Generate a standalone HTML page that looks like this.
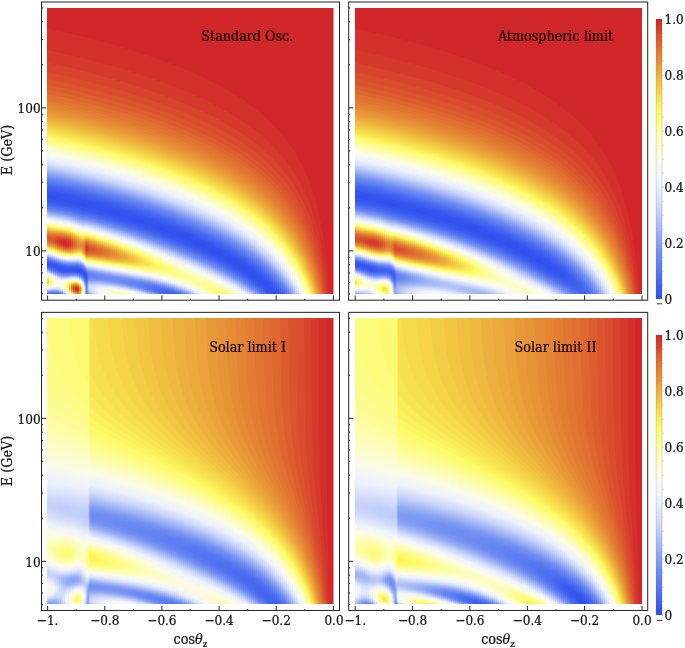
<!DOCTYPE html><html><head><meta charset="utf-8"><title>Oscillograms</title><style>
html,body{margin:0;padding:0;background:#fff}
body{width:685px;height:648px;position:relative;overflow:hidden;font-family:"DejaVu Serif Condensed","Liberation Serif",serif;color:#111}
.p{position:absolute;width:286px;height:286px;display:flex;overflow:hidden}
.p i{display:block;flex:0 0 2px;height:286px}
.p i.n{flex-basis:1px}
svg{position:absolute;left:0;top:0}
svg.b{stroke:none}
.t{position:absolute;white-space:nowrap;line-height:1;-webkit-text-stroke:.22px currentColor}
.tl{font-size:13.4px}
.ti{font-size:14.2px;color:#140404}
sub{font-size:9.5px;vertical-align:-3px;line-height:0}
.cb{position:absolute;width:6px;height:280px;left:656px}
</style></head><body><div class="p" style="left:47px;top:8px;width:287px"><i style="background:linear-gradient(#d1272a,#d4332b 40px,#d8482d 64.5px,#de652f 82.5px,#e58735 98.5px,#edb03d 111.5px,#f5d64a 120.5px,#fdfb67 129.5px,#fdfdbb 139px,#fafbea 145px,#ecf0fd 151.5px,#ccd7f9 157.5px,#6e8bf2 169.5px,#4769f0 177px,#3455ee 183.5px,#3151ee 189px,#3b5cef 194px,#5273f0 198.5px,#7592f2 202.5px,#c1cff8 207.5px,#d8e0fb 209px,#eff3fd 211px,#f9fbeb 213px,#fbfce4 213.5px,#fefdb3 215.5px,#fdfb66 218px,#f4d146 220.5px,#e99938 223.5px,#e17632 226px,#dc5c2e 229px,#db592e 231px,#de662f 233px,#e37e33 235px,#eba23a 237px,#f4d347 239px,#fcf562 240.5px,#fdfb72 241px,#fdfdb6 242.5px,#fcfcdc 243.5px,#fafbeb 244px,#f1f4f9 245px,#eaeffd 245.5px,#c9d5f9 247px,#718ef2 250px,#4d6ff0 252px,#3858ef 254px,#3050ee 256px,#3455ee 257.5px,#4162ef 259px,#5778f0 260.5px,#7995f3 262px,#cfd9fa 264.5px,#e7edfd 265.5px,#f1f4fa 266px,#fafbe9 267px,#fefdaa 268.5px,#fdfc7a 269.5px,#fdfb66 270px,#f7df50 271.5px,#f4d146 273px,#f4d247 274px,#f7e152 275.5px,#fcf461 276.5px,#fdfb6f 277px,#fcfcd4 279px,#fafbea 279.5px,#eef2fd 280.5px,#d2dcfa 281.5px,#829cf3 283.5px,#718ff2 284px,#5374f0 285.5px,#4d6ff0)"></i><i style="background:linear-gradient(#d1272a,#d4342b 40.5px,#d8482d 65px,#de652f 83px,#e58735 99px,#edb03e 112px,#f5d64a 121px,#fdfb68 130px,#fdfdbc 139.5px,#fbfce8 145px,#eef2fd 151.5px,#cbd7f9 158px,#708ef2 169.5px,#496bf0 177px,#3555ee 183.5px,#3051ee 189px,#395aef 194px,#4f71f0 198.5px,#708ef2 202.5px,#a2b6f5 206px,#d2dcfa 209px,#eff3fd 211.5px,#f9fbeb 213.5px,#fbfce3 214px,#fefdb2 216px,#fdfa65 218.5px,#f4d046 221px,#e99837 224px,#e17532 226.5px,#dc5b2e 229.5px,#db582e 231.5px,#dd602f 233px,#e37d33 235.5px,#eaa139 237.5px,#f4d146 239.5px,#fcf460 241px,#fdfb6f 241.5px,#fefdb4 243px,#fafbea 244.5px,#ecf0fd 246px,#cbd7f9 247.5px,#7390f2 250.5px,#4f71f0 252.5px,#395aef 254.5px,#3051ee 256.5px,#3454ee 258px,#4567ef 260px,#5d7df1 261.5px,#728ff2 262.5px,#d3dcfa 265.5px,#e9eefd 266.5px,#f1f4f9 267px,#fafbea 268px,#fdfc7f 271px,#fdfa65 272px,#fbf05d 273.5px,#fcf662 275px,#fdfb66 275.5px,#fdfc83 276.5px,#fbfce9 279px,#f0f4fa 280px,#d9e1fb 281px,#b5c5f7 282px,#7a96f3 283.5px,#6080f1 284.5px,#4e70f0 285.5px,#486af0)"></i><i style="background:linear-gradient(#d1272a,#d4332b 40.5px,#d8472d 65px,#dd642f 83px,#e58735 99.5px,#eeb13e 112.5px,#f5d64a 121.5px,#fdfb68 130.5px,#fdfdbc 140px,#fbfce9 145.5px,#eef2fd 152px,#cbd6f9 158.5px,#708df2 170px,#496af0 177.5px,#3555ee 184px,#3051ee 189.5px,#395aef 194.5px,#4f71f0 199px,#718ef2 203px,#a3b7f6 206.5px,#d9e1fb 210px,#eff3fc 212px,#fafbeb 214px,#fcfcd6 215px,#fefdb1 216.5px,#fdfb72 218.5px,#fdf964 219px,#f3ce45 221.5px,#e89637 224.5px,#e07231 227px,#dc5a2e 229.5px,#da532e 231.5px,#dc5c2e 233.5px,#e27932 236px,#ea9d38 238px,#f3cd45 240px,#fbf05e 241.5px,#fdfb68 242px,#fefdad 243.5px,#fbfce7 245px,#eff3fd 246.5px,#d0dafa 248px,#7794f3 251px,#5273f0 253px,#3a5bef 255px,#3151ee 257px,#3556ee 259px,#486af0 261px,#6b89f2 263px,#859ff3 264px,#d3ddfa 266.5px,#f0f4fb 268px,#fbfce5 269.5px,#fdfdba 271px,#fefc96 272.5px,#fdfc8a 273.5px,#fdfc8a 274.5px,#fefc95 275.5px,#fdfdba 277px,#fafbe9 278.5px,#f2f5f8 279.5px,#eaeffd 280px,#d2dcfa 281px,#7390f2 283.5px,#5172f0 285px,#4364ef)"></i><i style="background:linear-gradient(#d1272a,#d4332b 41px,#d8482d 65.5px,#dd642f 83.5px,#e58735 100px,#eeb13e 113px,#f5d64a 122px,#fdfb69 131px,#fdfdbc 140.5px,#fbfce9 146px,#edf2fd 152.5px,#ced9fa 158.5px,#708df2 170.5px,#496af0 178px,#3455ee 184.5px,#3050ee 190px,#3a5aef 195px,#4f71f0 199.5px,#718ef2 203.5px,#a4b8f6 207px,#d4ddfa 210px,#f0f3fc 212.5px,#fafbea 214.5px,#fefdae 217px,#fdfb6e 219px,#fcf763 219.5px,#f3cb44 222px,#e79237 225px,#e06e31 227.5px,#da542e 230px,#d94d2d 232px,#db552e 234px,#e17331 236.5px,#e89637 238.5px,#f5d348 241px,#fcf763 242.5px,#fdfc75 243px,#fdfdb9 244.5px,#fbfcdf 245.5px,#f9faec 246px,#f0f4fb 247px,#dee5fb 248px,#c6d3f9 249px,#7d98f3 251.5px,#5d7df1 253px,#4768ef 254.5px,#3555ee 256.5px,#3051ee 258.5px,#3a5bef 260.5px,#5273f0 262.5px,#7995f3 264.5px,#d2dcfa 267.5px,#eef2fd 269px,#fbfce6 271px,#fdfdc6 272.5px,#fdfdbb 273.5px,#fdfdb7 274.5px,#fdfdbc 275.5px,#fcfdca 276.5px,#fafbeb 278px,#eef2fd 279.5px,#d8e1fb 280.5px,#cad6f9 281px,#708ef2 283.5px,#4e70f0 285px,#3f60ef)"></i><i style="background:linear-gradient(#d1272a,#d4332b 41px,#d8482d 66px,#dd642f 84px,#e58735 100.5px,#eeb13e 113.5px,#f5d549 122px,#fdfb69 131.5px,#fdfdbd 141px,#fbfce9 146.5px,#edf1fd 153px,#ced9fa 159px,#6f8df2 171px,#486af0 178.5px,#3455ee 185px,#3050ee 190.5px,#3a5bef 195.5px,#5071f0 200px,#728ff2 204px,#adbff6 208px,#d5defa 210.5px,#ecf1fd 212.5px,#fbfce9 215px,#fefda9 217.5px,#fdfb69 219.5px,#f4d146 222px,#e68d36 225.5px,#dd622f 228.5px,#d94c2d 230.5px,#d7452d 232.5px,#d94c2d 234.5px,#dc5c2e 236px,#e48434 238.5px,#eeb13e 240.5px,#f3cc45 241.5px,#fbf05e 243px,#fdfb69 243.5px,#fefdb0 245px,#fbfce9 246.5px,#edf1fd 248px,#ccd7f9 249.5px,#7491f2 252.5px,#5071f0 254.5px,#395aef 256.5px,#3050ee 258.5px,#3455ee 260.5px,#4667ef 262.5px,#6685f1 264.5px,#7c97f3 265.5px,#d1dbfa 268.5px,#eaeffd 270px,#f6f8f1 271.5px,#fbfce3 273px,#fcfcd5 274.5px,#fcfcd6 275.5px,#fbfce0 276.5px,#f9faec 277.5px,#f0f4fb 279px,#e0e7fc 280px,#c8d4f9 281px,#728ff2 283.5px,#4f70f0 285px,#3f60ef)"></i><i style="background:linear-gradient(#d1272a,#d4332b 41px,#d8472d 66px,#dd632f 84px,#e58735 101px,#eeb13e 114px,#f5d549 122.5px,#fdfb66 131.5px,#fdfdbd 141.5px,#fbfce9 147px,#edf1fd 153.5px,#cdd8f9 159.5px,#6f8cf2 171.5px,#486af0 179px,#3455ee 185.5px,#3050ee 191px,#3a5bef 196px,#5072f0 200.5px,#7390f2 204.5px,#b7c6f7 209px,#d6dffa 211px,#eef2fd 213px,#fbfce6 215.5px,#fefdb3 217.5px,#fdf965 220px,#f3cc45 222.5px,#e58735 226px,#d94d2d 230px,#d63d2c 232px,#d63d2c 234px,#d8462d 235.5px,#db592e 237px,#e58634 239.5px,#eeb53f 241.5px,#f4d146 242.5px,#fcf662 244px,#fdfc75 244.5px,#fdfdba 246px,#fbfce1 247px,#f8faed 247.5px,#eff3fc 248.5px,#d2dcfa 250px,#7995f3 253px,#5274f0 255px,#3a5bef 257px,#2f50ee 259px,#3252ee 261px,#4263ef 263px,#5778f0 264.5px,#7390f2 266px,#d1dbfa 269.5px,#eff3fc 271.5px,#f9fbeb 274px,#fbfce9 276px,#f5f8f2 278px,#f0f4fb 279px,#d9e1fb 280.5px,#ced9fa 281px,#6d8bf2 284px,#4b6df0 285.5px,#4364ef)"></i><i style="background:linear-gradient(#d1272a,#d4332b 41.5px,#d8472d 66.5px,#dd632f 84.5px,#e58735 101.5px,#eeb13e 114.5px,#f5d549 123px,#fdfb66 132px,#fdfdbe 142px,#fafbe9 147.5px,#ecf1fd 154px,#cdd8f9 160px,#6e8cf2 172px,#4869f0 179.5px,#3455ee 186px,#3050ee 191.5px,#3a5bef 196.5px,#5173f0 201px,#7491f2 205px,#b9c8f8 209.5px,#d8e0fb 211.5px,#eff3fd 213.5px,#fafbeb 215.5px,#fcfcd5 216.5px,#fefdaf 218px,#fdfb6d 220px,#faec5b 221px,#f4d146 222.5px,#e68a35 226px,#d84a2d 230px,#d4372b 232px,#d3322b 234px,#d5382c 235.5px,#d8482d 237px,#e17431 239.5px,#eaa039 241.5px,#f3ca44 243px,#f8e454 244px,#fdfb6a 245px,#fefdb3 246.5px,#fcfcda 247.5px,#fafbeb 248px,#f1f4f9 249px,#eaeffd 249.5px,#d5defa 250.5px,#708df2 254px,#4c6ef0 256px,#3757ef 258px,#2e4eee 260px,#3354ee 262px,#4567ef 264px,#6584f1 266px,#88a1f4 267.5px,#cbd7f9 270px,#e5ebfc 271.5px,#f0f4fb 272.5px,#f9fbec 275px,#f9fbeb 277px,#f2f6f7 279px,#eaeffd 280px,#cfdafa 281.5px,#708df2 284.5px,#4e70f0)"></i><i style="background:linear-gradient(#d1272a,#d4332b 41.5px,#d8472d 66.5px,#dd622f 84.5px,#e58635 101.5px,#edb03d 114.5px,#f5d549 123.5px,#fdfb66 132.5px,#fdfdbe 142.5px,#fafbea 148px,#ecf1fd 154.5px,#ccd7f9 160.5px,#6e8cf2 172.5px,#4769f0 180px,#3454ee 186.5px,#3051ee 192px,#3b5cef 197px,#5273f0 201.5px,#7592f2 205.5px,#c3d0f9 210.5px,#d9e1fb 212px,#f0f4fb 214px,#fbfce9 216px,#fefda9 218.5px,#fdfb66 220.5px,#f3cc45 223px,#e48434 226.5px,#d7422c 230.5px,#d32e2b 232.5px,#d2292a 234.5px,#d3302b 236px,#d6402c 237.5px,#db592e 239px,#e68e36 241.5px,#f4d347 244px,#fdfa65 245.5px,#fefdad 247px,#fbfce9 248.5px,#ecf0fd 250px,#cad5f9 251.5px,#718ef2 254.5px,#4d6ff0 256.5px,#3758ef 258.5px,#2e4eee 260.5px,#3353ee 262.5px,#4567ef 264.5px,#6584f1 266.5px,#7b96f3 267.5px,#ced8fa 270.5px,#eff3fd 272.5px,#fafbea 275px,#fbfce2 276.5px,#fbfce8 278px,#f0f4fb 280.5px,#e2e9fc 281.5px,#cfd9fa 282.5px,#6f8cf2 285.5px,#6382f1)"></i><i style="background:linear-gradient(#d1262a,#d4332b 42px,#d8472d 67px,#dd632f 85px,#e58635 102px,#edb03d 115px,#f5d549 124px,#fdfb67 133px,#fdfdbb 142.5px,#fafbea 148.5px,#ecf0fd 155px,#ccd7f9 161px,#6d8bf2 173px,#4769ef 180.5px,#3454ee 187px,#3051ee 192.5px,#3b5cef 197.5px,#5274f0 202px,#7793f3 206px,#c5d2f9 211px,#e0e7fc 213px,#edf1fd 214px,#fbfce7 216.5px,#fefdb4 218.5px,#fdfb72 220.5px,#fdf864 221px,#f4d348 223px,#e58935 226.5px,#d7432c 230.5px,#d22c2b 232.5px,#d1242a 234.5px,#d1272a 236px,#d4342b 237.5px,#d84b2d 239px,#e68b35 242px,#f1c242 244px,#f4d146 244.5px,#fdf864 246px,#fefc93 247px,#fefdac 247.5px,#fbfce9 249px,#ecf0fd 250.5px,#cad5f9 252px,#7d99f3 254.5px,#6685f1 255.5px,#4667ef 257.5px,#3354ee 259.5px,#2e4fee 261.5px,#3858ef 263.5px,#4e70f0 265.5px,#7491f2 267.5px,#cbd6f9 270.5px,#e8eefd 272px,#eff3fc 272.5px,#fbfce7 274.5px,#fcfcce 276px,#fdfdc6 277.5px,#fcfcca 278.5px,#fcfcd7 279.5px,#fafbea 280.5px,#f1f4fa 282px,#eaeffd 282.5px,#d6dffa 283.5px,#b9c8f8 284.5px,#859ff3)"></i><i style="background:linear-gradient(#d1262a,#d4322b 42px,#d8462d 67px,#dd622f 85px,#e58735 102.5px,#edb03e 115.5px,#f5d64a 124.5px,#fdfb67 133.5px,#fdfdbb 143px,#fbfce8 148.5px,#eef2fd 155px,#cbd7f9 161.5px,#708ef2 173px,#496af0 180.5px,#3555ee 187px,#3050ee 192.5px,#3a5aef 197.5px,#4f71f0 202px,#728ff2 206px,#aebff7 210px,#d6dffa 212.5px,#eef2fd 214.5px,#f9faec 216.5px,#fbfce5 217px,#fefdb1 219px,#fdfb6e 221px,#fcf662 221.5px,#f4d146 223.5px,#e58735 227px,#d7412c 231px,#d22b2b 233px,#d1232a 235px,#d1272a 236.5px,#d4352b 238px,#d94c2d 239.5px,#e68d36 242.5px,#f5d448 245px,#fdfb66 246.5px,#fefdb1 248px,#fafbea 249.5px,#f1f4fa 250.5px,#e9eefd 251px,#d4defa 252px,#7a96f3 255px,#5b7bf1 256.5px,#4466ef 258px,#3354ee 260px,#3050ee 262px,#3b5cef 264px,#5677f0 266px,#7390f2 267.5px,#cfdafa 270.5px,#eef2fd 272px,#fafbea 273.5px,#fdfdb7 275.5px,#fefd9b 277px,#fefc93 278px,#fefc97 279px,#fefda6 280px,#fdfdc9 281.5px,#fbfce8 282.5px,#eef2fd 284px,#d8e0fb 285px,#b8c7f7)"></i><i style="background:linear-gradient(#d1262a,#d4322b 42px,#d8462d 67.5px,#dd622f 85.5px,#e58735 103px,#edb03e 116px,#f5d64a 125px,#fdfb68 134px,#fdfdbc 143.5px,#fbfce9 149px,#eef2fd 155.5px,#cbd6f9 162px,#708df2 173.5px,#496af0 181px,#3455ee 187.5px,#3050ee 193px,#3a5bef 198px,#5072f0 202.5px,#7290f2 206.5px,#aec0f7 210.5px,#d6dffa 213px,#eef3fd 215px,#f9fbeb 217px,#fbfce4 217.5px,#fefdb1 219.5px,#fdfb6e 221.5px,#fcf662 222px,#f4d146 224px,#e58835 227.5px,#d7442d 231.5px,#d32f2b 233.5px,#d2282a 235.5px,#d32d2b 237px,#d53c2c 238.5px,#da542e 240px,#e58935 242.5px,#f0be41 244.5px,#f3cd45 245px,#fcf561 246.5px,#fdfb73 247px,#fdfdbb 248.5px,#fbfce4 249.5px,#f3f6f6 250.5px,#eff3fd 251px,#ced9fa 252.5px,#7390f2 255.5px,#4e70f0 257.5px,#395aef 259.5px,#3151ee 261.5px,#3555ee 263px,#4769f0 265px,#6080f1 266.5px,#7693f2 267.5px,#d6dffa 270.5px,#ecf1fd 271.5px,#fbfce7 273px,#fdfc78 276px,#fdfb69 276.5px,#fbf15e 277.5px,#faeb5a 279px,#fcf461 280.5px,#fdfb66 281px,#fdfc84 282px,#fafbe9 284.5px,#f0f4fa 285.5px,#e6ecfc)"></i><i style="background:linear-gradient(#d1262a,#d4322b 42.5px,#d8462d 68px,#dd622f 86px,#e58735 103.5px,#eeb13e 116.5px,#f5d64a 125.5px,#fdfb68 134.5px,#fdfdbc 144px,#fbfce9 149.5px,#edf2fd 156px,#cbd6f9 162.5px,#708df2 174px,#496af0 181.5px,#3555ee 188px,#3051ee 193.5px,#3a5bef 198.5px,#5072f0 203px,#7390f2 207px,#b6c6f7 211.5px,#d6dffa 213.5px,#eef2fd 215.5px,#f9faec 217.5px,#fbfce5 218px,#fefdb2 220px,#fdfb71 222px,#fdf864 222.5px,#f5d448 224.5px,#e68c36 228px,#d94c2d 232px,#d5392c 234px,#d4342b 236px,#d53a2c 237.5px,#d84a2d 239px,#e17632 241.5px,#eba33a 243.5px,#f3cd45 245px,#fbf360 246.5px,#fdfb70 247px,#fdfdb8 248.5px,#fbfcdf 249.5px,#f9faed 250px,#f0f3fc 251px,#d2dbfa 252.5px,#7793f3 255.5px,#5173f0 257.5px,#3a5bef 259.5px,#3253ee 261.5px,#3657ef 263px,#4364ef 264.5px,#597af1 266px,#6e8cf2 267px,#8ca4f4 268px,#d2dcfa 270px,#eaeffd 271px,#f7f9ef 272px,#fbfce4 272.5px,#fdfdb7 273.5px,#fdfb6b 275px,#f8e555 276px,#f4d146 277px,#f1c042 278px,#efb73f 279px,#efb73f 280px,#f1c142 281px,#f4d348 282px,#fcf662 283.5px,#fdfc76 284px,#fefdb0 285px,#fbfce1)"></i><i style="background:linear-gradient(#d1262a,#d4322b 42.5px,#d7462d 68px,#dd622f 86.5px,#e58735 104px,#eeb13e 117px,#f5d64a 126px,#fdfb68 135px,#fdfdbc 144.5px,#fbfce9 150px,#edf2fd 156.5px,#ced9fa 162.5px,#708df2 174.5px,#496af0 182px,#3555ee 188.5px,#3051ee 194px,#3a5bef 199px,#5072f0 203.5px,#728ff2 207.5px,#adbff6 211.5px,#d5defa 214px,#edf1fd 216px,#fbfce8 218.5px,#fefda8 221px,#fdfb67 223px,#f4d046 225.5px,#e68c36 229px,#dd612f 232px,#d94c2d 234px,#d7452d 236px,#d84a2d 237.5px,#db582e 239px,#e37f33 241.5px,#ecaa3c 243.5px,#f4d247 245px,#fcf662 246.5px,#fdfc74 247px,#fdfdba 248.5px,#fbfce1 249.5px,#f8faed 250px,#f0f3fc 251px,#d2dcfa 252.5px,#7894f3 255.5px,#5173f0 257.5px,#3b5cef 259.5px,#3253ee 261.5px,#3657ef 263px,#4465ef 264.5px,#5b7bf1 266px,#718ef2 267px,#b5c5f7 269px,#d8e0fb 270px,#f0f4fb 271px,#fbfce8 272px,#fdfdb6 273px,#fdfc79 274px,#fcf561 274.5px,#f5d549 275.5px,#eba63b 277px,#e78f36 278px,#e38034 279px,#e27b33 280px,#e38033 281px,#e68e36 282px,#eca63b 283px,#f2c744 284px,#f6d94c 284.5px,#fdfb66 285.5px,#fdfc87)"></i><i style="background:linear-gradient(#d1262a,#d4322b 43px,#d7462d 68.5px,#dd622f 87px,#e58735 104.5px,#eeb13e 117.5px,#f5d64a 126.5px,#fdfb68 135.5px,#fdfdbc 145px,#fbfce9 150.5px,#edf2fd 157px,#cbd6f9 163.5px,#708df2 175px,#496af0 182.5px,#3555ee 189px,#3051ee 194.5px,#3a5bef 199.5px,#4f71f0 204px,#718ff2 208px,#abbdf6 212px,#d3ddfa 214.5px,#eff3fc 217px,#fafbea 219px,#fcfcd5 220px,#fefdb1 221.5px,#fdf965 224px,#f4cf46 226.5px,#e99838 229.5px,#e17632 232px,#dd612f 234.5px,#dc5c2e 236.5px,#de672f 238.5px,#e37c33 240.5px,#ea9f39 242.5px,#f3ce45 244.5px,#fdfb69 246.5px,#fefdad 248px,#fbfce6 249.5px,#eff3fd 251px,#d0dafa 252.5px,#7693f2 255.5px,#5172f0 257.5px,#3a5bef 259.5px,#3252ee 261.5px,#3656ee 263px,#4364ef 264.5px,#5b7bf1 266px,#718ff2 267px,#b8c7f7 269px,#cbd7f9 269.5px,#e8edfd 270.5px,#f2f5f8 271px,#f7f9ee 271.5px,#fcfcde 272px,#fefda5 273px,#fdf864 274px,#f5d448 275px,#e99838 276.5px,#df6b30 278px,#da532e 279px,#d8462d 280px,#d8462d 281px,#da532e 282px,#e27932 283.5px,#e99b38 284.5px,#f2c443 285.5px,#f6d94c)"></i><i style="background:linear-gradient(#d1262a,#d3322b 43px,#d7452d 68.5px,#dd612f 87px,#e58735 105px,#eeb13e 118px,#f5d64a 127px,#fdfb68 136px,#fdfdbc 145.5px,#fbfce9 151px,#eef2fd 157.5px,#cbd6f9 164px,#708ef2 175.5px,#496bf0 183px,#3556ee 189.5px,#3051ee 195px,#395aef 200px,#4f71f0 204.5px,#708df2 208.5px,#99aff5 211.5px,#d6dffa 215.5px,#eef2fd 217.5px,#fbfce9 220px,#fefdad 222.5px,#fdfb70 224.5px,#fdf964 225px,#f4d146 227.5px,#ea9f39 230.5px,#e48234 233px,#e17331 235.5px,#e17431 237.5px,#e48134 239.5px,#e99b38 241.5px,#f1c142 243.5px,#f5d84b 244.5px,#fcf863 246px,#fdfc75 246.5px,#fefdb5 248px,#fafbea 249.5px,#ecf1fd 251px,#cdd8f9 252.5px,#7592f2 255.5px,#5072f0 257.5px,#395aef 259.5px,#3050ee 261.5px,#3354ee 263px,#4061ef 264.5px,#5778f0 266px,#6d8bf2 267px,#8da5f4 268px,#d7e0fb 270px,#f0f4fa 271px,#f6f9f0 271.5px,#fbfce1 272px,#fefda8 273px,#fdf864 274px,#f4d247 275px,#e79136 276.5px,#d94c2d 278.5px,#d4342b 279.5px,#d2282a 280.5px,#d2282a 281.5px,#d4362b 282.5px,#d9502d 283.5px,#e99837 285.5px,#edad3d)"></i><i style="background:linear-gradient(#d1262a,#d3322b 43.5px,#d7452d 69px,#dd612f 87.5px,#e58735 105.5px,#eeb13e 118.5px,#f5d64a 127.5px,#fdfb68 136.5px,#fdfdbc 146px,#fbfce8 151.5px,#eef2fd 158px,#cbd7f9 164.5px,#6e8bf2 176.5px,#4769f0 184px,#3455ee 190.5px,#3151ee 196px,#3b5cef 201px,#5173f0 205.5px,#7390f2 209.5px,#b4c5f7 214px,#d4ddfa 216px,#eff3fc 218.5px,#fbfce5 221px,#fefdaa 223.5px,#fdfb70 225.5px,#fdf964 226px,#f3cc45 229px,#eaa039 232px,#e68a35 234.5px,#e48434 236.5px,#e58835 238.5px,#e99938 240.5px,#efb73f 242.5px,#f5d549 244px,#fdfb68 246px,#fdfdb8 248px,#fafbea 249.5px,#edf1fd 251px,#cfd9fa 252.5px,#7894f3 255.5px,#5173f0 257.5px,#395aef 259.5px,#2f4fee 261.5px,#3051ee 263px,#3b5cef 264.5px,#4f71f0 266px,#708df2 267.5px,#a3b7f6 269px,#cad5f9 270px,#e7edfc 271px,#f1f5f9 271.5px,#f7f9ef 272px,#fbfcdf 272.5px,#fefda7 273.5px,#fdf964 274.5px,#f5d448 275.5px,#e89637 277px,#de662f 278.5px,#d84b2d 279.5px,#d53a2c 280.5px,#d4362b 281.5px,#d63e2c 282.5px,#da512e 283.5px,#e68e36 285.5px,#eaa139)"></i><i style="background:linear-gradient(#d1262a,#d3312b 43.5px,#d7452d 69.5px,#dd612f 88px,#e58735 106px,#edb03e 119px,#f5d64a 128px,#fdfb68 137px,#fdfdbb 146.5px,#fbfce8 152px,#eef2fd 158.5px,#ccd7f9 165px,#6e8cf2 177px,#4869f0 184.5px,#3455ee 191px,#3051ee 196.5px,#3a5bef 201.5px,#5072f0 206px,#718ef2 210px,#aabcf6 214px,#d1dbfa 216.5px,#edf2fd 219px,#fafbe9 221.5px,#fefdb3 224px,#fdfb6c 226.5px,#fbf05d 227.5px,#f3cc45 230px,#ecaa3c 232.5px,#e89437 235px,#e68e36 237px,#e79337 239px,#eba43a 241px,#f1c142 243px,#f5d448 244px,#fdf864 246px,#fdfc87 247px,#fefdb0 248px,#fbfce2 249.5px,#f5f7f3 250.5px,#eaeffd 251.5px,#cbd7f9 253px,#7693f2 256px,#5173f0 258px,#395aef 260px,#2e4fee 262px,#3252ee 264px,#3f60ef 265.5px,#5576f0 267px,#7693f2 268.5px,#ced9fa 271px,#e9eefd 272px,#f1f5f9 272.5px,#fbfce2 273.5px,#fefdb1 274.5px,#fdfc75 275.5px,#fbf360 276px,#f5d549 277px,#eca73b 278.5px,#e58935 280px,#e37e33 281px,#e37c33 282px,#e48334 283px,#e99b38 284.5px,#f1c242)"></i><i class="n" style="background:linear-gradient(#d1262a,#d3322b 44px,#d7452d 69.5px,#dd602f 88px,#e58634 106px,#edaf3d 119px,#f5d449 128px,#fdfb69 137.5px,#fdfdbc 147px,#fbfce9 152.5px,#edf2fd 159px,#cbd6f9 165.5px,#708ef2 177px,#496bf0 184.5px,#3555ee 191px,#3050ee 196.5px,#3959ef 201.5px,#4d6ff0 206px,#728ff2 210.5px,#b2c3f7 215px,#d7e0fb 217.5px,#eef2fd 219.5px,#fbfce9 222px,#fefdb2 224.5px,#fdfb6b 227px,#fbef5d 228px,#f3cb45 230.5px,#eca93c 233px,#e89437 235.5px,#e68d36 237.5px,#e79237 239.5px,#eba33a 241.5px,#f1c042 243.5px,#f4d247 244.5px,#fcf763 246.5px,#fdfb71 247px,#fefdac 248.5px,#fbfcdf 250px,#f9fbeb 250.5px,#ecf1fd 252px,#cfdafa 253.5px,#7b97f3 256.5px,#5d7df1 258px,#4162ef 260px,#3252ee 262px,#3050ee 264px,#3c5def 266px,#4f71f0 267.5px,#6c8af2 269px,#87a0f4 270px,#c9d5f9 272px,#eef2fd 273.5px,#f8faee 274.5px,#fbfce2 275px,#fefda4 276.5px,#fdfc78 277.5px,#fdfa65 278px,#f7df51 279.5px,#f4d046 281px,#f3ce45 282.5px,#f6d94c 284px,#fcf662)"></i><i class="n" style="background:linear-gradient(#d1262a,#d3312b 44px,#d7452d 70px,#dd612f 88.5px,#e58635 106.5px,#edb03d 119.5px,#f5d549 128.5px,#fdfb66 137.5px,#fdfdbe 147.5px,#fafbe9 153px,#ecf1fd 159.5px,#cdd8f9 165.5px,#6f8cf2 177.5px,#486af0 185px,#3455ee 191.5px,#3050ee 197px,#395aef 202px,#4e70f0 206.5px,#7491f2 211px,#beccf8 216px,#d5defa 217.5px,#f0f3fc 220px,#fafbeb 222px,#fbfce4 222.5px,#fefda9 225px,#fdfb6f 227px,#fdf964 227.5px,#f3cd45 230.5px,#eba33a 233.5px,#e68d36 236px,#e58735 238px,#e68c36 240px,#ea9d39 242px,#f0bb40 244px,#f5d74a 245.5px,#fbf360 247px,#fdfb6a 247.5px,#fdfdb8 249.5px,#fafbe9 251px,#eff3fd 252.5px,#d3dcfa 254px,#7390f2 257.5px,#5072f0 259.5px,#3a5bef 261.5px,#3151ee 263.5px,#3455ee 265.5px,#4566ef 267.5px,#5b7bf1 269px,#7a96f3 270.5px,#d3ddfa 273.5px,#eff3fc 275px,#fbfce9 276.5px,#fdfdbd 278px,#fefc8c 280px,#fdfc7e 281px,#fdfc78 282px,#fdfc7b 283px,#fefc8f 284.5px,#fefdaf)"></i><i class="n" style="background:linear-gradient(#d1262a,#d3312b 44px,#d7452d 70px,#dd602f 88.5px,#e58634 106.5px,#edaf3d 119.5px,#f5d449 128.5px,#fdfb69 138px,#fdfdbc 147.5px,#fbfce9 153px,#edf2fd 159.5px,#cbd6f9 166px,#708df2 177.5px,#496bf0 185px,#3555ee 191.5px,#3050ee 197px,#3859ef 202px,#4d6ff0 206.5px,#728ff2 211px,#b3c4f7 215.5px,#d8e1fb 218px,#eff3fd 220px,#fbfce6 222.5px,#fefdab 225px,#fdfb70 227px,#fdf964 227.5px,#f4d347 230px,#eba43a 233px,#e58935 235.5px,#e37c33 238px,#e37e33 240px,#e68c36 242px,#eba63b 244px,#f3cc45 246px,#fcf461 248px,#fdfb6d 248.5px,#fdfdbc 250.5px,#fbfcdf 251.5px,#f9fbeb 252px,#ecf0fd 253.5px,#cfd9fa 255px,#7c97f3 258px,#5e7ef1 259.5px,#4365ef 261.5px,#3455ee 263.5px,#3252ee 265.5px,#3b5cef 267.5px,#5173f0 269.5px,#7390f2 271.5px,#cdd8f9 275px,#ecf1fd 277px,#fbfce9 280px,#fbfcde 281.5px,#fbfcdf 283px,#f7f9f0)"></i><i class="n" style="background:linear-gradient(#d1262a,#d3312b 44.5px,#d7452d 70.5px,#dd612f 89px,#e58635 107px,#edb03d 120px,#f5d549 129px,#fdfb67 138px,#fdfdbb 147.5px,#fafbea 153.5px,#ecf1fd 160px,#cdd8f9 166px,#6e8cf2 178px,#4869f0 185.5px,#3455ee 192px,#3050ee 197.5px,#395aef 202.5px,#4f71f0 207px,#708ef2 211px,#a2b6f5 214.5px,#d2dcfa 217.5px,#eef3fd 220px,#fbfce7 222.5px,#fefdaa 225px,#fdfb6d 227px,#fcf763 227.5px,#f4cf45 230px,#e99c38 233px,#e37d33 235.5px,#df6c30 238px,#df6b30 240px,#e17632 242px,#e68c36 244px,#edaf3d 246px,#f4d146 247.5px,#fdfb66 249.5px,#fdfdb9 251.5px,#fcfcdc 252.5px,#fafbeb 253px,#ecf1fd 254.5px,#cfdafa 256px,#7d98f3 259px,#5f7ff1 260.5px,#4466ef 262.5px,#3556ee 264.5px,#3152ee 266.5px,#395aef 268.5px,#5072f0 271px,#7693f2 273.5px,#b2c3f7 276.5px,#d1dbfa 278.5px,#dfe6fb 281px,#dee6fb 283.5px,#d4ddfa)"></i><i class="n" style="background:linear-gradient(#d1262a,#d3312b 44.5px,#d7452d 70.5px,#dd602f 89px,#e58634 107px,#edaf3d 120px,#f5d549 129px,#fdfb69 138.5px,#fdfdbd 148px,#fbfce9 153.5px,#edf2fd 160px,#ced9fa 166px,#708df2 178px,#486af0 185.5px,#3455ee 192px,#3050ee 197.5px,#395aef 202.5px,#4e70f0 207px,#7591f2 211.5px,#c0cef8 216.5px,#d7e0fb 218px,#eef2fd 220px,#fbfce6 222.5px,#fefda7 225px,#fdfb68 227px,#f4d246 229.5px,#e79036 233px,#e06e31 235.5px,#db562e 238px,#d94f2d 240px,#db582e 242px,#e17432 244.5px,#e89737 246.5px,#f4d247 249px,#fcf460 250.5px,#fdfb6e 251px,#fefdb1 252.5px,#fbfce7 254px,#eff3fd 255.5px,#d3dcfa 257px,#7491f2 260.5px,#4c6df0 263px,#395aef 265px,#3151ee 267px,#3455ee 269.5px,#4a6cf0 272.5px,#8ea6f4 278.5px,#9bb0f5 280.5px,#9cb1f5 282.5px,#8ba3f4)"></i><i class="n" style="background:linear-gradient(#d1262a,#d3312b 44.5px,#d7442d 70.5px,#dd602f 89px,#e58735 107.5px,#edb03d 120.5px,#f5d649 129.5px,#fdfb67 138.5px,#fdfdbb 148px,#fafbea 154px,#ecf0fd 160.5px,#ccd7f9 166.5px,#6e8cf2 178.5px,#4769f0 186px,#3454ee 192.5px,#3050ee 198px,#3a5bef 203px,#5172f0 207.5px,#7390f2 211.5px,#b7c7f7 216px,#d6dffa 218px,#eef2fd 220px,#fbfce5 222.5px,#fefdb3 224.5px,#fdf965 227px,#f3cc45 229.5px,#e58635 233px,#d84a2d 237px,#d5392c 239px,#d4352b 241px,#d6412c 243px,#dc5c2e 245px,#e68b35 247.5px,#f2c944 250px,#f8e253 251px,#fdfa65 252px,#fefdaa 253.5px,#fbfce2 255px,#f4f7f4 256px,#f0f4fb 256.5px,#d5defa 258px,#7894f3 261.5px,#5677f0 263.5px,#4162ef 265.5px,#3455ee 268px,#3656ef 270.5px,#496af0 274px,#6483f1 278px,#6b89f2 280.5px,#6483f1 283.5px,#5677f0)"></i><i class="n" style="background:linear-gradient(#d1262a,#d3312b 44.5px,#d7442d 70.5px,#dc5f2f 89px,#e58634 107.5px,#edaf3d 120.5px,#f5d549 129.5px,#fdfb69 139px,#fdfdbd 148.5px,#fbfce9 154px,#edf1fd 160.5px,#ced9fa 166.5px,#6f8df2 178.5px,#486af0 186px,#3455ee 192.5px,#3051ee 198px,#3a5bef 203px,#4f71f0 207.5px,#718ff2 211.5px,#acbef6 215.5px,#d4ddfa 218px,#ecf0fd 220px,#f8faee 222px,#fbfce9 222.5px,#fefdab 225px,#fdfb6a 227px,#f4d046 229.5px,#e68a35 233px,#d94c2d 237px,#d5392c 239px,#d4342b 241px,#d63d2c 243px,#db562e 245px,#e68e36 248px,#f3cd45 250.5px,#fbf15e 252px,#fdfb6a 252.5px,#fefdae 254px,#fbfce4 255.5px,#f0f4fb 257px,#d7dffa 258.5px,#7794f3 262.5px,#5c7cf1 264.5px,#4c6ef0 266.5px,#4869f0 269px,#5072f0 271.5px,#859ff3 278.5px,#87a1f4 280.5px,#7c98f3 282.5px,#5879f1)"></i><i class="n" style="background:linear-gradient(#d1262a,#d3312b 45px,#d7442d 71px,#dd602f 89.5px,#e58735 108px,#edb03d 121px,#f5d649 130px,#fdfb67 139px,#fdfdbb 148.5px,#fafbea 154.5px,#ecf1fd 161px,#ccd7f9 167px,#6e8cf2 179px,#4869f0 186.5px,#3455ee 193px,#3051ee 198.5px,#3b5bef 203.5px,#5173f0 208px,#7390f2 212px,#b7c6f7 216.5px,#d6dffa 218.5px,#edf2fd 220.5px,#fbfce8 223px,#fefda9 225.5px,#fdfb69 227.5px,#f4d146 230px,#e68e36 233.5px,#dd632f 236.5px,#d94d2d 238.5px,#d7442d 240.5px,#d8492d 242.5px,#dc5d2e 244.5px,#e48434 247px,#f0bb40 249.5px,#f5d448 250.5px,#fcf662 252px,#fdfb72 252.5px,#fefdb3 254px,#fbfce6 255.5px,#f0f4fb 257px,#d8e1fb 258.5px,#c3d0f8 259.5px,#829cf3 262.5px,#6d8bf2 264px,#5e7ef1 266px,#5b7bf1 268px,#6685f1 270.5px,#7995f3 272.5px,#aec0f7 276.5px,#beccf8 278.5px,#c1cff8 280.5px,#b9c8f8 282px,#a7baf6 283.5px,#819cf3 285.5px,#7693f2)"></i><i class="n" style="background:linear-gradient(#d1262a,#d3312b 45px,#d7442d 71px,#dc5f2f 89.5px,#e58634 108px,#edaf3d 121px,#f5d549 130px,#fdfb69 139.5px,#fdfdbd 149px,#fbfce9 154.5px,#edf2fd 161px,#ced9fa 167px,#708df2 179px,#496af0 186.5px,#3555ee 193px,#3051ee 198.5px,#3a5bef 203.5px,#4f71f0 208px,#718ef2 212px,#a2b6f5 215.5px,#d8e1fb 219px,#eff3fd 221px,#f9fbeb 223px,#fbfce3 223.5px,#fefdb3 225.5px,#fdfa65 228px,#f4cf46 230.5px,#e68e36 234px,#df6b30 236.5px,#da522e 239px,#d84b2d 241px,#da522e 243px,#e06f31 245.5px,#e79036 247.5px,#f2c844 250px,#f7df51 251px,#fcf562 252px,#fdfb71 252.5px,#fefdb1 254px,#fbfce4 255.5px,#f1f4fa 257px,#ebf0fd 257.5px,#d2dcfa 259px,#8fa7f4 262px,#7692f2 263.5px,#6584f1 265.5px,#5f7ff1 267.5px,#6887f2 270px,#7c97f3 272px,#bccbf8 276.5px,#cfdafa 278.5px,#d3ddfa 280.5px,#cdd8f9 282px,#bccaf8 283.5px,#a1b5f5 285px,#8aa3f4)"></i><i class="n" style="background:linear-gradient(#d1262a,#d3312b 45px,#d7442d 71px,#dc5f2f 89.5px,#e58534 108px,#edae3d 121px,#f5d549 130.5px,#fdfb67 139.5px,#fdfdbb 149px,#fafbea 155px,#ecf1fd 161.5px,#ccd7f9 167.5px,#6e8cf2 179.5px,#4869f0 187px,#3455ee 193.5px,#3051ee 199px,#3a5bef 204px,#5172f0 208.5px,#7390f2 212.5px,#b6c6f7 217px,#d5defa 219px,#ecf1fd 221px,#fbfce9 223.5px,#fefdac 226px,#fdfb6d 228px,#fcf662 228.5px,#f3cb44 231px,#e89337 234px,#e06f31 236.5px,#db552e 239px,#d94d2d 241px,#da532e 243px,#de672f 245px,#e48434 247px,#edac3c 249px,#f4d146 250.5px,#fdfb69 252.5px,#fefda9 254px,#fcfcde 255.5px,#fafbeb 256px,#eef2fd 257.5px,#cbd6f9 259.5px,#8aa3f4 262.5px,#7390f2 264px,#6483f1 266px,#6080f1 268px,#6c8af2 270.5px,#7c97f3 272px,#c4d1f9 277px,#d2dcfa 278.5px,#d7e0fb 280.5px,#d1dbfa 282.5px,#bdccf8 284px,#a1b5f5 285.5px,#95acf5)"></i><i class="n" style="background:linear-gradient(#d1262a,#d3312b 45px,#d7442c 71px,#dc5e2f 89.5px,#e58634 108.5px,#edaf3d 121.5px,#f5d549 130.5px,#fdfb69 140px,#fdfdbd 149.5px,#fbfce9 155px,#edf2fd 161.5px,#ced9fa 167.5px,#708df2 179.5px,#496af0 187px,#3555ee 193.5px,#3051ee 199px,#3a5aef 204px,#4f71f0 208.5px,#708ef2 212.5px,#a2b6f5 216px,#d2dcfa 219px,#eff3fd 221.5px,#fbfce5 224px,#fefda5 226.5px,#fdfb67 228.5px,#f4d146 231px,#e79036 234.5px,#e06e31 237px,#db562e 239.5px,#d94f2d 241.5px,#db572e 243.5px,#e17331 246px,#e89437 248px,#f3cc45 250.5px,#fdf964 252.5px,#fefdb5 254.5px,#fbfce8 256px,#f0f4fb 257.5px,#d0dafa 259.5px,#8ea6f4 262.5px,#7692f2 264px,#6584f1 266px,#6181f1 268px,#6c8af2 270.5px,#7b97f3 272px,#c6d2f9 277px,#d4defa 278.5px,#dbe3fb 280.5px,#d6dffa 282.5px,#c7d3f9 284px,#a0b5f5)"></i><i class="n" style="background:linear-gradient(#d1262a,#d3312b 45.5px,#d7442d 71.5px,#dc5f2f 90px,#e58534 108.5px,#edae3d 121.5px,#f5d549 131px,#fdfb67 140px,#fdfdbb 149.5px,#fafbea 155.5px,#ecf1fd 162px,#ccd7f9 168px,#6e8cf2 180px,#4869f0 187.5px,#3455ee 194px,#3051ee 199.5px,#3a5bef 204.5px,#5172f0 209px,#7390f2 213px,#b5c5f7 217.5px,#d4defa 219.5px,#ecf0fd 221.5px,#fafbea 224px,#fefdae 226.5px,#fdfb70 228.5px,#fcf863 229px,#f3cd45 231.5px,#e89637 234.5px,#e17231 237px,#db562e 240px,#da522e 242px,#dc5c2e 244px,#e27932 246.5px,#e99b38 248.5px,#f5d449 251px,#fcf561 252.5px,#fdfb6f 253px,#fefdaf 254.5px,#fbfce2 256px,#f9faec 256.5px,#ecf1fd 258px,#c8d4f9 260px,#89a2f4 263px,#7290f2 264.5px,#6584f1 266.5px,#6382f1 268.5px,#708df2 271px,#89a2f4 273px,#ced9fa 277.5px,#dce4fb 279.5px,#dee6fb 281.5px,#d5defa 283.5px,#c8d4f9 284.5px,#abbdf6)"></i><i style="background:linear-gradient(#d1262a,#d3312b 45.5px,#d7442d 72px,#dc5f2f 90.5px,#e58534 109px,#edae3d 122px,#f5d64a 131.5px,#fdfb68 140.5px,#fdfdbb 150px,#fbfce8 155.5px,#eef2fd 162px,#ccd7f9 168.5px,#6e8bf2 180.5px,#4769f0 188px,#3455ee 194.5px,#3151ee 200px,#3b5cef 205px,#5173f0 209.5px,#7491f2 213.5px,#bfcdf8 218.5px,#d5dffa 220px,#edf1fd 222px,#fbfce9 224.5px,#fefdac 227px,#fdfb6e 229px,#fcf763 229.5px,#f3cc45 232px,#e89637 235px,#e17331 237.5px,#db592e 240.5px,#db562e 242.5px,#dd612f 244.5px,#e37e33 247px,#eaa13a 249px,#f4cf46 251px,#fdfb65 253px,#fdfdb7 255px,#fbfce9 256.5px,#f0f4fb 258px,#d0dafa 260px,#8fa7f4 263px,#7793f2 264.5px,#6786f1 266.5px,#6483f1 268.5px,#6c8af2 270.5px,#7a96f3 272px,#d1dbfa 277.5px,#e2e8fc 280px,#e4eafc 282px,#d9e2fb 284px,#ced9fa 285px,#bbc9f8)"></i><i style="background:linear-gradient(#d1262a,#d3312b 45.5px,#d7432c 72px,#dc5f2f 91px,#e58534 109.5px,#edae3d 122.5px,#f5d64a 132px,#fdfb67 141px,#fdfdbb 150.5px,#fbfce8 156px,#eef2fd 162.5px,#ccd7f9 169px,#6e8cf2 181px,#4869f0 188.5px,#3455ee 195px,#3151ee 200.5px,#3b5cef 205.5px,#5173f0 210px,#7390f2 214px,#b6c6f7 218.5px,#d5defa 220.5px,#ecf1fd 222.5px,#fafbe9 225px,#fefdaf 227.5px,#fdfb71 229.5px,#fdf964 230px,#f4cf46 232.5px,#e99938 235.5px,#e17732 238px,#dc5e2f 241px,#dc5b2e 243px,#de662f 245px,#e27b33 247px,#e99c38 249px,#f4d348 251.5px,#fbf360 253px,#fdfb6b 253.5px,#fefdaa 255px,#fcfcdd 256.5px,#fafbea 257px,#eff3fd 258.5px,#cdd8f9 260.5px,#8ea6f4 263.5px,#7693f2 265px,#6886f2 267px,#6684f1 269px,#6f8df2 271px,#809bf3 272.5px,#d2dcfa 277.5px,#e7ecfc 280px,#ecf1fd 282px,#e5ebfc 284px,#d0dafa)"></i><i style="background:linear-gradient(#d1252a,#d3302b 46px,#d7432c 72.5px,#dc5f2f 91.5px,#e58534 110px,#edae3d 123px,#f5d64a 132.5px,#fdfb67 141.5px,#fdfdbb 151px,#fafbea 157px,#ecf0fd 163.5px,#ccd7f9 169.5px,#6e8cf2 181.5px,#4869f0 189px,#3455ee 195.5px,#3151ee 201px,#3b5bef 206px,#5172f0 210.5px,#7390f2 214.5px,#b5c5f7 219px,#d4defa 221px,#f0f3fc 223.5px,#fafbea 225.5px,#fdfdc9 227px,#fefdb1 228px,#fdfa65 230.5px,#f4d246 233px,#e99c38 236px,#e27a33 238.5px,#de662f 241px,#dd602f 243px,#de672f 245px,#e27a32 247px,#e89737 249px,#f3cc45 251.5px,#fcf763 253.5px,#fdfb72 254px,#fefdb0 255.5px,#fbfce2 257px,#f9faec 257.5px,#edf2fd 259px,#cad6f9 261px,#8ca4f4 264px,#7692f2 265.5px,#6887f2 267.5px,#6786f2 269.5px,#7290f2 271.5px,#8ea6f4 273.5px,#d3ddfa 277.5px,#eef2fd 280.5px,#f1f4fa 283px,#ecf1fd 284.5px,#dee5fb)"></i><i style="background:linear-gradient(#d1252a,#d3302b 46.5px,#d7432c 73px,#dc5f2f 92px,#e58534 110.5px,#edae3d 123.5px,#f5d64a 133px,#fdfb67 142px,#fdfdbb 151.5px,#fafbea 157.5px,#ecf1fd 164px,#ccd7f9 170px,#6e8cf2 182px,#4869f0 189.5px,#3455ee 196px,#3051ee 201.5px,#3a5bef 206.5px,#5072f0 211px,#728ff2 215px,#b4c4f7 219.5px,#d3ddfa 221.5px,#eff3fc 224px,#fafbeb 226px,#fbfce3 226.5px,#fefda5 229px,#fdfb68 231px,#f5d448 233.5px,#e99837 237px,#e27932 239.5px,#de6830 242px,#de662f 244px,#e07031 246px,#e48534 248px,#eba63b 250px,#f4d146 252px,#fdfb66 254px,#fefdb5 256px,#fbfce6 257.5px,#f1f4fa 259px,#ebf0fd 259.5px,#d3dcfa 261px,#93aaf4 264px,#7592f2 266px,#6987f2 268px,#6988f2 270px,#7693f2 272px,#94abf4 274px,#d3ddfa 277.5px,#eef2fd 280px,#f4f7f4 282.5px,#f1f4f9 285px,#ebf0fd)"></i><i style="background:linear-gradient(#d1252a,#d3302b 46.5px,#d7432c 73px,#dc5e2f 92px,#e58534 111px,#edae3d 124px,#f5d549 133.5px,#fdfb67 142.5px,#fdfdbb 152px,#fafbea 158px,#ecf1fd 164.5px,#cdd8f9 170.5px,#6e8cf2 182.5px,#486af0 190px,#3455ee 196.5px,#3051ee 202px,#3a5bef 207px,#5072f0 211.5px,#718ff2 215.5px,#abbdf6 219.5px,#d8e1fb 222.5px,#eff3fd 224.5px,#fbfce6 227px,#fefda9 229.5px,#fdfb6c 231.5px,#faee5c 232.5px,#f3ce45 234.5px,#e99b38 237.5px,#e37d33 240px,#df6c30 242.5px,#df6b30 244.5px,#e17432 246.5px,#e68a35 248.5px,#ecab3c 250.5px,#f5d549 252.5px,#fcf460 254px,#fdfb6c 254.5px,#fdfdba 256.5px,#fafbe9 258px,#f0f3fc 259.5px,#d0dbfa 261.5px,#9bb0f5 264px,#7a96f3 266px,#6d8bf2 267.5px,#6987f2 269.5px,#708ef2 271.5px,#819cf3 273px,#b6c6f7 276px,#d3dcfa 277.5px,#eff3fc 280px,#f7f9f0 282.5px,#f6f8f1 285px,#f3f6f7)"></i><i style="background:linear-gradient(#d1252a,#d3302b 47px,#d7432c 73.5px,#dc5e2f 92.5px,#e58534 111.5px,#edae3d 124.5px,#f5d549 134px,#fdfb66 143px,#fdfdbe 153px,#fafbe9 158.5px,#ecf1fd 165px,#cdd8f9 171px,#6f8cf2 183px,#486af0 190.5px,#3555ee 197px,#3051ee 202.5px,#3a5bef 207.5px,#5071f0 212px,#718ef2 216px,#a2b6f5 219.5px,#d2dcfa 222.5px,#eef2fd 225px,#fbfce8 227.5px,#fefdac 230px,#fdfb70 232px,#fdf964 232.5px,#f4d146 235px,#ea9f39 238px,#e48134 240.5px,#e07131 243px,#e07031 245px,#e27932 247px,#e78f36 249px,#edb03d 251px,#f4d046 252.5px,#fcf863 254.5px,#fdfc73 255px,#fefdaf 256.5px,#fbfce0 258px,#f9fbeb 258.5px,#eff3fd 260px,#cdd8f9 262px,#99aff5 264.5px,#7995f3 266.5px,#6d8bf2 268px,#6a88f2 270px,#7390f2 272px,#8ea6f4 274px,#d1dbfa 277.5px,#f0f4fb 280px,#f9faec 282.5px,#fafbea 285px,#f8faee)"></i><i style="background:linear-gradient(#d1252a,#d3302b 47px,#d7432c 74px,#dc5e2f 93px,#e48534 112px,#edae3d 125px,#f5d549 134.5px,#fdfb66 143.5px,#fdfdbe 153.5px,#fafce9 159px,#edf1fd 165.5px,#cdd8f9 171.5px,#6f8df2 183.5px,#486af0 191px,#3555ee 197.5px,#3051ee 203px,#3a5bef 208px,#4f71f0 212.5px,#708ef2 216.5px,#a1b5f5 220px,#d6dffa 223.5px,#edf1fd 225.5px,#fbfce9 228px,#fefdb0 230.5px,#fdfb66 233px,#f3cc45 236px,#e99c38 239px,#e48134 241.5px,#e17432 244px,#e17632 246px,#e48334 248px,#e99b38 250px,#f0bf41 252px,#f5d449 253px,#fdfb67 255px,#fefdb5 257px,#fbfce5 258.5px,#f1f5f9 260px,#ecf1fd 260.5px,#cad6f9 262.5px,#8ea6f4 265.5px,#7390f2 267.5px,#6a88f2 269.5px,#6e8cf2 271.5px,#7b97f3 273px,#9cb1f5 275px,#d6dffa 278px,#f0f4fb 280px,#fbfce4 283px,#fcfcda 284.5px,#fbfce1)"></i><i style="background:linear-gradient(#d1252a,#d3302b 47.5px,#d7432c 74.5px,#dc5d2f 93.5px,#e48534 112.5px,#edae3d 125.5px,#f5d549 135px,#fdfb66 144px,#fdfdbd 154px,#fbfce9 159.5px,#edf1fd 166px,#ced8fa 172px,#6f8df2 184px,#496af0 191.5px,#3555ee 198px,#3051ee 203.5px,#3a5aef 208.5px,#4f70f0 213px,#7491f2 217.5px,#beccf8 222.5px,#d5defa 224px,#ecf0fd 226px,#fafbea 228.5px,#fcfcd6 229.5px,#fefda6 231.5px,#fdfb6b 233.5px,#f9e656 235px,#f4d046 236.5px,#eaa139 239.5px,#e58634 242px,#e27932 244.5px,#e27b33 246.5px,#e58835 248.5px,#eaa139 250.5px,#f4cf46 253px,#fcf662 255px,#fdfb6e 255.5px,#fdfdba 257.5px,#fbfce9 259px,#f0f4fb 260.5px,#e2e9fc 261.5px,#d2dcfa 262.5px,#94abf5 265.5px,#7793f2 267.5px,#6b89f2 269.5px,#6d8bf2 271.5px,#7894f3 273px,#97adf5 275px,#d4ddfa 278px,#f0f3fc 280px,#fbfce4 282.5px,#fcfcd0 284px,#fcfccb 285.5px,#fcfccd)"></i><i style="background:linear-gradient(#d1252a,#d3302b 47.5px,#d7422c 74.5px,#dc5c2e 93.5px,#e48534 113px,#edad3d 126px,#f5d549 135.5px,#fdfb66 144.5px,#fdfdbd 154.5px,#fbfce9 160px,#edf1fd 166.5px,#ced9fa 172.5px,#708df2 184.5px,#496bf0 192px,#3556ee 198.5px,#3051ee 204px,#395aef 209px,#4e70f0 213.5px,#7390f2 218px,#bdcbf8 223px,#d9e2fb 225px,#eff3fc 227px,#fbfce5 229.5px,#fefdaa 232px,#fdfb70 234px,#fdf964 234.5px,#f5d348 237px,#eba53b 240px,#e68b35 242.5px,#e37e33 245px,#e38034 247px,#e68e36 249px,#eba63b 251px,#f5d448 253.5px,#fdfa65 255.5px,#fefdb0 257.5px,#fbfcdf 259px,#fafbeb 259.5px,#eff3fc 261px,#d0dafa 263px,#92a9f4 266px,#7592f2 268px,#6b89f2 270px,#6e8cf2 272px,#7b96f3 273.5px,#9bb1f5 275.5px,#d1dbfa 278px,#eff3fd 280px,#fafbea 282px,#fdfdc7 284px,#fdfdbc 285.5px,#fdfdbc)"></i><i style="background:linear-gradient(#d1252a,#d3302b 48px,#d7422c 75px,#dc5c2e 94px,#e48534 113.5px,#edad3d 126.5px,#f5d449 136px,#fdfb69 145.5px,#fdfdbc 155px,#fbfce9 160.5px,#edf2fd 167px,#cbd6f9 173.5px,#708ef2 185px,#496bf0 192.5px,#3556ee 199px,#3051ee 204.5px,#395aef 209.5px,#4e6ff0 214px,#7290f2 218.5px,#b3c4f7 223px,#d8e1fb 225.5px,#eff3fd 227.5px,#fbfce8 230px,#fefdaf 232.5px,#fdfb67 235px,#f4cf46 238px,#eba43a 241px,#e68c36 243.5px,#e48334 246px,#e58835 248px,#e99838 250px,#eeb43e 252px,#f4d046 253.5px,#fcf461 255.5px,#fdfb6b 256px,#fefdb5 258px,#fbfce4 259.5px,#f2f5f8 261px,#edf2fd 261.5px,#ccd7f9 263.5px,#8fa7f4 266.5px,#7491f2 268.5px,#6b89f2 270.5px,#6f8df2 272.5px,#7d98f3 274px,#9fb4f5 276px,#d5defa 278.5px,#ecf1fd 280px,#fafbea 282px,#fdfdc1 284px,#fefdaf 285.5px,#fefdac)"></i><i style="background:linear-gradient(#d1252a,#d3302b 48.5px,#d7422c 75.5px,#dc5c2e 94.5px,#e48434 114px,#edad3d 127px,#f5d449 136.5px,#fdfb68 146px,#fdfdbc 155.5px,#fbfce9 161px,#eef2fd 167.5px,#cbd7f9 174px,#6e8bf2 186px,#4869f0 193.5px,#3455ee 200px,#3151ee 205.5px,#3a5bef 210.5px,#5072f0 215px,#718ff2 219px,#aabcf6 223px,#d1dbfa 225.5px,#edf2fd 228px,#fafbea 230.5px,#fefdb3 233px,#fdfb6c 235.5px,#fbf05d 236.5px,#f3cc45 239px,#eba33a 242px,#e68e36 244.5px,#e58935 247px,#e79036 249px,#eba43a 251px,#f1c242 253px,#f5d449 254px,#fdf864 256px,#fdfc85 257px,#fdfdbb 258.5px,#fbfce9 260px,#f0f4fa 261.5px,#e3e9fc 262.5px,#c9d5f9 264px,#8da5f4 267px,#7390f2 269px,#6b89f2 271px,#708df2 273px,#7f9af3 274.5px,#a3b7f6 276.5px,#d0dafa 278.5px,#f0f3fc 280.5px,#fafbeb 282px,#fefdb3 284.5px,#fefd9c)"></i><i style="background:linear-gradient(#d1252a,#d32f2b 48.5px,#d7422c 76px,#dc5c2e 95px,#e48434 114.5px,#edad3d 127.5px,#f5d64a 137.5px,#fdfb68 146.5px,#fdfdbb 156px,#fbfce8 161.5px,#ecf0fd 168.5px,#ccd7f9 174.5px,#6e8cf2 186.5px,#4869f0 194px,#3455ee 200.5px,#3151ee 206px,#3a5bef 211px,#4f71f0 215.5px,#708ef2 219.5px,#a1b5f5 223px,#d5dffa 226.5px,#f0f4fb 229px,#fafbeb 231px,#fbfce4 231.5px,#fefdaa 234px,#fdfa65 236.5px,#f4d046 239.5px,#eca83b 242.5px,#e89337 245px,#e68e36 247.5px,#e89637 249.5px,#eca93c 251.5px,#f2c844 253.5px,#f6d94c 254.5px,#fdfb68 256.5px,#fefdb1 258.5px,#fbfcdf 260px,#fafbeb 260.5px,#eff3fc 262px,#d1dbfa 264px,#93aaf4 267px,#7692f2 269px,#6b89f2 271px,#6d8bf2 273px,#7a96f3 274.5px,#9cb1f5 276.5px,#d4ddfa 279px,#edf1fd 280.5px,#f9faed 282px,#fbfce4 282.5px,#fdfdbc 284px,#fefc98 285.5px,#fefc90)"></i><i style="background:linear-gradient(#d1252a,#d32f2b 49px,#d7422c 76.5px,#dc5c2e 95.5px,#e58534 115.5px,#edae3d 128.5px,#f5d64a 138px,#fdfb67 147px,#fdfdbb 156.5px,#fafbea 162.5px,#ecf1fd 169px,#cdd8f9 175px,#6f8cf2 187px,#486af0 194.5px,#3555ee 201px,#3051ee 206.5px,#3a5bef 211.5px,#4f71f0 216px,#7491f2 220.5px,#c5d2f9 226px,#dfe6fb 228px,#eff3fd 229.5px,#fbfce7 232px,#fefdb0 234.5px,#fdfb6b 237px,#f9e858 238.5px,#f3cd45 240.5px,#edad3d 243px,#e99938 245.5px,#e89437 248px,#e99c38 250px,#edaf3d 252px,#f5d549 254.5px,#fcf763 256.5px,#fdfb70 257px,#fdfdb7 259px,#fbfce4 260.5px,#f2f5f8 262px,#eef2fd 262.5px,#ced8f9 264.5px,#90a8f4 267.5px,#7491f2 269.5px,#6a88f2 271.5px,#6e8bf2 273.5px,#7b97f3 275px,#9fb3f5 277px,#d7e0fb 279.5px,#f0f3fc 281px,#fbfce9 282.5px,#fefc93 285.5px,#fdfc87)"></i><i style="background:linear-gradient(#d1252a,#d32f2b 49px,#d7412c 76.5px,#dc5c2e 96px,#e58534 116px,#edae3d 129px,#f5d549 138.5px,#fdfb66 147.5px,#fdfdbe 157.5px,#fafbe9 163px,#ecf1fd 169.5px,#cdd8f9 175.5px,#6f8df2 187.5px,#496af0 195px,#3555ee 201.5px,#3051ee 207px,#395aef 212px,#4e70f0 216.5px,#7390f2 221px,#bbcaf8 226px,#d8e0fb 228px,#eef2fd 230px,#fafbea 232.5px,#fefda8 235.5px,#fdfa65 238px,#f4d247 241px,#edad3d 244px,#e99c38 246.5px,#e99a38 249px,#eba53b 251px,#f0bb40 253px,#f4d347 254.5px,#fdfb67 257px,#fdfdbc 259.5px,#fbfce9 261px,#ebf0fd 263px,#cad6f9 265px,#8da6f4 268px,#728ff2 270px,#6987f2 272px,#6e8bf2 274px,#7c98f3 275.5px,#96adf5 277px,#d1dbfa 279.5px,#ecf0fd 281px,#f9faec 282.5px,#fbfce1 283px,#fdfc83)"></i><i style="background:linear-gradient(#d1252a,#d32f2b 49.5px,#d7412c 77px,#dc5c2e 96.5px,#e48534 116.5px,#edae3d 129.5px,#f5d549 139px,#fdfb66 148px,#fdfdbd 158px,#fbfce9 163.5px,#edf1fd 170px,#ced9fa 176px,#708df2 188px,#496bf0 195.5px,#3556ee 202px,#3051ee 207.5px,#395aef 212.5px,#4d6ff0 217px,#728ff2 221.5px,#b1c2f7 226px,#d6dffa 228.5px,#ecf1fd 230.5px,#f9fbeb 233px,#fbfce4 233.5px,#fefdae 236px,#fdfb6b 238.5px,#f9e958 240px,#f4d046 242px,#eeb33e 244.5px,#eba23a 247px,#eaa039 249.5px,#ecab3c 251.5px,#f1c142 253.5px,#f5d74b 255px,#fcf763 257px,#fdfb6e 257.5px,#fefdb3 259.5px,#fbfcdf 261px,#fafbeb 261.5px,#f0f3fc 263px,#d2dcfa 265px,#93aaf4 268px,#7592f2 270px,#6987f2 272px,#6b89f2 274px,#7692f2 275.5px,#8ea6f4 277px,#c7d3f9 279.5px,#dce4fb 280.5px,#eff3fd 281.5px,#fafce9 283px,#fdfc83)"></i><i style="background:linear-gradient(#d1252a,#d32f2b 50px,#d7412c 77.5px,#dc5b2e 97px,#e48534 117px,#edad3d 130px,#f5d549 139.5px,#fdfb69 149px,#fdfdbd 158.5px,#fbfce9 164px,#edf2fd 170.5px,#cbd6f9 177px,#6d8bf2 189px,#4769f0 196.5px,#3455ee 203px,#3151ee 208.5px,#3a5bef 213.5px,#5071f0 218px,#7692f2 222.5px,#c6d2f9 228px,#dfe6fc 230px,#eff3fd 231.5px,#fbfce9 234px,#fefda6 237px,#fdfb65 239.5px,#f4cf46 243px,#eeb43e 245.5px,#eba63b 248px,#eca83b 250.5px,#eeb53f 252.5px,#f5d549 255px,#fdfb66 257.5px,#fdfdb9 260px,#fbfce5 261.5px,#eef3fd 263.5px,#cfd9fa 265.5px,#90a8f4 268.5px,#7390f2 270.5px,#6886f2 272.5px,#6a88f2 274.5px,#7692f2 276px,#8fa7f4 277.5px,#d5defa 280.5px,#f0f4fb 282px,#f8faed 283px,#fbfce4 283.5px,#fefdaf 285px,#fdfc87)"></i><i style="background:linear-gradient(#d1252a,#d32f2b 50px,#d7412c 78px,#dc5b2e 97.5px,#e48434 117.5px,#edad3d 130.5px,#f5d64a 140.5px,#fdfb68 149.5px,#fdfdbc 159px,#fbfce8 164.5px,#eef2fd 171px,#ccd7f9 177.5px,#6e8cf2 189.5px,#4869f0 197px,#3455ee 203.5px,#3051ee 209px,#3a5bef 214px,#4f71f0 218.5px,#7491f2 223px,#c3d0f9 228.5px,#d8e0fb 230px,#eef2fd 232px,#fafbea 234.5px,#fcfccd 236px,#fefd9f 238px,#fdfb6c 240px,#fbf15e 241px,#f3ce45 244px,#efb63f 246.5px,#ecab3c 249px,#edad3d 251px,#f0bb40 253px,#f4d348 255px,#fcf763 257.5px,#fdfb6d 258px,#fefdb0 260px,#fbfce9 262px,#ecf1fd 264px,#cbd6f9 266px,#8da5f4 269px,#7693f2 270.5px,#6886f2 272.5px,#6786f1 274.5px,#708ef2 276px,#869ff4 277.5px,#b2c3f7 279.5px,#d7e0fb 281px,#eaeffd 282px,#f5f8f2 283px,#f9fbeb 283.5px,#fcfcdd 284px,#fefda4 285.5px,#fefc8f)"></i><i style="background:linear-gradient(#d1252a,#d32f2b 50.5px,#d7412c 78.5px,#dc5b2e 98px,#e48434 118px,#edac3d 131px,#f5d64a 141px,#fdfb67 150px,#fdfdbb 159.5px,#fafbea 165.5px,#ecf1fd 172px,#cdd8f9 178px,#6f8cf2 190px,#486af0 197.5px,#3555ee 204px,#3051ee 209.5px,#395aef 214.5px,#4e70f0 219px,#728ff2 223.5px,#b9c8f8 228.5px,#d6dffa 230.5px,#f0f3fc 233px,#fbfce7 235.5px,#fefda6 238.5px,#fdfb67 241px,#f4d348 244.5px,#efb840 247.5px,#edb03e 250px,#efb63f 252px,#f2c643 254px,#f5d74b 255.5px,#fdfb66 258px,#fdfdc3 261px,#fbfce0 262px,#fafbeb 262.5px,#f0f4fb 264px,#d2dcfa 266px,#8aa3f4 269.5px,#7491f2 271px,#6685f1 273px,#6685f1 275px,#708df2 276.5px,#869ff4 278px,#b3c4f7 280px,#d8e1fb 281.5px,#ecf1fd 282.5px,#fafbe9 284px,#fefdb1 285.5px,#fefc9a)"></i><i style="background:linear-gradient(#d1252a,#d32f2b 51px,#d6412c 79px,#dc5b2e 98.5px,#e48434 118.5px,#edae3d 132px,#f5d549 141.5px,#fdfb66 150.5px,#fdfdbe 160.5px,#fafbe9 166px,#edf1fd 172.5px,#cdd8f9 178.5px,#6f8df2 190.5px,#496af0 198px,#3556ee 204.5px,#3051ee 210px,#395aef 215px,#5072f0 220px,#7693f2 224.5px,#d4ddfa 231px,#eff3fd 233.5px,#fafbea 236px,#fefdad 239px,#fdfb6e 241.5px,#fdf965 242px,#f4d348 245.5px,#f0be41 248px,#efb63f 250.5px,#f0bb40 252.5px,#f3cb45 254.5px,#f6dc4e 256px,#fcf763 258px,#fdfb6d 258.5px,#fdfdbb 261px,#fbfce5 262.5px,#eff3fd 264.5px,#d0dafa 266.5px,#90a8f4 269.5px,#728ff2 271.5px,#6484f1 273.5px,#6584f1 275.5px,#7491f2 277.5px,#90a7f4 279px,#c1cff8 281px,#dae2fb 282px,#eef2fd 283px,#fbfce6 284.5px,#fefdaa)"></i><i style="background:linear-gradient(#d1252a,#d32f2b 51px,#d6402c 79px,#db5a2e 98.5px,#e48434 119px,#edad3d 132.5px,#f5d549 142px,#fdfb66 151px,#fdfdbd 161px,#fbfce9 166.5px,#edf2fd 173px,#ced9fa 179px,#708ef2 191px,#496bf0 198.5px,#3455ee 205.5px,#3151ee 211px,#3a5bef 216px,#4f71f0 220.5px,#7491f2 225px,#c3d0f8 230.5px,#d7e0fb 232px,#ecf1fd 234px,#fbfce6 237px,#fefda7 240px,#fdfb6b 242.5px,#faec5a 244px,#f4cf46 247px,#f0bf41 249.5px,#f0bd41 252px,#f2c844 254px,#f5d549 255.5px,#fcf460 258px,#fdfb66 258.5px,#fdfdc0 261.5px,#fbfce9 263px,#edf1fd 265px,#cdd8f9 267px,#849ef3 270.5px,#6f8df2 272px,#6382f1 274px,#6483f1 276px,#7390f2 278px,#8fa7f4 279.5px,#c2cff8 281.5px,#d0dafa 282px,#eff3fd 283.5px,#f8f9ee 284.5px,#fbfce2 285px,#fdfdb9)"></i><i style="background:linear-gradient(#d1252a,#d32e2b 51.5px,#d6402c 79.5px,#db5a2e 99px,#e48334 119.5px,#edad3d 133px,#f5d449 142.5px,#fdfb68 152px,#fdfdbc 161.5px,#fbfce9 167px,#eef2fd 173.5px,#ccd7f9 180px,#6e8cf2 192px,#4869f0 199.5px,#3555ee 206px,#3051ee 211.5px,#3a5aef 216.5px,#5173f0 221.5px,#728ff2 225.5px,#b8c7f7 230.5px,#d5defa 232.5px,#eff3fd 235px,#fafbe9 237.5px,#fefdae 240.5px,#fdfb67 243.5px,#f6d84b 247px,#f3ca44 249px,#f1c242 251.5px,#f3ca44 254px,#f5d549 255.5px,#fbf15e 258px,#fcf863 258.5px,#fdfb6d 259px,#fdfdc4 262px,#fbfce0 263px,#fafbeb 263.5px,#f0f4fb 265px,#e3e9fc 266px,#c9d5f9 267.5px,#8ba3f4 270.5px,#7290f2 272px,#6382f1 274px,#6080f1 276px,#6d8bf2 278px,#7a96f3 279px,#9ab0f5 280.5px,#d1dbfa 282.5px,#eff3fd 284px,#f8faed 285px,#fbfcdf 285.5px,#fcfcca)"></i><i style="background:linear-gradient(#d1242a,#d32e2b 52px,#d6402c 80px,#db592e 99.5px,#e48334 120px,#edad3d 133.5px,#f5d64a 143.5px,#fdfb67 152.5px,#fdfdbb 162px,#fafbea 168px,#ecf1fd 174.5px,#cdd8f9 180.5px,#6f8df2 192.5px,#486af0 200px,#3555ee 206.5px,#3051ee 212px,#395aef 217px,#5072f0 222px,#7692f2 226.5px,#d8e1fb 233.5px,#edf1fd 235.5px,#fbfce6 238.5px,#fefda9 241.5px,#fdfa65 244.5px,#f6d94c 248px,#f3cb44 250.5px,#f2c944 253px,#f5d64a 255.5px,#faee5c 258px,#fdfb67 259px,#fefd9f 261px,#fdfdc9 262.5px,#fbfce4 263.5px,#eff3fc 265.5px,#d2dbfa 267.5px,#88a1f4 271px,#708ef2 272.5px,#6180f1 274.5px,#5f7ef1 276.5px,#6b89f2 278.5px,#7995f3 279.5px,#99aff5 281px,#d0dbfa 283px,#eff3fc 284.5px,#f9faec 285.5px,#fcfcdd)"></i><i style="background:linear-gradient(#d1242a,#d32e2b 52px,#d6402c 80.5px,#db592e 100px,#e48434 121px,#edae3d 134.5px,#f5d549 144px,#fdfb66 153px,#fdfdbe 163px,#fbfce9 168.5px,#edf1fd 175px,#ced9fa 181px,#708df2 193px,#496bf0 200.5px,#3455ee 207.5px,#3051ee 213px,#3a5bef 218px,#4f71f0 222.5px,#7390f2 227px,#c8d4f9 233px,#e5ebfc 235.5px,#eff3fd 236.5px,#fafbea 239px,#fefdb1 242px,#fdfb6d 245px,#fdf965 245.5px,#f7de50 248.5px,#f4cf46 251.5px,#f4d046 254px,#f7de50 256.5px,#fdf864 259px,#fdfc7a 260px,#fdfdc0 262.5px,#fbfce9 264px,#eef2fd 266px,#cfd9fa 268px,#859ff3 271.5px,#6e8cf2 273px,#5f7ff1 275px,#5d7df1 277px,#6a88f2 279px,#7793f2 280px,#98aef5 281.5px,#d0dafa 283.5px,#eff3fc 285px,#f9faec)"></i><i style="background:linear-gradient(#d1242a,#d32e2b 52.5px,#d6402c 81px,#db592e 100.5px,#e48334 121.5px,#edad3d 135px,#f5d549 144.5px,#fdfb69 154px,#fdfdbd 163.5px,#fbfce9 169px,#edf2fd 175.5px,#cbd6f9 182px,#6e8cf2 194px,#4869f0 201.5px,#3455ee 208px,#3051ee 213.5px,#395aef 218.5px,#5173f0 223.5px,#718ff2 227.5px,#afc0f7 232px,#d3ddfa 234.5px,#edf2fd 237px,#fbfce7 240px,#fefda1 243.5px,#fdfb6b 246px,#fcf360 247px,#f6dc4e 250px,#f4d348 252.5px,#f5d64a 255px,#f9e656 257.5px,#fdfb68 259.5px,#fefd9c 261.5px,#fbfcdf 264px,#fafbea 264.5px,#ecf1fd 266.5px,#ccd7f9 268.5px,#829cf3 272px,#6c8af2 273.5px,#5d7df1 275.5px,#5b7bf1 277.5px,#6886f2 279.5px,#7491f2 280.5px,#96acf5 282px,#cfd9fa 284px,#eff3fc 285.5px,#f4f7f4)"></i><i style="background:linear-gradient(#d1242a,#d32e2b 53px,#d6402c 81.5px,#db5a2e 101.5px,#e48334 122px,#edad3d 135.5px,#f5d64a 145.5px,#fdfb68 154.5px,#fdfdbb 164px,#fafbea 170px,#ecf0fd 176.5px,#ccd7f9 182.5px,#6f8cf2 194.5px,#486af0 202px,#3555ee 208.5px,#3051ee 214px,#395aef 219px,#5071f0 224px,#7491f2 228.5px,#c9d5f9 234.5px,#e0e7fc 236.5px,#eff3fd 238px,#fafbea 240.5px,#fefdb3 243.5px,#fdfb6a 247px,#faeb59 249px,#f6da4d 252px,#f5d84b 254.5px,#f8e253 257px,#fdfa65 259.5px,#fdfc86 261px,#fdfdbc 263px,#fbfce3 264.5px,#f6f8f1 265.5px,#f0f4fb 266.5px,#dbe3fb 268px,#cad5f9 269px,#809af3 272.5px,#6a89f2 274px,#5b7bf1 276px,#5979f1 278px,#6685f1 280px,#728ff2 281px,#93aaf4 282.5px,#d9e1fb 285px,#eff3fd)"></i><i style="background:linear-gradient(#d1242a,#d32e2b 53.5px,#d63f2c 82px,#db592e 102px,#e48434 123px,#edae3d 136.5px,#f5d549 146px,#fdfb66 155px,#fdfdbe 165px,#fafbe9 170.5px,#edf1fd 177px,#ced8f9 183px,#708df2 195px,#496bf0 202.5px,#3455ee 209.5px,#3051ee 215px,#3a5bef 220px,#5273f0 225px,#728ff2 229px,#beccf8 234.5px,#d9e1fb 236.5px,#edf1fd 238.5px,#fbfce8 241.5px,#fefda5 245px,#fdfb69 248px,#f9e858 250.5px,#f6dc4e 253.5px,#f7de50 256px,#faee5c 258.5px,#fdfb69 260px,#fefc99 262px,#fbfce6 265px,#eff3fc 267px,#d2dcfa 269px,#7d98f3 273px,#6887f2 274.5px,#597af1 276.5px,#5778f0 278.5px,#6483f1 280.5px,#7995f3 282px,#9eb3f5 283.5px,#d8e0fb 285.5px,#e3e9fc)"></i><i style="background:linear-gradient(#d1242a,#d32e2b 53.5px,#d63f2c 82.5px,#db592e 102.5px,#e48434 123.5px,#edad3d 137px,#f5d549 146.5px,#fdfb69 156px,#fdfdbd 165.5px,#fbfce9 171px,#edf2fd 177.5px,#cbd6f9 184px,#6e8cf2 196px,#4869f0 203.5px,#3455ee 210px,#3051ee 215.5px,#395aef 220.5px,#5072f0 225.5px,#7592f2 230px,#d6dffa 237px,#eff3fd 239.5px,#fbfce5 242.5px,#fefda2 246px,#fdfb69 249px,#f9ea59 251.5px,#f7e051 254.5px,#f8e455 257px,#fcf662 259.5px,#fdfb66 260px,#fefc91 262px,#fbfce9 265.5px,#eff3fd 267.5px,#d1dbfa 269.5px,#7b97f3 273.5px,#6785f1 275px,#5778f0 277px,#5476f0 279px,#6181f1 281px,#7592f2 282.5px,#9bb0f5 284px,#d6dffa)"></i><i style="background:linear-gradient(#d1242a,#d32e2b 54px,#d63f2c 83px,#db592e 103px,#e48334 124px,#edad3d 137.5px,#f5d64a 147.5px,#fdfb68 156.5px,#fdfdbb 166px,#fafbea 172px,#ecf0fd 178.5px,#ccd7f9 184.5px,#6f8cf2 196.5px,#486af0 204px,#3454ee 211px,#3051ee 216.5px,#3a5bef 221.5px,#5274f0 226.5px,#7390f2 230.5px,#beccf8 236px,#d8e1fb 238px,#edf1fd 240px,#fbfce9 243px,#fefda0 247px,#fdfb71 249.5px,#fdf964 250.5px,#f9e757 253.5px,#f8e455 256px,#faed5c 258.5px,#fdf964 260px,#fdfc75 261px,#fefda3 263px,#fafbea 266px,#edf2fd 268px,#cfd9fa 270px,#7995f3 274px,#6080f1 276px,#5374f0 278px,#5475f0 280px,#6483f1 282px,#728ff2 283px,#97adf5 284.5px,#c4d1f9)"></i><i style="background:linear-gradient(#d1242a,#d32e2b 54.5px,#d63f2c 83.5px,#db582e 103.5px,#e48334 124.5px,#edac3c 138px,#f5d549 148px,#fdfb66 157px,#fdfdbe 167px,#fbfce9 172.5px,#edf1fd 179px,#ced9fa 185px,#708df2 197px,#496bf0 204.5px,#3455ee 211.5px,#3051ee 217px,#395aef 222px,#5072f0 227px,#7592f2 231.5px,#d6dffa 238.5px,#eff3fd 241px,#fbfce7 244px,#fefd9e 248px,#fdfb71 250.5px,#fdf965 251.5px,#f9ea59 254.5px,#f9e958 257px,#fcf461 259.5px,#fdfb68 260.5px,#fefc8f 262.5px,#fbfce2 266px,#f7f9f0 267px,#ecf1fd 268.5px,#cdd8f9 270.5px,#7794f3 274.5px,#5e7ef1 276.5px,#5173f0 278.5px,#5173f0 280.5px,#5c7cf1 282px,#6f8df2 283.5px,#859ff3 284.5px,#b1c2f7)"></i><i style="background:linear-gradient(#d1242a,#d32e2b 55px,#d63f2c 84px,#db582e 104px,#e48334 125.5px,#edad3d 139px,#f5d549 148.5px,#fdfb69 158px,#fdfdbc 167.5px,#fbfce9 173px,#eef2fd 179.5px,#cbd7f9 186px,#6e8cf2 198px,#486af0 205.5px,#3555ee 212px,#3050ee 217.5px,#3959ef 222.5px,#4f71f0 227.5px,#7390f2 232px,#c5d2f9 238px,#d8e1fb 239.5px,#f0f3fc 242px,#fafbea 244.5px,#fcfcd2 246px,#fefda6 248.5px,#fdfc79 251px,#fdfa65 252.5px,#faed5b 255.5px,#faee5c 258px,#fdfb66 260.5px,#fdfc89 262.5px,#fbfce5 266.5px,#f0f4fb 268.5px,#e4eafc 269.5px,#ccd7f9 271px,#7692f2 275px,#5d7df1 277px,#4f71f0 279px,#4f71f0 281px,#5979f1 282.5px,#6c8af2 284px,#819bf3 285px,#9db2f5)"></i><i style="background:linear-gradient(#d1242a,#d32d2b 55.5px,#d63f2c 84.5px,#db582e 104.5px,#e48334 126px,#edad3d 139.5px,#f5d64a 149.5px,#fdfb67 158.5px,#fdfdbb 168px,#fafbea 174px,#ecf1fd 180.5px,#cdd8f9 186.5px,#6f8df2 198.5px,#496af0 206px,#3455ee 213px,#3051ee 218.5px,#395aef 223.5px,#5172f0 228.5px,#7592f2 233px,#d5defa 240px,#eef2fd 242.5px,#fbfce9 245.5px,#fefd9b 250px,#fdfb73 252.5px,#fdfb67 253.5px,#fbf05e 256.5px,#fbf360 259px,#fdfb66 260.5px,#fdfc7b 262px,#fefda3 264px,#fbfce7 267px,#f0f4fb 269px,#d4defa 271px,#7491f2 275.5px,#5778f0 278px,#4c6ef0 280px,#4f71f0 282px,#5b7bf1 283.5px,#718ef2 285px,#89a2f4)"></i><i style="background:linear-gradient(#d1242a,#d32d2b 55.5px,#d63e2c 85px,#db572e 105px,#e48234 126.5px,#edac3c 140px,#f5d549 150px,#fdfb66 159px,#fdfdbd 169px,#fbfce9 174.5px,#edf2fd 181px,#cbd6f9 187.5px,#6e8bf2 199.5px,#4869f0 207px,#3455ee 213.5px,#3050ee 219px,#3959ef 224px,#4f71f0 229px,#7390f2 233.5px,#c4d1f9 239.5px,#d7e0fb 241px,#eff3fd 243.5px,#fbfce7 246.5px,#fdfc82 252.5px,#fdfb69 254.5px,#fcf461 257px,#fcf662 259.5px,#fdfb6a 261px,#fdfc88 263px,#fbfce8 267.5px,#f0f3fc 269.5px,#d4ddfa 271.5px,#7491f2 276px,#5577f0 278.5px,#4a6cf0 280.5px,#4c6ef0 282.5px,#5879f1 284px,#6d8bf2 285.5px,#7793f2)"></i><i style="background:linear-gradient(#d1242a,#d32d2b 56px,#d63e2c 85.5px,#db572e 105.5px,#e48234 127px,#ecab3c 140.5px,#f5d64a 151px,#fdfb68 160px,#fdfdbb 169.5px,#fafbea 175.5px,#ecf0fd 182px,#ccd8f9 188px,#6f8df2 200px,#496af0 207.5px,#3454ee 214.5px,#3051ee 220px,#395aef 225px,#5172f0 230px,#7592f2 234.5px,#d4defa 241.5px,#edf1fd 244px,#fafbea 247px,#fcfcd3 248.5px,#fdfc82 253.5px,#fdfb68 256px,#fcf763 258.5px,#fdfb66 260.5px,#fdfc7c 262.5px,#fefd9f 264.5px,#fbfce9 268px,#eff3fc 270px,#d4ddfa 272px,#7390f2 276.5px,#5476f0 279px,#496af0 281px,#4a6bf0 283px,#5476f0 284.5px,#6987f2)"></i><i style="background:linear-gradient(#d1242a,#d32d2b 56.5px,#d63e2c 86px,#db572e 106px,#e48334 128px,#edac3c 141.5px,#f5d549 151.5px,#fdfb66 160.5px,#fdfdbe 170.5px,#fbfce9 176px,#edf1fd 182.5px,#ced9fa 188.5px,#708ef2 200.5px,#4769f0 208.5px,#3455ee 215px,#3050ee 220.5px,#3959ef 225.5px,#4f71f0 230.5px,#728ff2 235px,#c3d0f8 241px,#d6dffa 242.5px,#eef2fd 245px,#fafbe9 248px,#fdfc83 254.5px,#fdfb6b 257px,#fdfa65 259px,#fdfb68 260.5px,#fdfc79 262.5px,#fefc98 264.5px,#fafce9 268.5px,#eff3fc 270.5px,#d4ddfa 272.5px,#7390f2 277px,#5375f0 279.5px,#4769ef 281.5px,#4769f0 283.5px,#5173f0 285px,#5d7df1)"></i><i style="background:linear-gradient(#d1242a,#d32d2b 57px,#d63e2c 86.5px,#db572e 107px,#e48234 128.5px,#ecab3c 142px,#f5d449 152px,#fdfb68 161.5px,#fdfdbc 171px,#fbfce8 176.5px,#ecf0fd 183.5px,#ccd7f9 189.5px,#6f8cf2 201.5px,#486af0 209px,#3454ee 216px,#3050ee 221.5px,#395aef 226.5px,#5072f0 231.5px,#7491f2 236px,#d3ddfa 243px,#eff3fc 246px,#fbfce9 249px,#fefc8b 255px,#fdfb72 257.5px,#fdfb6b 259.5px,#fdfb70 261.5px,#fdfc83 263.5px,#fefda4 265.5px,#fafbe9 269px,#eff3fc 271px,#d4defa 273px,#7390f2 277.5px,#5374f0 280px,#4667ef 282px,#4567ef 284px,#4e70f0 285.5px,#5374f0)"></i><i style="background:linear-gradient(#d1242a,#d32d2b 57.5px,#d63e2c 87px,#db572e 107.5px,#e48334 129.5px,#edac3c 143px,#f5d549 153px,#fdfb66 162px,#fdfdbe 172px,#fbfce9 177.5px,#edf1fd 184px,#ced9fa 190px,#708ef2 202px,#4769f0 210px,#3455ee 216.5px,#3050ee 222px,#3859ef 227px,#4e70f0 232px,#728ff2 236.5px,#bac9f8 242px,#d5defa 244px,#edf1fd 246.5px,#fbfce6 250px,#fefc8c 256px,#fdfc75 258.5px,#fdfb70 260.5px,#fdfc78 262.5px,#fefc8d 264.5px,#fcfccb 268px,#fafbea 269.5px,#f0f3fc 271.5px,#d5defa 273.5px,#7390f2 278px,#5274f0 280.5px,#4466ef 282.5px,#4364ef 284.5px,#4b6cf0)"></i><i style="background:linear-gradient(#d1242a,#d32d2b 58px,#d63d2c 87.5px,#db562e 108px,#e48234 130px,#ecab3c 143.5px,#f5d449 153.5px,#fdfb68 163px,#fdfdbc 172.5px,#fbfce8 178px,#eef2fd 184.5px,#ccd7f9 191px,#6f8cf2 203px,#486af0 210.5px,#3454ee 217.5px,#3050ee 223px,#395aef 228px,#5072f0 233px,#7390f2 237.5px,#d7dffa 245px,#eef2fd 247.5px,#fafbea 250.5px,#fefc8d 257px,#fdfc7b 259px,#fdfc75 261px,#fdfc7c 263px,#fefc90 265px,#fcfccc 268.5px,#fafbe9 270px,#f0f4fb 272px,#cdd8f9 274.5px,#7491f2 278.5px,#5274f0 281px,#4365ef 283px,#4162ef 285px,#4466ef)"></i><i style="background:linear-gradient(#d1242a,#d32d2b 58.5px,#d63e2c 88.5px,#db572e 109px,#e48334 131px,#edac3c 144.5px,#f5d549 154.5px,#fdfb66 163.5px,#fdfdbe 173.5px,#fbfce9 179px,#edf1fd 185.5px,#ced9fa 191.5px,#708ef2 203.5px,#4769f0 211.5px,#3354ee 218.5px,#3050ee 224px,#3a5bef 229px,#5173f0 234px,#7692f2 238.5px,#d3ddfa 245.5px,#eff3fd 248.5px,#fbfce9 251.5px,#fefc94 257.5px,#fdfc7f 260px,#fdfc7a 262px,#fdfc83 264px,#fefc99 266px,#fcfcd5 269.5px,#fbfce9 270.5px,#ecf0fd 273px,#ced9fa 275px,#7592f2 279px,#5274f0 281.5px,#4364ef 283.5px,#3f60ef 285.5px,#4061ef)"></i><i style="background:linear-gradient(#d1242a,#d22c2b 58.5px,#d63d2c 88.5px,#db562e 109px,#e48134 131px,#eca93c 144.5px,#f5d449 155px,#fdfb68 164.5px,#fdfdbc 174px,#fbfce8 179.5px,#ecf0fd 186.5px,#ccd7f9 192.5px,#6f8cf2 204.5px,#486af0 212px,#3454ee 219px,#3050ee 224.5px,#395aef 229.5px,#4f71f0 234.5px,#7290f2 239px,#c9d5f9 245.5px,#e8edfd 248.5px,#f2f5f8 250px,#fbfce9 252.5px,#fefdb6 256px,#fefc90 259px,#fdfc82 261px,#fdfc7f 263px,#fdfc8a 265px,#fefda2 267px,#fcfcd5 270px,#fbfce9 271px,#edf1fd 273.5px,#d0dbfa 275.5px,#7793f3 279.5px,#5374f0 282px,#4263ef 284px,#3d5eef)"></i><i style="background:linear-gradient(#d1242a,#d22c2b 59px,#d63d2c 89px,#da552e 109.5px,#e48134 132px,#ecaa3c 145.5px,#f5d549 156px,#fdfb66 165px,#fdfdbd 175px,#fbfce9 180.5px,#edf1fd 187px,#ced9fa 193px,#6d8bf2 205.5px,#4869f0 213px,#3354ee 220px,#3050ee 225.5px,#395aef 230.5px,#5072f0 235.5px,#7491f2 240px,#d7dffa 247.5px,#eef2fd 250px,#fbfce7 253.5px,#fefdb5 257px,#fefc91 260px,#fdfc85 262px,#fdfc84 264px,#fefc91 266px,#fefdab 268px,#fcfcd3 270.5px,#fbfce7 271.5px,#eef2fd 274px,#d2dcfa 276px,#708ef2 280.5px,#4e70f0 283px,#3f60ef 285px,#3c5def)"></i><i style="background:linear-gradient(#d1242a,#d22c2b 59.5px,#d63d2c 90px,#db552e 110.5px,#e48234 133px,#ecab3c 146.5px,#f5d64a 157px,#fdfb68 166px,#fdfdbb 175.5px,#fafbea 181.5px,#ecf1fd 188px,#cdd8f9 194px,#6f8df2 206px,#496af0 213.5px,#3454ee 220.5px,#3050ee 226px,#3859ef 231px,#4e70f0 236px,#718ef2 240.5px,#b9c8f8 246px,#d3ddfa 248px,#eff3fd 251px,#fbfce5 254.5px,#fefdb5 258px,#fefc93 261px,#fdfc88 263px,#fdfc89 265px,#fefc97 267px,#fdfdc1 270px,#fbfce5 272px,#eff3fd 274.5px,#d4defa 276.5px,#728ff2 281px,#4f71f0 283.5px,#3f60ef 285.5px,#3c5def)"></i><i style="background:linear-gradient(#d1242a,#d22c2b 60px,#d63d2c 90.5px,#da552e 111px,#e48134 133.5px,#ecaa3c 147px,#f5d549 157.5px,#fdfb66 166.5px,#fdfdbd 176.5px,#fbfce9 182px,#edf2fd 188.5px,#cbd6f9 195px,#6e8cf2 207px,#4869f0 214.5px,#3354ee 221.5px,#3050ee 227px,#395aef 232px,#4f71f0 237px,#7390f2 241.5px,#d5defa 249px,#eff3fc 252px,#fafbea 255px,#fefdb4 259px,#fefc94 262px,#fefc8b 264px,#fefc8d 266px,#fefd9d 268px,#fcfcd0 271.5px,#fafbea 273px,#f0f4fb 275px,#d6dffa 277px,#b8c8f7 278.5px,#7592f2 281.5px,#5072f0 284px,#3f60ef)"></i><i style="background:linear-gradient(#d1242a,#d22c2b 60.5px,#d63c2c 91px,#da552e 111.5px,#e48034 134px,#eca93c 147.5px,#f5d64a 158.5px,#fdfb67 167.5px,#fdfdbb 177px,#fafbea 183px,#ecf1fd 189.5px,#cdd8f9 195.5px,#708df2 207.5px,#496bf0 215px,#3454ee 222px,#2f50ee 227.5px,#3859ef 232.5px,#4d6ff0 237.5px,#7491f2 242.5px,#d6dffa 250px,#edf1fd 252.5px,#fbfce9 256px,#fdfdba 259.5px,#fefc99 262.5px,#fefc8e 264.5px,#fefc90 266.5px,#fefd9e 268.5px,#fdfdc6 271.5px,#fbfce9 273.5px,#edf2fd 276px,#d2dcfa 278px,#6f8df2 282.5px,#4c6ef0 285px,#4364ef)"></i><i style="background:linear-gradient(#d1242a,#d22c2b 61px,#d63c2c 91.5px,#da552e 112.5px,#e48134 135px,#ecaa3c 148.5px,#f5d549 159px,#fdfb69 168.5px,#fdfdbc 178px,#fbfce9 183.5px,#eef2fd 190px,#ccd7f9 196.5px,#6f8cf2 208.5px,#486af0 216px,#3354ee 223px,#2f50ee 228.5px,#3859ef 233.5px,#4e70f0 238.5px,#718ef2 243px,#b8c7f7 248.5px,#d7e0fb 251px,#eef2fd 253.5px,#fbfce8 257px,#fdfdb9 260.5px,#fefc9a 263.5px,#fefc91 265.5px,#fefc93 267.5px,#fefda3 269.5px,#fcfccb 272.5px,#fbfce7 274px,#eff3fd 276.5px,#ccd7f9 279px,#7390f2 283px,#4e70f0 285.5px,#496bf0)"></i><i style="background:linear-gradient(#d1242a,#d22c2b 61.5px,#d63c2c 92.5px,#da542e 113px,#e38034 135.5px,#eca83b 149px,#f5d549 160px,#fdfb66 169px,#fdfdbd 179px,#fbfce9 184.5px,#edf1fd 191px,#ced9fa 197px,#6d8bf2 209.5px,#4869f0 217px,#3354ee 224px,#2f50ee 229.5px,#3959ef 234.5px,#4f71f0 239.5px,#7290f2 244px,#d4ddfa 251.5px,#eff3fd 254.5px,#fbfce6 258px,#fdfdb9 261.5px,#fefd9b 264.5px,#fefc93 266.5px,#fefc97 268.5px,#fefda8 270.5px,#fcfcd1 273.5px,#fafbea 275px,#ecf1fd 277.5px,#d1dbfa 279.5px,#6e8cf2 284px,#5172f0)"></i><i style="background:linear-gradient(#d1242a,#d22c2b 62px,#d63c2c 93px,#da552e 114px,#e48134 136.5px,#eca93c 150px,#f5d64a 161px,#fdfb67 170px,#fdfdbb 179.5px,#fafbea 185.5px,#ecf1fd 192px,#cdd8f9 198px,#6f8df2 210px,#496af0 217.5px,#3454ee 224.5px,#2f50ee 230px,#3858ef 235px,#4d6ff0 240px,#7491f2 245px,#d5defa 252.5px,#eff3fc 255.5px,#fbfce5 259px,#fdfdb8 262.5px,#fefd9c 265.5px,#fefc94 267.5px,#fefc9a 269.5px,#fefdac 271.5px,#fcfccd 274px,#fbfce8 275.5px,#eff3fd 278px,#cbd7f9 280.5px,#728ff2 284.5px,#5b7bf1)"></i><i style="background:linear-gradient(#d1232a,#d22c2b 62.5px,#d53c2c 93.5px,#da542e 114.5px,#e48134 137.5px,#ecaa3c 151px,#f5d549 161.5px,#fdfb69 171px,#fdfdbc 180.5px,#fbfce9 186px,#eef2fd 192.5px,#ccd7f9 199px,#6e8cf2 211px,#486af0 218.5px,#3354ee 225.5px,#2f50ee 231px,#3859ef 236px,#4e70f0 241px,#7592f2 246px,#d6dffa 253.5px,#edf1fd 256px,#fafce9 259.5px,#fdfdb7 263.5px,#fefd9c 266.5px,#fefc96 268.5px,#fefd9c 270.5px,#fefdb5 273px,#fcfcda 275.5px,#fafbea 276.5px,#edf1fd 279px,#d1dbfa 281px,#6e8cf2 285.5px,#6685f1)"></i><i style="background:linear-gradient(#d1232a,#d22c2b 63px,#d53c2c 94px,#da532e 115px,#e38034 138px,#eca83b 151.5px,#f5d549 162.5px,#fdfb66 171.5px,#fdfdbd 181.5px,#fbfce9 187px,#edf1fd 193.5px,#ced9fa 199.5px,#6e8bf2 212px,#4869f0 219.5px,#3353ee 226.5px,#2f50ee 232px,#3859ef 237px,#4f71f0 242px,#728ff2 246.5px,#c6d3f9 253px,#dce4fb 255px,#eef2fd 257px,#fbfce9 260.5px,#fdfdbc 264px,#fefd9f 267px,#fefc97 269px,#fefd9c 271px,#fefdad 273px,#fcfccd 275.5px,#fbfce7 277px,#eff3fc 279.5px,#cdd8f9 282px,#7390f2)"></i><i style="background:linear-gradient(#d1232a,#d22c2b 63.5px,#d53c2c 95px,#da542e 116px,#e48034 139px,#eca93c 152.5px,#f5d64a 163.5px,#fdfb67 172.5px,#fdfdbb 182px,#fafbe9 188px,#ecf1fd 194.5px,#cdd8f9 200.5px,#708df2 212.5px,#496bf0 220px,#3454ee 227px,#2f4fee 232.5px,#3758ef 237.5px,#4c6ef0 242.5px,#7390f2 247.5px,#d4defa 255px,#eff3fd 258px,#fbfce7 261.5px,#fdfdbb 265px,#fefd9f 268px,#fefc98 270px,#fefd9d 272px,#fefdb5 274.5px,#fcfcd8 277px,#fbfce9 278px,#eef2fd 280.5px,#d3ddfa 282.5px,#869ff4)"></i><i style="background:linear-gradient(#d1232a,#d22c2b 64.5px,#d53c2c 96px,#da542e 117px,#e48134 140px,#eca93c 153.5px,#f5d449 164px,#fdfb68 173.5px,#fdfdbc 183px,#fbfce8 188.5px,#ecf0fd 195.5px,#ccd7f9 201.5px,#6f8cf2 213.5px,#486af0 221px,#3354ee 228px,#2f4fee 233.5px,#3758ef 238.5px,#4d6ff0 243.5px,#7491f2 248.5px,#d5defa 256px,#eff3fc 259px,#fbfce6 262.5px,#fdfdba 266px,#fefd9f 269px,#fefc98 271px,#fefd9e 273px,#fdfdb6 275.5px,#fcfcdb 278px,#fafbea 279px,#ecf1fd 281.5px,#d1dbfa 283.5px,#99aff5)"></i><i style="background:linear-gradient(#d1232a,#d22b2b 65px,#d53b2c 96.5px,#da532e 117.5px,#e38033 140.5px,#eca83b 154px,#f5d549 165px,#fdfb69 174.5px,#fdfdbc 184px,#fbfce9 189.5px,#eef2fd 196px,#cbd7f9 202.5px,#6e8cf2 214.5px,#4869f0 222px,#3354ee 229px,#2f4fee 234.5px,#3858ef 239.5px,#4e70f0 244.5px,#7592f2 249.5px,#d6dffa 257px,#f0f3fc 260px,#fafbea 263px,#fdfdb8 267px,#fefd9e 270px,#fefc98 272px,#fefd9f 274px,#fdfdbe 277px,#fbfce6 279.5px,#f0f3fc 282px,#cfd9fa 284.5px,#adbff6)"></i><i style="background:linear-gradient(#d1232a,#d22b2b 65.5px,#d53b2c 97px,#da532e 118px,#e38034 141.5px,#eca83b 155px,#f5d549 166px,#fdfb66 175px,#fdfdbd 185px,#fbfce9 190.5px,#edf1fd 197px,#cbd6f9 203.5px,#6d8bf2 215.5px,#4769f0 223px,#3353ee 230px,#2f4fee 235.5px,#3859ef 240.5px,#4e70f0 245.5px,#718ef2 250px,#bfcdf8 256px,#d7e0fb 258px,#eef2fd 260.5px,#fbfce9 264px,#fdfdbc 267.5px,#fefda0 270.5px,#fefc98 272.5px,#fefd9c 274.5px,#fefdad 276.5px,#fcfccd 279px,#fbfce7 280.5px,#eff3fc 283px,#cdd8f9 285.5px,#c2cff8)"></i><i style="background:linear-gradient(#d1232a,#d22b2b 66px,#d53b2c 97.5px,#da532e 119px,#e38034 142.5px,#eca93c 156px,#f5d549 167px,#fdfb66 176px,#fdfdbe 186px,#fafbe9 191.5px,#edf1fd 198px,#ced9fa 204px,#708df2 216px,#4769ef 224px,#3353ee 231px,#2f4fee 236.5px,#3859ef 241.5px,#4f71f0 246.5px,#728ff2 251px,#d3ddfa 258.5px,#eff3fd 261.5px,#fbfce8 265px,#fdfdbb 268.5px,#fefd9f 271.5px,#fefc97 273.5px,#fefd9c 275.5px,#fefdae 277.5px,#fcfcce 280px,#fbfce8 281.5px,#eff3fd 284px,#d4defa)"></i><i style="background:linear-gradient(#d1232a,#d22b2b 66.5px,#d53b2c 98.5px,#da522e 119.5px,#e37f33 143px,#eca73b 156.5px,#f5d64a 168px,#fdfb67 177px,#fdfdbb 186.5px,#fafbea 192.5px,#ecf1fd 199px,#cdd8f9 205px,#6f8df2 217px,#496af0 224.5px,#3354ee 231.5px,#2f4fee 237px,#3758ef 242px,#4c6ef0 247px,#7390f2 252px,#d4defa 259.5px,#eff3fd 262.5px,#fbfce6 266px,#fdfdb9 269.5px,#fefd9d 272.5px,#fefc96 274.5px,#fefd9b 276.5px,#fefdad 278.5px,#fcfcce 281px,#fbfce9 282.5px,#eff3fd 285px,#e2e8fc)"></i><i style="background:linear-gradient(#d1232a,#d22b2b 67px,#d53b2c 99px,#da522e 120.5px,#e37f33 144px,#eca73b 157.5px,#f5d448 168.5px,#fdfb68 178px,#fdfdbb 187.5px,#fafbea 193.5px,#ecf1fd 200px,#cdd8f9 206px,#6f8df2 218px,#486af0 225.5px,#3354ee 232.5px,#2f4fee 238px,#3758ef 243px,#4d6ef0 248px,#7390f2 253px,#d5defa 260.5px,#eff3fc 263.5px,#fbfce5 267px,#fdfdb8 270.5px,#fefd9b 273.5px,#fefc94 275.5px,#fefc99 277.5px,#fefdac 279.5px,#fcfccd 282px,#fbfce8 283.5px,#eff3fd)"></i><i style="background:linear-gradient(#d1232a,#d22b2b 68px,#d53b2c 100px,#da522e 121.5px,#e38033 145px,#eca83b 158.5px,#f5d449 169.5px,#fdfb68 179px,#fdfdbc 188.5px,#fbfce8 194px,#ecf0fd 201px,#ccd7f9 207px,#6f8cf2 219px,#486af0 226.5px,#3353ee 233.5px,#2f4fee 239px,#3758ef 244px,#4d6ff0 249px,#7491f2 254px,#d6dffa 261.5px,#f0f3fb 264.5px,#fbfce9 267.5px,#fdfdb6 271.5px,#fefc99 274.5px,#fefc92 276.5px,#fefc97 278.5px,#fefdaa 280.5px,#fcfccc 283px,#fbfce8 284.5px,#f4f7f4)"></i><i style="background:linear-gradient(#d1232a,#d22b2b 68.5px,#d53a2c 100.5px,#da522e 122px,#e37e33 145.5px,#eba63b 159px,#f5d449 170.5px,#fdfb68 180px,#fdfdbc 189.5px,#fbfce9 195px,#eef2fd 201.5px,#ccd7f9 208px,#6e8cf2 220px,#4869f0 227.5px,#3353ee 234.5px,#2f4fee 240px,#3758ef 245px,#4d6ff0 250px,#7591f2 255px,#d7dffa 262.5px,#eef2fd 265px,#fbfce9 268.5px,#fdfdba 272px,#fefc9a 275px,#fefc90 277px,#fefc92 279px,#fefda2 281px,#fcfccb 284px,#fbfce6 285.5px,#f9fbeb)"></i><i style="background:linear-gradient(#d1232a,#d22b2b 69px,#d53a2c 101.5px,#da522e 123px,#e37f33 146.5px,#eba63b 160px,#f5d549 171.5px,#fdfb69 181px,#fdfdbc 190.5px,#fbfce9 196px,#eef2fd 202.5px,#ccd7f9 209px,#6e8cf2 221px,#4869f0 228.5px,#3353ee 235.5px,#2f4fee 241px,#3758ef 246px,#4d6ff0 251px,#708ef2 255.5px,#b1c2f7 260.5px,#d7e0fb 263.5px,#eef2fd 266px,#fbfce7 269.5px,#fdfdb8 273px,#fefc97 276px,#fefc8d 278px,#fefc8f 280px,#fefd9f 282px,#fdfdc8 285px,#fcfcda)"></i><i style="background:linear-gradient(#d1232a,#d22b2b 69.5px,#d53a2c 102px,#da512e 123.5px,#e37f33 147.5px,#eba63b 161px,#f5d549 172.5px,#fdfb69 182px,#fdfdbc 191.5px,#fbfce9 197px,#eef2fd 203.5px,#cbd7f9 210px,#6e8cf2 222px,#4869f0 229.5px,#3353ee 236.5px,#2f4fee 242px,#3758ef 247px,#4e6ff0 252px,#718ef2 256.5px,#b1c2f7 261.5px,#d3ddfa 264px,#eff3fd 267px,#fbfce6 270.5px,#fefdb6 274px,#fefc94 277px,#fdfc8a 279px,#fefc8c 281px,#fefd9b 283px,#fdfdc6)"></i><i style="background:linear-gradient(#d1232a,#d22b2b 70.5px,#d53a2c 103px,#da512e 124.5px,#e37f33 148.5px,#eba63b 162px,#f5d549 173.5px,#fdfb69 183px,#fdfdbc 192.5px,#fbfce9 198px,#eef2fd 204.5px,#cbd7f9 211px,#6e8cf2 223px,#4769f0 230.5px,#3353ee 237.5px,#2f4fee 243px,#3758ef 248px,#4e70f0 253px,#718ef2 257.5px,#b9c8f8 263px,#d4ddfa 265px,#eff3fd 268px,#fafbea 271px,#fefda0 276.5px,#fefc8b 279px,#fdfc86 281px,#fefc8e 283px,#fefda4 285px,#fefdb3)"></i><i style="background:linear-gradient(#d1232a,#d22a2b 71px,#d53a2c 104px,#da512e 125.5px,#e37e33 149.5px,#eba63b 163px,#f5d549 174.5px,#fdfb69 184px,#fdfdbc 193.5px,#fbfce9 199px,#eef2fd 205.5px,#cbd7f9 212px,#6e8cf2 224px,#4769f0 231.5px,#3253ee 238.5px,#2f4fee 244px,#3758ef 249px,#4e70f0 254px,#718ef2 258.5px,#b9c8f8 264px,#d4ddfa 266px,#eff3fc 269px,#fafce9 272px,#fefd9d 277.5px,#fdfc87 280px,#fdfc82 282px,#fdfc8a 284px,#fefd9f)"></i><i style="background:linear-gradient(#d1232a,#d22a2b 72px,#d53a2c 105px,#da512e 126.5px,#e37e33 150.5px,#eba63b 164px,#f5d449 175.5px,#fdfb68 185px,#fdfdbc 194.5px,#fbfce9 200px,#eef2fd 206.5px,#ccd7f9 213px,#6e8cf2 225px,#4869f0 232.5px,#3253ee 239.5px,#2e4fee 245px,#3758ef 250px,#4e6ff0 255px,#718ef2 259.5px,#b9c8f8 265px,#d4defa 267px,#eff3fc 270px,#fbfce9 273px,#fefda1 278px,#fdfc87 280.5px,#fdfc7e 282.5px,#fdfc81 284.5px,#fefc8d)"></i><i style="background:linear-gradient(#d1232a,#d22a2b 72.5px,#d5392c 105.5px,#da512e 127.5px,#e37e33 151.5px,#eba63b 165px,#f5d448 176.5px,#fdfb68 186px,#fdfdbc 195.5px,#fbfce8 201px,#ecf0fd 208px,#ccd7f9 214px,#6e8cf2 226px,#4869f0 233.5px,#3353ee 240.5px,#2e4fee 246px,#3758ef 251px,#4d6ff0 256px,#718ef2 260.5px,#b2c3f7 265.5px,#d4defa 268px,#f0f3fc 271px,#fbfce8 274px,#fefd9e 279px,#fdfc83 281.5px,#fdfc79 283.5px,#fdfc7c 285.5px,#fdfc7f)"></i><i style="background:linear-gradient(#d1232a,#d22a2a 73px,#d5392c 106.5px,#da512e 128.5px,#e37e33 152.5px,#eba53b 166px,#f5d64a 178px,#fdfb67 187px,#fdfdbb 196.5px,#fafbea 202.5px,#ecf1fd 209px,#cdd8f9 215px,#6f8cf2 227px,#4869f0 234.5px,#3353ee 241.5px,#2e4fee 247px,#3758ef 252px,#4d6ff0 257px,#708ef2 261.5px,#b2c3f7 266.5px,#d4defa 269px,#f0f3fc 272px,#fbfce7 275px,#fefc94 280.5px,#fdfc7b 283px,#fdfc74 285px,#fdfc75)"></i><i style="background:linear-gradient(#d1232a,#d22a2a 74px,#d5392c 107.5px,#da512d 129.5px,#e37e33 153.5px,#eba53b 167px,#f5d549 179px,#fdfb67 188px,#fdfdba 197.5px,#fafbe9 203.5px,#ecf1fd 210px,#cdd8f9 216px,#6f8df2 228px,#486af0 235.5px,#3353ee 242.5px,#2e4fee 248px,#3757ef 253px,#4d6ff0 258px,#708df2 262.5px,#abbdf6 267px,#d4defa 270px,#f0f3fc 273px,#fbfce7 276px,#fefc8b 282px,#fdfc77 284px,#fdfb6f)"></i><i style="background:linear-gradient(#d1232a,#d22a2a 74.5px,#d5392c 108px,#d9502d 130px,#e37e33 154.5px,#eba53b 168px,#f5d549 180px,#fdfb66 189px,#fdfdbd 199px,#fbfce9 204.5px,#edf1fd 211px,#ced9fa 217px,#708df2 229px,#496af0 236.5px,#3353ee 243.5px,#2e4fee 249px,#3757ef 254px,#4c6ef0 259px,#6f8df2 263.5px,#a3b7f6 267.5px,#d4ddfa 271px,#f0f3fc 274px,#fbfce6 277px,#fdfc87 283px,#fdfb73 285px,#fdfb6c)"></i><i style="background:linear-gradient(#d1232a,#d22a2a 75.5px,#d5392c 109px,#d94f2d 131px,#e37c33 155px,#eba33a 168.5px,#f5d549 181px,#fdfb69 190.5px,#fdfdbd 200px,#fbfce9 205.5px,#edf2fd 212px,#cbd6f9 218.5px,#6d8bf2 230.5px,#4768ef 238px,#3253ee 245px,#2e4fee 250.5px,#3859ef 255.5px,#4f71f0 260.5px,#7390f2 265px,#d3ddfa 272px,#f0f3fc 275px,#fbfce6 278px,#fdfc84 284px,#fdfb6e)"></i><i style="background:linear-gradient(#d1232a,#d22a2a 76.5px,#d5392c 110px,#d94f2d 132px,#e37c33 156px,#eba43a 170px,#f5d448 182px,#fdfb68 191.5px,#fdfdbb 201px,#fbfce8 206.5px,#ecf0fd 213.5px,#ccd7f9 219.5px,#6e8cf2 231.5px,#4769f0 239px,#3253ee 246px,#2e4fee 251.5px,#3758ef 256.5px,#4e70f0 261.5px,#7290f2 266px,#c5d2f9 272px,#d8e0fb 273.5px,#eff3fc 276px,#fbfce6 279px,#fdfc81 285px,#fdfc74)"></i><i style="background:linear-gradient(#d1232a,#d22a2a 77px,#d5392c 111px,#d94f2d 133px,#e27b33 157px,#eba33a 171px,#f5d549 183.5px,#fdfb66 192.5px,#fdfdbe 202.5px,#fafbe9 208px,#ecf1fd 214.5px,#cdd8f9 220.5px,#6f8df2 232.5px,#486af0 240px,#3353ee 247px,#2e4eee 252.5px,#3758ef 257.5px,#4d6ff0 262.5px,#718ff2 267px,#b5c5f7 272px,#d7e0fb 274.5px,#eff3fc 277px,#fbfce6 280px,#fdfc7f)"></i><i style="background:linear-gradient(#d1232a,#d22a2a 78px,#d5382c 112px,#d94f2d 134px,#e27b33 158px,#eba33a 172px,#f5d549 184.5px,#fdfb69 194px,#fdfdbd 203.5px,#fbfce9 209px,#edf2fd 215.5px,#cbd6f9 222px,#708ef2 233.5px,#496af0 241px,#3353ee 248px,#2e4eee 253.5px,#3657ef 258.5px,#4d6ef0 263.5px,#708ef2 268px,#a5b9f6 272px,#d6dffa 275.5px,#eff3fd 278px,#fbfce7 281px,#fefc8d)"></i><i style="background:linear-gradient(#d1232a,#d22a2a 79px,#d5382c 113px,#d94e2d 135px,#e27932 158.5px,#eaa039 172.5px,#f5d64a 186px,#fdfb67 195px,#fdfdbb 204.5px,#fafbea 210.5px,#ecf1fd 217px,#ccd7f9 223px,#6e8cf2 235px,#4769f0 242.5px,#3253ee 249.5px,#2e4fee 255px,#3758ef 260px,#4f70f0 265px,#7390f2 269.5px,#d5defa 276.5px,#eef2fd 279px,#fbfce8 282px,#fefd9f)"></i><i style="background:linear-gradient(#d1232a,#d2292a 79.5px,#d5382c 114px,#d94f2d 136.5px,#e27b33 160.5px,#eba33a 174.5px,#f5d549 187px,#fdfb66 196px,#fdfdbd 206px,#fbfce9 211.5px,#edf1fd 218px,#ced9fa 224px,#708df2 236px,#486af0 243.5px,#3353ee 250.5px,#2e4eee 256px,#3757ef 261px,#4d6ff0 266px,#728ff2 270.5px,#b6c6f7 275.5px,#d3ddfa 277.5px,#edf1fd 280px,#fbfce9 283px,#fefdb3)"></i><i style="background:linear-gradient(#d1232a,#d2292a 80.5px,#d5382c 115px,#d94e2d 137.5px,#e27932 161px,#eaa039 175px,#f5d64a 188.5px,#fdfb67 197.5px,#fdfdbb 207px,#fafbea 213px,#ecf0fd 219.5px,#ccd7f9 225.5px,#6e8cf2 237.5px,#4769f0 245px,#3253ee 252px,#2e4fee 257.5px,#3858ef 262.5px,#4f71f0 267.5px,#7592f2 272px,#d7e0fa 279px,#eff3fc 281.5px,#fafbea 284px,#fdfdc6)"></i><i style="background:linear-gradient(#d1232a,#d2292a 81.5px,#d5382c 116px,#d94e2d 138.5px,#e27932 162px,#ea9f39 176px,#f4cf45 188px,#fdfa65 198.5px,#fdfdc1 209px,#fbfce9 214px,#edf2fd 220.5px,#ced9fa 226.5px,#708df2 238.5px,#486af0 246px,#3353ee 253px,#2e4eee 258.5px,#3758ef 263.5px,#4e6ff0 268.5px,#728ff2 273px,#c0cdf8 278.5px,#d5defa 280px,#eff3fd 282.5px,#fbfce5 285.5px,#fcfcdb)"></i><i style="background:linear-gradient(#d1232a,#d2292a 82.5px,#d5382c 117.5px,#d94e2d 140px,#e27932 163.5px,#eaa039 177.5px,#f4cf46 189.5px,#fdfb66 200px,#fdfdbe 210px,#fafbe9 215.5px,#ecf1fd 222px,#cdd8f9 228px,#6e8cf2 240px,#4869f0 247.5px,#3253ee 254.5px,#2e4eee 260px,#3758ef 265px,#4f71f0 270px,#7592f2 274.5px,#d8e0fb 281.5px,#ecf1fd 283.5px,#f9faec)"></i><i style="background:linear-gradient(#d1232a,#d2292a 83.5px,#d5382c 118.5px,#d94e2d 141px,#e27832 164.5px,#ea9f39 178.5px,#f3ce45 190.5px,#fdfa65 201px,#fefda2 208px,#fcfccb 213px,#fbfce8 216.5px,#eef2fd 223px,#ccd7f9 229.5px,#6d8bf2 241.5px,#4768ef 249px,#3353ee 255.5px,#2e4eee 261px,#3757ef 266px,#4d6ff0 271px,#728ff2 275.5px,#b8c8f7 280.5px,#d5defa 282.5px,#eff3fd 285px,#f3f6f5)"></i><i style="background:linear-gradient(#d1232a,#d2292a 84.5px,#d5372c 119.5px,#d94d2d 142px,#e17632 165px,#e99c38 179px,#f3ca44 191px,#f8e253 197px,#fdfb69 203px,#fdfdbd 212.5px,#fbfce9 218px,#edf2fd 224.5px,#ced9fa 230.5px,#708df2 242.5px,#486af0 250px,#3253ee 257px,#2e4eee 262.5px,#3758ef 267.5px,#4e70f0 272.5px,#7491f2 277px,#d7e0fb 284px,#edf1fd)"></i><i style="background:linear-gradient(#d1232a,#d2292a 85.5px,#d5372c 121px,#d94d2d 143.5px,#e17732 166.5px,#e99c38 180.5px,#f3ca44 192.5px,#f8e353 198.5px,#fdfb69 204.5px,#fdfdbd 214px,#fbfce9 219.5px,#edf1fd 226px,#ced8f9 232px,#6f8df2 244px,#4869f0 251.5px,#3253ee 258.5px,#2e4eee 264px,#3758ef 269px,#4f71f0 274px,#7692f2 278.5px,#d4ddfa 285px,#dfe6fb)"></i><i style="background:linear-gradient(#d0232a,#d2292a 86.5px,#d5372c 122px,#d94d2d 144.5px,#e17632 167.5px,#e99b38 181.5px,#f2c844 193.5px,#f7dd4f 198.5px,#fdfb66 205.5px,#fdfdbe 215.5px,#fafce9 221px,#edf1fd 227.5px,#cdd8f9 233.5px,#6f8cf2 245.5px,#4769f0 253px,#3253ee 260px,#2e4eee 265.5px,#3859ef 270.5px,#5072f0 275.5px,#728ff2 279.5px,#b1c2f7 284px,#d0dafa)"></i><i style="background:linear-gradient(#d0232a,#d2292a 87.5px,#d4372b 123px,#d94d2d 146px,#e17632 169px,#e99b38 183px,#f2c844 195px,#f7dd4f 200px,#fdfb66 207px,#fdfdbe 217px,#fafbe9 222.5px,#ecf1fd 229px,#cdd8f9 235px,#6e8cf2 247px,#4769f0 254.5px,#3353ee 261px,#2e4eee 266.5px,#3657ef 271.5px,#4d6ff0 276.5px,#7290f2 281px,#bac9f8)"></i><i style="background:linear-gradient(#d0232a,#d2292a 88.5px,#d4372b 124.5px,#d94d2d 147.5px,#e17632 170.5px,#e99b38 184.5px,#f2c844 196.5px,#f7dd4f 201.5px,#fdfb66 208.5px,#fdfdbe 218.5px,#fafbe9 224px,#ecf1fd 230.5px,#cdd8f9 236.5px,#6e8cf2 248.5px,#4769f0 256px,#3353ee 262.5px,#2e4eee 268px,#3657ef 273px,#4a6cf0 277.5px,#6e8cf2 282px,#95acf5 285px,#a5b8f6)"></i><i style="background:linear-gradient(#d0232a,#d2292a 90px,#d4372b 126px,#d94d2d 149px,#e17432 171.5px,#e99a38 186px,#f2c844 198px,#f6db4d 202.5px,#fdfb66 210px,#fdfdbe 220px,#fbfce9 225.5px,#edf1fd 232px,#cdd8f9 238px,#6e8cf2 250px,#4769f0 257.5px,#3354ee 264px,#2e4eee 269.5px,#3657ef 274.5px,#4a6cf0 279px,#6e8cf2 283.5px,#8ea6f4)"></i><i style="background:linear-gradient(#d0232a,#d2292a 91px,#d4362b 127px,#d94c2d 150px,#e07231 172px,#e89737 186.5px,#f2c543 199px,#f6d84c 203.5px,#fdfb69 212px,#fdfdbd 221.5px,#fbfce9 227px,#edf1fd 233.5px,#ced9fa 239.5px,#6f8df2 251.5px,#4869f0 259px,#3354ee 265.5px,#2e4eee 271px,#3657ef 276px,#4a6cf0 280.5px,#6987f2 284.5px,#7995f3)"></i><i style="background:linear-gradient(#d0232a,#d2292a 92.5px,#d4372b 129px,#d94c2d 152px,#e17431 174.5px,#e99a38 189px,#f2c743 201px,#f6dc4e 206px,#fdfb68 213.5px,#fdfdbc 223px,#fbfce9 228.5px,#eef2fd 235px,#cbd6f9 241.5px,#708df2 253px,#486af0 260.5px,#3253ee 267.5px,#2e4eee 273px,#3858ef 278px,#5072f0 283px,#6887f2)"></i><i style="background:linear-gradient(#d0232a,#d2282a 93.5px,#d4362b 130px,#d94c2d 153px,#e07231 175px,#e89637 189.5px,#f1c443 202px,#f6d94c 207px,#fdfb66 215px,#fdfdbe 225px,#fafbea 230.5px,#ecf1fd 237px,#ccd7f9 243px,#6e8cf2 255px,#4768ef 262.5px,#3353ee 269px,#2e4eee 274.5px,#3758ef 279.5px,#4c6ef0 284px,#5a7bf1)"></i><i style="background:linear-gradient(#d0222a,#d2282a 95px,#d4362b 131.5px,#d94b2d 154.5px,#e07031 176px,#e89437 190.5px,#f1c142 203px,#f5d64a 208px,#fdfb69 217px,#fdfdbd 226.5px,#fbfce9 232px,#edf2fd 238.5px,#ced9fa 244.5px,#6f8df2 256.5px,#4869f0 264px,#3354ee 270.5px,#2e4eee 276px,#3657ef 281px,#4b6cf0 285.5px,#4e70f0)"></i><i style="background:linear-gradient(#d0222a,#d2282a 96px,#d4362b 133px,#d94b2d 156.5px,#e07131 178.5px,#e89637 193px,#f1c443 205.5px,#f6d94c 210.5px,#fdfb66 218.5px,#fdfdbe 228.5px,#fafbea 234px,#ecf1fd 240.5px,#ccd7f9 246.5px,#6e8bf2 258.5px,#4768ef 266px,#3353ee 272.5px,#2e4eee 278px,#3758ef 283px,#4465ef)"></i><i style="background:linear-gradient(#d0222a,#d2282a 97.5px,#d4362b 134.5px,#d94b2d 158px,#e07031 179.5px,#e89337 194px,#f1c042 206.5px,#f5d84b 212px,#fdfb68 220.5px,#fdfdbc 230px,#fbfce8 235.5px,#eef2fd 242px,#cbd6f9 248.5px,#708df2 260px,#486af0 267.5px,#3354ee 274px,#2e4eee 279.5px,#3657ef 284.5px,#3c5def)"></i><i style="background:linear-gradient(#d0222a,#d2282a 99px,#d4362b 136.5px,#d94b2d 160px,#e07031 181.5px,#e89437 196px,#f1c142 208.5px,#f5d64a 213.5px,#fdfb68 222.5px,#fdfdbc 232px,#fbfce9 237.5px,#edf2fd 244px,#ced9fa 250px,#6f8df2 262px,#4869f0 269.5px,#3354ee 276px,#2e4eee 281.5px,#3556ee)"></i><i style="background:linear-gradient(#d0222a,#d2282a 100.5px,#d4352b 138px,#d84b2d 161.5px,#e06e31 182.5px,#e79237 197.5px,#f0bf41 210px,#f5d64a 215.5px,#fdfb69 224.5px,#fdfdbd 234px,#fbfce9 239.5px,#edf1fd 246px,#ced8f9 252px,#6f8cf2 264px,#4769f0 271.5px,#3353ee 278px,#2e4eee 283.5px,#3151ee)"></i><i style="background:linear-gradient(#d0222a,#d2282a 102px,#d4352b 140px,#d84b2d 163.5px,#e06e31 184.5px,#e79237 199.5px,#f0bf41 212px,#f5d64a 217.5px,#fdfb69 226.5px,#fdfdbd 236px,#fbfce9 241.5px,#edf1fd 248px,#ced9fa 254px,#6f8cf2 266px,#4769f0 273.5px,#3353ee 280px,#2e4eee 285.5px,#2e4fee)"></i><i style="background:linear-gradient(#d0222a,#d2282a 104px,#d4352b 142px,#d84a2d 165.5px,#e06e30 186.5px,#e79237 201.5px,#f0be41 214px,#f5d64a 219.5px,#fdfb68 228.5px,#fdfdbc 238px,#fbfce9 243.5px,#edf2fd 250px,#ced9fa 256px,#6f8df2 268px,#4869f0 275.5px,#3354ee 282px,#2e4eee)"></i><i style="background:linear-gradient(#d0222a,#d2282a 105.5px,#d4352b 143.5px,#d84a2d 167.5px,#df6d30 188px,#e79036 203px,#f0bc40 215.5px,#f5d74b 222px,#fdfb66 230.5px,#fdfdbb 240px,#fafbea 246px,#ecf0fd 252.5px,#ccd7f9 258.5px,#6d8bf2 270.5px,#4668ef 278px,#3253ee 284.5px,#3050ee)"></i><i style="background:linear-gradient(#d0222a,#d1282a 107.5px,#d4352b 145.5px,#d84a2d 169.5px,#df6b30 189.5px,#e68e36 204.5px,#efb840 217px,#f5d64a 224px,#fdfb68 233px,#fdfdbd 242.5px,#fbfce9 248px,#edf1fd 254.5px,#ced9fa 260.5px,#6f8cf2 272.5px,#4769f0 280px,#3455ee)"></i><i style="background:linear-gradient(#d0222a,#d1282a 109.5px,#d4352b 148px,#d84a2d 172px,#df6c30 192.5px,#e79036 207.5px,#f0bb40 220px,#f5d74a 226.5px,#fdfb66 235px,#fdfdbe 245px,#fafbe9 250.5px,#ecf1fd 257px,#cdd8f9 263px,#6e8bf2 275px,#4768ef 282.5px,#3a5bef)"></i><i style="background:linear-gradient(#d0222a,#d1282a 111.5px,#d4352b 150px,#d84a2d 174px,#df6a30 193.5px,#e68c35 208.5px,#efb73f 221.5px,#f5d549 228.5px,#fdfb66 237.5px,#fdfdbe 247.5px,#fafbea 253px,#ecf1fd 259.5px,#ccd7f9 265.5px,#6d8bf2 277.5px,#4668ef 285px,#4264ef)"></i><i style="background:linear-gradient(#d0222a,#d1272a 113.5px,#d4342b 152.5px,#d8492d 176.5px,#df6a30 196px,#e68b35 211px,#efb73f 224px,#f5d549 231px,#fdfb66 240px,#fdfdbe 250px,#fafbe9 255.5px,#ecf1fd 262px,#ccd7f9 268px,#6d8bf2 280px,#4d6ff0)"></i><i style="background:linear-gradient(#d0222a,#d1272a 115.5px,#d4342b 154.5px,#d8492d 178.5px,#de652f 196px,#e58735 212px,#eeb13e 225px,#f5d64a 234px,#fdfb69 243px,#fdfdbd 252.5px,#fbfce9 258px,#edf1fd 264.5px,#cdd8f9 270.5px,#6e8cf2 282.5px,#5a7bf1)"></i><i style="background:linear-gradient(#d0222a,#d1272a 118px,#d4342b 157.5px,#d8492d 181.5px,#de662f 199.5px,#e58835 215px,#eeb23e 228px,#f5d549 236.5px,#fdfb66 245.5px,#fdfdbb 255px,#fafbea 261px,#ecf0fd 267.5px,#ccd7f9 273.5px,#708df2 285px,#6a88f2)"></i><i style="background:linear-gradient(#d0222a,#d1272a 120px,#d4342b 159.5px,#d8482d 184px,#de652f 201.5px,#e58835 218px,#eeb23e 231px,#f5d649 239.5px,#fdfb67 248.5px,#fdfdbb 258px,#fbfce8 263.5px,#eef2fd 270px,#cbd6f9 276.5px,#7e99f3)"></i><i style="background:linear-gradient(#d0222a,#d1272a 122.5px,#d4342b 162.5px,#d8482d 187px,#de642f 204.5px,#e58835 221px,#eeb23e 234px,#f5d549 242.5px,#fdfb67 251.5px,#fdfdbb 261px,#fafbea 267px,#ecf0fd 273.5px,#cbd7f9 279.5px,#97adf5)"></i><i style="background:linear-gradient(#d0222a,#d1272a 125.5px,#d4342b 165.5px,#d8482d 190px,#de652f 208px,#e58735 224px,#eeb13e 237px,#f5d449 245.5px,#fdfb69 255px,#fdfdbd 264.5px,#fbfce9 270px,#edf1fd 276.5px,#cdd8f9 282.5px,#b1c2f7)"></i><i style="background:linear-gradient(#d0222a,#d1272a 128.5px,#d4332b 168.5px,#d8482d 193px,#dd642f 211px,#e58735 227.5px,#eeb13e 240.5px,#f5d549 249px,#fdfb66 258px,#fdfdbe 268px,#fafbe9 273.5px,#ecf1fd 280px,#ccd7f9)"></i><i style="background:linear-gradient(#d0222a,#d1272a 131.5px,#d4332b 172px,#d8472d 196.5px,#dd642f 214.5px,#e58735 231px,#eeb13e 244px,#f5d449 252.5px,#fdfb69 262px,#fdfdbd 271.5px,#fbfce9 277px,#edf1fd 283.5px,#e0e7fc)"></i><i style="background:linear-gradient(#d0222a,#d1272a 134.5px,#d4332b 175.5px,#d8472d 200px,#dd632f 218px,#e58735 235px,#eeb13e 248px,#f5d549 256.5px,#fdfb66 265.5px,#fdfdbe 275.5px,#fafbea 281px,#f1f4fa)"></i><i style="background:linear-gradient(#d0222a,#d1272a 138px,#d4332b 179px,#d8472d 204px,#dd632f 222px,#e58735 239px,#eeb13e 252px,#f5d549 260.5px,#fdfb66 269.5px,#fdfdbe 279.5px,#fafbe9 285px,#f9faed)"></i><i style="background:linear-gradient(#d0222a,#d1272a 142px,#d4332b 183.5px,#d8472d 208.5px,#dd632f 226.5px,#e58835 243.5px,#eeb23e 256.5px,#f5d549 265px,#fdfb66 274px,#fdfdbb 283.5px,#fcfcce)"></i><i style="background:linear-gradient(#d0222a,#d1262a 146px,#d4322b 187.5px,#d8462d 212.5px,#dd622f 230.5px,#e58735 248px,#eeb13e 261px,#f5d64a 270px,#fdfb69 279px,#fefda8)"></i><i style="background:linear-gradient(#d0222a,#d1262a 150.5px,#d4322b 192.5px,#d8462d 217.5px,#dd622f 235.5px,#e58735 253px,#edb03e 266px,#f5d64a 275px,#fdfb68 284px,#fdfc79)"></i><i style="background:linear-gradient(#d0222a,#d1262a 155.5px,#d4322b 198px,#d8462d 223px,#dd612f 241px,#e58635 258.5px,#edb03d 271.5px,#f5d649 280.5px,#faec5a)"></i><i style="background:linear-gradient(#d0222a,#d1262a 161px,#d4322b 203.5px,#d7462d 229px,#dd612f 247px,#e58635 264.5px,#edaf3d 277.5px,#f4d348)"></i><i style="background:linear-gradient(#d0222a,#d1262a 167px,#d4322b 210px,#d7462d 235.5px,#dd622f 254px,#e58735 271.5px,#edb03e 284.5px,#efb63f)"></i><i style="background:linear-gradient(#d0222a,#d1262a 174px,#d4322b 217.5px,#d7452d 243px,#dd612f 261.5px,#e58635 279px,#e99b38)"></i><i style="background:linear-gradient(#d0222a,#d1262a 182px,#d3312b 225.5px,#d7452d 251.5px,#dd612f 270px,#e48234)"></i><i style="background:linear-gradient(#d0222a,#d1262a 191px,#d3312b 235.5px,#d7452d 261.5px,#dd602f 280px,#df6c30)"></i><i style="background:linear-gradient(#d0222a,#d1262a 202.5px,#d3312b 247px,#d7442d 273px,#db562e)"></i><i style="background:linear-gradient(#d0222a,#d1262a 216.5px,#d3312b 261.5px,#d7422c)"></i><i style="background:linear-gradient(#d0222a,#d1262a 235.5px,#d3312b 281px,#d4332b)"></i><i style="background:linear-gradient(#d0222a,#d1252a 263px,#d2292a)"></i><i style="background:linear-gradient(#d0222a,#d1232a)"></i><i class="n" style="opacity:.5;background:linear-gradient(#d0222a,#d1232a)"></i></div><svg class="b" style="left:47px;top:8px" width="286" height="286" viewBox="0 0 286 286" shape-rendering="geometricPrecision"><path fill="#fbf15e" d="M0,0 286,0 286,286 264.4,286 258.4,271 250.8,256 242,242.4 232,229.9 221,218.6 208,207.6 193,197 176,186.8 158,177.6 140,169.4 120,161.4 100,154.3 78,147.3 54,140.5 24,132.8 0,127.5Z"/><path fill="#faeb5a" d="M0,0 286,0 286,286 264.9,286 258.5,270 251.5,256 243,242.5 233,229.8 222,218.3 209,207.1 194,196.3 178,186.6 161,177.7 143,169.4 123,161.3 101,153.3 79,146.3 55,139.5 24,131.5 0,126.3Z"/><path fill="#f8e555" d="M0,0 286,0 286,286 265.3,286 259,269.7 251.7,255 243,241.2 233,228.4 222,217 209,205.8 195,195.7 178,185.3 161,176.4 144,168.5 124,160.3 102,152.4 80,145.3 56,138.4 25,130.4 0,124.9Z"/><path fill="#f7df51" d="M0,0 286,0 286,286 265.8,286 259.7,270 252.4,255 244,241.3 234,228.2 223,216.6 210,205.2 195,194.3 179,184.5 162,175.5 143,166.7 123,158.6 101,150.6 79,143.6 54,136.5 24,128.8 0,123.6Z"/><path fill="#f6da4d" d="M0,0 286,0 286,286 266.2,286 260.3,270 253,254.6 244.8,241 235,228 224,216.1 211,204.6 196,193.5 180,183.6 163,174.6 144,165.7 124,157.5 102,149.5 80,142.5 55,135.3 24,127.4 0,122.1Z"/><path fill="#f5d448" d="M0,0 286,0 286,286 266.7,286 260.5,269 253.5,254 245,239.8 235.4,227 224,214.6 212,203.9 198,193.4 181,182.7 164,173.6 145,164.7 125,156.4 103,148.4 81,141.3 57,134.4 25,126.2 0,120.7Z"/><path fill="#f3cd45" d="M0,0 286,0 286,286 267.2,286 261.1,269 254,253.5 245.5,239 236,226.2 225,214.1 212,202.4 198,191.9 182,181.8 165,172.6 146,163.6 126,155.3 104,147.2 80,139.5 56,132.6 24,124.4 0,119.1Z"/><path fill="#f2c643" d="M0,0 286,0 286,286 267.6,286 261.8,269 254.6,253 246.5,239 237,225.8 226,213.5 213,201.6 199,191 183,180.8 166,171.5 147,162.4 126,153.7 104,145.6 82,138.5 57,131.3 24,122.8 0,117.5Z"/><path fill="#f0bf41" d="M0,0 286,0 286,286 268.1,286 262.4,269 255.4,253 247.6,239 238,225.4 227,212.9 215,201.6 201,190.7 184,179.7 167,170.3 148,161.2 127,152.4 105,144.3 81,136.5 57,129.6 25,121.4 0,115.9Z"/><path fill="#efb83f" d="M0,0 286,0 286,286 268.6,286 262.7,268 256,252.5 247.4,237 238.2,224 227,211.1 215,199.9 201,189 185,178.6 167,168.6 148,159.5 127,150.7 105,142.6 81,134.8 56,127.6 25,119.7 0,114.1Z"/><path fill="#edb03e" d="M0,0 286,0 286,286 269.1,286 263.4,268 256.7,252 248.5,237 239,223.2 228,210.4 216,198.9 202,187.9 186,177.3 169,167.8 150,158.5 129,149.6 107,141.4 83,133.6 58,126.3 25,117.8 0,112.3Z"/><path fill="#eca93c" d="M0,0 286,0 286,286 269.7,286 264.4,269 257.6,252 249.7,237 240.3,223 230,210.6 218,198.8 204,187.4 188,176.6 172,167.4 152,157.5 131,148.5 109,140.2 85,132.3 59,124.7 25,115.9 0,110.4Z"/><path fill="#eba23a" d="M0,0 286,0 286,286 270.2,286 264.5,267 258,251 250.3,236 241,221.9 230,208.6 218,196.8 204,185.4 188,174.6 171,164.9 152,155.5 131,146.5 108,137.8 83,129.6 58,122.4 25,113.9 0,108.4Z"/><path fill="#e99a38" d="M0,0 286,0 286,286 270.7,286 265.2,267 258.5,250 251,235.1 242,221.1 231,207.5 219,195.5 206,184.8 190,173.7 173,163.8 154,154.3 134,145.5 110,136.4 86,128.4 59,120.5 25,111.8 0,106.2Z"/><path fill="#e79337" d="M0,0 286,0 286,286 271.3,286 266.3,268 259.5,250 251.7,234 242.8,220 232,206.3 220,194.1 206,182.5 190,171.4 173,161.5 155,152.5 134,143.3 111,134.5 87,126.4 60,118.5 25,109.5 0,104Z"/><path fill="#e68c35" d="M0,0 286,0 286,286 271.9,286 266.7,267 260.6,250 253,234 244,219.3 234,206.2 222,193.6 208,181.6 192,170.3 175,160.2 156,150.5 135,141.2 112,132.4 88,124.3 61,116.3 26,107.3 0,101.5Z"/><path fill="#e48434" d="M0,0 286,0 286,286 272.5,286 267.5,267 261.2,249 253.8,233 244.9,218 235,204.8 223,191.9 209,179.7 193,168.3 176,158.1 157,148.3 135,138.6 112,129.8 87,121.4 60,113.4 25,104.4 0,98.9Z"/><path fill="#e37d33" d="M0,0 286,0 286,286 273.1,286 270.3,274 267.2,263 263.5,252 259.5,242 255.3,233 250.4,224 245,215.3 239.1,207 230,196.2 219,185.3 207,175.3 195,166.8 178,156.4 159,146.5 137,136.6 114,127.6 90,119.5 63,111.4 25,101.6 0,96.1Z"/><path fill="#e17632" d="M0,0 286,0 286,286 273.7,286 270.8,273 267.8,262 264.6,252 260.8,242 256.3,232 251.6,223 246.8,215 241,206.5 232,195.4 221,184.1 209,173.8 196,164.4 178,153.3 159,143.4 137,133.5 114,124.5 90,116.4 63,108.3 26,98.7 0,93Z"/><path fill="#e06f31" d="M0,0 286,0 286,286 274.4,286 271.6,273 268.8,262 265.4,251 261.8,241 257.5,231 253,222.1 248,213.4 242.4,205 233,193.1 223,182.6 211,172 198,162.3 181,151.6 162,141.4 140,131.3 115,121.5 89,112.6 62,104.7 26,95.3 0,89.6Z"/><path fill="#de672f" d="M0,0 286,0 286,286 275.1,286 272.5,273 269.6,261 266.3,250 262.8,240 258.7,230 254.4,221 249.4,212 244,203.5 235,191.7 224,179.8 212,169 199,159.2 182,148.4 162,137.6 140,127.5 117,118.4 91,109.5 64,101.4 26,91.5 0,85.8Z"/><path fill="#dc5e2f" d="M0,0 286,0 286,286 275.8,286 273.4,273 270.7,261 267.6,250 264.4,240 260.6,230 256.1,220 251.3,211 246,202.2 237,189.8 226,177.5 214,166.4 201,156.3 184,145.3 164,134.3 143,124.5 118,114.5 92,105.5 65,97.4 26,87.3 0,81.5Z"/><path fill="#da552e" d="M0,0 286,0 286,286 276.6,286 274.4,273 271.6,260 268.5,248 265.4,238 261.7,228 257.5,218 252.4,208 247.7,200 238.6,187 228,174.6 216,163.2 203,152.9 186,141.6 166,130.4 145,120.5 120,110.3 94,101.3 65,92.5 26,82.3 0,76.6Z"/><path fill="#d94c2d" d="M0,0 286,0 286,286 277.5,286 275.4,273 272.7,259 269.8,247 266.6,236 263.2,226 259.2,216 254.4,206 250,198 241,184.3 230.9,172 219,160.1 205,148.6 187,136.4 168,125.7 147,115.6 122,105.3 95,95.8 67,87.3 26,76.6 0,70.8Z"/><path fill="#d7432c" d="M0,0 286,0 286,286 278.4,286 274.5,261 269.6,239 263.6,220 256.4,203 249.4,190 242.2,179 234,168.5 225,158.7 217,151.2 209,144.6 199,137.2 189,130.6 177,123.4 166,117.6 154,111.7 140,105.5 111,94.2 78,83.4 40,73 23,68.8 0,63.7Z"/><path fill="#d5392c" d="M0,0 286,0 286,286 279.5,286 275.8,259 271.4,237 265.4,216 258.3,198 251.8,185 244,172.4 235,160.6 225,149.7 217,142.2 209,135.5 200,128.8 189,121.5 177,114.4 166,108.5 152,101.7 138,95.6 109,84.4 76,73.8 40,63.9 23,59.7 0,54.7Z"/><path fill="#d3302b" d="M0,0 286,0 286,286 280.7,286 277.6,258 273.3,233 270.5,221 267.5,210 260.8,191 253.8,176 245.5,162 236,149.1 225,137 217,129.5 209,122.8 199,115.4 189,108.8 178,102.2 166,95.8 153,89.4 139,83.2 109,71.7 77,61.3 40,51.2 24,47.2 0,42Z"/><path fill="#d1272a" d="M0,0 286,0 286,286 282.4,286 279.5,252 275.7,224 270.7,200 267.7,189 264.5,179 260.6,169 256.6,160 248,144.2 243,136.6 237.3,129 231,121.6 225,115.3 217,107.8 208,100.4 199,93.7 188,86.5 176,79.4 165,73.6 139,61.6 110,50.4 77,39.7 40,29.6 23,25.4 0,20.3Z"/></svg><div class="p" style="left:355px;top:8px;width:287px"><i style="background:linear-gradient(#d1272a,#d4332b 40px,#d8482d 64.5px,#de652f 82.5px,#e58735 98.5px,#edb03e 111.5px,#f5d64a 120.5px,#fdfb67 129.5px,#fdfdbb 139px,#fbfce8 144.5px,#eef2fd 151px,#ccd7f9 157.5px,#6d8bf2 169.5px,#4769ef 177px,#3454ee 183.5px,#3151ee 189px,#3b5cef 194px,#5274f0 198.5px,#7693f2 202.5px,#c3d0f9 207.5px,#d9e1fb 209px,#f0f3fc 211px,#fafbea 213px,#fdfdbb 215px,#fefd9e 216px,#fdfb6e 217.5px,#fcf763 218px,#f5d448 220px,#e79136 223.5px,#df6d30 226px,#da532e 228.5px,#d94b2d 230.5px,#d9502d 232px,#dc5d2f 233.5px,#e48234 236px,#edac3d 238px,#f5d448 239.5px,#fcf863 241px,#fdfc76 241.5px,#fdfdbb 243px,#fbfce1 244px,#f8faed 244.5px,#f0f3fc 245.5px,#d2dcfa 247px,#7995f3 250px,#5274f0 252px,#3b5cef 254px,#3152ee 256px,#3454ee 257.5px,#4465ef 259.5px,#5b7bf1 261px,#6f8df2 262px,#adbff6 264px,#ced9fa 265px,#eff3fc 266.5px,#f8faed 267.5px,#fbfce2 268px,#fdfc74 271px,#fdfb66 271.5px,#faec5a 273px,#f9e959 274.5px,#fcf561 276px,#fdfb66 276.5px,#fdfc85 277.5px,#fbfce1 280px,#f8faed 280.5px,#f0f4fb 281.5px,#d4ddfa 283px,#a3b7f6 285px,#91a9f4)"></i><i style="background:linear-gradient(#d1272a,#d4342b 40.5px,#d8482d 65px,#de652f 83px,#e58735 99px,#eeb03e 112px,#f5d64a 121px,#fdfb68 130px,#fdfdbc 139.5px,#fbfce9 145px,#eef2fd 151.5px,#cbd6f9 158px,#708df2 169.5px,#496af0 177px,#3555ee 183.5px,#3051ee 189px,#3a5bef 194px,#4f71f0 198.5px,#718ff2 202.5px,#a4b8f6 206px,#d4ddfa 209px,#f0f4fb 211.5px,#fafbea 213.5px,#fefdad 216px,#fdfb6d 218px,#fcf662 218.5px,#f5d448 220.5px,#e79136 224px,#df6d30 226.5px,#da532e 229px,#d94c2d 231px,#da512e 232.5px,#dc5f2f 234px,#e48334 236.5px,#edae3d 238.5px,#f5d549 240px,#fdf964 241.5px,#fefc90 242.5px,#fdfdbd 243.5px,#fbfce3 244.5px,#f4f6f5 245.5px,#eff3fc 246px,#d1dbfa 247.5px,#7895f3 250.5px,#5274f0 252.5px,#3b5cef 254.5px,#3152ee 256.5px,#3657ef 258.5px,#4a6bf0 260.5px,#6d8bf2 262.5px,#89a2f4 263.5px,#d6dffa 266px,#ebf0fd 267px,#fafbeb 268.5px,#fefc8d 271.5px,#fdfc75 272.5px,#fdfb67 273.5px,#fdfb66 275px,#fdfb70 276px,#fdfc85 277px,#fbfce3 280px,#f4f7f4 281px,#f0f4fa 281.5px,#e0e7fc 282.5px,#bfcdf8 284px,#9fb4f5 285.5px,#96adf5)"></i><i style="background:linear-gradient(#d1272a,#d4332b 40.5px,#d8472d 65px,#dd642f 83px,#e58735 99.5px,#eeb13e 112.5px,#f5d64a 121.5px,#fdfb68 130.5px,#fdfdbc 140px,#fbfce9 145.5px,#edf2fd 152px,#ced9fa 158px,#708df2 170px,#496af0 177.5px,#3555ee 184px,#3051ee 189.5px,#3a5bef 194.5px,#5071f0 199px,#728ff2 203px,#acbef6 207px,#d4defa 209.5px,#ecf0fd 211.5px,#fbfce9 214px,#fefdac 216.5px,#fdfb6c 218.5px,#faed5b 219.5px,#f4d347 221px,#e79036 224.5px,#df6d30 227px,#da532e 229.5px,#d94c2d 231.5px,#da512e 233px,#dc5f2f 234.5px,#e48334 237px,#edae3d 239px,#f5d549 240.5px,#fdf964 242px,#fefc90 243px,#fdfdbc 244px,#fbfce3 245px,#f4f6f5 246px,#eff3fc 246.5px,#d2dcfa 248px,#7995f3 251px,#5374f0 253px,#3b5cef 255px,#3152ee 257px,#3556ee 259px,#486af0 261px,#6a88f2 263px,#839df3 264px,#cfdafa 266.5px,#eef2fd 268px,#fafbea 269.5px,#fefda9 272px,#fefc93 273px,#fdfc86 274px,#fdfc83 275px,#fdfc8a 276px,#fefc99 277px,#fcfcd8 279.5px,#fbfce7 280px,#f0f4fa 281.5px,#e1e8fc 282.5px,#cfdafa 283.5px,#a3b7f6 285.5px,#9bb0f5)"></i><i style="background:linear-gradient(#d1272a,#d4332b 40.5px,#d8482d 65.5px,#dd642f 83.5px,#e58735 100px,#eeb13e 113px,#f5d449 121.5px,#fdfb69 131px,#fdfdbd 140.5px,#fbfce9 146px,#edf1fd 152.5px,#ced9fa 158.5px,#6f8df2 170.5px,#486af0 178px,#3455ee 184.5px,#3051ee 190px,#3a5bef 195px,#5072f0 199.5px,#728ff2 203.5px,#adbff6 207.5px,#d5defa 210px,#ecf1fd 212px,#fbfce9 214.5px,#fefdaa 217px,#fdfb6a 219px,#f4d247 221.5px,#e78f36 225px,#df6b30 227.5px,#da512e 230px,#d84a2d 232px,#d94f2d 233.5px,#dc5d2e 235px,#e48234 237.5px,#edad3d 239.5px,#f5d448 241px,#fcf863 242.5px,#fdfc77 243px,#fdfdbb 244.5px,#fbfce1 245.5px,#f8faed 246px,#f0f3fc 247px,#d3dcfa 248.5px,#7b96f3 251.5px,#5c7cf1 253px,#4668ef 254.5px,#3555ee 256.5px,#3152ee 258.5px,#3c5def 260.5px,#5475f0 262.5px,#708df2 264px,#d3ddfa 267.5px,#eff3fd 269px,#f9fbec 270.5px,#fbfce3 271px,#fdfdc0 272.5px,#fefdaa 274px,#fefda2 275px,#fefda4 276px,#fefdb6 277.5px,#fcfcd3 279px,#fafbea 280px,#f0f4fa 281.5px,#e2e9fc 282.5px,#d2dcfa 283.5px,#a7baf6 285.5px,#9eb3f5)"></i><i style="background:linear-gradient(#d1272a,#d4332b 41px,#d8472d 65.5px,#dd632f 83.5px,#e58735 100.5px,#eeb13e 113.5px,#f5d549 122px,#fdfb66 131px,#fdfdbd 141px,#fbfce9 146.5px,#edf1fd 153px,#ced8f9 159px,#6f8df2 171px,#486af0 178.5px,#3455ee 185px,#3051ee 190.5px,#3a5bef 195.5px,#5072f0 200px,#7390f2 204px,#b6c6f7 208.5px,#d5dffa 210.5px,#edf1fd 212.5px,#fbfce8 215px,#fefda8 217.5px,#fdfb67 219.5px,#f4d046 222px,#e68d36 225.5px,#dd632f 228.5px,#d94e2d 230.5px,#d8472d 232.5px,#d94c2d 234px,#dc5a2e 235.5px,#e38033 238px,#ecaa3c 240px,#f4d247 241.5px,#fcf662 243px,#fdfc73 243.5px,#fdfdb8 245px,#fbfcde 246px,#f9faec 246.5px,#f0f4fb 247.5px,#dee6fb 248.5px,#c6d3f9 249.5px,#7d98f3 252px,#6785f1 253px,#4769ef 255px,#3556ee 257px,#3151ee 259px,#3a5bef 261px,#5072f0 263px,#7592f2 265px,#d5defa 268.5px,#eff3fd 270px,#fbfce9 272px,#fcfccc 273.5px,#fdfdbd 275px,#fdfdbc 276.5px,#fcfcca 278px,#fbfce5 279.5px,#f0f4fa 281.5px,#e4eafc 282.5px,#cad6f9 284px,#a2b6f5)"></i><i style="background:linear-gradient(#d1272a,#d4332b 41px,#d8472d 66px,#dd632f 84px,#e58735 101px,#eeb13e 114px,#f5d549 122.5px,#fdfb66 131.5px,#fdfdbe 141.5px,#fbfce9 147px,#edf1fd 153.5px,#cdd8f9 159.5px,#6f8cf2 171.5px,#4869f0 179px,#3455ee 185.5px,#3051ee 191px,#3a5bef 196px,#5172f0 200.5px,#7390f2 204.5px,#b7c7f7 209px,#d6dffa 211px,#eef2fd 213px,#fbfce6 215.5px,#fefdb4 217.5px,#fdfa65 220px,#f3ce45 222.5px,#e79337 225.5px,#df6c30 228px,#d94e2d 230.5px,#d7442d 232.5px,#d8482d 234.5px,#db562e 236px,#e37d33 238.5px,#eca73b 240.5px,#f4cf46 242px,#fbf360 243.5px,#fdfb6e 244px,#fefdb5 245.5px,#fcfcdb 246.5px,#fafbeb 247px,#f1f4f9 248px,#eaeffd 248.5px,#c9d5f9 250px,#728ff2 253px,#4f70f0 255px,#395aef 257px,#3051ee 259px,#3556ee 261px,#4768ef 263px,#6685f1 265px,#7b97f3 266px,#cdd8f9 269px,#eff3fd 271px,#fbfce6 273.5px,#fcfcd2 275px,#fcfccc 276.5px,#fcfcd4 278px,#fbfce9 279.5px,#edf2fd 282px,#cfdafa 284px,#a7baf6)"></i><i style="background:linear-gradient(#d1272a,#d4332b 41.5px,#d8472d 66.5px,#dd632f 84.5px,#e58835 101.5px,#eeb13e 114.5px,#f5d549 123px,#fdfb66 132px,#fdfdbe 142px,#fafbe9 147.5px,#ecf1fd 154px,#cdd8f9 160px,#6e8cf2 172px,#4869f0 179.5px,#3455ee 186px,#3051ee 191.5px,#3a5bef 196.5px,#5173f0 201px,#7491f2 205px,#c0cef8 210px,#d7e0fb 211.5px,#eff3fd 213.5px,#f9fbeb 215.5px,#fbfce3 216px,#fefdb2 218px,#fdfb71 220px,#fdf864 220.5px,#f3cb44 223px,#e79036 226px,#dc5b2e 229.5px,#d8462d 231.5px,#d63f2c 233.5px,#d7442d 235px,#da522e 236.5px,#e48234 239.5px,#edb03d 241.5px,#f3cb45 242.5px,#fbf05e 244px,#fdfb69 244.5px,#fefdb1 246px,#fbfce9 247.5px,#ecf1fd 249px,#ccd7f9 250.5px,#7491f2 253.5px,#5072f0 255.5px,#3a5bef 257.5px,#3051ee 259.5px,#3455ee 261.5px,#4566ef 263.5px,#6282f1 265.5px,#7592f2 266.5px,#d1dbfa 270px,#eff3fc 272px,#fbfce3 275px,#fcfcd8 276.5px,#fcfcda 278px,#f9faec 280px,#f0f3fc 282px,#ccd7f9 284.5px,#aebff7)"></i><i style="background:linear-gradient(#d1272a,#d4332b 41.5px,#d8472d 66.5px,#dd622f 84.5px,#e58635 101.5px,#edb03d 114.5px,#f5d549 123.5px,#fdfb66 132.5px,#fdfdba 142px,#fafbea 148px,#ecf1fd 154.5px,#ccd7f9 160.5px,#6e8cf2 172.5px,#4769f0 180px,#3454ee 186.5px,#3051ee 192px,#3b5cef 197px,#5273f0 201.5px,#7592f2 205.5px,#c2cff8 210.5px,#d8e1fb 212px,#eff3fc 214px,#fafbea 216px,#fcfcd5 217px,#fefdaf 218.5px,#fdfb6d 220.5px,#fcf662 221px,#f4d247 223px,#e68d36 226.5px,#db572e 230px,#d7422c 232px,#d53b2c 234px,#d63f2c 235.5px,#d94d2d 237px,#e37f33 240px,#edac3d 242px,#f5d549 243.5px,#fdfa65 245px,#fefdac 246.5px,#fbfce7 248px,#eef2fd 249.5px,#ced9fa 251px,#7693f2 254px,#5173f0 256px,#3b5cef 258px,#3151ee 260px,#3454ee 262px,#4465ef 264px,#6080f1 266px,#7390f2 267px,#cdd8f9 270.5px,#edf1fd 272.5px,#fbfce8 275.5px,#fcfcdc 277px,#fcfcdd 278.5px,#f7f9f0 281px,#f0f3fc 282.5px,#cdd8f9 285px,#b8c8f7)"></i><i style="background:linear-gradient(#d1262a,#d4332b 42px,#d8472d 67px,#dd632f 85px,#e58635 102px,#edb03d 115px,#f5d549 124px,#fdfb67 133px,#fdfdbb 142.5px,#fafbea 148.5px,#ecf0fd 155px,#ccd7f9 161px,#6e8bf2 173px,#4769ef 180.5px,#3454ee 187px,#3051ee 192.5px,#3b5cef 197.5px,#5274f0 202px,#7692f2 206px,#c3d0f9 211px,#d9e1fb 212.5px,#f0f3fc 214.5px,#fafbea 216.5px,#fefdac 219px,#fdfb6a 221px,#f6d94c 223px,#f2c543 224px,#e68a35 227px,#d94d2d 231px,#d53b2c 233px,#d5382c 235px,#d6402c 236.5px,#da512e 238px,#e58735 241px,#efb73f 243px,#f5d348 244px,#fdf964 245.5px,#fefc91 246.5px,#fdfdbe 247.5px,#fbfce5 248.5px,#eff3fd 250px,#d0dafa 251.5px,#7894f3 254.5px,#5274f0 256.5px,#3c5def 258.5px,#3152ee 260.5px,#3455ee 262.5px,#4466ef 264.5px,#6180f1 266.5px,#7390f2 267.5px,#ced8f9 271px,#eef2fd 273px,#fbfce5 276px,#fcfcd8 277.5px,#fcfcd8 279px,#f8faed 281.5px,#eef2fd 283.5px,#d2dcfa 285.5px,#c7d3f9)"></i><i style="background:linear-gradient(#d1262a,#d4322b 42px,#d8462d 67px,#dd622f 85px,#e58735 102.5px,#edb03d 115.5px,#f5d64a 124.5px,#fdfb67 133.5px,#fdfdbb 143px,#fbfce8 148.5px,#eef2fd 155px,#cbd7f9 161.5px,#6d8bf2 173.5px,#4769ef 181px,#3454ee 187.5px,#3051ee 193px,#3b5cef 198px,#5274f0 202.5px,#7793f2 206.5px,#c4d1f9 211.5px,#dae2fb 213px,#ecf0fd 214.5px,#fbfce9 217px,#fefda9 219.5px,#fdfb68 221.5px,#f4cf45 224px,#e58835 227.5px,#d84b2d 231.5px,#d5392c 233.5px,#d4362b 235.5px,#d63e2c 237px,#d9502d 238.5px,#e58635 241.5px,#efb73f 243.5px,#f4d348 244.5px,#fdf964 246px,#fefc91 247px,#fdfdbe 248px,#fbfce5 249px,#eff3fd 250.5px,#d0dafa 252px,#7895f3 255px,#5375f0 257px,#3d5eef 259px,#3353ee 261px,#3657ef 263px,#4668ef 265px,#6483f1 267px,#7793f3 268px,#d3ddfa 271.5px,#ebf0fd 273px,#f8faed 275px,#fbfce9 275.5px,#fcfcd3 277px,#fdfdca 278.5px,#fcfcce 280px,#fbfcdf 281.5px,#fbfce8 282px,#eef2fd 284.5px,#d7e0fb)"></i><i style="background:linear-gradient(#d1262a,#d4322b 42px,#d8462d 67.5px,#dd622f 85.5px,#e58735 103px,#edb03e 116px,#f5d64a 125px,#fdfb68 134px,#fdfdbc 143.5px,#fbfce8 149px,#eef2fd 155.5px,#cbd6f9 162px,#708ef2 173.5px,#496af0 181px,#3555ee 187.5px,#3051ee 193px,#3a5aef 198px,#4f71f0 202.5px,#718ff2 206.5px,#acbef6 210.5px,#d4defa 213px,#ecf1fd 215px,#fbfce9 217.5px,#fefda8 220px,#fdfb66 222px,#f3ce45 224.5px,#e58835 228px,#d94b2d 232px,#d53a2c 234px,#d5382c 236px,#d6402c 237.5px,#da522e 239px,#e58835 242px,#efb940 244px,#f5d549 245px,#fdfa65 246.5px,#fefdad 248px,#fbfce7 249.5px,#eef2fd 251px,#cfd9fa 252.5px,#7894f3 255.5px,#5375f0 257.5px,#3e5fef 259.5px,#3555ee 261.5px,#395aef 263.5px,#4b6cf0 265.5px,#6a88f2 267.5px,#809bf3 268.5px,#d2dcfa 271.5px,#ecf0fd 273px,#fafbea 275px,#fdfdc6 277px,#fdfdb7 278.5px,#fefdb6 280px,#fdfdc3 281.5px,#fcfcde 283px,#fbfce9 283.5px,#eff3fd 285.5px,#e8edfd)"></i><i style="background:linear-gradient(#d1262a,#d4322b 42.5px,#d8462d 68px,#dd622f 86px,#e58735 103.5px,#eeb03e 116.5px,#f5d64a 125.5px,#fdfb68 134.5px,#fdfdbc 144px,#fbfce9 149.5px,#eef2fd 156px,#cbd6f9 162.5px,#708df2 174px,#496af0 181.5px,#3555ee 188px,#3051ee 193.5px,#3a5bef 198.5px,#4f71f0 203px,#728ff2 207px,#acbef6 211px,#d4defa 213.5px,#ecf1fd 215.5px,#fbfce9 218px,#fefda9 220.5px,#fdfb67 222.5px,#f4cf46 225px,#e58a35 228.5px,#d94f2d 232.5px,#d63e2c 234.5px,#d63c2c 236.5px,#d7452d 238px,#db572e 239.5px,#e48334 242px,#eeb13e 244px,#f3cd45 245px,#fbf25f 246.5px,#fdfb6d 247px,#fefdb3 248.5px,#fafbea 250px,#ebf0fd 251.5px,#cbd6f9 253px,#7692f2 256px,#5374f0 258px,#3f60ef 260px,#3758ef 262px,#3e5fef 264px,#5173f0 266px,#7390f2 268px,#d4ddfa 271.5px,#eff3fd 273px,#f9fbeb 274.5px,#fcfcd5 275.5px,#fefdaa 277.5px,#fefd9b 278.5px,#fefc94 279.5px,#fefc95 280.5px,#fefd9f 281.5px,#fdfdc5 283.5px,#fafbea 285px,#f4f6f5)"></i><i style="background:linear-gradient(#d1262a,#d4322b 42.5px,#d7462d 68px,#dd622f 86.5px,#e58735 104px,#eeb13e 117px,#f5d64a 126px,#fdfb68 135px,#fdfdbc 144.5px,#fbfce9 150px,#eef2fd 156.5px,#cbd6f9 163px,#708df2 174.5px,#496af0 182px,#3555ee 188.5px,#3051ee 194px,#3a5bef 199px,#4f71f0 203.5px,#718ff2 207.5px,#acbef6 211.5px,#d4defa 214px,#ecf0fd 216px,#fbfce9 218.5px,#fefdab 221px,#fdfb6b 223px,#f8e354 224.5px,#f4d247 225.5px,#e68e36 229px,#dd622f 232px,#d94c2d 234px,#d7442d 236px,#d84b2d 238px,#dc5a2e 239.5px,#e48234 242px,#edae3d 244px,#f5d549 245.5px,#fdf965 247px,#fdfdbd 249px,#fbfce3 250px,#f4f6f5 251px,#f0f3fc 251.5px,#d3ddfa 253px,#728ff2 256.5px,#5273f0 258.5px,#3f61ef 260.5px,#3a5bef 262.5px,#4364ef 264.5px,#5374f0 266px,#7592f2 268px,#d6dffa 271.5px,#eaeffd 272.5px,#f4f7f4 273.5px,#fbfce5 274.5px,#fefd9c 277px,#fdfc84 278px,#fdfc75 279px,#fdfb6e 280px,#fdfb70 281px,#fdfc7b 282px,#fefc8f 283px,#fbfce4)"></i><i style="background:linear-gradient(#d1262a,#d4322b 43px,#d7462d 68.5px,#dd622f 87px,#e58735 104.5px,#eeb13e 117.5px,#f5d64a 126.5px,#fdfb68 135.5px,#fdfdbc 145px,#fbfce9 150.5px,#edf2fd 157px,#cbd6f9 163.5px,#708df2 175px,#496af0 182.5px,#3555ee 189px,#3051ee 194.5px,#3a5bef 199.5px,#4f71f0 204px,#718ef2 208px,#a3b7f6 211.5px,#d3ddfa 214.5px,#eff3fc 217px,#fafbea 219px,#fcfcd5 220px,#fefdb0 221.5px,#fdfb70 223.5px,#fdf864 224px,#f3cc45 226.5px,#e89437 229.5px,#e07131 232px,#db582e 234.5px,#da502d 236.5px,#db582e 238.5px,#e17532 241px,#e99838 243px,#f5d448 245.5px,#fcf763 247px,#fdfc74 247.5px,#fdfdb7 249px,#fcfcdd 250px,#f9fbeb 250.5px,#f1f5f9 251.5px,#ebf0fd 252px,#ccd7f9 253.5px,#7995f3 256.5px,#5677f0 258.5px,#4364ef 260.5px,#3d5eef 262.5px,#4566ef 264.5px,#5475f0 266px,#7793f3 268px,#ced8fa 271px,#edf1fd 272.5px,#fafbea 274px,#fdfc78 277.5px,#fdfb6c 278px,#fdf864 278.5px,#faed5c 280px,#faee5c 281.5px,#fdfa65 283px,#fdfc7d 284px,#fdfdbf)"></i><i style="background:linear-gradient(#d1262a,#d3322b 43px,#d7452d 68.5px,#dd612f 87px,#e58735 105px,#eeb13e 118px,#f5d64a 127px,#fdfb68 136px,#fdfdbc 145.5px,#fbfce9 151px,#eef2fd 157.5px,#cbd6f9 164px,#708df2 175.5px,#496bf0 183px,#3555ee 189.5px,#3051ee 195px,#3a5aef 200px,#4f71f0 204.5px,#708ef2 208.5px,#a2b6f5 212px,#d2dcfa 215px,#eff3fd 217.5px,#fbfce5 220px,#fefda7 222.5px,#fdfb68 224.5px,#f4d347 227px,#e89537 230.5px,#e17532 233px,#dd632f 235.5px,#dd612f 237.5px,#e07131 240px,#e68b35 242px,#eeb13e 244px,#f5d549 245.5px,#fcf762 247px,#fdfc73 247.5px,#fefdb5 249px,#fafbe9 250.5px,#edf2fd 252px,#d0dbfa 253.5px,#7e99f3 256.5px,#6a88f2 257.5px,#4e70f0 259.5px,#4061ef 261.5px,#4062ef 263.5px,#4e70f0 265.5px,#6c8af2 267.5px,#849ef3 268.5px,#cdd8f9 271px,#edf1fd 272.5px,#fbfce9 274px,#fefda3 276px,#fdfb6e 277.5px,#fcf863 278px,#f9e656 279.5px,#f7e052 281px,#f8e656 282.5px,#fcf662 284px,#fdfb6a 284.5px,#fefd9c)"></i><i style="background:linear-gradient(#d1262a,#d3322b 43.5px,#d7452d 69px,#dd612f 87.5px,#e58735 105.5px,#eeb13e 118.5px,#f5d64a 127.5px,#fdfb68 136.5px,#fdfdbc 146px,#fbfce9 151.5px,#eef2fd 158px,#cbd6f9 164.5px,#708ef2 176px,#496bf0 183.5px,#3555ee 190px,#3051ee 195.5px,#395aef 200.5px,#4e70f0 205px,#7491f2 209.5px,#bfcdf8 214.5px,#d6dffa 216px,#edf1fd 218px,#fbfce9 220.5px,#fefdae 223px,#fdf965 225.5px,#f4d146 228px,#ea9e39 231px,#e38033 233.5px,#e06f31 236px,#e06f31 238px,#e27a32 240px,#e79136 242px,#eeb53f 244px,#f5d74a 245.5px,#fcf762 247px,#fdfb72 247.5px,#fefdb2 249px,#fbfce7 250.5px,#eff3fc 252px,#d4ddfa 253.5px,#7793f3 257px,#5777f0 259px,#4466ef 261px,#3f60ef 263px,#486af0 265px,#5979f1 266.5px,#728ff2 268px,#b7c6f7 270.5px,#d3ddfa 271.5px,#f0f4fb 273px,#f8faed 274px,#fbfce3 274.5px,#fefdb0 276px,#fdfc7a 277.5px,#fdfb6b 278px,#fbf05d 279px,#f8e354 280.5px,#f8e253 282px,#faeb5a 283.5px,#fcf662 284.5px,#fdfb6b 285px,#fdfc89)"></i><i style="background:linear-gradient(#d1262a,#d3312b 43.5px,#d7452d 69.5px,#dd612f 88px,#e58735 106px,#eeb13e 119px,#f5d64a 128px,#fdfb68 137px,#fdfdbc 146.5px,#fbfce9 152px,#eef2fd 158.5px,#cbd7f9 165px,#6d8bf2 177px,#4769ef 184.5px,#3455ee 191px,#3051ee 196.5px,#3b5cef 201.5px,#5173f0 206px,#7390f2 210px,#bdcbf8 215px,#d4defa 216.5px,#f0f3fc 219px,#fafbeb 221px,#fcfcd7 222px,#fefda6 224px,#fdfb6b 226px,#f9e656 227.5px,#f4cf46 229px,#ea9f39 232px,#e48434 234.5px,#e27832 237px,#e27b33 239px,#e58935 241px,#eba43a 243px,#f5d64a 245.5px,#fcf461 247px,#fdfb6d 247.5px,#fefdab 249px,#fbfce0 250.5px,#f9faec 251px,#ebf0fd 252.5px,#ced9fa 254px,#7e99f3 257px,#6a88f2 258px,#4e70f0 260px,#4162ef 262px,#4061ef 264px,#4c6ef0 266px,#6886f2 268px,#7c97f3 269px,#cfdafa 272px,#ecf1fd 273.5px,#f9faec 275px,#fbfce1 275.5px,#fdfc88 278.5px,#fdfb6a 280px,#fcf763 281px,#fcf662 282.5px,#fdfa65 283.5px,#fdfb73 284.5px,#fefc94)"></i><i class="n" style="background:linear-gradient(#d1262a,#d3322b 44px,#d7452d 69.5px,#dd602f 88px,#e58634 106px,#edaf3d 119px,#f5d549 128px,#fdfb69 137.5px,#fdfdbd 147px,#fbfce9 152.5px,#edf1fd 159px,#ced9fa 165px,#708df2 177px,#496af0 184.5px,#3555ee 191px,#3050ee 196.5px,#395aef 201.5px,#4e70f0 206px,#7491f2 210.5px,#beccf8 215.5px,#d5defa 217px,#f0f4fb 219.5px,#fafbea 221.5px,#fcfcd6 222.5px,#fefda6 224.5px,#fdfb6b 226.5px,#f9e656 228px,#f4d046 229.5px,#eaa139 232.5px,#e58735 235px,#e27b33 237.5px,#e37f33 239.5px,#e68e36 241.5px,#eca93c 243.5px,#f4d146 245.5px,#fdf964 247.5px,#fdfc89 248.5px,#fefdb3 249.5px,#fbfce6 251px,#f0f4fb 252.5px,#d6dffa 254px,#7b97f3 257.5px,#6080f1 259px,#496af0 261px,#3e5fef 263px,#4162ef 265px,#4f71f0 267px,#6c8af2 269px,#829cf3 270px,#d0dafa 273px,#eaeffd 274.5px,#f4f6f5 275.5px,#fafbeb 276.5px,#fdfdb6 279px,#fefd9e 280.5px,#fefc92 282px,#fefc96 283.5px,#fefda6 285px,#fefdb6)"></i><i class="n" style="background:linear-gradient(#d1262a,#d3312b 44px,#d7452d 70px,#dd612f 88.5px,#e58735 106.5px,#edb03d 119.5px,#f5d649 128.5px,#fdfb67 137.5px,#fdfdbb 147px,#fafbea 153px,#ecf1fd 159.5px,#ccd7f9 165.5px,#6e8cf2 177.5px,#4869f0 185px,#3455ee 191.5px,#3051ee 197px,#3a5bef 202px,#4f71f0 206.5px,#718ef2 210.5px,#aabcf6 214.5px,#d2dcfa 217px,#eef2fd 219.5px,#fbfce8 222px,#fefdad 224.5px,#fdfa65 227px,#f5d348 229.5px,#eba43a 232.5px,#e58835 235px,#e27b33 237.5px,#e37c33 239.5px,#e68a35 241.5px,#eba33a 243.5px,#f5d448 246px,#fdfb67 248px,#fdfdb7 250px,#fafbe9 251.5px,#eff3fd 253px,#d3ddfa 254.5px,#7894f3 258px,#5778f0 260px,#4465ef 262px,#3d5eef 264px,#4263ef 266px,#5375f0 268px,#718ef2 270px,#d0dafa 274px,#eef2fd 276px,#fbfce8 278.5px,#fcfcd1 280px,#fdfdc4 281.5px,#fdfdc0 283px,#fdfdca 285px,#fcfcd3)"></i><i class="n" style="background:linear-gradient(#d1262a,#d3312b 44px,#d7452d 70px,#dd602f 88.5px,#e58634 106.5px,#edaf3d 119.5px,#f5d549 128.5px,#fdfb69 138px,#fdfdbd 147.5px,#fbfce9 153px,#edf1fd 159.5px,#ced9fa 165.5px,#708df2 177.5px,#496af0 185px,#3555ee 191.5px,#3050ee 197px,#395aef 202px,#4e70f0 206.5px,#7491f2 211px,#beccf8 216px,#d5defa 217.5px,#f0f4fb 220px,#fafbea 222px,#fcfdca 223.5px,#fefda4 225px,#fdfb69 227px,#f5d64a 229.5px,#ea9e39 233px,#e48334 235.5px,#e17632 238px,#e27932 240px,#e58735 242px,#eaa13a 244px,#f4d347 246.5px,#fdfb66 248.5px,#fdfdb7 250.5px,#fafbe9 252px,#eff3fd 253.5px,#d3ddfa 255px,#7894f3 258.5px,#5778f0 260.5px,#4365ef 262.5px,#3c5def 264.5px,#3f61ef 266.5px,#4e70f0 268.5px,#708df2 271px,#d0dafa 275.5px,#edf2fd 278px,#f8faed 281.5px,#f8faed 285px,#f7f9ef)"></i><i class="n" style="background:linear-gradient(#d1262a,#d3312b 44px,#d7452d 70px,#dd602f 88.5px,#e58735 107px,#edb03d 120px,#f5d64a 129px,#fdfb67 138px,#fdfdbb 147.5px,#fafbea 153.5px,#ecf0fd 160px,#ccd7f9 166px,#6e8cf2 178px,#4869f0 185.5px,#3455ee 192px,#3050ee 197.5px,#3a5bef 202.5px,#5072f0 207px,#718ff2 211px,#abbdf6 215px,#d8e1fb 218px,#eff3fd 220px,#fbfce5 222.5px,#fefda8 225px,#fdfb6b 227px,#faee5c 228px,#f3ce45 230px,#e99c38 233px,#e37e33 235.5px,#e06f31 238px,#e06f31 240px,#e27a33 242px,#e79237 244px,#efb63f 246px,#f5d74b 247.5px,#fcf763 249px,#fdfb72 249.5px,#fefdb1 251px,#fbfce6 252.5px,#f0f4fb 254px,#d6dffa 255.5px,#7b97f3 259px,#6080f1 260.5px,#486af0 262.5px,#3c5def 264.5px,#3b5bef 266.5px,#4769f0 269px,#6382f1 271.5px,#7995f3 273px,#b9c8f8 276.5px,#d0dafa 278px,#e5ebfc 281px,#ebf0fd 284px,#e9eefd)"></i><i class="n" style="background:linear-gradient(#d1262a,#d3312b 44.5px,#d7452d 70.5px,#dd602f 89px,#e58635 107px,#edaf3d 120px,#f5d549 129px,#fdfb66 138px,#fdfdbd 148px,#fbfce9 153.5px,#edf1fd 160px,#ced9fa 166px,#6f8df2 178px,#486af0 185.5px,#3455ee 192px,#3050ee 197.5px,#395aef 202.5px,#4e70f0 207px,#708df2 211px,#99aff5 214px,#d1dbfa 217.5px,#eef2fd 220px,#fbfce7 222.5px,#fefda9 225px,#fdfb6c 227px,#faed5b 228px,#f3cc45 230px,#e89737 233px,#e17632 235.5px,#dd632f 238px,#dd602f 240px,#df6a30 242px,#e37f33 244px,#eaa039 246px,#f3cc45 248px,#fdf964 250px,#fefc8c 251px,#fdfdb6 252px,#fafbe9 253.5px,#eef2fd 255px,#d2dcfa 256.5px,#7793f3 260px,#5677f0 262px,#4264ef 264px,#395aef 266px,#3b5cef 268.5px,#4e70f0 271.5px,#7692f2 275px,#a7baf6 278.5px,#bdcbf8 281px,#c9d4f9 284px,#cad5f9)"></i><i class="n" style="background:linear-gradient(#d1262a,#d3312b 44.5px,#d7452d 70.5px,#dd602f 89px,#e58735 107.5px,#edb03e 120.5px,#f5d64a 129.5px,#fdfb67 138.5px,#fdfdbb 148px,#fafbea 154px,#ecf0fd 160.5px,#ccd7f9 166.5px,#6e8cf2 178.5px,#4769f0 186px,#3454ee 192.5px,#3051ee 198px,#3a5bef 203px,#5172f0 207.5px,#7390f2 211.5px,#b6c6f7 216px,#d5dffa 218px,#edf1fd 220px,#fbfce9 222.5px,#fefdaa 225px,#fdfb6b 227px,#f8e454 228.5px,#f2c944 230px,#e79136 233px,#df6d30 235.5px,#da532e 238px,#d94b2d 240px,#da522e 242px,#de682f 244px,#e58634 246px,#edaf3d 248px,#f5d549 249.5px,#fcf763 251px,#fdfc73 251.5px,#fefdb5 253px,#fbfce9 254.5px,#eff3fd 256px,#d3dcfa 257.5px,#7895f3 261px,#5879f1 263px,#4465ef 265px,#3859ef 267.5px,#3b5cef 270px,#4f71f0 273.5px,#8ca5f4 280.5px,#9ab0f5 283.5px,#9eb3f5)"></i><i class="n" style="background:linear-gradient(#d1262a,#d3312b 44.5px,#d7442d 70.5px,#dd5f2f 89px,#e58635 107.5px,#edaf3d 120.5px,#f5d549 129.5px,#fdfb66 138.5px,#fdfdbd 148.5px,#fbfce9 154px,#edf1fd 160.5px,#ced9fa 166.5px,#6f8df2 178.5px,#486af0 186px,#3455ee 192.5px,#3051ee 198px,#3a5aef 203px,#4f71f0 207.5px,#718ef2 211.5px,#a3b7f6 215px,#d3ddfa 218px,#eff3fc 220.5px,#fafbea 222.5px,#fcfcd5 223.5px,#fefdb0 225px,#fdfb70 227px,#fdf864 227.5px,#f3cc45 230px,#e58a35 233.5px,#db592e 237px,#d8472d 239px,#d7432c 241px,#d94d2d 243px,#de672f 245px,#e58735 247px,#f0bf41 249.5px,#f5d84b 250.5px,#fdfa65 252px,#fdfdb9 254px,#fcfcdc 255px,#fafbea 255.5px,#eef2fd 257px,#d3ddfa 258.5px,#809bf3 262px,#6786f2 263.5px,#4f71f0 266px,#4668ef 268.5px,#4c6df0 271.5px,#6d8bf2 276.5px,#89a2f4 280.5px,#90a8f4 283.5px,#8da5f4)"></i><i class="n" style="background:linear-gradient(#d1262a,#d3312b 44.5px,#d7442d 70.5px,#dc5f2f 89px,#e58534 107.5px,#edae3d 120.5px,#f5d64a 130px,#fdfb67 139px,#fdfdbb 148.5px,#fafbea 154.5px,#ecf0fd 161px,#ccd7f9 167px,#6e8cf2 179px,#4869f0 186.5px,#3455ee 193px,#3051ee 198.5px,#3a5bef 203.5px,#5172f0 208px,#7390f2 212px,#b6c6f7 216.5px,#d5defa 218.5px,#edf1fd 220.5px,#fbfce9 223px,#fefdab 225.5px,#fdfb6c 227.5px,#faed5b 228.5px,#f5d348 230px,#e79136 233.5px,#df6c30 236px,#da502d 238.5px,#d8462d 240.5px,#d84a2d 242.5px,#dc5d2e 244.5px,#e48234 247px,#efb73f 249.5px,#f4d046 250.5px,#fdfb68 252.5px,#fdfdba 254.5px,#fafbea 256px,#eff3fc 257.5px,#ced9fa 259.5px,#8da5f4 262.5px,#7390f2 264px,#5f7ef1 266.5px,#5979f1 269px,#6281f1 272px,#7794f3 275px,#9aaff5 279px,#a3b7f6 281.5px,#a0b5f5 284px,#96adf5)"></i><i class="n" style="background:linear-gradient(#d1262a,#d3312b 45px,#d7442d 71px,#dd5f2f 89.5px,#e58635 108px,#edaf3d 121px,#f5d549 130px,#fdfb69 139.5px,#fdfdbd 149px,#fbfce9 154.5px,#edf1fd 161px,#ced9fa 167px,#708df2 179px,#496af0 186.5px,#3555ee 193px,#3051ee 198.5px,#3a5aef 203.5px,#4f71f0 208px,#708ef2 212px,#a2b6f5 215.5px,#d2dcfa 218.5px,#eff3fd 221px,#fbfce5 223.5px,#fefdb4 225.5px,#fdfb66 228px,#f4d146 230.5px,#e78f36 234px,#df6c30 236.5px,#da522e 239px,#d84a2d 241px,#d9502d 243px,#de642f 245px,#e58935 247.5px,#f0bf41 250px,#f5d74b 251px,#fcf863 252.5px,#fdfc89 253.5px,#fefdb2 254.5px,#fbfce4 256px,#f1f5f9 257.5px,#ecf1fd 258px,#cad5f9 260px,#8ca5f4 263px,#7592f2 264.5px,#6382f1 267px,#5f7ff1 269.5px,#6c8af2 272.5px,#869ff4 275.5px,#a4b8f6 279px,#aebff7 281.5px,#aabdf6 284px,#9fb3f5)"></i><i class="n" style="background:linear-gradient(#d1262a,#d3312b 45px,#d7442d 71px,#dc5f2f 89.5px,#e58534 108px,#edae3d 121px,#f5d64a 130.5px,#fdfb67 139.5px,#fdfdbb 149px,#fafbea 155px,#ecf1fd 161.5px,#ccd7f9 167.5px,#6e8cf2 179.5px,#4869f0 187px,#3455ee 193.5px,#3051ee 199px,#3a5bef 204px,#5172f0 208.5px,#7390f2 212.5px,#b5c5f7 217px,#d5defa 219px,#ecf0fd 221px,#fafbe9 223.5px,#fefdae 226px,#fdfb6f 228px,#fcf763 228.5px,#f3cc45 231px,#e89437 234px,#e07031 236.5px,#da552e 239px,#d94b2d 241px,#d94f2d 243px,#dd622f 245px,#e58635 247.5px,#efba40 250px,#f4d347 251px,#fbf360 252.5px,#fdfb6b 253px,#fefdaa 254.5px,#fcfcdc 256px,#fafbea 256.5px,#eff3fc 258px,#d0dafa 260px,#92a9f4 263px,#7390f2 265px,#6382f1 267.5px,#6281f1 270px,#708df2 273px,#a6baf6 279px,#b1c2f7 281.5px,#aec0f7 284px,#a3b7f6)"></i><i class="n" style="background:linear-gradient(#d1262a,#d3312b 45px,#d7442c 71px,#dc5e2f 89.5px,#e58634 108.5px,#edaf3d 121.5px,#f5d549 130.5px,#fdfb69 140px,#fdfdbd 149.5px,#fbfce9 155px,#edf2fd 161.5px,#ced9fa 167.5px,#708df2 179.5px,#496af0 187px,#3555ee 193.5px,#3051ee 199px,#3a5aef 204px,#4f71f0 208.5px,#708df2 212.5px,#a1b6f5 216px,#d2dbfa 219px,#eff3fd 221.5px,#fbfce6 224px,#fefda7 226.5px,#fdfb68 228.5px,#f4d247 231px,#e79136 234.5px,#e06e30 237px,#da542e 239.5px,#d94c2d 241.5px,#da522e 243.5px,#de672f 245.5px,#e48334 247.5px,#eeb53f 250px,#f3ce45 251px,#fdf964 253px,#fefdb4 255px,#fbfce5 256.5px,#f1f4f9 258px,#ecf1fd 258.5px,#cad6f9 260.5px,#8ea6f4 263.5px,#728ff2 265.5px,#6483f1 268px,#6584f1 270.5px,#7491f2 273.5px,#a8bbf6 279px,#b4c4f7 281.5px,#b2c3f7 284px,#a8bbf6)"></i><i class="n" style="background:linear-gradient(#d1262a,#d3312b 45.5px,#d7442d 71.5px,#dc5f2f 90px,#e58534 108.5px,#edae3d 121.5px,#f5d649 131px,#fdfb67 140px,#fdfdbb 149.5px,#fafbea 155.5px,#ecf1fd 162px,#ccd7f9 168px,#6e8cf2 180px,#4869f0 187.5px,#3455ee 194px,#3051ee 199.5px,#3a5bef 204.5px,#5072f0 209px,#7290f2 213px,#b5c5f7 217.5px,#d4defa 219.5px,#f0f4fb 222px,#fafbea 224px,#fdfdbc 226px,#fefda0 227px,#fdfb71 228.5px,#fdf864 229px,#f3ce45 231.5px,#e89637 234.5px,#e07231 237px,#da542e 240px,#d94e2d 242px,#db562e 244px,#e07131 246.5px,#e79236 248.5px,#f2c844 251px,#f7df50 252px,#fcf461 253px,#fdfb6e 253.5px,#fefdac 255px,#fcfcdd 256.5px,#fafbea 257px,#eff3fc 258.5px,#d0dafa 260.5px,#93aaf4 263.5px,#7692f2 265.5px,#6887f2 267.5px,#6584f1 270px,#728ff2 273px,#aabdf6 279px,#b7c7f7 281.5px,#b6c6f7 284px,#acbef6)"></i><i style="background:linear-gradient(#d1262a,#d3312b 45.5px,#d7442d 72px,#dc5f2f 90.5px,#e58634 109px,#edaf3d 122px,#f5d64a 131.5px,#fdfb68 140.5px,#fdfdbc 150px,#fbfce8 155.5px,#eef2fd 162px,#cbd7f9 168.5px,#6e8bf2 180.5px,#4769f0 188px,#3455ee 194.5px,#3051ee 200px,#3b5cef 205px,#5173f0 209.5px,#7390f2 213.5px,#beccf8 218.5px,#d5defa 220px,#ecf1fd 222px,#fbfce9 224.5px,#fefdad 227px,#fdfb6e 229px,#fcf763 229.5px,#f3cc45 232px,#e89537 235px,#e07231 237.5px,#db562e 240.5px,#da502d 242.5px,#db592e 244.5px,#e37c33 247.5px,#ecaa3c 250px,#f3cd45 251.5px,#fdf864 253.5px,#fdfc89 254.5px,#fefdb2 255.5px,#fbfce2 257px,#f5f8f2 258px,#eef2fd 259px,#ced8f9 261px,#92aaf4 264px,#7793f2 266px,#6a88f2 268px,#6887f2 270.5px,#7390f2 273px,#adbff6 279px,#bccaf8 281.5px,#bdcbf8 284px,#b3c4f7)"></i><i style="background:linear-gradient(#d1262a,#d3312b 45.5px,#d7442c 72px,#dc5f2f 91px,#e58634 109.5px,#edaf3d 122.5px,#f5d64a 132px,#fdfb68 141px,#fdfdbc 150.5px,#fbfce8 156px,#eef2fd 162.5px,#ccd7f9 169px,#6e8cf2 181px,#4769f0 188.5px,#3455ee 195px,#3051ee 200.5px,#3b5cef 205.5px,#5173f0 210px,#7390f2 214px,#b5c5f7 218.5px,#d5defa 220.5px,#ecf0fd 222.5px,#fafbea 225px,#fefdaf 227.5px,#fdfb71 229.5px,#fdf964 230px,#f3ce45 232.5px,#e89737 235.5px,#e17432 238px,#db592e 241px,#da542e 243px,#dc5d2e 245px,#e27832 247.5px,#e99838 249.5px,#f4cf46 252px,#fdfa65 254px,#fefdb3 256px,#fbfce3 257.5px,#f5f7f2 258.5px,#eef2fd 259.5px,#ced9fa 261.5px,#9db2f5 264px,#7f9af3 266px,#718ff2 267.5px,#6b89f2 270px,#728ff2 272.5px,#8da5f4 275.5px,#b5c5f7 279.5px,#c4d1f9 282px,#c4d1f9 284.5px,#bdcbf8)"></i><i style="background:linear-gradient(#d1252a,#d3312b 46px,#d7432c 72.5px,#dc5f2f 91.5px,#e58534 110px,#edae3d 123px,#f5d64a 132.5px,#fdfb67 141.5px,#fdfdbb 151px,#fbfce8 156.5px,#eef2fd 163px,#ccd7f9 169.5px,#6e8cf2 181.5px,#4869f0 189px,#3455ee 195.5px,#3051ee 201px,#3a5bef 206px,#5172f0 210.5px,#7390f2 214.5px,#b5c5f7 219px,#d4defa 221px,#f0f3fc 223.5px,#fafbea 225.5px,#fdfdc9 227px,#fefdb1 228px,#fdfa65 230.5px,#f4d046 233px,#e99a38 236px,#e17732 238.5px,#dc5c2e 241.5px,#db572e 243.5px,#dd602f 245.5px,#e27a33 248px,#e99b38 250px,#f4d247 252.5px,#fdfb66 254.5px,#fefdb5 256.5px,#fbfce5 258px,#f2f5f8 259.5px,#eef2fd 260px,#cfd9fa 262px,#9fb3f5 264.5px,#829cf3 266.5px,#728ff2 268.5px,#6f8df2 271px,#7894f3 273px,#9ab0f5 276.5px,#c1cff8 280.5px,#cdd8f9 283px,#cad5f9 285.5px,#c7d3f9)"></i><i style="background:linear-gradient(#d1252a,#d3302b 46.5px,#d7432c 73px,#dc5f2f 92px,#e58534 110.5px,#edae3d 123.5px,#f5d64a 133px,#fdfb67 142px,#fdfdbb 151.5px,#fafbea 157.5px,#ecf0fd 164px,#ccd7f9 170px,#6e8cf2 182px,#4869f0 189.5px,#3455ee 196px,#3051ee 201.5px,#3a5bef 206.5px,#5072f0 211px,#728ff2 215px,#b4c4f7 219.5px,#d3ddfa 221.5px,#eff3fc 224px,#fafbeb 226px,#fcfcd7 227px,#fefdb3 228.5px,#fdfb67 231px,#f4d247 233.5px,#e89437 237px,#e17431 239.5px,#dc5d2e 242.5px,#dc5c2e 244.5px,#de682f 246.5px,#e37d33 248.5px,#eca73b 251px,#f5d448 253px,#fdfb69 255px,#fdfdb7 257px,#fbfce6 258.5px,#edf2fd 260.5px,#cfdafa 262.5px,#a0b5f5 265px,#859ef3 267px,#7592f2 269px,#7491f2 271.5px,#839df3 274px,#c6d2f9 280.5px,#d2dcfa 282.5px,#d3dcfa 285.5px,#d1dbfa)"></i><i style="background:linear-gradient(#d1252a,#d3302b 46.5px,#d7432c 73px,#dc5e2f 92px,#e58534 111px,#edae3d 124px,#f5d649 133.5px,#fdfb67 142.5px,#fdfdbb 152px,#fafbea 158px,#ecf1fd 164.5px,#ccd7f9 170.5px,#6e8cf2 182.5px,#4869f0 190px,#3455ee 196.5px,#3051ee 202px,#3a5bef 207px,#5072f0 211.5px,#728ff2 215.5px,#abbdf6 219.5px,#d8e1fb 222.5px,#eff3fd 224.5px,#f9fbeb 226.5px,#fbfce5 227px,#fefda7 229.5px,#fdfb6a 231.5px,#f5d448 234px,#e89737 237.5px,#e17732 240px,#dd632f 242.5px,#dc5f2f 244.5px,#de672f 246.5px,#e27a32 248.5px,#e89737 250.5px,#f5d549 253.5px,#fcf460 255px,#fdfb6c 255.5px,#fdfdb8 257.5px,#fbfce7 259px,#edf2fd 261px,#d0dafa 263px,#a2b6f5 265.5px,#88a1f4 267.5px,#7995f3 269.5px,#7894f3 271.5px,#859ff3 274px,#ced9fa 281px,#d9e1fb 283.5px,#d8e0fb)"></i><i style="background:linear-gradient(#d1252a,#d3302b 47px,#d7432c 73.5px,#dc5e2f 92.5px,#e58534 111.5px,#edae3d 124.5px,#f5d549 134px,#fdfb67 143px,#fdfdbb 152.5px,#fafbea 158.5px,#ecf1fd 165px,#cdd8f9 171px,#6f8cf2 183px,#486af0 190.5px,#3455ee 197px,#3051ee 202.5px,#3a5bef 207.5px,#5071f0 212px,#718ef2 216px,#aabdf6 220px,#d2dcfa 222.5px,#eff3fd 225px,#fbfce7 227.5px,#fefdaa 230px,#fdfb6d 232px,#faee5c 233px,#f3ce45 235px,#e99a38 238px,#e27a32 240.5px,#de672f 243px,#dd632f 245px,#e06e30 247.5px,#e48334 249.5px,#edad3d 252px,#f3cd45 253.5px,#fcf662 255.5px,#fdfb6f 256px,#fdfdba 258px,#fbfce8 259.5px,#edf1fd 261.5px,#d0dafa 263.5px,#a4b8f6 266px,#8aa3f4 268px,#7d99f3 270px,#7d98f3 272px,#8ca4f4 274.5px,#d2dcfa 281px,#dee6fb 284px,#dee6fb)"></i><i style="background:linear-gradient(#d1252a,#d3302b 47px,#d7432c 74px,#dc5e2f 93px,#e58534 112px,#edae3d 125px,#f5d549 134.5px,#fdfb66 143.5px,#fdfdbe 153.5px,#fafbe9 159px,#ecf1fd 165.5px,#cdd8f9 171.5px,#6f8cf2 183.5px,#486af0 191px,#3555ee 197.5px,#3051ee 203px,#3a5bef 208px,#4f71f0 212.5px,#708ef2 216.5px,#a1b6f5 220px,#d1dbfa 223px,#eef2fd 225.5px,#fbfce9 228px,#fefdad 230.5px,#fdfb70 232.5px,#fdf964 233px,#f4d146 235.5px,#ea9d38 238.5px,#e37d33 241px,#df6a30 243.5px,#de672f 246px,#e07131 248px,#e58635 250px,#edb03d 252.5px,#f4d046 254px,#fcf763 256px,#fdfb72 256.5px,#fefdac 258px,#fbfce9 260px,#edf1fd 262px,#d1dbfa 264px,#a6b9f6 266.5px,#8da5f4 268.5px,#819cf3 270.5px,#829cf3 272.5px,#92a9f4 275px,#d4defa 281px,#e3e9fc 284px,#e5ebfc)"></i><i style="background:linear-gradient(#d1252a,#d3302b 47.5px,#d7432c 74.5px,#dc5e2f 93.5px,#e48534 112.5px,#edae3d 125.5px,#f5d549 135px,#fdfb66 144px,#fdfdbe 154px,#fbfce9 159.5px,#edf1fd 166px,#cdd8f9 172px,#6f8df2 184px,#486af0 191.5px,#3555ee 198px,#3051ee 203.5px,#3a5aef 208.5px,#4f71f0 213px,#7592f2 217.5px,#bfcdf8 222.5px,#d6dffa 224px,#edf1fd 226px,#fafbe9 228.5px,#fefdb0 231px,#fdfb66 233.5px,#f4d348 236px,#e99938 239.5px,#e27b33 242px,#df6c30 244.5px,#df6b30 246.5px,#e17532 248.5px,#e58a35 250.5px,#eeb33e 253px,#f4d247 254.5px,#fdf965 256.5px,#fefdae 258.5px,#fbfce9 260.5px,#edf1fd 262.5px,#d1dbfa 264.5px,#a7baf6 267px,#90a8f4 269px,#869ff4 271px,#87a0f4 273px,#99aff5 275.5px,#d2dcfa 280.5px,#e7edfc 284px,#ebf0fd)"></i><i style="background:linear-gradient(#d1252a,#d3302b 47.5px,#d7422c 74.5px,#dc5d2e 93.5px,#e48534 113px,#edae3d 126px,#f5d549 135.5px,#fdfb66 144.5px,#fdfdbd 154.5px,#fbfce9 160px,#edf1fd 166.5px,#ced9fa 172.5px,#708df2 184.5px,#496af0 192px,#3555ee 198.5px,#3051ee 204px,#395aef 209px,#4e70f0 213.5px,#7491f2 218px,#beccf8 223px,#d5defa 224.5px,#f0f4fb 227px,#fafbea 229px,#fcfcd6 230px,#fefda5 232px,#fdfb69 234px,#f5d549 236.5px,#e99c38 240px,#e37f33 242.5px,#e06f31 245px,#e06e31 247px,#e27832 249px,#e68d36 251px,#efb63f 253.5px,#f5d549 255px,#fdfb66 257px,#fefdb1 259px,#fafbea 261px,#ecf1fd 263px,#c8d4f9 265.5px,#a3b7f6 268px,#90a7f4 270px,#89a2f4 272px,#8fa7f4 274px,#a4b8f6 276.5px,#d4ddfa 280.5px,#ebf0fd 284px,#eff3fc)"></i><i style="background:linear-gradient(#d1252a,#d3302b 48px,#d7422c 75px,#dc5c2e 94px,#e48534 113.5px,#edad3d 126.5px,#f5d549 136px,#fdfb69 145.5px,#fdfdbd 155px,#fbfce9 160.5px,#edf2fd 167px,#ced9fa 173px,#708df2 185px,#496bf0 192.5px,#3556ee 199px,#3051ee 204.5px,#395aef 209.5px,#4e70f0 214px,#7390f2 218.5px,#bccbf8 223.5px,#d9e2fb 225.5px,#eff3fc 227.5px,#f9fbeb 229.5px,#fbfce4 230px,#fefda9 232.5px,#fdfb6d 234.5px,#fcf763 235px,#f4d146 237.5px,#eaa039 240.5px,#e48334 243px,#e17331 245.5px,#e17331 248px,#e38034 250px,#e89737 252px,#f1c342 254.5px,#f5d74b 255.5px,#fdfb6a 257.5px,#fefdb3 259.5px,#fbfcdf 261px,#fafbea 261.5px,#ecf1fd 263.5px,#c9d5f9 266px,#a5b8f6 268.5px,#93aaf4 270.5px,#8da5f4 272.5px,#94abf5 274.5px,#b0c1f7 277.5px,#d5defa 280.5px,#eef2fd 284px,#f2f5f8)"></i><i style="background:linear-gradient(#d1252a,#d3302b 48.5px,#d7422c 75.5px,#dc5c2e 94.5px,#e48534 114px,#edad3d 127px,#f5d449 136.5px,#fdfb69 146px,#fdfdbc 155.5px,#fbfce9 161px,#eef2fd 167.5px,#cbd6f9 174px,#6d8bf2 186px,#4769f0 193.5px,#3455ee 200px,#3151ee 205.5px,#3b5bef 210.5px,#5172f0 215px,#728ff2 219px,#b3c4f7 223.5px,#d8e1fb 226px,#eff3fd 228px,#fbfce7 230.5px,#fefdad 233px,#fdfa65 235.5px,#f5d348 238px,#ea9d38 241.5px,#e48234 244px,#e17632 246.5px,#e27732 248.5px,#e48434 250.5px,#e99b38 252.5px,#f2c643 255px,#f6d94c 256px,#fcf562 257.5px,#fdfb6d 258px,#fefdb5 260px,#fbfce0 261.5px,#fafbeb 262px,#ecf1fd 264px,#cad5f9 266.5px,#a7baf6 269px,#96acf5 271px,#92a9f4 273px,#99aff5 275px,#b7c6f7 278px,#d5defa 280.5px,#eef2fd 283.5px,#f3f6f5)"></i><i style="background:linear-gradient(#d1252a,#d32f2b 48.5px,#d7422c 76px,#dc5c2e 95px,#e48434 114.5px,#edad3d 127.5px,#f5d64a 137.5px,#fdfb68 146.5px,#fdfdbc 156px,#fbfce8 161.5px,#eef2fd 168px,#ccd7f9 174.5px,#6e8cf2 186.5px,#4869f0 194px,#3455ee 200.5px,#3051ee 206px,#3a5bef 211px,#5072f0 215.5px,#718ef2 219.5px,#aabcf6 223.5px,#d1dbfa 226px,#eef2fd 228.5px,#fbfce9 231px,#fefdb1 233.5px,#fdfb68 236px,#f4cf46 239px,#eaa139 242px,#e58635 244.5px,#e27a32 247px,#e37d33 249.5px,#e68c36 251.5px,#edae3d 254px,#f5d348 256px,#fcf863 258px,#fdfb71 258.5px,#fdfdb7 260.5px,#fbfce2 262px,#f9fbeb 262.5px,#ecf0fd 264.5px,#cad6f9 267px,#a8bbf6 269.5px,#99aff5 271.5px,#96acf5 273.5px,#9eb3f5 275.5px,#bdcbf8 278.5px,#d5defa 280.5px,#eff3fd 283.5px,#f5f8f2)"></i><i style="background:linear-gradient(#d1252a,#d32f2b 49px,#d7422c 76.5px,#dc5c2e 95.5px,#e48434 115px,#edad3d 128px,#f5d64a 138px,#fdfb67 147px,#fdfdbb 156.5px,#fafbea 162.5px,#ecf0fd 169px,#ccd7f9 175px,#6e8cf2 187px,#4869f0 194.5px,#3455ee 201px,#3051ee 206.5px,#3a5bef 211.5px,#4f71f0 216px,#708ef2 220px,#a0b5f5 223.5px,#d6dffa 227px,#ecf1fd 229px,#fafbea 231.5px,#fcfcd7 232.5px,#fefda7 234.5px,#fdfb6d 236.5px,#fcf763 237px,#f4d247 239.5px,#eba53a 242.5px,#e68a35 245px,#e37e33 247.5px,#e48134 250px,#e79036 252px,#eeb23e 254.5px,#f5d64a 256.5px,#fdfa65 258.5px,#fdfdb9 261px,#fbfce3 262.5px,#f6f8f1 263.5px,#ebf0fd 265px,#c3d0f9 268px,#a6b9f6 270.5px,#9ab0f5 272.5px,#9bb0f5 274.5px,#acbef6 277px,#dae2fb 281px,#eff3fc 283.5px,#f7f9f0)"></i><i style="background:linear-gradient(#d1252a,#d32f2b 49px,#d7412c 76.5px,#dc5c2e 96px,#e58534 116px,#edae3d 129px,#f5d549 138.5px,#fdfb67 147.5px,#fdfdbb 157px,#fafbea 163px,#ecf1fd 169.5px,#cdd8f9 175.5px,#6f8cf2 187.5px,#486af0 195px,#3555ee 201.5px,#3051ee 207px,#3a5aef 212px,#4f70f0 216.5px,#7491f2 221px,#c5d2f9 226.5px,#dfe6fc 228.5px,#eff3fc 230px,#fbfce5 232.5px,#fefdac 235px,#fdfa65 237.5px,#f3ce45 240.5px,#eba33a 243.5px,#e68b35 246px,#e48234 248.5px,#e58835 251px,#e99a38 253px,#f0be41 255.5px,#f4d146 256.5px,#fdfb68 259px,#fefdad 261px,#fbfce5 263px,#f0f4fb 265px,#d3dcfa 267.5px,#b1c2f7 270px,#a1b5f5 272px,#9cb2f5 274px,#a4b8f6 276px,#bccaf8 278.5px,#d9e2fb 281px,#f0f3fc 283.5px,#f8f9ee)"></i><i style="background:linear-gradient(#d1252a,#d32f2b 49.5px,#d7412c 77px,#dc5c2e 96.5px,#e58534 116.5px,#edae3d 129.5px,#f5d549 139px,#fdfb66 148px,#fdfdbe 158px,#fafce9 163.5px,#edf1fd 170px,#cdd8f9 176px,#6f8df2 188px,#496af0 195.5px,#3555ee 202px,#3051ee 207.5px,#395aef 212.5px,#4e70f0 217px,#7390f2 221.5px,#bbcaf8 226.5px,#d8e1fb 228.5px,#eff3fd 230.5px,#fbfce9 233px,#fefdb1 235.5px,#fdfb6a 238px,#f7e051 240px,#f3ca44 241.5px,#eaa13a 244.5px,#e68c36 247px,#e58635 249.5px,#e79036 252px,#ecaa3c 254.5px,#f5d448 257px,#fcf561 259px,#fdfb6c 259.5px,#fefdb0 261.5px,#fbfce7 263.5px,#f0f3fc 265.5px,#c5d1f9 269px,#adbff6 271px,#a1b5f5 273px,#a1b5f5 275px,#b0c2f7 277.5px,#dde5fb 281.5px,#f0f3fc 283.5px,#f9faec)"></i><i style="background:linear-gradient(#d1252a,#d32f2b 50px,#d7412c 77.5px,#dc5c2e 97px,#e48534 117px,#edad3d 130px,#f5d549 139.5px,#fdfb66 148.5px,#fdfdbd 158.5px,#fbfce9 164px,#edf1fd 170.5px,#ced9fa 176.5px,#708df2 188.5px,#496bf0 196px,#3556ee 202.5px,#3051ee 208px,#395aef 213px,#4d6ff0 217.5px,#728ff2 222px,#b1c2f7 226.5px,#d1dbfa 228.5px,#edf1fd 231px,#fafbea 233.5px,#fdfdc0 235.5px,#fefc99 237px,#fdfb70 238.5px,#fdf964 239px,#f4cf45 242px,#eba63b 245px,#e79136 247.5px,#e68b35 250px,#e89437 252.5px,#edae3d 255px,#f4ce45 257px,#fcf863 259.5px,#fdfc80 260.5px,#fefdb3 262px,#fbfce9 264px,#eff3fc 266px,#c5d2f9 269.5px,#afc0f7 271.5px,#a4b7f6 273.5px,#a4b8f6 275.5px,#b5c5f7 278px,#dce4fb 281.5px,#eff3fc 283.5px,#f9faec)"></i><i style="background:linear-gradient(#d1252a,#d32f2b 50px,#d7412c 78px,#dc5b2e 97.5px,#e48534 117.5px,#edad3d 130.5px,#f5d449 140px,#fdfb69 149.5px,#fdfdbc 159px,#fbfce9 164.5px,#eef2fd 171px,#cbd6f9 177.5px,#6e8bf2 189.5px,#4769f0 197px,#3455ee 203.5px,#3051ee 209px,#3a5bef 214px,#5071f0 218.5px,#7692f2 223px,#c7d3f9 228.5px,#e6ebfc 231px,#f0f3fc 232px,#fbfce5 234.5px,#fefdad 237px,#fdfb68 239.5px,#f4d347 242.5px,#ecab3c 245.5px,#e89637 248px,#e78f36 250.5px,#e99938 253px,#eeb33e 255.5px,#f4d247 257.5px,#fdfa65 260px,#fefdb6 262.5px,#fafce9 264.5px,#eff3fc 266.5px,#b0c1f7 272px,#a6b9f6 274px,#a7baf6 276px,#b9c8f8 278.5px,#dbe3fb 281.5px,#eff3fd 283.5px,#f9fbeb)"></i><i style="background:linear-gradient(#d1252a,#d32f2b 50.5px,#d7412c 78.5px,#dc5b2e 98px,#e48434 118px,#edad3d 131px,#f5d64a 141px,#fdfb68 150px,#fdfdbc 159.5px,#fbfce8 165px,#eef2fd 171.5px,#ccd7f9 178px,#6e8cf2 190px,#4869f0 197.5px,#3455ee 204px,#3051ee 209.5px,#3a5bef 214.5px,#4f71f0 219px,#7491f2 223.5px,#c4d1f9 229px,#d9e1fb 230.5px,#eff3fd 232.5px,#fbfce9 235px,#fefdb2 237.5px,#fdfb6e 240px,#fdf864 240.5px,#f4d046 243.5px,#ecaa3c 246.5px,#e99838 249px,#e89537 251.5px,#eaa13a 254px,#f0be41 256.5px,#f5d549 258px,#fdfb69 260.5px,#fdfdb8 263px,#fbfce0 264.5px,#fafbea 265px,#eff3fd 267px,#b6c6f7 272px,#a9bcf6 274px,#a8bbf6 276px,#b3c3f7 278px,#eef2fd 283.5px,#f9fbec)"></i><i style="background:linear-gradient(#d1252a,#d32f2b 51px,#d7412c 79px,#dc5b2e 98.5px,#e48434 118.5px,#edac3d 131.5px,#f5d649 141.5px,#fdfb67 150.5px,#fdfdbb 160px,#fafbea 166px,#ecf1fd 172.5px,#cdd8f9 178.5px,#6f8cf2 190.5px,#486af0 198px,#3555ee 204.5px,#3051ee 210px,#395aef 215px,#4e70f0 219.5px,#7290f2 224px,#bac9f8 229px,#d7e0fb 231px,#edf1fd 233px,#fafbea 235.5px,#fcfcd8 236.5px,#fefdab 238.5px,#fdfb68 241px,#f5d449 244px,#edaf3d 247px,#ea9d39 249.5px,#e99a38 252px,#eba63b 254.5px,#f1c242 257px,#f6d84c 258.5px,#fcf763 260.5px,#fdfb6e 261px,#fefdae 263px,#fbfce2 265px,#fafbeb 265.5px,#eff3fd 267.5px,#b7c6f7 272.5px,#abbdf6 274.5px,#aabdf6 276.5px,#b6c6f7 278.5px,#f0f3fc 284px,#f9faec)"></i><i style="background:linear-gradient(#d1252a,#d32f2b 51px,#d6402c 79px,#db5a2e 98.5px,#e48434 119px,#edae3d 132.5px,#f5d549 142px,#fdfb66 151px,#fdfdbe 161px,#fbfce9 166.5px,#edf1fd 173px,#ced8fa 179px,#708df2 191px,#496af0 198.5px,#3556ee 205px,#3051ee 210.5px,#395aef 215.5px,#5072f0 220.5px,#718ef2 224.5px,#a8bbf6 228.5px,#d5defa 231.5px,#eff3fc 234px,#fbfce7 236.5px,#fefdb1 239px,#fdfb6e 241.5px,#fdf964 242px,#f4d347 245px,#edb03d 248px,#eaa039 250.5px,#eaa039 253px,#edaf3d 255.5px,#f3ce45 258px,#fdfa65 261px,#fefdb1 263.5px,#fbfce4 265.5px,#f4f6f5 267px,#eef2fd 268px,#b7c7f7 273px,#acbef6 275px,#acbef6 277px,#b8c8f8 279px,#eef2fd 284px,#f8faee)"></i><i style="background:linear-gradient(#d1252a,#d32e2b 51.5px,#d6402c 79.5px,#db5a2e 99px,#e48334 119.5px,#edad3d 133px,#f5d549 142.5px,#fdfb69 152px,#fdfdbd 161.5px,#fbfce9 167px,#edf2fd 173.5px,#cbd6f9 180px,#6d8bf2 192px,#4769f0 199.5px,#3455ee 206px,#3051ee 211.5px,#3a5bef 216.5px,#4f71f0 221px,#7491f2 225.5px,#c4d1f9 231px,#d8e1fb 232.5px,#eef2fd 234.5px,#fafbea 237px,#fefdaa 240px,#fdfb69 242.5px,#f5d74a 245.5px,#f0bf41 247.5px,#ecaa3c 250px,#eba33a 252.5px,#edac3c 255px,#f1c443 257.5px,#f6d84b 259px,#fdfb69 261.5px,#fefdb4 264px,#fbfce6 266px,#eef2fd 268.5px,#b8c7f7 273.5px,#adbff6 275.5px,#aec0f7 277.5px,#bbcaf8 279.5px,#f0f3fc 284.5px,#f7f9ef)"></i><i style="background:linear-gradient(#d1252a,#d32e2b 52px,#d6402c 80px,#db5a2e 99.5px,#e48334 120px,#edad3d 133.5px,#f5d64a 143.5px,#fdfb68 152.5px,#fdfdbc 162px,#fbfce8 167.5px,#eef2fd 174px,#ccd7f9 180.5px,#6e8cf2 192.5px,#486af0 200px,#3455ee 206.5px,#3051ee 212px,#3a5aef 217px,#4e70f0 221.5px,#7390f2 226px,#bac9f8 231px,#d6dffa 233px,#ecf1fd 235px,#f9fbeb 237.5px,#fbfce6 238px,#fefdb1 240.5px,#fdfa65 243.5px,#f4d046 247px,#efb63f 249.5px,#ecaa3c 252px,#edac3c 254.5px,#f0bd41 257px,#f5d549 259px,#fcf863 261.5px,#fdfb6e 262px,#fdfdb7 264.5px,#fbfce9 266.5px,#edf1fd 269px,#b8c8f8 274px,#aec0f7 276px,#b0c1f7 278px,#bdcbf8 280px,#edf2fd 284.5px,#f6f8f2)"></i><i style="background:linear-gradient(#d1242a,#d32e2b 52px,#d6402c 80.5px,#db592e 100px,#e48434 121px,#edac3d 134px,#f5d64a 144px,#fdfb67 153px,#fdfdbb 162.5px,#fafbea 168.5px,#ecf1fd 175px,#cdd8f9 181px,#6f8df2 193px,#486af0 200.5px,#3555ee 207px,#3051ee 212.5px,#395aef 217.5px,#5072f0 222.5px,#718ef2 226.5px,#a8bbf6 230.5px,#d4defa 233.5px,#eff3fd 236px,#fbfce9 238.5px,#fefdaa 241.5px,#fdfb6b 244px,#fbf15e 245px,#f4d046 248px,#efb840 250.5px,#edae3d 253px,#eeb33e 255.5px,#f2c744 258px,#f6d94c 259.5px,#fdfb66 262px,#fdfdbb 265px,#fafbe9 267px,#ecf1fd 269.5px,#b9c8f8 274.5px,#afc0f7 276.5px,#b1c2f7 278.5px,#beccf8 280.5px,#eff3fd 285px,#f4f7f4)"></i><i style="background:linear-gradient(#d1242a,#d32e2b 52.5px,#d6402c 81px,#db592e 100.5px,#e48434 121.5px,#edae3d 135px,#f5d549 144.5px,#fdfb66 153.5px,#fdfdbd 163.5px,#fbfce9 169px,#edf1fd 175.5px,#ced9fa 181.5px,#708df2 193.5px,#496bf0 201px,#3455ee 208px,#3051ee 213.5px,#3a5bef 218.5px,#4f71f0 223px,#7491f2 227.5px,#c3d0f8 233px,#d7e0fb 234.5px,#edf1fd 236.5px,#f9fbeb 239px,#fbfce5 239.5px,#fefda5 242.5px,#fdfb67 245px,#f5d449 248.5px,#f0bb40 251.5px,#eeb33e 254px,#f0bb40 256.5px,#f4d247 259px,#fcf662 262px,#fdfb6b 262.5px,#fefdb2 265px,#fbfce2 267px,#fafbea 267.5px,#f0f3fc 269.5px,#b9c8f8 275px,#afc1f7 277px,#b1c2f7 279px,#bfcdf8 281px,#f0f3fc 285.5px,#f2f5f8)"></i><i style="background:linear-gradient(#d1242a,#d32e2b 53px,#d6402c 81.5px,#db592e 101px,#e48334 122px,#edad3d 135.5px,#f5d449 145px,#fdfb69 154.5px,#fdfdbc 164px,#fbfce9 169.5px,#eef2fd 176px,#cbd7f9 182.5px,#6e8cf2 194.5px,#4869f0 202px,#3455ee 208.5px,#3051ee 214px,#395aef 219px,#5173f0 224px,#728ff2 228px,#b8c8f7 233px,#d5defa 235px,#eff3fd 237.5px,#fbfce9 240px,#fefdac 243px,#fdfb6f 245.5px,#fdfa65 246px,#f5d549 249.5px,#f0be41 252.5px,#efb940 255px,#f1c443 257.5px,#f5d64a 259.5px,#fdfa65 262.5px,#fefc99 264.5px,#fdfdc1 266px,#fbfce4 267.5px,#f4f7f4 269px,#eff3fc 270px,#b9c8f8 275.5px,#b0c1f7 277.5px,#b2c3f7 279.5px,#c0cef8 281.5px,#ecf1fd 285.5px,#f0f4fb)"></i><i style="background:linear-gradient(#d1242a,#d32e2b 53.5px,#d6402c 82px,#db592e 102px,#e48334 122.5px,#edad3d 136px,#f5d64a 146px,#fdfb67 155px,#fdfdbb 164.5px,#fafbea 170.5px,#ecf1fd 177px,#cdd8f9 183px,#6f8cf2 195px,#486af0 202.5px,#3555ee 209px,#3051ee 214.5px,#395aef 219.5px,#5072f0 224.5px,#7592f2 229px,#d8e1fb 236px,#edf2fd 238px,#fbfce5 241px,#fefda7 244px,#fdfb6c 246.5px,#fbf35f 247.5px,#f4d246 251px,#f1c242 253.5px,#f1c042 256px,#f3cd45 258.5px,#f8e454 261px,#fdfb69 263px,#fdfdb9 266px,#fbfce7 268px,#eff3fd 270.5px,#b8c8f8 276px,#b0c1f7 278px,#b2c3f7 280px,#c1cef8 282px,#edf1fd)"></i><i style="background:linear-gradient(#d1242a,#d32e2b 53.5px,#d63f2c 82.5px,#db592e 102.5px,#e48434 123.5px,#edae3d 137px,#f5d549 146.5px,#fdfb66 155.5px,#fdfdbe 165.5px,#fbfce9 171px,#edf1fd 177.5px,#ced9fa 183.5px,#708df2 195.5px,#496bf0 203px,#3455ee 210px,#3051ee 215.5px,#3a5bef 220.5px,#4f71f0 225px,#7390f2 229.5px,#c1cef8 235px,#d5dffa 236.5px,#eff3fc 239px,#fafbe9 241.5px,#fefdaf 244.5px,#fdfb69 247.5px,#f8e353 250px,#f4d046 252.5px,#f2c543 255px,#f2c844 257.5px,#f5d549 259.5px,#fbf360 262.5px,#fdf965 263px,#fdfc88 264.5px,#fdfdbc 266.5px,#fbfce9 268.5px,#eef3fd 271px,#b8c7f7 276.5px,#afc1f7 278.5px,#b2c3f7 280.5px,#c1cef8 282.5px,#e7edfd)"></i><i style="background:linear-gradient(#d1242a,#d32e2b 54px,#d63f2c 83px,#db592e 103px,#e48334 124px,#edad3d 137.5px,#f5d549 147px,#fdfb69 156.5px,#fdfdbc 166px,#fbfce9 171.5px,#eef2fd 178px,#cbd7f9 184.5px,#6e8cf2 196.5px,#4869f0 204px,#3455ee 210.5px,#3051ee 216px,#395aef 221px,#5172f0 226px,#7693f2 230.5px,#d3ddfa 237px,#edf1fd 239.5px,#fbfce7 242.5px,#fefdab 245.5px,#fdfb68 248.5px,#f6db4e 252px,#f3ce45 254.5px,#f3cb45 257px,#f5d64a 259.5px,#fbf05e 262.5px,#fdfb69 263.5px,#fdfdbf 267px,#fafbea 269px,#eef2fd 271.5px,#b7c7f7 277px,#afc0f7 279px,#b2c3f7 281px,#c0cef8 283px,#e1e8fc)"></i><i style="background:linear-gradient(#d1242a,#d32e2b 54.5px,#d63f2c 83.5px,#db592e 103.5px,#e48334 124.5px,#edad3d 138px,#f5d64a 148px,#fdfb67 157px,#fdfdbb 166.5px,#fafbea 172.5px,#ecf1fd 179px,#cdd8f9 185px,#6f8df2 197px,#486af0 204.5px,#3555ee 211px,#3050ee 216.5px,#3959ef 221.5px,#4f71f0 226.5px,#7491f2 231px,#c8d4f9 237px,#e5ebfc 239.5px,#eff3fd 240.5px,#fafbea 243px,#fefdb2 246px,#fdfb66 249.5px,#f7dd4f 253px,#f4d146 256px,#f4d348 258.5px,#f7e152 261px,#fdfa65 263.5px,#fefc92 265.5px,#fdfdb8 267px,#fbfce4 269px,#f7f9ef 270px,#edf1fd 272px,#b7c6f7 277.5px,#aec0f7 279.5px,#b1c2f7 281.5px,#bfcdf8 283.5px,#dce3fb)"></i><i style="background:linear-gradient(#d1242a,#d32e2b 55px,#d63f2c 84px,#db582e 104px,#e48234 125px,#edac3c 138.5px,#f5d549 148.5px,#fdfb66 157.5px,#fdfdbd 167.5px,#fbfce9 173px,#edf1fd 179.5px,#ced9fa 185.5px,#708ef2 197.5px,#496bf0 205px,#3455ee 212px,#3051ee 217.5px,#395aef 222.5px,#5173f0 227.5px,#718ff2 231.5px,#aec0f7 236px,#d3ddfa 238.5px,#edf1fd 241px,#fbfce9 244px,#fefda4 247.5px,#fdfb66 250.5px,#f8e253 253.5px,#f5d64a 256.5px,#f5d84b 259px,#f8e555 261.5px,#fcf863 263.5px,#fdfb6a 264px,#fefda4 266.5px,#fbfce6 269.5px,#f0f3fc 272px,#b6c6f7 278px,#adbff6 280px,#b0c1f7 282px,#beccf8 284px,#d6dffa)"></i><i style="background:linear-gradient(#d1242a,#d32d2b 55px,#d63e2c 84px,#db572e 104px,#e48234 125.5px,#ecab3c 139px,#f5d449 149px,#fdfb68 158.5px,#fdfdbc 168px,#fbfce9 173.5px,#eef2fd 180px,#ccd7f9 186.5px,#6e8cf2 198.5px,#486af0 206px,#3455ee 212.5px,#3050ee 218px,#395aef 223px,#4f71f0 228px,#7491f2 232.5px,#c8d4f9 238.5px,#e4ebfc 241px,#eff3fd 242px,#fbfce5 245px,#fefda2 248.5px,#fdfb66 251.5px,#f8e454 254.5px,#f6da4d 257.5px,#f7de50 260px,#fbf15f 263px,#fdfb66 264px,#fefd9d 266.5px,#fcfcd4 269px,#fbfce9 270px,#eff3fc 272.5px,#b5c5f7 278.5px,#acbef6 280.5px,#afc0f7 282.5px,#bdcbf8 284.5px,#cfdafa)"></i><i style="background:linear-gradient(#d1242a,#d32d2b 55.5px,#d63f2c 85px,#db582e 105px,#e48334 126.5px,#edac3c 140px,#f5d549 150px,#fdfb67 159px,#fdfdba 168.5px,#fafbe9 174.5px,#ecf1fd 181px,#cdd8f9 187px,#6f8df2 199px,#496bf0 206.5px,#3455ee 213.5px,#3051ee 219px,#3a5aef 224px,#5173f0 229px,#7793f3 233.5px,#d7e0fb 240.5px,#f0f3fc 243px,#fafbea 245.5px,#fefdab 249px,#fdfb6f 252px,#fdfb67 252.5px,#f8e454 256px,#f7df50 259px,#f9e756 261.5px,#fdfa65 264px,#fefc8b 266px,#fdfdb8 268px,#fafbea 270.5px,#eff3fd 273px,#b4c4f7 279px,#aabdf6 281.5px,#b0c1f7 283.5px,#c0cef8 285.5px,#c6d3f9)"></i><i style="background:linear-gradient(#d1242a,#d32d2b 56px,#d63e2c 85.5px,#db572e 105.5px,#e48234 127px,#edac3c 140.5px,#f5d549 150.5px,#fdfb69 160px,#fdfdbd 169.5px,#fbfce9 175px,#edf2fd 181.5px,#cbd6f9 188px,#6e8cf2 200px,#4869f0 207.5px,#3455ee 214px,#3050ee 219.5px,#395aef 224.5px,#4f71f0 229.5px,#7491f2 234px,#d4defa 241px,#eef2fd 243.5px,#fbfce9 246.5px,#fefd9e 250.5px,#fdfb70 253px,#fdf864 254px,#f9e757 257px,#f8e454 260px,#fbf15e 263px,#fdfb6a 264.5px,#fefd9b 267px,#fdfdc5 269px,#fbfce4 270.5px,#f5f8f2 272px,#eef2fd 273.5px,#b3c3f7 279.5px,#a9bcf6 282px,#aebff7 284px,#beccf8)"></i><i style="background:linear-gradient(#d1242a,#d32d2b 56.5px,#d63e2c 86px,#db572e 106px,#e48234 127.5px,#ecab3c 141px,#f5d64a 151.5px,#fdfb67 160.5px,#fdfdbb 170px,#fafbea 176px,#ecf1fd 182.5px,#cdd8f9 188.5px,#6f8df2 200.5px,#496af0 208px,#3454ee 215px,#3051ee 220.5px,#3a5aef 225.5px,#5173f0 230.5px,#7793f2 235px,#d6dffa 242px,#eff3fd 244.5px,#fbfce6 247.5px,#fefd9e 251.5px,#fdfb72 254px,#fdfa65 255px,#faea59 258px,#f9ea59 261px,#fdf964 264px,#fdfb70 265px,#fefda1 267.5px,#fbfce6 271px,#edf2fd 274px,#c4d1f9 278px,#aec0f7 280.5px,#a7baf6 282.5px,#acbef6 284.5px,#b6c6f7)"></i><i style="background:linear-gradient(#d1242a,#d32d2b 57px,#d63e2c 86.5px,#db572e 106.5px,#e48234 128.5px,#edac3c 142px,#f5d549 152px,#fdfb66 161px,#fdfdbd 171px,#fbfce9 176.5px,#edf2fd 183px,#cbd6f9 189.5px,#6d8bf2 201.5px,#4869f0 209px,#3455ee 215.5px,#3050ee 221px,#395aef 226px,#4f71f0 231px,#7390f2 235.5px,#d3ddfa 242.5px,#f0f3fc 245.5px,#fafbea 248px,#fcfcd2 249.5px,#fefd9d 252.5px,#fdfc74 255px,#fdfb67 256px,#faee5c 259px,#fbf05d 262px,#fdfb69 264.5px,#fefc91 267px,#fdfdc2 269.5px,#fbfce9 271.5px,#edf1fd 274.5px,#c3d0f9 278.5px,#adbff6 281px,#a5b9f6 283.5px,#acbef6 285.5px,#afc1f7)"></i><i style="background:linear-gradient(#d1242a,#d32d2b 57.5px,#d63e2c 87px,#db572e 107.5px,#e48234 129px,#ecab3c 142.5px,#f5d64a 153px,#fdfb68 162px,#fdfdbb 171.5px,#fafbea 177.5px,#ecf0fd 184px,#ccd7f9 190px,#6f8cf2 202px,#486af0 209.5px,#3454ee 216.5px,#3050ee 222px,#395aef 227px,#5172f0 232px,#7692f2 236.5px,#d5defa 243.5px,#eef2fd 246px,#fafbe9 249px,#fefd9e 253.5px,#fdfc76 256px,#fdfb66 257.5px,#fbf25f 260.5px,#fcf863 263.5px,#fdfb69 264.5px,#fdfc85 266.5px,#fafbe9 272px,#ecf0fd 275px,#c3d0f8 279px,#acbef6 281.5px,#a3b7f6 284px,#a9bcf6)"></i><i style="background:linear-gradient(#d1242a,#d32d2b 57.5px,#d63e2c 87.5px,#db572e 108px,#e48334 130px,#edac3c 143.5px,#f5d549 153.5px,#fdfb66 162.5px,#fdfdbd 172.5px,#fbfce9 178px,#edf1fd 184.5px,#ced9fa 190.5px,#6d8bf2 203px,#4769f0 210.5px,#3455ee 217px,#3050ee 222.5px,#3959ef 227.5px,#4f71f0 232.5px,#7290f2 237px,#c4d1f9 243px,#d7e0fa 244.5px,#eff3fd 247px,#fbfce9 250px,#fdfc80 256.5px,#fdfb66 259px,#fcf763 262px,#fdfb67 264px,#fdfc7c 266px,#fefda5 268.5px,#fbfce4 272px,#f8faee 273px,#eff3fc 275px,#c8d4f9 279px,#aec0f7 281.5px,#a2b6f5 284px,#a4b8f6)"></i><i style="background:linear-gradient(#d1242a,#d22d2b 58px,#d63d2c 88px,#db562e 108.5px,#e48234 130.5px,#ecab3c 144px,#f5d64a 154.5px,#fdfb68 163.5px,#fdfdbb 173px,#fafbea 179px,#ecf0fd 185.5px,#ccd7f9 191.5px,#6f8cf2 203.5px,#486af0 211px,#3454ee 218px,#3050ee 223.5px,#395aef 228.5px,#5072f0 233.5px,#7491f2 238px,#d3ddfa 245px,#eff3fc 248px,#fbfce8 251px,#fdfc8a 257px,#fdfb70 259.5px,#fdfb67 261.5px,#fdfb69 263.5px,#fdfc77 265.5px,#fefc99 268px,#fbfce6 272.5px,#eff3fd 275.5px,#c7d3f9 279.5px,#adbff6 282px,#a0b4f5 284.5px,#a0b4f5)"></i><i style="background:linear-gradient(#d1242a,#d22d2b 58.5px,#d63d2c 88.5px,#db562e 109px,#e48134 131px,#ecaa3c 144.5px,#f5d549 155px,#fdfb66 164px,#fdfdbd 174px,#fbfce9 179.5px,#edf1fd 186px,#ced9fa 192px,#6d8bf2 204.5px,#4869f0 212px,#3455ee 218.5px,#3050ee 224px,#3859ef 229px,#4e70f0 234px,#718ff2 238.5px,#bac9f8 244px,#d5defa 246px,#f0f3fb 249px,#fbfce7 252px,#fefc8d 258px,#fdfc76 260.5px,#fdfb6f 262.5px,#fdfc73 264.5px,#fdfc83 266.5px,#fefda6 269px,#fbfce8 273px,#eff3fd 276px,#cdd8f9 279.5px,#acbef6 282.5px,#9eb3f5 285px,#9cb2f5)"></i><i style="background:linear-gradient(#d1242a,#d22c2b 59px,#d63d2c 89px,#db552e 109.5px,#e48234 132px,#ecab3c 145.5px,#f5d64a 156px,#fdfb68 165px,#fdfdbb 174.5px,#fafbea 180.5px,#ecf1fd 187px,#cdd8f9 193px,#6f8df2 205px,#496af0 212.5px,#3454ee 219.5px,#3050ee 225px,#395aef 230px,#4f71f0 235px,#7390f2 239.5px,#d6dffa 247px,#eef2fd 249.5px,#fbfce6 253px,#fefd9d 258px,#fdfc82 260.5px,#fdfc78 262.5px,#fdfc79 264.5px,#fdfc85 266.5px,#fefda3 269px,#fbfce9 273.5px,#eff3fd 276.5px,#ccd7f9 280px,#abbdf6 283px,#9cb1f5 285.5px,#9ab0f5)"></i><i style="background:linear-gradient(#d1242a,#d22c2b 59.5px,#d63d2c 89.5px,#da552e 110px,#e48134 132.5px,#ecaa3c 146px,#f5d549 156.5px,#fdfb66 165.5px,#fdfdbd 175.5px,#fbfce9 181px,#edf2fd 187.5px,#cbd6f9 194px,#6e8cf2 206px,#4869f0 213.5px,#3354ee 220.5px,#3050ee 226px,#395aef 231px,#5172f0 236px,#7592f2 240.5px,#d2dcfa 247.5px,#eef2fd 250.5px,#fbfce6 254px,#fefdb5 257.5px,#fefc90 260.5px,#fdfc81 263px,#fdfc81 265px,#fefc8b 267px,#fefda8 269.5px,#fafce9 274px,#eff3fd 277px,#ccd7f9 280.5px,#aabdf6 283.5px,#9aaff5)"></i><i style="background:linear-gradient(#d1242a,#d22c2b 60px,#d63d2c 90.5px,#db552e 111px,#e48234 133.5px,#ecab3c 147px,#f5d64a 157.5px,#fdfb67 166.5px,#fdfdbb 176px,#fafbea 182px,#ecf1fd 188.5px,#cdd8f9 194.5px,#6f8df2 206.5px,#496bf0 214px,#3454ee 221px,#3050ee 226.5px,#3859ef 231.5px,#4e70f0 236.5px,#718ff2 241px,#c0cdf8 247px,#d8e1fb 249px,#eff3fd 251.5px,#fbfce6 255px,#fdfdb6 258.5px,#fefc95 261.5px,#fdfc88 264px,#fdfc8a 266px,#fefd9b 268.5px,#fcfcd4 273px,#fafbea 274.5px,#eff3fd 277.5px,#ccd7f9 281px,#aabcf6 284px,#9ab0f5)"></i><i style="background:linear-gradient(#d1242a,#d22c2b 60.5px,#d63d2c 91px,#da552e 111.5px,#e48134 134px,#ecaa3c 147.5px,#f5d549 158px,#fdfb69 167.5px,#fdfdbc 177px,#fbfce9 182.5px,#eef2fd 189px,#ccd7f9 195.5px,#6e8cf2 207.5px,#486af0 215px,#3354ee 222px,#3050ee 227.5px,#395aef 232.5px,#4f71f0 237.5px,#7390f2 242px,#d4defa 249.5px,#eff3fd 252.5px,#fbfce6 256px,#fdfdb9 259.5px,#fefc9a 262.5px,#fefc90 265px,#fefc95 267.5px,#fefdab 270px,#fcfcd6 273.5px,#fafbea 275px,#eff3fd 278px,#cdd8f9 281.5px,#a5b8f6 285px,#9cb2f5)"></i><i style="background:linear-gradient(#d1242a,#d22c2b 61px,#d63c2c 91.5px,#da542e 112px,#e38034 134.5px,#eca93c 148px,#f5d549 159px,#fdfb66 168px,#fdfdbe 178px,#fafce9 183.5px,#edf1fd 190px,#ced9fa 196px,#708ef2 208px,#4769f0 216px,#3354ee 223px,#3050ee 228.5px,#395aef 233.5px,#5072f0 238.5px,#7491f2 243px,#d5defa 250.5px,#eff3fc 253.5px,#fbfce7 257px,#fdfdbb 260.5px,#fefd9d 264px,#fefc97 266.5px,#fefda2 269px,#fdfdca 273px,#fafbea 275.5px,#eff3fd 278.5px,#ced8f9 282px,#a4b8f6 285.5px,#a0b4f5)"></i><i style="background:linear-gradient(#d1242a,#d22c2b 61.5px,#d63c2c 92px,#da552e 113px,#e48134 135.5px,#eca93c 149px,#f5d448 159.5px,#fdfb68 169px,#fdfdbb 178.5px,#fafbea 184.5px,#ecf0fd 191px,#ccd8f9 197px,#6f8df2 209px,#496af0 216.5px,#3454ee 223.5px,#3050ee 229px,#3859ef 234px,#4e70f0 239px,#7592f2 244px,#d6dffa 251.5px,#eff3fc 254.5px,#fbfce8 258px,#fdfdbe 261.5px,#fefda3 265px,#fefd9f 267.5px,#fefdab 270px,#fdfdc6 273px,#fafbea 276px,#eff3fd 279px,#ced9fa 282.5px,#a4b8f6)"></i><i style="background:linear-gradient(#d1242a,#d22c2b 62px,#d63c2c 93px,#da552e 114px,#e48134 136.5px,#ecaa3c 150px,#f5d549 160.5px,#fdfb66 169.5px,#fdfdbd 179.5px,#fbfce9 185px,#edf2fd 191.5px,#cbd6f9 198px,#6e8cf2 210px,#4869f0 217.5px,#3354ee 224.5px,#3050ee 230px,#3959ef 235px,#4f71f0 240px,#728ff2 244.5px,#d6dffa 252.5px,#eff3fc 255.5px,#fbfce9 259px,#fdfdc1 262.5px,#fefda9 266px,#fefda7 268.5px,#fefdb6 271.5px,#fcfcd3 274.5px,#fafbea 276.5px,#ecf0fd 280px,#c9d5f9 283.5px,#aabdf6)"></i><i style="background:linear-gradient(#d1232a,#d22c2b 62.5px,#d63c2c 93.5px,#da542e 114.5px,#e38034 137px,#eca93c 150.5px,#f5d549 161.5px,#fdfb67 170.5px,#fdfdbe 180.5px,#fafbe9 186px,#edf1fd 192.5px,#ced9fa 198.5px,#708df2 210.5px,#4769f0 218.5px,#3354ee 225.5px,#3050ee 231px,#395aef 236px,#5071f0 241px,#7290f2 245.5px,#d2dcfa 253px,#eff3fc 256.5px,#fbfce9 260px,#fdfdc4 263.5px,#fefdb1 266.5px,#fefdad 269px,#fdfdb9 272px,#fcfcd4 275px,#fafbea 277px,#edf1fd 280.5px,#cbd6f9 284px,#b1c2f7)"></i><i style="background:linear-gradient(#d1232a,#d22c2b 63px,#d53c2c 94px,#da542e 115px,#e48134 138px,#eca93c 151.5px,#f5d448 162px,#fdfb68 171.5px,#fdfdbb 181px,#fafbea 187px,#ecf1fd 193.5px,#cdd8f9 199.5px,#6f8df2 211.5px,#496af0 219px,#3454ee 226px,#2f50ee 231.5px,#395aef 237px,#5072f0 242px,#7390f2 246.5px,#d3dcfa 254px,#eff3fc 257.5px,#fbfce6 261.5px,#fdfdc7 264.5px,#fefdb5 267.5px,#fefdb3 270px,#fdfdbb 272.5px,#fcfcd4 275.5px,#fafbea 277.5px,#eef2fd 281px,#cdd8f9 284.5px,#b9c8f8)"></i><i style="background:linear-gradient(#d1232a,#d22c2b 63.5px,#d53b2c 94.5px,#da532e 115.5px,#e38033 138.5px,#eca83b 152px,#f5d549 163px,#fdfb69 172.5px,#fdfdbd 182px,#fbfce9 187.5px,#eef2fd 194px,#cbd7f9 200.5px,#6e8cf2 212.5px,#486af0 220px,#3354ee 227px,#2f50ee 232.5px,#3a5bef 238px,#5173f0 243px,#7491f2 247.5px,#d3ddfa 255px,#eff3fc 258.5px,#fbfce8 262.5px,#fcfdca 265.5px,#fdfdba 268.5px,#fdfdb9 271.5px,#fdfdc7 274.5px,#fafbea 278px,#eff3fd 281.5px,#cfdafa 285px,#c1cff8)"></i><i style="background:linear-gradient(#d1232a,#d22b2b 64px,#d53c2c 95.5px,#da542e 116.5px,#e38034 139.5px,#eca83b 153px,#f5d549 164px,#fdfb66 173px,#fdfdbe 183px,#fbfce9 188.5px,#edf1fd 195px,#ced9fa 201px,#6d8bf2 213.5px,#4869f0 221px,#3354ee 228px,#2f50ee 233.5px,#3a5bef 239px,#5173f0 244px,#7592f2 248.5px,#d3ddfa 256px,#eff3fd 259.5px,#fbfce9 263.5px,#fdfdc9 267px,#fdfdbc 270px,#fdfdbe 273px,#fcfcd0 276px,#fbfce9 278.5px,#edf1fd 282.5px,#cbd6f9)"></i><i style="background:linear-gradient(#d1232a,#d22b2b 64.5px,#d53b2c 96px,#da532e 117px,#e37f33 140px,#eca73b 153.5px,#f5d64a 165px,#fdfb67 174px,#fdfdbb 183.5px,#fafbe9 189.5px,#ecf1fd 196px,#cdd8f9 202px,#708df2 214px,#496bf0 221.5px,#3454ee 228.5px,#2f50ee 234.5px,#3a5bef 240px,#5273f0 245px,#7592f2 249.5px,#d3ddfa 257px,#eff3fd 260.5px,#fbfce6 265px,#fcfccd 268px,#fdfdc0 271px,#fdfdc2 274px,#fcfcd4 277px,#fbfce8 279px,#eff3fd 283px,#d4ddfa)"></i><i style="background:linear-gradient(#d1232a,#d22b2b 65px,#d53b2c 96.5px,#da522e 117.5px,#e37f33 141px,#eca73b 154.5px,#f5d448 165.5px,#fdfb68 175px,#fdfdbb 184.5px,#fafbea 190.5px,#ecf1fd 197px,#cdd8f9 203px,#6f8df2 215px,#496af0 222.5px,#3354ee 229.5px,#2f50ee 235.5px,#3a5bef 241px,#5274f0 246px,#7693f2 250.5px,#d3dcfa 258px,#eff3fd 261.5px,#fbfce9 266px,#fcfccc 269.5px,#fdfdc3 272.5px,#fdfdc8 275.5px,#fcfcdc 278.5px,#fafbea 280px,#edf1fd 284px,#dbe3fb)"></i><i style="background:linear-gradient(#d1232a,#d22b2b 66px,#d53b2c 97.5px,#da522e 118.5px,#e38033 142px,#eca83b 155.5px,#f5d549 166.5px,#fdfb69 176px,#fdfdbc 185.5px,#fbfce9 191px,#eef2fd 197.5px,#ccd7f9 204px,#6f8cf2 216px,#486af0 223.5px,#3354ee 230.5px,#2f4fee 236px,#395aef 241.5px,#4f71f0 246.5px,#7693f2 251.5px,#d3dcfa 259px,#eef2fd 262.5px,#fbfce6 267.5px,#fcfccf 270.5px,#fdfdc5 273.5px,#fcfcca 276.5px,#fbfcdf 279.5px,#fafbeb 281px,#eff3fd 284.5px,#e2e9fc)"></i><i style="background:linear-gradient(#d1232a,#d22b2b 66.5px,#d53b2c 98.5px,#da532e 119.5px,#e38033 143px,#eca83b 156.5px,#f5d549 167.5px,#fdfb66 176.5px,#fdfdbd 186.5px,#fbfce9 192px,#edf2fd 198.5px,#cbd6f9 205px,#6e8cf2 217px,#4869f0 224.5px,#3354ee 231.5px,#2f4fee 237px,#395aef 242.5px,#5071f0 247.5px,#7793f2 252.5px,#d2dcfa 260px,#f0f3fc 264px,#fbfce8 268.5px,#fcfcd1 271.5px,#fdfdc8 274.5px,#fcfccd 277.5px,#fbfce1 280.5px,#f9faec 282px,#eef2fd 285.5px,#eaeffd)"></i><i style="background:linear-gradient(#d1232a,#d22b2b 67px,#d53b2c 99px,#da532e 120.5px,#e38034 144px,#eca83b 157.5px,#f5d549 168.5px,#fdfb66 177.5px,#fdfdbd 187.5px,#fbfce9 193px,#edf1fd 199.5px,#cbd6f9 206px,#6e8bf2 218px,#4869f0 225.5px,#3353ee 232.5px,#2f4fee 238px,#395aef 243.5px,#5072f0 248.5px,#7793f2 253.5px,#d2dcfa 261px,#eff3fc 265px,#fbfce5 270px,#fcfcd1 273px,#fdfdc9 276px,#fcfcd1 279px,#fafbea 282.5px,#f0f3fc)"></i><i style="background:linear-gradient(#d1232a,#d22b2b 67.5px,#d53a2c 99.5px,#da522e 121px,#e37f33 144.5px,#eca73b 158px,#f5d549 169.5px,#fdfb66 178.5px,#fdfdbe 188.5px,#fbfce9 194px,#edf1fd 200.5px,#ced9fa 206.5px,#708ef2 218.5px,#4769f0 226.5px,#3353ee 233.5px,#2f4fee 239px,#395aef 244.5px,#5072f0 249.5px,#7793f2 254.5px,#d1dbfa 262px,#eff3fd 266px,#fbfce7 271px,#fcfcd2 274px,#fcfcca 277px,#fcfcd1 280px,#fafbeb 283.5px,#f3f6f7)"></i><i style="background:linear-gradient(#d1232a,#d22b2b 68px,#d53a2c 100.5px,#da522e 122px,#e37f33 145.5px,#eca73b 159px,#f5d649 170.5px,#fdfb67 179.5px,#fdfdbe 189.5px,#fafbe9 195px,#edf1fd 201.5px,#ced8fa 207.5px,#708df2 219.5px,#4769ef 227.5px,#3353ee 234.5px,#2f4fee 240px,#395aef 245.5px,#5072f0 250.5px,#7693f2 255.5px,#d5defa 263.5px,#eff3fd 267px,#fbfce3 272.5px,#fcfcd0 275.5px,#fcfccb 278.5px,#fcfcd2 281px,#fafbeb 284.5px,#f6f8f2)"></i><i style="background:linear-gradient(#d1232a,#d22b2b 69px,#d53a2c 101.5px,#da522e 123px,#e37f33 146.5px,#eca73b 160px,#f5d64a 171.5px,#fdfb67 180.5px,#fdfdbb 190px,#fafbe9 196px,#ecf1fd 202.5px,#cdd8f9 208.5px,#708df2 220.5px,#4769ef 228.5px,#3353ee 235.5px,#2f4fee 241px,#395aef 246.5px,#5072f0 251.5px,#7693f2 256.5px,#d4defa 264.5px,#eef2fd 268px,#fbfce9 273px,#fcfcd1 276.5px,#fcfccb 279.5px,#fcfcd2 282px,#fafbeb 285.5px,#f8faed)"></i><i style="background:linear-gradient(#d1232a,#d22b2b 69.5px,#d53a2c 102px,#da512e 123.5px,#e37f33 147.5px,#eca73b 161px,#f5d64a 172.5px,#fdfb67 181.5px,#fdfdbb 191px,#fafbea 197px,#ecf1fd 203.5px,#cdd8f9 209.5px,#708df2 221.5px,#496bf0 229px,#3454ee 236px,#2f4fee 242px,#395aef 247.5px,#5071f0 252.5px,#7692f2 257.5px,#d4ddfa 265.5px,#f0f3fc 269.5px,#fbfce4 274.5px,#fcfcd0 277.5px,#fcfcca 280.5px,#fcfcd1 283px,#fbfce3 285.5px,#fbfce8)"></i><i style="background:linear-gradient(#d1232a,#d22b2b 70px,#d53a2c 102.5px,#da512e 124px,#e37e33 148px,#eba53b 161.5px,#f5d64a 173.5px,#fdfb67 182.5px,#fdfdbb 192px,#fafbea 198px,#ecf1fd 204.5px,#cdd8f9 210.5px,#708df2 222.5px,#496bf0 230px,#3454ee 237px,#2f4fee 243px,#395aef 248.5px,#4f71f0 253.5px,#7592f2 258.5px,#d3ddfa 266.5px,#f0f3fc 270.5px,#fbfce4 275.5px,#fcfcd0 278.5px,#fdfdc9 281.5px,#fcfcd0 284px,#fcfcdd)"></i><i style="background:linear-gradient(#d1232a,#d22b2b 71px,#d53a2c 103.5px,#da512e 125px,#e37e33 149px,#eba53b 162.5px,#f5d64a 174.5px,#fdfb67 183.5px,#fdfdbb 193px,#fafbe9 199px,#ecf1fd 205.5px,#cdd8f9 211.5px,#708df2 223.5px,#4769ef 231.5px,#3353ee 238.5px,#2f4fee 244.5px,#3b5bef 250px,#5274f0 255px,#7491f2 259.5px,#d3dcfa 267.5px,#eff3fc 271.5px,#fbfce8 276px,#fcfcd1 279px,#fdfdc7 282px,#fcfccb 284.5px,#fcfcd3)"></i><i style="background:linear-gradient(#d1232a,#d22a2b 71.5px,#d53a2c 104.5px,#da512e 126px,#e37e33 150px,#eba53b 163.5px,#f5d649 175.5px,#fdfb67 184.5px,#fdfdbe 194.5px,#fafbe9 200px,#edf1fd 206.5px,#ced8fa 212.5px,#708df2 224.5px,#4769ef 232.5px,#3353ee 239.5px,#2f4fee 245.5px,#3a5bef 251px,#5273f0 256px,#7491f2 260.5px,#d2dcfa 268.5px,#eff3fc 272.5px,#fbfce8 277px,#fcfcd0 280px,#fdfdc5 283px,#fdfdc9 285.5px,#fcfccb)"></i><i style="background:linear-gradient(#d1232a,#d22a2b 72.5px,#d53a2c 105.5px,#da512d 127px,#e37e33 151px,#eba53b 164.5px,#f5d549 176.5px,#fdfb66 185.5px,#fdfdbe 195.5px,#fbfce9 201px,#edf1fd 207.5px,#ced9fa 213.5px,#708ef2 225.5px,#4769f0 233.5px,#3353ee 240.5px,#2f4fee 246.5px,#3a5bef 252px,#5173f0 257px,#7894f3 262px,#d2dcfa 269.5px,#eff3fc 273.5px,#fbfce6 278px,#fcfcce 281px,#fdfdc3 284px,#fdfdc5)"></i><i style="background:linear-gradient(#d1232a,#d22a2b 73px,#d5392c 106px,#da502d 128px,#e37e33 152px,#eba53b 165.5px,#f5d549 177.5px,#fdfb66 186.5px,#fdfdbd 196.5px,#fbfce9 202px,#edf2fd 208.5px,#cbd6f9 215px,#6e8bf2 227px,#4869f0 234.5px,#3353ee 241.5px,#2f4fee 247.5px,#3a5bef 253px,#5172f0 258px,#7794f3 263px,#d6dffa 271px,#eff3fc 274.5px,#fbfce5 279px,#fcfccc 282px,#fdfdc0 285px,#fdfdc0)"></i><i style="background:linear-gradient(#d1232a,#d22a2a 73.5px,#d5392c 107px,#da502d 129px,#e37f33 153.5px,#eba63b 167px,#f5d549 178.5px,#fdfb69 188px,#fdfdbd 197.5px,#fbfce9 203px,#eef2fd 209.5px,#cbd7f9 216px,#6e8cf2 228px,#4869f0 235.5px,#3353ee 242.5px,#2f4fee 248.5px,#3a5aef 254px,#5072f0 259px,#7793f2 264px,#d5dffa 272px,#f0f3fc 275.5px,#fbfce9 279.5px,#fdfdc9 283px,#fdfdbd)"></i><i style="background:linear-gradient(#d1232a,#d22a2a 74.5px,#d5392c 108px,#da502d 130px,#e37e33 154.5px,#eba63b 168px,#f5d449 179.5px,#fdfb68 189px,#fdfdbc 198.5px,#fbfce8 204px,#eef2fd 210.5px,#ccd7f9 217px,#6f8cf2 229px,#486af0 236.5px,#3354ee 243.5px,#2f4fee 249.5px,#395aef 255px,#5071f0 260px,#7692f2 265px,#d5dffa 273px,#f0f3fb 276.5px,#fbfce7 280.5px,#fdfdc7 284px,#fdfdbc)"></i><i style="background:linear-gradient(#d1232a,#d22a2a 75px,#d5392c 108.5px,#d94f2d 130.5px,#e37c33 154.5px,#eba43a 168.5px,#f5d64a 181px,#fdfb67 190px,#fdfdbb 199.5px,#fafbea 205.5px,#ecf1fd 212px,#cdd8f9 218px,#6f8df2 230px,#496af0 237.5px,#3354ee 244.5px,#2f4fee 250.5px,#395aef 256px,#4f71f0 261px,#7591f2 266px,#d5dffa 274px,#eef2fd 277px,#fbfce5 281.5px,#fdfdc4 285px,#fdfdbd)"></i><i style="background:linear-gradient(#d1232a,#d22a2a 76px,#d5392c 110px,#d9502d 132px,#e37e33 156.5px,#eba53b 170px,#f5d549 182px,#fdfb66 191px,#fdfdbe 201px,#fbfce9 206.5px,#edf1fd 213px,#ced9fa 219px,#708ef2 231px,#4769f0 239px,#3353ee 246px,#2f4fee 252px,#3a5bef 257.5px,#5173f0 262.5px,#7491f2 267px,#d5dffa 275px,#eef2fd 278px,#fbfce9 282px,#fdfdc5 285.5px,#fdfdc1)"></i><i style="background:linear-gradient(#d1232a,#d22a2a 77px,#d5392c 111px,#d9502d 133px,#e37c33 157px,#eba33a 170.5px,#f5d549 183px,#fdfb69 192.5px,#fdfdbc 202px,#fbfce9 207.5px,#eef2fd 214px,#cbd7f9 220.5px,#6e8cf2 232.5px,#4869f0 240px,#3353ee 247px,#2f4fee 253px,#3a5aef 258.5px,#5172f0 263.5px,#7390f2 268px,#d6dffa 276px,#eff3fd 279px,#fbfce8 283px,#fdfdc6)"></i><i style="background:linear-gradient(#d1232a,#d22a2a 77.5px,#d5382c 111.5px,#d94f2d 133.5px,#e27b33 157.5px,#eba23a 171.5px,#f5d448 184px,#fdfb67 193.5px,#fdfdbb 203px,#fafbea 209px,#ecf1fd 215.5px,#cdd8f9 221.5px,#6f8df2 233.5px,#496af0 241px,#3354ee 248px,#2f4fee 254px,#395aef 259.5px,#5072f0 264.5px,#7290f2 269px,#d6dffa 277px,#eff3fd 280px,#fbfce6 284px,#fcfcce)"></i><i style="background:linear-gradient(#d1232a,#d22a2a 78.5px,#d5382c 112.5px,#d94f2d 135px,#e27b33 159px,#eba33a 173px,#f5d549 185.5px,#fdfb66 194.5px,#fdfdbd 204.5px,#fbfce9 210px,#edf1fd 216.5px,#ced9fa 222.5px,#6d8bf2 235px,#4769f0 242.5px,#3353ee 249.5px,#2f4fee 255.5px,#3a5bef 261px,#5374f0 266px,#7793f3 270.5px,#d5dffa 278px,#eff3fd 281px,#fafbe9 284.5px,#fcfcd7)"></i><i style="background:linear-gradient(#d1232a,#d22a2a 79.5px,#d5382c 114px,#d94f2d 136px,#e27b33 160px,#eba23a 174px,#f5d448 186.5px,#fdfb68 196px,#fdfdbc 205.5px,#fbfce8 211px,#ecf0fd 218px,#ccd7f9 224px,#6f8cf2 236px,#486af0 243.5px,#3354ee 250.5px,#2f4fee 256.5px,#3a5bef 262px,#5273f0 267px,#7693f2 271.5px,#d5dffa 279px,#eff3fd 282px,#fbfce9 285.5px,#fbfce3)"></i><i style="background:linear-gradient(#d1232a,#d2292a 80.5px,#d5382c 115px,#d94f2d 137.5px,#e27b33 161.5px,#eba33a 175.5px,#f5d549 188px,#fdfb66 197px,#fdfdbd 207px,#fbfce9 212.5px,#edf1fd 219px,#ced9fa 225px,#708ef2 237px,#4769f0 245px,#3353ee 252px,#2f50ee 257.5px,#3859ef 262.5px,#4e70f0 267.5px,#7592f2 272.5px,#d5defa 280px,#eff3fd 283px,#f9fbeb)"></i><i style="background:linear-gradient(#d1232a,#d2292a 81px,#d5382c 115.5px,#d94e2d 138px,#e27832 161.5px,#ea9f39 175.5px,#f3ce45 187.5px,#fdfa65 198px,#fefda1 205px,#fdfdc7 209.5px,#fafbea 214px,#ecf1fd 220.5px,#ccd8f9 226.5px,#6f8df2 238.5px,#486af0 246px,#3354ee 253px,#2f50ee 258.5px,#3859ef 263.5px,#4e6ff0 268.5px,#7591f2 273.5px,#d5defa 281px,#eff3fd 284px,#f6f8f1)"></i><i style="background:linear-gradient(#d1232a,#d2292a 82px,#d5382c 117px,#d94e2d 139.5px,#e27932 163px,#ea9f39 177px,#f4cf46 189px,#fdfb66 199.5px,#fdfdbd 209.5px,#fbfce9 215px,#edf2fd 221.5px,#cbd6f9 228px,#6e8cf2 240px,#4869f0 247.5px,#3354ee 254.5px,#3050ee 260px,#395aef 265px,#5072f0 270px,#7491f2 274.5px,#d4defa 282px,#eff3fd 285px,#f2f5f7)"></i><i style="background:linear-gradient(#d1232a,#d2292a 83px,#d5372c 118px,#d94e2d 140.5px,#e27832 164px,#ea9e39 178px,#f3cd45 190px,#fdfb66 201px,#fdfdbe 211px,#fafbe9 216.5px,#edf1fd 223px,#ced8f9 229px,#708df2 241px,#496bf0 248.5px,#3455ee 255.5px,#3050ee 261px,#395aef 266px,#5071f0 271px,#7390f2 275.5px,#d3ddfa 283px,#eef2fd)"></i><i style="background:linear-gradient(#d1232a,#d2292a 84px,#d5372c 119px,#d94d2d 141.5px,#e17632 164.5px,#e99b38 178.5px,#f2c944 190.5px,#f7e051 196px,#fdfb68 202.5px,#fdfdbb 212px,#fafbea 218px,#ecf0fd 224.5px,#ccd7f9 230.5px,#6f8df2 242.5px,#496af0 250px,#3454ee 257px,#3051ee 262.5px,#3a5bef 267.5px,#5274f0 272.5px,#7794f3 277px,#d7e0fa 284.5px,#e4eafc)"></i><i style="background:linear-gradient(#d1232a,#d2292a 85px,#d5372c 120.5px,#d94d2d 143px,#e17632 166px,#e99c38 180px,#f3ca44 192px,#f8e253 198px,#fdfb68 204px,#fdfdbc 213.5px,#fbfce9 219px,#eef2fd 225.5px,#ccd7f9 232px,#6e8cf2 244px,#486af0 251.5px,#3555ee 258px,#3151ee 263.5px,#3a5bef 268.5px,#5273f0 273.5px,#7692f2 278px,#d5defa 285.5px,#dae2fb)"></i><i style="background:linear-gradient(#d0232a,#d2292a 86px,#d5372c 121.5px,#d94d2d 144px,#e17532 167px,#e99a38 181px,#f2c844 193px,#f6da4d 197.5px,#fdfb69 205.5px,#fdfdbd 215px,#fbfce9 220.5px,#edf2fd 227px,#cbd6f9 233.5px,#6e8cf2 245.5px,#486af0 253px,#3556ee 259.5px,#3252ee 265px,#3c5def 270px,#5476f0 275px,#7491f2 279px,#ced9fa)"></i><i style="background:linear-gradient(#d0232a,#d2292a 87px,#d4372b 122.5px,#d94d2d 145.5px,#e17632 168.5px,#e99a38 182.5px,#f2c844 194.5px,#f6db4d 199px,#fdfb69 207px,#fdfdbd 216.5px,#fbfce9 222px,#edf2fd 228.5px,#cbd6f9 235px,#6e8bf2 247px,#4869f0 254.5px,#3556ee 261px,#3353ee 266.5px,#3e5fef 271.5px,#5475f0 276px,#7794f3 280.5px,#bdccf8)"></i><i style="background:linear-gradient(#d0232a,#d2292a 88.5px,#d4372b 124px,#d94d2d 147px,#e17632 170px,#e99a38 184px,#f2c844 196px,#f6db4d 200.5px,#fdfb69 208.5px,#fdfdbd 218px,#fbfce9 223.5px,#edf2fd 230px,#ced9fa 236px,#6e8bf2 248.5px,#486af0 256px,#3656ef 262.5px,#3454ee 268px,#3f61ef 273px,#5677f0 277.5px,#7592f2 281.5px,#adbff6)"></i><i style="background:linear-gradient(#d0232a,#d2292a 89.5px,#d4372b 125.5px,#d94d2d 148.5px,#e17532 171.5px,#e99a38 185.5px,#f2c844 197.5px,#f6da4d 202px,#fdfb69 210px,#fdfdbd 219.5px,#fbfce9 225px,#edf2fd 231.5px,#cbd6f9 238px,#6e8bf2 250px,#486af0 257.5px,#3657ef 264px,#3556ee 269.5px,#4162ef 274.5px,#5879f1 279px,#7794f3 283px,#9cb1f5)"></i><i style="background:linear-gradient(#d0232a,#d2292a 90.5px,#d4362b 126.5px,#d94c2d 149.5px,#e07231 171.5px,#e89737 186px,#f2c543 198.5px,#f6d84c 203px,#fdfb69 211.5px,#fdfdbc 221px,#fbfce9 226.5px,#eef2fd 233px,#cbd7f9 239.5px,#6e8cf2 251.5px,#496af0 259px,#3758ef 265.5px,#3657ef 271px,#4364ef 276px,#5a7af1 280.5px,#7995f3 284.5px,#8ba4f4)"></i><i style="background:linear-gradient(#d0232a,#d2292a 92px,#d4362b 128px,#d94c2d 151px,#e07231 173px,#e89737 187.5px,#f2c543 200px,#f6da4d 205px,#fdfb68 213px,#fdfdbb 222.5px,#fbfce8 228px,#ecf0fd 235px,#ccd7f9 241px,#6f8cf2 253px,#496bf0 260.5px,#395aef 266.5px,#3758ef 272px,#4466ef 277.5px,#5b7bf1 282px,#7592f2 285.5px,#7b96f3)"></i><i style="background:linear-gradient(#d0232a,#d2282a 93px,#d4362b 129.5px,#d94c2d 152.5px,#e07231 174.5px,#e89637 189px,#f1c443 201.5px,#f6d94c 206.5px,#fdfb66 214.5px,#fdfdbe 224.5px,#fafbe9 230px,#ecf1fd 236.5px,#cdd8f9 242.5px,#708df2 254.5px,#4a6cf0 262px,#3a5bef 268px,#395aef 273.5px,#4667ef 279px,#5c7cf1 283.5px,#6e8bf2)"></i><i style="background:linear-gradient(#d0222a,#d2282a 94.5px,#d4362b 131px,#d94b2d 154px,#e07031 175.5px,#e89437 190px,#f1c142 202.5px,#f5d64a 207.5px,#fdfb69 216.5px,#fdfdbc 226px,#fbfce9 231.5px,#edf2fd 238px,#cbd6f9 244.5px,#6e8cf2 256.5px,#4c6df0 263.5px,#3c5def 269.5px,#3b5bef 275px,#4768ef 280.5px,#5d7df1 285px,#6382f1)"></i><i style="background:linear-gradient(#d0222a,#d2282a 96px,#d4362b 132.5px,#d94c2d 156px,#e07231 178px,#e89637 192.5px,#f1c443 205px,#f6d94c 210px,#fdfb67 218px,#fdfdbb 227.5px,#fafbea 233.5px,#ecf1fd 240px,#cdd8f9 246px,#708df2 258px,#4b6df0 265.5px,#3d5eef 271.5px,#3d5eef 277px,#496bf0 282.5px,#5a7af1)"></i><i style="background:linear-gradient(#d0222a,#d2282a 97px,#d4362b 134px,#d94b2d 157.5px,#e07031 179px,#e89437 193.5px,#f1c142 206px,#f6d84b 211.5px,#fdfb68 220px,#fdfdbc 229.5px,#fbfce9 235px,#eef2fd 241.5px,#cbd7f9 248px,#6f8cf2 260px,#4d6ff0 267px,#3f60ef 273px,#3f60ef 279px,#4b6df0 284.5px,#5273f0)"></i><i style="background:linear-gradient(#d0222a,#d2282a 98.5px,#d4362b 136px,#d94b2d 159.5px,#e07131 181.5px,#e89637 196px,#f1c443 208.5px,#f5d74a 213px,#fdfb66 221.5px,#fdfdbd 231.5px,#fbfce9 237px,#edf1fd 243.5px,#ced9fa 249.5px,#718ef2 261.5px,#4e70f0 269px,#4061ef 275.5px,#4162ef 281.5px,#4c6df0)"></i><i style="background:linear-gradient(#d0222a,#d2282a 100px,#d4352b 137.5px,#d84b2d 161px,#e06f31 182.5px,#e79337 197px,#f1c042 209.5px,#f5d74b 215px,#fdfb66 223.5px,#fdfdbe 233.5px,#fafbe9 239px,#ecf1fd 245.5px,#cdd8f9 251.5px,#718ef2 263.5px,#4f71f0 271px,#4163ef 277.5px,#4364ef 283.5px,#4769ef)"></i><i style="background:linear-gradient(#d0222a,#d2282a 101.5px,#d4352b 139px,#d84a2d 162.5px,#df6d30 183px,#e79036 198px,#f0bb40 210.5px,#f5d74b 217px,#fdfb66 225.5px,#fdfdbe 235.5px,#fafbe9 241px,#ecf1fd 247.5px,#cdd8f9 253.5px,#718ef2 265.5px,#5072f0 273px,#4364ef 280px,#4466ef)"></i><i style="background:linear-gradient(#d0222a,#d2282a 103.5px,#d4352b 141px,#d84a2d 164.5px,#df6c30 185px,#e79036 200px,#f0bb40 212.5px,#f5d74a 219px,#fdfb66 227.5px,#fdfdbe 237.5px,#fafbe9 243px,#ecf1fd 249.5px,#cdd8f9 255.5px,#728ff2 267.5px,#5273f0 275px,#4465ef 282px,#4365ef)"></i><i style="background:linear-gradient(#d0222a,#d2282a 105px,#d4352b 143px,#d84a2d 166.5px,#df6c30 187px,#e78f36 202px,#f0bb40 214.5px,#f5d64a 221px,#fdfb69 230px,#fdfdbd 239.5px,#fbfce9 245px,#edf1fd 251.5px,#ced9fa 257.5px,#7491f2 269.5px,#5274f0 277.5px,#4566ef 284.5px,#4465ef)"></i><i style="background:linear-gradient(#d0222a,#d1282a 106.5px,#d4352b 145px,#d84a2d 168.5px,#df6b30 188.5px,#e68d36 203.5px,#efb840 216px,#f5d64a 223px,#fdfb67 232px,#fdfdbb 241.5px,#fbfce8 247px,#eef2fd 253.5px,#cbd7f9 260px,#7390f2 272px,#5374f0 280px,#4668ef)"></i><i style="background:linear-gradient(#d0222a,#d1282a 108.5px,#d4352b 147px,#d84a2d 171px,#df6c30 191.5px,#e78f36 206.5px,#f0bb40 219px,#f5d64a 225.5px,#fdfb69 234.5px,#fdfdbd 244px,#fbfce9 249.5px,#ecf1fd 256px,#cdd8f9 262px,#7693f2 274px,#5576f0 282px,#4b6cf0)"></i><i style="background:linear-gradient(#d0222a,#d1282a 110.5px,#d4342b 149px,#d8492d 173px,#df6a30 192.5px,#e68c35 207.5px,#efb73f 220.5px,#f5d549 227.5px,#fdfb66 236.5px,#fdfdbb 246px,#fafbea 252px,#eef2fd 258px,#ccd7f9 264.5px,#7491f2 277px,#5374f0 285.5px,#5173f0)"></i><i style="background:linear-gradient(#d0222a,#d1272a 112.5px,#d4352b 151.5px,#d8492d 175.5px,#df6a30 195px,#e68c35 210px,#efb73f 223px,#f5d549 230px,#fdfb67 239px,#fdfdbb 248.5px,#fbfce8 254px,#eef2fd 260.5px,#ccd7f9 267px,#7692f2 279.5px,#5a7af1)"></i><i style="background:linear-gradient(#d0222a,#d1272a 114.5px,#d4342b 153.5px,#d8492d 177.5px,#de652f 195px,#e58735 211px,#eeb13e 224px,#f5d549 232.5px,#fdfb66 241.5px,#fdfdbb 251px,#fbfce8 256.5px,#eef2fd 263px,#cdd8f9 269.5px,#728ff2 283px,#6584f1)"></i><i style="background:linear-gradient(#d0222a,#d1272a 117px,#d4342b 156px,#d8492d 180px,#de652f 197.5px,#e58735 213.5px,#eeb13e 226.5px,#f5d64a 235.5px,#fdfb69 244.5px,#fdfdbe 254px,#fafbea 259.5px,#ecf1fd 266px,#ccd7f9 272.5px,#728ff2)"></i><i style="background:linear-gradient(#d0222a,#d1272a 119px,#d4342b 158.5px,#d8492d 183px,#de652f 200.5px,#e58735 216.5px,#eeb13e 229.5px,#f5d549 238px,#fdfb67 247px,#fdfdbc 256.5px,#fbfce9 262px,#eef2fd 268.5px,#cbd7f9 275.5px,#849ef3)"></i><i style="background:linear-gradient(#d0222a,#d1272a 121.5px,#d4342b 161.5px,#d8492d 186px,#de652f 203.5px,#e58735 219.5px,#eeb23e 232.5px,#f5d549 241px,#fdfb68 250px,#fdfdbe 259.5px,#fafbe9 265px,#edf2fd 271.5px,#ccd7f9 278.5px,#99aff5)"></i><i style="background:linear-gradient(#d0222a,#d1272a 124px,#d4342b 164px,#d8482d 188.5px,#dd642f 206px,#e58735 222.5px,#eeb13e 235.5px,#f5d549 244px,#fdfb68 253px,#fdfdbe 262.5px,#fafce9 268px,#ecf1fd 275px,#cbd6f9 282px,#b0c1f7)"></i><i style="background:linear-gradient(#d0222a,#d1272a 127px,#d4332b 167px,#d8482d 191.5px,#de642f 209.5px,#e58635 225.5px,#edb03e 238.5px,#f5d549 247px,#fdfb67 256px,#fdfdbd 265.5px,#fbfce9 271px,#ecf0fd 278.5px,#ced9fa 285px,#c7d3f9)"></i><i style="background:linear-gradient(#d0222a,#d1272a 130px,#d4332b 170.5px,#d8482d 195px,#de642f 213px,#e58735 229px,#edaf3d 241.5px,#f5d549 250.5px,#fdfb69 259.5px,#fdfdba 268.5px,#fbfce8 274.5px,#ecf1fd 282px,#dbe3fb)"></i><i style="background:linear-gradient(#d0222a,#d1272a 133px,#d4332b 174px,#d8472d 198.5px,#dd642f 216.5px,#e58835 233px,#eeb03e 245.5px,#f5d549 254px,#fdfb69 263px,#fdfdb9 272px,#fbfce9 278.5px,#eef2fd 285.5px,#ecf0fd)"></i><i style="background:linear-gradient(#d0222a,#d1272a 136.5px,#d4332b 177.5px,#d8472d 202px,#dd632f 220px,#e58735 236.5px,#edaf3d 249px,#f5d449 257.5px,#fdfb68 266.5px,#fdfdb9 276px,#fbfce9 282.5px,#f5f7f3)"></i><i style="background:linear-gradient(#d0222a,#d1272a 140px,#d4332b 181.5px,#d8472d 206px,#dd632f 224px,#e58635 240.5px,#edb03d 253px,#f5d549 261.5px,#fdfb68 270.5px,#fdfdb7 280px,#fbfce3)"></i><i style="background:linear-gradient(#d0222a,#d1272a 144px,#d4332b 185.5px,#d8472d 210.5px,#dd632f 228.5px,#e58634 244.5px,#edad3d 256.5px,#f5d449 265.5px,#fdfb68 275px,#fdfdb9 285px,#fdfdc1)"></i><i style="background:linear-gradient(#d0222a,#d1262a 148.5px,#d4322b 190px,#d8462d 215px,#dd622f 232.5px,#e58534 249px,#edad3d 261px,#f5d64a 270.5px,#fdfb69 280px,#fefc99)"></i><i style="background:linear-gradient(#d0222a,#d1262a 153px,#d4322b 195px,#d8462d 220px,#dd612f 237.5px,#e58634 254px,#edb03d 266.5px,#f5d64a 275.5px,#fdfb69 285.5px,#fdfb6c)"></i><i style="background:linear-gradient(#d0222a,#d1262a 158px,#d4322b 200.5px,#d7462d 225.5px,#dd612f 243px,#e48534 259px,#efb73f 273.5px,#f5d64a 281.5px,#f9e656)"></i><i style="background:linear-gradient(#d0222a,#d1262a 164px,#d4322b 206.5px,#d7462d 231.5px,#dd602f 248.5px,#e48534 264.5px,#f0be41 282px,#f3ce45)"></i><i style="background:linear-gradient(#d0222a,#d1262a 170px,#d3322b 213px,#d7452d 237.5px,#dc5e2f 254px,#e68b35 273px,#eeb23e)"></i><i style="background:linear-gradient(#d0222a,#d1262a 177.5px,#d3322b 220.5px,#d7442d 244.5px,#dc5e2f 260.5px,#e89637 285.5px,#e89837)"></i><i style="background:linear-gradient(#d0222a,#d1262a 186px,#d3312b 229px,#d7432c 252px,#dd5f2f 269px,#e38033)"></i><i style="background:linear-gradient(#d0222a,#d1262a 196px,#d3312b 238.5px,#d7422c 260px,#df6a30)"></i><i style="background:linear-gradient(#d0222a,#d1262a 208px,#d3302b 249px,#d7442d 272.5px,#da542e)"></i><i style="background:linear-gradient(#d0222a,#d1262a 223px,#d3302b 260.5px,#d7412c)"></i><i style="background:linear-gradient(#d0222a,#d1252a 242px,#d4322b)"></i><i style="background:linear-gradient(#d0222a,#d1252a 263px,#d2282a)"></i><i class="n" style="background:linear-gradient(#d0222a,#d1242a)"></i></div><svg class="b" style="left:355px;top:8px" width="287" height="286" viewBox="0 0 287 286" shape-rendering="geometricPrecision"><path fill="#fbf15e" d="M0,0 287,0 287,286 265.9,286 260.1,271 253,257.6 243.4,243 232.8,230 221,218.1 208,207.2 193,196.6 176,186.5 159,177.8 141,169.6 121,161.6 101,154.5 79,147.5 54,140.5 24,132.8 0,127.5Z"/><path fill="#faeb5a" d="M0,0 287,0 287,286 266.4,286 260.7,271 253.4,257 244,242.6 233,228.9 222,217.7 209,206.7 194,196 177,185.8 161,177.4 142,168.7 122,160.7 102,153.6 80,146.5 55,139.4 24,131.6 0,126.2Z"/><path fill="#f8e555" d="M0,0 287,0 287,286 266.9,286 261.3,271 254.1,257 244.5,242 234,228.7 223,217.3 210,206.1 195,195.3 179,185.6 162,176.6 144,168.3 125,160.5 103,152.6 81,145.5 56,138.4 25,130.5 0,124.9Z"/><path fill="#f7df51" d="M0,0 287,0 287,286 267.3,286 261.9,271 255,257.2 245.5,242 235,228.5 224,216.9 211,205.5 196,194.6 179,184.2 163,175.7 145,167.3 124,158.8 103,151.2 79,143.5 55,136.7 25,129.1 0,123.5Z"/><path fill="#f6da4d" d="M0,0 287,0 287,286 267.8,286 262.5,271 255.1,256 245.8,241 235,227.1 224,215.5 211,204.1 196,193.2 180,183.3 163,174.3 144,165.5 124,157.3 103,149.8 80,142.4 56,135.6 25,127.7 0,122.1Z"/><path fill="#f5d448" d="M0,0 287,0 287,286 268.3,286 263.1,271 256,256.3 246.8,241 236,226.8 225,215 212,203.4 197,192.4 181,182.4 164,173.3 145,164.4 126,156.6 104,148.6 82,141.5 57,134.4 25,126.2 0,120.7Z"/><path fill="#f3cd45" d="M0,0 287,0 287,286 268.8,286 263.8,271 256.7,256 247.1,240 237,226.4 226,214.4 213,202.7 198,191.5 182,181.5 165,172.3 147,163.8 127,155.5 105,147.4 81,139.7 56,132.6 25,124.7 0,119.1Z"/><path fill="#f2c643" d="M0,0 287,0 287,286 269.3,286 264.4,271 257.5,256 248.1,240 238,226.1 227,213.8 214,202 199,190.6 183,180.4 167,171.7 148,162.6 128,154.3 105,145.8 82,138.4 57,131.2 26,123.3 0,117.5Z"/><path fill="#f0bf41" d="M0,0 287,0 287,286 269.8,286 264.6,270 257.8,255 248.6,239 238.5,225 227,212.2 215,201.1 200,189.6 184,179.4 168,170.5 149,161.4 128,152.6 106,144.5 82,136.7 57,129.6 25,121.4 0,115.9Z"/><path fill="#efb83f" d="M0,0 287,0 287,286 270.3,286 265.3,270 258.6,255 249.6,239 244.3,231 239,223.9 228,211.4 215,199.4 201,188.6 185,178.2 168,168.8 149,159.7 130,151.6 108,143.5 84,135.6 59,128.4 25,119.7 0,114.1Z"/><path fill="#edb03e" d="M0,0 287,0 287,286 270.8,286 266.4,271 259.5,255 250.1,238 240,223.4 229,210.7 217,199.3 203,188.2 187,177.6 169,167.5 151,158.7 130,149.8 108,141.6 84,133.8 59,126.6 25,117.9 0,112.3Z"/><path fill="#eca93c" d="M0,0 287,0 287,286 271.4,286 266.7,270 259.9,254 251,237.5 241,222.8 230,209.8 217,197.3 203,186.3 187,175.7 169,165.6 151,156.8 131,148.3 108,139.7 83,131.6 58,124.4 26,116.2 0,110.4Z"/><path fill="#eba23a" d="M0,0 287,0 287,286 271.9,286 267.4,270 260.3,253 251.3,236 241.2,221 230,207.8 218,196.2 204,185 188,174.3 171,164.6 153,155.7 132,146.7 110,138.4 86,130.5 59,122.6 26,114.2 0,108.4Z"/><path fill="#e99a38" d="M0,0 287,0 287,286 272.5,286 268.1,270 261.2,253 252.5,236 242.8,221 232,207.8 220,195.8 206,184.3 190,173.4 173,163.5 155,154.5 134,145.3 111,136.6 86,128.3 59,120.5 25,111.8 0,106.2Z"/><path fill="#e79337" d="M0,0 287,0 287,286 273.1,286 268.5,269 261.8,252 253.2,235 243.7,220 233,206.6 221,194.5 207,182.8 191,171.7 174,161.7 155,152.2 133,142.6 111,134.3 87,126.3 60,118.5 26,109.7 0,103.9Z"/><path fill="#e68c35" d="M0,0 287,0 287,286 273.7,286 269.3,269 262.3,251 254,233.9 244.7,219 234,205.3 222,193 208,181.1 193,170.5 176,160.4 157,150.7 136,141.4 113,132.6 89,124.5 62,116.6 26,107.3 0,101.5Z"/><path fill="#e48434" d="M0,0 287,0 287,286 274.3,286 271.8,275 269.4,267 265.4,256 260.3,244 255.4,234 250.3,225 245,216.8 239,208.7 230,198.3 219,187.6 207,177.7 194,168.6 177,158.3 158,148.5 137,139.2 114,130.3 88,121.6 61,113.7 26,104.7 0,98.9Z"/><path fill="#e37d33" d="M0,0 287,0 287,286 274.9,286 272.5,275 270.3,267 266.4,256 261.6,244 257,234.3 252,225 246.4,216 240.6,208 231,196.5 220,185.6 208,175.6 195,166.4 177,155.5 158,145.7 137,136.4 114,127.5 90,119.4 63,111.4 26,101.8 0,96.1Z"/><path fill="#e17632" d="M0,0 287,0 287,286 275.5,286 273.6,276 271.2,267 267.5,256 262.4,243 257.9,233 253,223.7 247.7,215 242,206.7 233,195.6 222,184.4 210,174.1 197,164.6 179,153.5 160,143.6 138,133.7 115,124.7 90,116.3 63,108.3 26,98.7 0,93Z"/><path fill="#e06f31" d="M0,0 287,0 287,286 276.2,286 274.4,276 271.8,266 267.6,253 263.4,242 259.5,233 254.5,223 249,213.6 243.2,205 234,193.4 223,181.9 211,171.5 198,161.9 181,151.2 161,140.6 139,130.7 116,121.7 89,112.6 62,104.6 27,95.6 0,89.6Z"/><path fill="#de672f" d="M0,0 287,0 287,286 276.9,286 275.2,276 272.8,266 268.8,253 264.4,241 260.3,231 255.4,221 250.4,212 245.2,204 236,191.9 225,180.1 213,169.3 200,159.5 183,148.6 164,138.3 143,128.6 118,118.6 92,109.7 64,101.4 26,91.6 0,85.8Z"/><path fill="#dc5e2f" d="M0,0 287,0 287,286 277.7,286 275.7,274 273.6,265 269.7,252 265.6,240 261.7,230 257.1,220 252.3,211 247,202.4 237.9,190 227,177.8 215,166.7 202,156.6 185,145.5 165,134.5 143,124.3 119,114.7 93,105.8 65,97.4 27,87.5 0,81.5Z"/><path fill="#da552e" d="M0,0 287,0 287,286 278.5,286 276.7,274 274.7,265 270.5,250 266.6,238 262.4,227 258.5,218 253.9,209 248.6,200 239.4,187 229,174.9 217,163.5 203,152.4 186,141.2 167,130.6 145,120.2 121,110.5 95,101.5 65,92.5 27,82.6 0,76.6Z"/><path fill="#d94c2d" d="M0,0 287,0 287,286 279.4,286 277.7,274 276.1,266 272.6,252 268.5,238 264.7,227 260.6,217 256.4,208 251,198.1 242,184.6 231.7,172 220,160.4 206,148.8 189,137.2 170,126.4 148,115.8 123,105.5 97,96.3 68,87.5 29,77.3 0,70.8Z"/><path fill="#d7432c" d="M0,0 287,0 287,286 280.3,286 277.6,267 271.7,242 265.4,222 257.9,204 251.5,192 244,180.3 235.2,169 226,159 218,151.5 209,144.1 200,137.4 189,130.2 178,123.7 166,117.3 154,111.4 140,105.2 110,93.7 78,83.3 40,73 0,63.7Z"/><path fill="#d5392c" d="M0,0 287,0 287,286 281.4,286 280.3,275 278.7,265 272.6,237 266.8,217 259.8,199 252.7,185 245,172.7 236,160.9 226,150 218,142.5 210,135.8 200,128.4 190,121.7 179,115.2 167,108.7 154,102.4 140,96.2 110,84.6 78,74.3 40,63.9 0,54.7Z"/><path fill="#d3302b" d="M0,0 287,0 287,286 282.6,286 281.7,274 280.5,265 274.5,233 268.6,210 262.2,192 254.7,176 246.4,162 237,149.3 226,137.2 218,129.7 209,122.3 200,115.6 189,108.4 178,101.9 166,95.5 154,89.6 140,83.4 111,72.2 78,61.6 40,51.2 0,42Z"/><path fill="#d1272a" d="M0,0 287,0 287,286 284.2,286 283.5,273 282.5,263 279.4,240 276.7,223 271.5,199 265.5,179 261.6,169 257.6,160 249,144.4 243.4,136 238.1,129 226,115.6 218,108.1 209,100.6 199,93.3 189,86.7 178,80.2 166,73.8 153,67.5 140,61.8 111,50.6 77,39.6 40,29.5 0,20.3Z"/></svg><div class="p" style="left:47px;top:318px;width:287px"><i style="background:linear-gradient(#fdfc7f,#fdfc88 61px,#fefc99 92.5px,#fdfdb7 119.5px,#fcfcd7 138px,#fafbea 146.5px,#ecf1fd 164px,#c7d3f9 185px,#c8d4f9 191.5px,#e3e9fc 202.5px,#eff3fc 206.5px,#fbfce5 214.5px,#fdfdba 222px,#fefda6 227.5px,#fefda5 231px,#fefdb3 235px,#fcfcd1 239.5px,#fafbea 242.5px,#eff3fd 247px,#c5d2f9 254px,#c3d0f9 256.5px,#d4ddfa 259.5px,#eef2fd 263px,#fbfce2 268px,#fcfcd7 270px,#fcfcd6 272px,#fbfce3 274px,#eff3fd 278px,#d2dcfa 280.5px,#95abf5 284px,#829df3 285.5px,#7f9af3)"></i><i style="background:linear-gradient(#fdfc7f,#fdfc87 61px,#fefc98 92.5px,#fefdb5 118px,#fcfcd4 137px,#fafbea 147px,#ecf1fd 164.5px,#c6d3f9 185.5px,#c7d4f9 192px,#e2e9fc 203px,#eff3fc 207px,#fbfce6 215px,#fdfdba 222.5px,#fefda5 228.5px,#fefda5 232px,#fdfdb7 236.5px,#fcfcd6 241px,#fbfce9 243px,#eef2fd 248px,#c8d4f9 254.5px,#c5d2f9 257px,#d3ddfa 260px,#eef2fd 264px,#f9fbeb 269px,#fafbea 272.5px,#f3f6f7 276px,#ecf0fd 277.5px,#d2dcfa 280px,#91a9f4 284px,#819cf3 285.5px,#7e99f3)"></i><i style="background:linear-gradient(#fdfc7e,#fdfc86 61.5px,#fefc97 93px,#fefdb3 117.5px,#fcfcd2 136.5px,#fafbea 147.5px,#ecf0fd 165px,#c5d2f9 186px,#c7d3f9 192.5px,#e3eafc 204px,#f0f4fb 208px,#fbfce7 215.5px,#fdfdba 223px,#fefda3 229px,#fefda2 232.5px,#fefdae 236px,#fdfdc9 240.5px,#fbfce8 244px,#eef2fd 249px,#c9d5f9 255.5px,#c6d2f9 258px,#d9e1fb 262px,#eff3fc 266px,#f6f8f2 270.5px,#f2f5f8 274.5px,#ebf0fd 276.5px,#d1dbfa 279.5px,#90a8f4 284px,#829cf3 285.5px,#7f9af3)"></i><i style="background:linear-gradient(#fdfc7d,#fdfc85 61.5px,#fefc96 93px,#fefdaf 115px,#fcfcce 135px,#fafbea 148px,#ecf1fd 165px,#c5d1f9 186.5px,#c6d2f9 193px,#e3e9fc 204.5px,#f0f3fc 208.5px,#fbfce7 216px,#fdfdb9 223.5px,#fefda0 229.5px,#fefd9d 233px,#fefda8 236.5px,#fdfdc8 241.5px,#fafbea 245.5px,#edf2fd 250px,#c7d4f9 256.5px,#c5d1f9 259px,#d6dffa 263px,#eff3fd 268.5px,#f0f4fb 272.5px,#eaeffd 275px,#d0dafa 279px,#8ca4f4 284.5px,#829df3)"></i><i style="background:linear-gradient(#fdfc7c,#fdfc85 61.5px,#fefc95 93px,#fefdae 115px,#fcfcce 135.5px,#fafbea 148.5px,#ecf1fd 165.5px,#c4d1f9 187px,#c5d2f9 193.5px,#e1e8fc 204.5px,#f0f3fc 209px,#fbfce6 216.5px,#fefdb4 224.5px,#fefd9c 229.5px,#fefc96 233px,#fefd9e 236.5px,#fdfdc1 242px,#fafbea 246.5px,#ecf1fd 251px,#c4d1f9 257.5px,#c0cef8 260px,#cbd7f9 263px,#e3e9fc 268.5px,#e7ecfc 272.5px,#dbe3fb 276.5px,#cad6f9 279px,#91a9f4 284.5px,#88a1f4)"></i><i style="background:linear-gradient(#fdfc7b,#fdfc84 61.5px,#fefc94 93px,#fefdad 115px,#fcfcce 136px,#fafbea 149px,#edf1fd 165.5px,#c3d0f9 187px,#c4d0f9 193.5px,#d9e1fb 202.5px,#f0f3fc 209.5px,#fbfce8 216.5px,#fefdb3 224.5px,#fefc98 229.5px,#fefc8f 233px,#fefc94 236.5px,#fefda8 240px,#fcfcd1 245px,#fafbea 247.5px,#eef2fd 251.5px,#beccf8 258.5px,#b9c9f8 261px,#c5d2f9 264.5px,#d6dffa 268px,#dde5fb 272.5px,#d6dffa 276.5px,#c9d5f9 279px,#95abf5 285.5px,#93aaf4)"></i><i style="background:linear-gradient(#fdfc7a,#fdfc83 62px,#fefc93 93.5px,#fefdac 115.5px,#fcfcce 136.5px,#fafbea 149px,#ecf1fd 166px,#c2d0f8 187.5px,#c3d0f8 194px,#d9e1fb 203px,#eff3fd 209.5px,#fbfce6 217px,#fefc98 228.5px,#fdfc89 232.5px,#fdfc89 236px,#fefc99 239.5px,#fcfccd 245.5px,#fbfce9 248px,#eef2fd 252px,#b7c7f7 259px,#b0c1f7 261.5px,#b7c7f7 264.5px,#d2dcfa 270.5px,#d6dffa 275px,#ced9fa 278.5px,#a1b6f5)"></i><i style="background:linear-gradient(#fdfc7a,#fdfc82 62px,#fefc92 93.5px,#fefdab 115.5px,#fcfcce 137px,#fafbea 149.5px,#ecf0fd 166.5px,#c2cff8 188px,#c2d0f8 194.5px,#d9e2fb 203.5px,#eff3fc 210px,#fbfce7 217px,#fefc91 229px,#fdfc81 233px,#fdfc82 236.5px,#fefc92 240px,#fdfdc0 245px,#fbfce9 248.5px,#ecf1fd 252.5px,#c9d5f9 256.5px,#afc1f7 259.5px,#a7baf6 262px,#acbef6 265px,#d0dbfa 272.5px,#d5defa 277.5px,#ced9fa 281px,#b4c5f7)"></i><i style="background:linear-gradient(#fdfc79,#fdfc81 62px,#fefc92 93.5px,#fefdaa 115.5px,#fcfcce 137.5px,#fafbea 150px,#ecf1fd 166.5px,#c2cff8 188px,#c2cff8 194.5px,#d0dafa 200.5px,#f0f3fc 210.5px,#fbfce8 217px,#fefc8b 229.5px,#fdfc7c 233px,#fdfc7b 236.5px,#fdfc88 239.5px,#fefda1 242.5px,#fcfcd9 247.5px,#fafbea 249px,#edf1fd 252.5px,#ced8f9 256px,#aebff7 259px,#9fb4f5 261.5px,#9eb3f5 264px,#b1c2f7 268px,#d2dcfa 273.5px,#dce4fb 278.5px,#d8e1fb 283px,#ccd7f9)"></i><i style="background:linear-gradient(#fdfc78,#fdfc80 62px,#fefc91 94px,#fefdaa 116px,#fcfcce 138px,#fafbea 150.5px,#ecf1fd 167px,#c1cff8 188.5px,#c2cff8 195px,#d3ddfa 202px,#eff3fc 210.5px,#fbfce5 217.5px,#fdfc89 229.5px,#fdfc7a 233px,#fdfc78 236.5px,#fdfc84 239.5px,#fefd9d 242.5px,#fcfcd7 247.5px,#fafbea 249px,#edf1fd 252.5px,#cbd6f9 256px,#a9bbf6 259px,#98aef5 261.5px,#96acf5 264px,#a4b8f6 267px,#d3ddfa 273px,#e8eefd 278.5px,#eaeffd 282.5px,#dfe7fc)"></i><i style="background:linear-gradient(#fdfc77,#fdfc7f 62.5px,#fefc90 94px,#fefda9 116px,#fcfcce 138.5px,#fafbea 151px,#ecf0fd 167.5px,#c1cff8 189px,#c2cff8 195.5px,#d6dffa 203.5px,#f0f3fc 211px,#fbfce7 217.5px,#fefc8a 229.5px,#fdfc7a 233px,#fdfc78 236px,#fdfc82 239px,#fefc99 242px,#fcfcda 247.5px,#fbfce8 248.5px,#eff3fd 252px,#ced9fa 255.5px,#a4b8f6 259px,#92a9f4 261.5px,#90a7f4 264px,#9db2f5 266.5px,#d5defa 272.5px,#eff3fc 277px,#f5f7f3 281.5px,#f1f5f9 285.5px,#f0f4fb)"></i><i style="background:linear-gradient(#fdfc76,#fdfc7f 62.5px,#fefc8f 94px,#fefda8 116px,#fcfcce 139px,#fafbea 151px,#edf1fd 167.5px,#c1cff8 189.5px,#c2cff8 196px,#d8e1fb 204.5px,#eff3fd 211px,#fbfce6 218px,#fefc8e 229.5px,#fdfc7f 233px,#fdfc7c 236px,#fdfc87 239px,#fefd9f 242px,#fcfcd8 247px,#fafbea 248.5px,#ecf1fd 252px,#c9d5f9 255.5px,#9fb3f5 259px,#8da5f4 261.5px,#8ba4f4 263.5px,#98aef5 266px,#bdcbf8 269.5px,#d4defa 271.5px,#f0f3fc 275px,#fbfce6 280px,#fbfce0 282px,#fbfce5 284px,#f8faed)"></i><i style="background:linear-gradient(#fdfc75,#fdfc7e 62.5px,#fefc8e 94.5px,#fefda7 116.5px,#fcfcce 139.5px,#fafbea 151.5px,#edf1fd 168px,#c2cff8 189.5px,#c2cff8 196px,#d0dafa 202px,#eff3fd 211.5px,#fbfce6 218.5px,#fefc96 229.5px,#fdfc87 233px,#fdfc86 236.5px,#fefc93 239.5px,#fdfdb8 243.5px,#fbfce0 247px,#fafbeb 248px,#ecf1fd 251.5px,#cad6f9 255px,#9fb4f5 258.5px,#8ca5f4 261px,#89a2f4 263px,#92a9f4 265px,#b1c2f7 268px,#d8e0fb 271px,#eff3fc 273.5px,#fafbe9 276.5px,#fdfdc7 279.5px,#fdfdbc 281.5px,#fdfdbf 283.5px,#fcfcd0 285.5px,#fcfcd6)"></i><i style="background:linear-gradient(#fdfc74,#fdfc7d 63px,#fefc8e 95px,#fefda7 117px,#fcfcce 140px,#fafbea 152.5px,#edf1fd 168.5px,#c2cff8 190px,#c2cff8 196.5px,#d0dafa 202.5px,#f0f4fb 212.5px,#fbfce8 219px,#fefdb4 226.5px,#fefc97 231.5px,#fefc91 235px,#fefc98 238px,#fefdac 241px,#fcfcd2 245px,#fbfce9 247px,#ecf1fd 251px,#ccd7f9 254.5px,#9cb2f5 258.5px,#8ba4f4 261px,#8aa3f4 263px,#96acf5 265px,#b9c8f8 268px,#d6dffa 270px,#f0f3fc 272.5px,#fbfce9 275px,#fdfdb8 278px,#fefd9f 280px,#fefc97 281.5px,#fefc9a 283px,#fefda8 284.5px,#fdfdbd)"></i><i style="background:linear-gradient(#fdfc74,#fdfc7c 63px,#fefc8c 95px,#fefda5 117px,#fcfcce 140.5px,#fafbea 153px,#edf1fd 169px,#c1cff8 191px,#c2cff8 197.5px,#d8e0fb 206px,#eff3fc 213px,#fbfce8 220px,#fdfdbb 227px,#fefda3 232.5px,#fefda1 236px,#fefdac 239px,#fdfdc8 243px,#fafbea 246.5px,#edf1fd 250.5px,#cfdafa 254px,#a1b5f5 258px,#8fa7f4 260.5px,#8da5f4 262.5px,#97aef5 264.5px,#b4c4f7 267px,#d8e0fb 269.5px,#eff3fd 271.5px,#fbfce9 274px,#fefc94 278.5px,#fdfc82 280px,#fdfc7b 281.5px,#fdfc80 283px,#fefc92 284.5px,#fefdb0)"></i><i style="background:linear-gradient(#fdfb73,#fdfc7b 63px,#fefc8b 95px,#fefda4 117px,#fcfccd 141px,#fafbea 153.5px,#ecf0fd 170px,#c1cff8 191.5px,#c2cff8 198px,#d4ddfa 205.5px,#eff3fc 214px,#fbfce7 221.5px,#fdfdc1 228px,#fefdb1 233px,#fefdb2 237px,#fdfdc0 240.5px,#fbfcdf 244.5px,#fafbeb 246px,#eff3fd 250px,#cfdafa 254px,#a5b8f6 258px,#95abf5 260.5px,#94aaf4 262.5px,#9fb4f5 264.5px,#bccbf8 267px,#d9e1fb 269px,#eff3fc 271px,#fbfce6 273.5px,#fefc8f 278px,#fdfc7c 279.5px,#fdfc74 281px,#fdfc78 282.5px,#fdfc89 284px,#fefda6 285.5px,#fefdb1)"></i><i style="background:linear-gradient(#fdfb72,#fdfc7a 63.5px,#fefc8b 95.5px,#fefda3 117.5px,#fcfcce 142px,#fafbea 154px,#ecf0fd 170.5px,#c0cef8 192px,#c0cef8 198.5px,#cfdafa 205px,#eff3fd 215px,#fbfce8 223px,#fdfdc8 229px,#fdfdbb 234px,#fdfdbe 238px,#fcfcd0 242px,#fafbea 245.5px,#edf1fd 250.5px,#cbd6f9 255px,#aabdf6 258.5px,#9eb3f5 261px,#9fb4f5 263px,#b1c2f7 265.5px,#dce4fb 269px,#edf1fd 270.5px,#fafbeb 273px,#fcfcdb 274px,#fefda1 277.5px,#fefc8f 279px,#fdfc88 280.5px,#fefc8c 282px,#fefd9c 283.5px,#fdfdc6)"></i><i class="n" style="background:linear-gradient(#fdfb71,#fdfc79 63.5px,#fdfc8a 95.5px,#fefda2 117.5px,#fcfccd 142px,#fafbea 154.5px,#ecf1fd 170.5px,#bfcdf8 192.5px,#bfcdf8 199px,#ced9fa 205.5px,#eff3fd 216px,#fbfce5 224.5px,#fdfdc8 230.5px,#fdfdbf 235px,#fdfdc3 239px,#fcfcd5 243px,#fafbea 246px,#eff3fd 251px,#cdd8f9 256px,#b0c1f7 259.5px,#a8bbf6 262px,#afc1f7 264.5px,#c6d3f9 267px,#eff3fc 271px,#fbfce6 274px,#fdfdc3 276.5px,#fefdb2 278.5px,#fefdac 280.5px,#fdfdb6 282.5px,#fcfccc 284.5px,#fbfce4)"></i><i class="n" style="background:linear-gradient(#fdfb71,#fdfc79 63.5px,#fdfc89 95.5px,#fefda1 117.5px,#fcfccd 142.5px,#fafbea 154.5px,#ecf0fd 171px,#bfcdf8 192.5px,#beccf8 199px,#ccd7f9 205.5px,#eff3fd 216.5px,#fbfce6 225px,#fdfdc9 231px,#fdfdbf 235.5px,#fdfdc2 239.5px,#fcfcd4 243.5px,#fafbea 247px,#eef2fd 252px,#cad5f9 257.5px,#b5c5f7 260.5px,#b0c1f7 263px,#bac9f8 265.5px,#eff3fc 271.5px,#fbfce8 275px,#fcfccf 277.5px,#fdfdc8 279.5px,#fcfccc 281.5px,#fcfcdd 283.5px,#fbfce9 284.5px,#f6f8f1)"></i><i class="n" style="background:linear-gradient(#fdfb70,#fdfc78 64px,#fdfc89 96px,#fefda2 118px,#fcfcce 143px,#fafbea 155px,#ecf1fd 171px,#beccf8 193px,#bdcbf8 199.5px,#cbd7f9 206px,#eff3fd 217px,#fbfce6 225.5px,#fdfdc7 231.5px,#fdfdbc 236.5px,#fdfdc0 240.5px,#fcfcd1 244.5px,#fafbe9 248px,#edf2fd 253.5px,#bccaf8 261.5px,#b8c7f7 264px,#c2cff8 266.5px,#eff3fd 272.5px,#f9fbeb 277px,#fafbea 281px,#f0f4fa 285.5px,#eff3fd)"></i><i class="n" style="background:linear-gradient(#fdfb70,#fdfc78 64px,#fdfc88 96px,#fefda1 118px,#fcfccd 143px,#fafbea 155px,#ecf1fd 171px,#bdccf8 193px,#bccbf8 199.5px,#c9d5f9 206px,#eff3fc 217.5px,#fbfce6 225.5px,#fdfdc3 232px,#fefdb6 237px,#fdfdb8 241px,#fdfdc7 245px,#fafbea 250px,#eef2fd 255px,#c0cef8 263px,#beccf8 265.5px,#cbd6f9 268.5px,#eff3fd 275px,#f2f5f8 279.5px,#ecf1fd 283px,#dce4fb)"></i><i class="n" style="background:linear-gradient(#fdfb6f,#fdfc78 64px,#fdfc88 96px,#fefda0 118px,#fcfccd 143px,#fafbea 155px,#edf1fd 171px,#bccbf8 193.5px,#bbcaf8 200px,#cad5f9 206.5px,#eff3fd 217.5px,#fbfce8 225px,#fdfdbe 232px,#fefda9 238px,#fefdab 241.5px,#fdfdbc 246px,#fcfcdd 250.5px,#fafbe9 252px,#edf1fd 257px,#c1cef8 264.5px,#beccf8 267.5px,#ced8f9 271.5px,#dce4fb 276px,#dce4fb 280px,#cfd9fa 284px,#c2cff8)"></i><i class="n" style="background:linear-gradient(#fdfb6f,#fdfc77 64px,#fdfc87 96px,#fefda0 118px,#fcfccd 143.5px,#fafbea 155.5px,#ecf0fd 171.5px,#bccbf8 193.5px,#bbcaf8 200px,#c7d4f9 206px,#eff3fc 217.5px,#fbfce8 224.5px,#fefdb6 232px,#fefd9b 237px,#fefc95 240.5px,#fefd9c 244px,#fdfdb8 248.5px,#fcfcdb 252.5px,#fafbe9 254px,#edf1fd 258.5px,#b9c8f8 266px,#b2c3f7 269px,#bdcbf8 277.5px,#b4c4f7 281.5px,#a1b6f5)"></i><i class="n" style="background:linear-gradient(#fdfb6e,#fdfc77 64px,#fdfc87 96px,#fefd9f 118px,#fcfccd 143.5px,#fafbea 155.5px,#ecf1fd 171.5px,#bccbf8 193.5px,#bbcaf8 200px,#c8d4f9 206px,#eff3fd 217px,#fbfce7 224px,#fefc91 235.5px,#fdfc81 239.5px,#fdfc81 243px,#fefc91 246.5px,#fdfdbf 251.5px,#fbfce8 255px,#eef2fd 259px,#c8d4f9 263.5px,#a9bcf6 267px,#9ab0f5 270.5px,#92a9f4 280.5px,#87a0f4)"></i><i class="n" style="background:linear-gradient(#fdfb66,#fdfb6d 60.5px,#fdfc7c 93px,#fefc95 115.5px,#fdfdc6 141.5px,#fafbea 155.5px,#ecf1fd 170.5px,#cad6f9 184px,#b4c4f7 192.5px,#b0c1f7 199px,#bac9f8 204.5px,#f0f3fc 217.5px,#fbfce6 223.5px,#fdfc84 235px,#fdfb72 238.5px,#fdfb6f 241.5px,#fdfc78 244.5px,#fefc8f 247.5px,#fcfcd8 253.5px,#fafbea 255px,#ecf0fd 258.5px,#cad6f9 262px,#a2b6f5 265.5px,#8ca4f4 268.5px,#849ef3 271.5px,#8ea6f4 278px,#91a8f4 283.5px,#8ea6f4)"></i><i class="n" style="background:linear-gradient(#faea59,#fbf25f 71px,#fdfb69 98px,#fdfc84 117.5px,#fefda7 133px,#fcfcd9 150.5px,#fafbea 155.5px,#ecf1fd 168px,#ccd7f9 178px,#98aef5 190px,#8ba4f4 196px,#8ea6f4 201px,#9eb3f5 205.5px,#c0cef8 211px,#d9e1fb 214.5px,#eff3fc 218.5px,#fbfce5 223.5px,#fdfc7e 233.5px,#fdfb66 237px,#fcf662 241px,#fdfb68 244px,#fdfc7e 246.5px,#fefda7 249.5px,#fafbea 254px,#eef2fd 257px,#ced9fa 260px,#97adf5 264px,#819bf3 266.5px,#7995f3 269px,#809bf3 272px,#aec0f7 279.5px,#b5c5f7 282.5px,#afc0f7 285px,#a9bcf6)"></i><i class="n" style="background:linear-gradient(#f7dd4f,#f8e555 68.5px,#fcf561 102px,#fdfb6a 112px,#fefc8d 128px,#fcfcd5 150px,#fafbea 155.5px,#ecf1fd 166.5px,#ccd7f9 175.5px,#829df3 189px,#728ff2 194px,#6f8df2 199.5px,#7995f3 203.5px,#93aaf4 208px,#d9e1fb 216px,#f0f3fc 219.5px,#fbfce8 223.5px,#fdfc79 233px,#fdf965 235.5px,#fbef5d 239.5px,#fbf360 243px,#fdfb66 245px,#fdfc83 247.5px,#fbfce5 253.5px,#eff3fd 256.5px,#cdd8f9 259.5px,#91a8f4 263.5px,#7895f3 266px,#728ff2 268px,#7692f2 270px,#8ba4f4 273px,#bdcbf8 278.5px,#cbd6f9 281.5px,#c8d4f9 284px,#b9c8f8)"></i><i class="n" style="background:linear-gradient(#f7dd4f,#f8e555 69px,#fcf561 102.5px,#fdfb6a 112.5px,#fefc8e 128.5px,#fcfcd5 150.5px,#fafbea 156px,#edf1fd 166.5px,#cdd8f9 175.5px,#819cf3 189.5px,#718ef2 194.5px,#6f8df2 200px,#7995f3 204px,#95acf5 208.5px,#d7e0fb 216px,#eff3fd 219.5px,#fbfce6 224px,#fdfc77 233.5px,#fdfb66 235.5px,#fbf05d 239.5px,#fbf360 243px,#fdfb66 245px,#fdfc81 247.5px,#fafbea 254px,#ecf0fd 257px,#d0dafa 259.5px,#93aaf4 263.5px,#7a96f3 266px,#7390f2 268px,#7692f2 270px,#8ba4f4 273px,#bfcdf8 278.5px,#ced9fa 281.5px,#cdd8f9 284px,#bfcdf8)"></i><i class="n" style="background:linear-gradient(#f7dd4f,#f8e455 69px,#fcf461 102.5px,#fdfb6a 113px,#fefc8e 129px,#fcfcd6 151px,#fafbea 156px,#ecf1fd 167px,#ccd7f9 176px,#829cf3 189.5px,#718ff2 194.5px,#6f8cf2 200px,#7894f3 204px,#93aaf4 208.5px,#cdd8f9 215px,#f0f3fc 220px,#fbfce9 224px,#fefd9c 230.5px,#fdfb71 234.5px,#fdfa65 236px,#fbf05e 240px,#fcf461 243.5px,#fdfb69 245.5px,#fdfc87 248px,#fbfce9 254px,#edf2fd 257px,#cad6f9 260px,#8fa7f4 264px,#7894f3 266.5px,#7390f2 268.5px,#7894f3 270.5px,#90a7f4 273.5px,#c4d1f9 279px,#d1dbfa 281.5px,#d2dbfa 284px,#c5d2f9)"></i><i style="background:linear-gradient(#f6dc4e,#f8e454 69px,#fcf460 102.5px,#fdfb6a 113.5px,#fefc8c 129px,#fcfcd5 151px,#fafbea 156.5px,#ecf0fd 167.5px,#ced8f9 176px,#819cf3 190px,#718ef2 195px,#6f8cf2 200.5px,#7894f3 204.5px,#93aaf4 209px,#d9e1fb 217px,#f0f3fc 220.5px,#fbfce8 224.5px,#fdfc7a 234px,#fdfa65 236.5px,#fbf15e 240.5px,#fcf662 244px,#fdfb68 245.5px,#fdfc84 248px,#fbfce5 254px,#eff3fd 257px,#ced9fa 260px,#92a9f4 264px,#7a96f3 266.5px,#7391f2 268.5px,#7b96f3 271px,#94abf5 274px,#c6d3f9 279px,#d3dcfa 281px,#d6dffa 284px,#cfd9fa)"></i><i style="background:linear-gradient(#f6db4e,#f8e354 69.5px,#fbf360 103px,#fdfb6a 114.5px,#fefc8d 130px,#fcfcd7 152px,#fafbea 157px,#ecf0fd 168px,#cdd8f9 176.5px,#819bf3 190.5px,#718ef2 195.5px,#6e8cf2 201px,#7894f3 205px,#92aaf4 209.5px,#cdd8f9 216px,#eff3fc 221px,#fbfce9 225px,#fefc97 232px,#fdfb6e 236px,#fdfa65 237.5px,#fbf25f 241.5px,#fdfa65 245px,#fdfc75 247px,#fefc97 249.5px,#fbfce9 254.5px,#eef2fd 257.5px,#cbd7f9 260.5px,#90a8f4 264.5px,#7a96f3 267px,#7491f2 269px,#7e99f3 271.5px,#99aff5 274.5px,#cdd8f9 279.5px,#d9e2fb 282px,#dae3fb 285px,#d7e0fb)"></i><i style="background:linear-gradient(#f6db4d,#f8e253 69.5px,#fbf25f 103px,#fdfb6a 115.5px,#fefc8e 131px,#fcfcd6 152.5px,#fafbea 157.5px,#ecf0fd 168.5px,#cdd8f9 177px,#819bf3 191px,#708ef2 196px,#6e8cf2 201.5px,#7793f3 205.5px,#92a9f4 210px,#ccd7f9 216.5px,#eff3fc 221.5px,#fbfce9 225.5px,#fdfc7d 235px,#fdfb66 238px,#fcf460 242px,#fdfb66 245.5px,#fdfc7f 248px,#fefda3 250.5px,#fafbea 255px,#ecf0fd 258px,#d1dbfa 260.5px,#95abf5 264.5px,#7c97f3 267px,#7592f2 269px,#7a96f3 271px,#8da6f4 273.5px,#cfdafa 279.5px,#dee6fb 282.5px,#e1e8fc 285px,#dee6fb)"></i><i style="background:linear-gradient(#f6da4d,#f8e152 69.5px,#fbf15e 103px,#fdfb6a 116.5px,#fefc8e 132px,#fcfcd8 153.5px,#fafbea 158px,#ecf0fd 169px,#cdd8f9 177.5px,#809bf3 191.5px,#708ef2 196.5px,#6d8bf2 202px,#7693f2 206px,#91a8f4 210.5px,#cbd6f9 217px,#eff3fd 222px,#fbfce5 226.5px,#fdfc7f 235.5px,#fdfb67 238.5px,#fcf662 242.5px,#fdfb66 245.5px,#fdfc7d 248px,#fefd9f 250.5px,#fbfce8 255px,#eff3fd 258px,#ced8f9 261px,#93aaf4 265px,#7b97f3 267.5px,#7692f2 269.5px,#7c97f3 271.5px,#91a9f4 274px,#d1dbfa 279.5px,#e3eafc 283px,#e6ecfc 285.5px,#e5ebfc)"></i><i style="background:linear-gradient(#f6d94c,#f7e152 70px,#fbf05e 103.5px,#fdfb69 117.5px,#fefc8e 132.5px,#fcfcd8 154px,#fafbea 158.5px,#ecf0fd 169.5px,#cdd8f9 178px,#809bf3 192px,#718ef2 196.5px,#6d8bf2 202px,#7692f2 206.5px,#90a8f4 211px,#cad6f9 217.5px,#eff3fd 222.5px,#fbfce7 227px,#fdfc81 236px,#fdfb67 239.5px,#fcf863 243.5px,#fdfb6a 246px,#fdfc81 248.5px,#fefda4 251px,#fafbea 255.5px,#edf1fd 258.5px,#cbd6f9 261.5px,#91a8f4 265.5px,#7e99f3 267.5px,#7693f2 269.5px,#7b97f3 271.5px,#8fa7f4 274px,#d2dcfa 279.5px,#e7ecfc 283px,#ecf0fd 285.5px,#ebf0fd)"></i><i style="background:linear-gradient(#f6d84c,#f7e051 70px,#fbef5d 103.5px,#fdfb69 118.5px,#fefc8e 133.5px,#fcfcda 155px,#fafbea 159.5px,#ecf0fd 170px,#cdd8f9 178.5px,#809bf3 192.5px,#718ef2 197px,#6c8af2 202.5px,#7592f2 207px,#8fa7f4 211.5px,#c9d5f9 218px,#e7edfc 222px,#f0f4fb 223.5px,#fbfce8 227.5px,#fdfc83 236.5px,#fdfb6a 240px,#fdf964 242.5px,#fdfb68 245.5px,#fdfc7a 248px,#fefc99 250.5px,#fbfce6 255.5px,#eff3fc 258.5px,#d0dafa 261.5px,#95abf5 265.5px,#7d98f3 268px,#7793f2 270px,#7d98f3 272px,#93aaf4 274.5px,#d2dcfa 279.5px,#ecf0fd 283.5px,#f0f3fc)"></i><i style="background:linear-gradient(#f5d74b,#f7df51 70.5px,#fbef5d 104px,#fdfb69 119px,#fefc8e 134px,#fcfcda 155.5px,#fafbe9 159.5px,#ecf0fd 170.5px,#cdd8f9 179px,#809af3 193px,#708ef2 197.5px,#6c8af2 203px,#7491f2 207.5px,#8ea6f4 212px,#c8d4f9 218.5px,#dce4fb 221px,#eff3fc 224px,#fbfce9 228px,#fdfc86 237px,#fdfb6d 240.5px,#fdfb66 243px,#fdfb69 245.5px,#fdfc79 248px,#fefc96 250.5px,#fbfce9 256px,#eef2fd 259px,#cdd8f9 262px,#92aaf4 266px,#7f9af3 268px,#7793f3 270px,#7b97f3 272px,#90a8f4 274.5px,#d2dcfa 279.5px,#eef3fd 283.5px,#f2f5f8)"></i><i style="background:linear-gradient(#f5d74a,#f7de50 70.5px,#faee5c 104px,#fdfb68 120px,#fefc8e 135px,#fcfcd9 156px,#fafbe9 160px,#ecf0fd 171px,#cdd8f9 179.5px,#809af3 193.5px,#708ef2 198px,#6c8af2 203.5px,#7491f2 208px,#8da5f4 212.5px,#c7d3f9 219px,#dbe3fb 221.5px,#eff3fd 224.5px,#fbfce6 229px,#fdfc89 237.5px,#fdfb70 241px,#fdfb69 244px,#fdfb6f 246.5px,#fdfc82 249px,#fefda2 251.5px,#fbfce6 256px,#f0f3fc 259px,#d2dbfa 262px,#96adf5 266px,#7e99f3 268.5px,#7793f3 270.5px,#7d98f3 272.5px,#93aaf4 275px,#d5dffa 280px,#eff3fc 283.5px,#f4f6f5)"></i><i style="background:linear-gradient(#f5d64a,#f7dd4f 70.5px,#faed5b 104.5px,#fdfb69 121px,#fefc8f 136px,#fcfcdb 157px,#fafbea 161px,#ecf0fd 171.5px,#cdd8f9 180px,#7f9af3 194px,#708df2 198.5px,#6b89f2 204px,#7592f2 209px,#90a7f4 213.5px,#cad6f9 220px,#eff3fd 225px,#fbfce8 229.5px,#fefc8b 238px,#fdfc73 241.5px,#fdfb6c 244.5px,#fdfc73 247px,#fdfc87 249.5px,#fefda6 252px,#fbfce9 256.5px,#eff3fd 259.5px,#cfd9fa 262.5px,#94abf5 266.5px,#7d98f3 269px,#7793f2 271px,#7e99f3 273px,#96adf5 275.5px,#d4defa 280px,#eff3fd 283px,#f5f8f2)"></i><i style="background:linear-gradient(#f5d549,#f7dd4f 71px,#faec5b 105px,#fdfb69 122px,#fefc8e 136.5px,#fcfcdb 157.5px,#fafbea 161.5px,#ecf0fd 172px,#cdd8f9 180.5px,#7f9af3 194.5px,#708df2 199px,#6b89f2 204.5px,#7491f2 209.5px,#8fa7f4 214px,#c9d5f9 220.5px,#e3eafc 224px,#f0f3fc 226px,#fbfce9 230px,#fdfc8a 239px,#fdfc76 242px,#fdfb70 245px,#fdfc77 247.5px,#fefc8b 250px,#fdfdc6 254.5px,#fafbea 257px,#edf1fd 260px,#ccd7f9 263px,#92a9f4 267px,#7e99f3 269px,#7793f2 271px,#7c97f3 273px,#93aaf4 275.5px,#d3ddfa 280px,#eff3fd 283px,#f7f9f0)"></i><i style="background:linear-gradient(#f5d449,#f6dc4e 71px,#faeb5a 105px,#fdfb69 123px,#fefc8f 137.5px,#fcfcda 158px,#fafbea 162px,#ecf1fd 172.5px,#cdd8f9 181px,#7d98f3 195.5px,#6e8cf2 200px,#6b89f2 205.5px,#7592f2 210.5px,#91a9f4 215px,#d5defa 222.5px,#eff3fc 226.5px,#fbfce6 231px,#fefc92 239px,#fdfc7a 242.5px,#fdfc74 245.5px,#fdfc7b 248px,#fefc8f 250.5px,#fcfcd1 255.5px,#fbfce8 257px,#eff3fd 260px,#d1dbfa 263px,#96acf5 267px,#7d98f3 269.5px,#7693f2 271.5px,#7d98f3 273.5px,#95acf5 276px,#d1dbfa 280px,#eff3fd 283px,#f8faee)"></i><i style="background:linear-gradient(#f5d348,#f6db4e 71.5px,#faeb59 105.5px,#fdfb69 124px,#fefc90 138.5px,#fcfcdc 159px,#fafbea 162.5px,#ecf1fd 173px,#cdd8f9 181.5px,#7d98f3 196px,#6e8cf2 200.5px,#6a88f2 206px,#7491f2 211px,#90a8f4 215.5px,#cbd6f9 222px,#eff3fd 227px,#fbfce8 231.5px,#fefc9a 239px,#fdfc80 242.5px,#fdfc78 245.5px,#fdfc7d 248px,#fefc8f 250.5px,#fdfdc6 255px,#fafbea 257.5px,#eef2fd 260.5px,#ced9fa 263.5px,#93aaf4 267.5px,#7c97f3 270px,#7692f2 272px,#7d98f3 274px,#91a9f4 276px,#d4defa 280.5px,#eef2fd 283px,#f9faec)"></i><i style="background:linear-gradient(#f4d347,#f6da4d 71.5px,#f9ea59 105.5px,#fdfb69 125px,#fefc90 139.5px,#fbfcde 160px,#fafbeb 163.5px,#ecf1fd 173.5px,#cdd8f9 182px,#7d98f3 196.5px,#6e8cf2 201px,#6a88f2 206.5px,#7390f2 211.5px,#8fa7f4 216px,#c9d5f9 222.5px,#e7ecfc 226.5px,#f0f3fc 228px,#fbfce5 232.5px,#fefc98 240px,#fdfc83 243px,#fdfc7c 246px,#fdfc81 248.5px,#fefc93 251px,#fcfcd1 256px,#fbfce8 257.5px,#ecf0fd 261px,#cbd6f9 264px,#91a8f4 268px,#7d98f3 270px,#7592f2 272px,#7b96f3 274px,#8da5f4 276px,#c1cef8 279.5px,#d7e0fb 281px,#edf1fd 283px,#f9fbeb)"></i><i style="background:linear-gradient(#f4d247,#f6d94c 72px,#f9e958 106px,#fdfb69 126px,#fefc90 140px,#fcfcdd 160.5px,#fafbea 164px,#ecf1fd 174px,#cdd8f9 182.5px,#7d98f3 197px,#6e8cf2 201.5px,#6988f2 207px,#7390f2 212px,#8da5f4 216.5px,#ccd7f9 223.5px,#eff3fd 228.5px,#fbfce7 233px,#fefdb4 238px,#fefc90 242px,#fdfc82 245px,#fdfc81 247.5px,#fefc8b 250px,#fefda2 252.5px,#fcfcdc 257px,#fafbea 258px,#eff3fd 261px,#d0dafa 264px,#8fa6f4 268.5px,#7c97f3 270.5px,#7491f2 272.5px,#7b96f3 274.5px,#8ea6f4 276.5px,#c4d1f9 280px,#dae2fb 281.5px,#eff3fc 283.5px,#fafbeb)"></i><i style="background:linear-gradient(#f4d146,#f6d84c 72.5px,#f9e858 106.5px,#fdfb67 126.5px,#fefc8f 140.5px,#fcfcdd 161px,#fafbe9 164px,#edf1fd 174.5px,#ced8f9 183px,#7d98f3 197.5px,#6e8bf2 202px,#6987f2 207.5px,#728ff2 212.5px,#88a1f4 216.5px,#c0cef8 223px,#d7e0fa 225.5px,#eef2fd 229px,#fbfce9 233.5px,#fefda4 240.5px,#fefc8b 244px,#fdfc84 247px,#fdfc8a 249.5px,#fefd9c 252px,#fcfcd1 256.5px,#fbfce7 258px,#edf1fd 261.5px,#cdd8f9 264.5px,#8ca5f4 269px,#7a96f3 271px,#7390f2 273px,#7b96f3 275px,#8fa7f4 277px,#c7d4f9 280.5px,#dde4fb 282px,#eef2fd 283.5px,#f9fbeb)"></i><i style="background:linear-gradient(#f4d046,#f5d84b 73.5px,#f9e757 107px,#fdfb68 127.5px,#fefc8f 141.5px,#fbfcdf 162px,#fafbea 165px,#edf1fd 175px,#ced9fa 183.5px,#7d98f3 198px,#6e8bf2 202.5px,#6887f2 208px,#718ef2 213px,#87a0f4 217px,#bfcdf8 223.5px,#d5dffa 226px,#eff3fc 230px,#fbfce7 234.5px,#fefdb6 239.5px,#fefc95 243.5px,#fdfc89 246.5px,#fefc8a 249px,#fefc98 251.5px,#fdfdc7 256px,#fafce9 258.5px,#eff3fc 261.5px,#d2dcfa 264.5px,#90a8f4 269px,#7894f3 271.5px,#7390f2 273.5px,#7b96f3 275.5px,#91a8f4 277.5px,#d9e1fb 282px,#f0f3fb 284px,#f9faec)"></i><i style="background:linear-gradient(#f4cf46,#f5d74b 74.5px,#f9e757 108px,#fdfb68 128.5px,#fefc90 142.5px,#fbfcde 162.5px,#fafbea 165.5px,#edf1fd 175.5px,#cbd7f9 184.5px,#7d98f3 198.5px,#6d8bf2 203px,#6886f2 208.5px,#708ef2 213.5px,#859ff3 217.5px,#b8c7f7 223.5px,#d4ddfa 226.5px,#eff3fd 230.5px,#fbfce5 235.5px,#fefdb5 240.5px,#fefc96 244.5px,#fefc8d 247.5px,#fefc90 250px,#fefda0 252.5px,#fcfccb 256.5px,#fbfce7 258.5px,#eef2fd 262px,#cfdafa 265px,#8ea6f4 269.5px,#7693f2 272px,#728ff2 274px,#7793f3 275.5px,#8ba3f4 277.5px,#bbcaf8 280.5px,#d5defa 282px,#eef2fd 284px,#f8faed)"></i><i style="background:linear-gradient(#f3ce45,#f5d64a 74px,#f8e656 107.5px,#fdfb68 129.5px,#fefc91 143.5px,#fbfce0 163.5px,#fafbeb 166.5px,#edf1fd 176px,#ccd7f9 185px,#7d98f3 199px,#6d8bf2 203.5px,#6786f2 209px,#6f8df2 214px,#809bf3 217.5px,#adbff6 223px,#d6dffa 227.5px,#eff3fc 231.5px,#fbfce8 236px,#fdfdb8 241px,#fefc9a 245px,#fefc91 248px,#fefc95 250.5px,#fefda5 253px,#fcfcce 257px,#fbfce9 259px,#ecf1fd 262.5px,#cdd8f9 265.5px,#8ba4f4 270px,#7894f3 272px,#718ef2 274px,#7793f2 276px,#8ba4f4 278px,#bdcbf8 281px,#d7e0fb 282.5px,#f0f3fc 284.5px,#f7f9ef)"></i><i style="background:linear-gradient(#f3cd45,#f5d549 74px,#f8e555 108px,#fdfb68 130.5px,#fefc90 144px,#fbfcdf 164px,#fafbea 167px,#ecf0fd 177px,#ccd7f9 185.5px,#7a96f3 200px,#6b89f2 205px,#6786f2 210.5px,#728ff2 215.5px,#89a2f4 219.5px,#c7d3f9 226.5px,#dbe3fb 229px,#eff3fd 232px,#fbfce6 237px,#fdfdbb 241.5px,#fefd9c 246px,#fefc95 249px,#fefd9b 251.5px,#fefdb2 254.5px,#fcfcd2 257.5px,#fafbea 259.5px,#eff3fd 262.5px,#d2dcfa 265.5px,#89a2f4 270.5px,#7692f2 272.5px,#708df2 274.5px,#7692f2 276.5px,#8ba4f4 278.5px,#bfcdf8 281.5px,#d2dcfa 282.5px,#edf1fd 284.5px,#f6f8f1)"></i><i style="background:linear-gradient(#f3cc45,#f5d448 72.5px,#f8e354 107px,#fdfb66 131px,#fefc8f 144.5px,#fbfcdf 164.5px,#fafbea 167.5px,#ecf1fd 177.5px,#ccd7f9 186px,#7b96f3 200.5px,#6b89f2 205.5px,#6786f1 211px,#718ef2 216px,#87a1f4 220px,#c5d1f9 227px,#d9e2fb 229.5px,#eff3fc 233px,#fbfce9 237.5px,#fdfdbb 242.5px,#fefd9e 247px,#fefc9a 250px,#fefda3 252.5px,#fdfdc4 256.5px,#fbfce9 259.5px,#eef2fd 263px,#d0dafa 266px,#87a0f4 271px,#7491f2 273px,#6f8cf2 275px,#7592f2 277px,#8ca4f4 279px,#c0cef8 282px,#dae2fb 283.5px,#eff3fd 285px,#f4f7f4)"></i><i style="background:linear-gradient(#f3ca44,#f4d247 71px,#f8e153 106.5px,#fdf964 130px,#fdfb71 136px,#fefd9d 149px,#fbfce3 166px,#f8faed 169.5px,#ecf1fd 178px,#cdd8f9 186.5px,#7b96f3 201px,#6b89f2 206px,#6685f1 211.5px,#708df2 216.5px,#829cf3 220px,#b4c4f7 226px,#d4defa 229.5px,#eff3fd 233.5px,#fbfce7 238.5px,#fdfdbe 243px,#fefda3 247.5px,#fefd9e 250.5px,#fefda7 253px,#fdfdc7 257px,#fafbea 260px,#ecf1fd 263.5px,#cdd8f9 266.5px,#8ba3f4 271px,#7592f2 273px,#6e8bf2 275px,#718ff2 277px,#7e99f3 278.5px,#9cb1f5 280.5px,#d4defa 283.5px,#eff3fc 285.5px,#f2f5f7)"></i><i style="background:linear-gradient(#f2c944,#f4d146 69px,#f7e051 105.5px,#fcf763 129.5px,#fdfb6c 135px,#fefc96 148px,#fbfce2 166.5px,#f9faec 169.5px,#edf1fd 178.5px,#cdd8f9 187px,#7b96f3 201.5px,#6b89f2 206.5px,#6685f1 212px,#6f8cf2 217px,#809bf3 220.5px,#adbff6 226px,#d6dffa 230.5px,#eff3fc 234.5px,#fbfce5 239.5px,#fdfdbe 244px,#fefda6 248.5px,#fefda4 251.5px,#fefdb2 254.5px,#fcfdca 257.5px,#fbfce8 260px,#eff3fd 263.5px,#d2dcfa 266.5px,#88a2f4 271.5px,#7491f2 273.5px,#6c8af2 276px,#7390f2 278px,#8ba4f4 280px,#c2d0f8 283px,#dde4fb 284.5px,#ebf0fd 285.5px,#f0f4fb)"></i><i style="background:linear-gradient(#f2c844,#f4d046 69px,#f7df51 106.5px,#fcf662 130px,#fdfb6a 135.5px,#fefc95 148.5px,#fbfce4 167.5px,#f9faec 170.5px,#edf1fd 179px,#ced8f9 187.5px,#7995f3 202.5px,#6987f2 208px,#6685f1 213.5px,#718ef2 218.5px,#89a2f4 222.5px,#ccd7f9 230px,#eef2fd 235px,#fbfce9 240px,#fdfdc1 244.5px,#fefdaa 249px,#fefda8 252px,#fdfdb8 255.5px,#fcfcd2 258.5px,#fafbe9 260.5px,#eef2fd 264px,#d1dbfa 267px,#86a0f4 272px,#728ff2 274px,#6b89f2 276px,#6f8df2 278px,#7c98f3 279.5px,#9bb1f5 281.5px,#d6dffa 284.5px,#ecf1fd)"></i><i style="background:linear-gradient(#f2c744,#f4cf46 69.5px,#f7de50 107px,#fcf561 130.5px,#fdfb6a 136.5px,#fefc95 149.5px,#fbfce3 168px,#f9faec 171px,#ecf0fd 180px,#cbd6f9 188.5px,#7995f3 203px,#6887f2 208.5px,#6584f1 214px,#708df2 219px,#87a0f4 223px,#c9d5f9 230.5px,#e3e9fc 234px,#f0f4fb 236.5px,#fbfce8 241px,#fdfdc2 245.5px,#fefdaf 249.5px,#fefdac 252.5px,#fdfdbb 256px,#fcfcd5 259px,#fafbea 261px,#edf1fd 264.5px,#cfd9fa 267.5px,#849ef3 272.5px,#718ef2 274.5px,#6a88f2 276.5px,#6e8cf2 278.5px,#7b97f3 280px,#9bb0f5 282px,#d7e0fb 285px,#e6ecfc)"></i><i style="background:linear-gradient(#f2c643,#f3ce45 69.5px,#f6dc4e 105px,#fbf25f 129.5px,#fdfb69 137px,#fefc94 150px,#fbfce5 169px,#eef2fd 180px,#ccd7f9 189px,#7995f3 203.5px,#6887f2 209px,#6584f1 214.5px,#6f8cf2 219.5px,#819cf3 223px,#b3c4f7 229px,#d4ddfa 232.5px,#eff3fc 237px,#fbfce6 242px,#fdfdc2 246.5px,#fefdb2 250px,#fefdb0 253px,#fdfdbb 256px,#fcfcd3 259px,#fbfce9 261px,#ebf0fd 265px,#cdd8f9 268px,#839df3 273px,#6f8df2 275px,#6887f2 277px,#6d8bf2 279px,#7a95f3 280.5px,#9ab0f5 282.5px,#d7e0fb 285.5px,#dfe6fb)"></i><i style="background:linear-gradient(#f2c543,#f3cc45 70px,#f6da4d 103px,#fbef5d 128px,#fdfb69 138px,#fefc95 151px,#fbfce4 169.5px,#f8faed 173px,#ecf1fd 181px,#ccd7f9 189.5px,#7995f3 204px,#6887f2 209.5px,#6483f1 215px,#6e8bf2 220px,#7f9af3 223.5px,#b1c2f7 229.5px,#d5defa 233.5px,#eff3fd 237.5px,#fbfce6 243px,#fdfdc6 247px,#fdfdb6 250.5px,#fefdb5 254px,#fdfdc1 257px,#fcfcdb 260px,#fafbea 261.5px,#eff3fd 265px,#cbd7f9 268.5px,#819bf3 273.5px,#718ef2 275px,#6786f1 277.5px,#6b8af2 279.5px,#7894f3 281px,#99aff5 283px,#d7e0fb)"></i><i style="background:linear-gradient(#f1c443,#f3cb45 70.5px,#f6d84b 102.5px,#faee5c 128px,#fdfb69 139px,#fefc96 152px,#fbfce6 170.5px,#edf1fd 181.5px,#cdd8f9 190px,#7794f3 205px,#6685f1 211px,#6483f1 216.5px,#708df2 221.5px,#88a1f4 225.5px,#d6dffa 234.5px,#eff3fd 238.5px,#fbfce5 244px,#fdfdc6 248px,#fdfdb8 251.5px,#fdfdb8 254.5px,#fdfdc4 257.5px,#fcfcdd 260.5px,#fbfce8 261.5px,#eef2fd 265.5px,#d1dbfa 268.5px,#7f9af3 274px,#708df2 275.5px,#6584f1 278px,#6a88f2 280px,#7693f2 281.5px,#97aef5 283.5px,#ced9fa)"></i><i style="background:linear-gradient(#f1c342,#f3ca44 70.5px,#f5d74b 102.5px,#faec5b 128px,#fdfb69 140px,#fefc96 153px,#fbfce5 171px,#eff3fd 181.5px,#ced8f9 190.5px,#7794f3 205.5px,#6685f1 211.5px,#6383f1 217px,#6f8cf2 222px,#829cf3 225.5px,#b9c8f8 232px,#d4defa 235px,#eff3fc 239.5px,#fbfce9 244.5px,#fdfdc7 249px,#fdfdbb 252.5px,#fdfdbc 255.5px,#fdfdca 258.5px,#f9fbeb 262.5px,#edf1fd 266px,#d0dbfa 269px,#7e99f3 274.5px,#6f8cf2 276px,#6483f1 278.5px,#6887f2 280.5px,#7491f2 282px,#96acf5 284px,#c1cef8)"></i><i style="background:linear-gradient(#f1c142,#f2c944 71px,#f5d64a 103.5px,#faeb5a 128.5px,#fdfb69 141px,#fefc95 153.5px,#fbfce6 172px,#ecf1fd 183px,#cbd7f9 191.5px,#7894f3 206px,#6685f1 212px,#6382f1 217.5px,#6d8bf2 222.5px,#7f9af3 226px,#b6c6f7 232.5px,#d5defa 236px,#f0f3fc 240.5px,#fbfce8 245.5px,#fcfccb 249.5px,#fdfdbe 253px,#fdfdbf 256px,#fcfccc 259px,#fafbea 262.5px,#ecf1fd 266.5px,#cfdafa 269.5px,#7d98f3 275px,#6a88f2 277px,#6282f1 279px,#6785f1 281px,#728ff2 282.5px,#8aa2f4 284px,#b4c4f7)"></i><i style="background:linear-gradient(#f1c042,#f2c844 71.5px,#f5d64a 105px,#faec5a 130px,#fdfb69 142px,#fefc96 154.5px,#fbfce5 172.5px,#edf1fd 183.5px,#ccd7f9 192px,#7692f2 207px,#6483f1 213.5px,#6382f1 219px,#708df2 224px,#88a1f4 228px,#d6dffa 237px,#eff3fd 241px,#fbfce8 246.5px,#fcfccc 250.5px,#fdfdc1 254px,#fdfdc3 257px,#fcfcd2 260px,#fbfce9 262.5px,#ebf0fd 267px,#cfd9fa 270px,#7b97f3 275.5px,#6987f2 277.5px,#6181f1 279.5px,#6584f1 281.5px,#7693f2 283.5px,#9bb1f5 285.5px,#a6baf6)"></i><i style="background:linear-gradient(#f0bf41,#f2c643 71.5px,#f5d64a 106.5px,#faeb5a 131px,#fdfb69 143px,#fefc96 155.5px,#fafbea 174.5px,#edf1fd 184px,#cdd8f9 192.5px,#7693f2 207.5px,#6584f1 213.5px,#6281f1 219px,#6c8af2 224px,#7e99f3 227.5px,#b4c5f7 234px,#d4ddfa 237.5px,#eff3fd 242px,#fbfce4 248px,#fcfccb 252px,#fdfdc3 255.5px,#fdfdc9 258.5px,#fcfcdc 261.5px,#f9fbeb 263.5px,#eff3fd 267px,#ced9fa 270.5px,#7491f2 276.5px,#6282f1 279px,#607ff1 281px,#6a88f2 283px,#7b97f3 284.5px,#99aff5)"></i><i style="background:linear-gradient(#f0be41,#f2c543 72px,#f5d549 108px,#faec5a 132.5px,#fdfb69 144px,#fefc97 156.5px,#fafbe9 175px,#ecf1fd 185px,#ced9fa 193px,#7793f2 208px,#6584f1 214px,#6180f1 219.5px,#6b89f2 224.5px,#7c97f3 228px,#adbff6 234px,#d5defa 238.5px,#eff3fc 243px,#fbfce4 249px,#fcfccc 253px,#fdfdc6 256.5px,#fcfcce 259.5px,#fbfce2 262.5px,#f6f8f0 265px,#eff3fd 267.5px,#ced8fa 271px,#7390f2 277px,#6181f1 279.5px,#5e7ef1 281.5px,#6886f2 283.5px,#7894f3 285px,#8ba3f4)"></i><i style="background:linear-gradient(#f0bd41,#f1c443 72px,#f5d549 109px,#faeb5a 133px,#fdfb69 145px,#fefc98 157.5px,#fafbea 176px,#edf1fd 185.5px,#ccd7f9 194px,#7591f2 209px,#6382f1 215.5px,#6180f1 221px,#6d8bf2 226px,#809bf3 229.5px,#bccaf8 236.5px,#d6dffa 239.5px,#f0f3fc 244px,#fbfce4 250px,#fcfcce 254px,#fdfdc9 257.5px,#fcfcd2 260.5px,#fafbea 264px,#eef3fd 268px,#ced8f9 271.5px,#7390f2 277.5px,#6080f1 280px,#5d7df1 282px,#6584f1 284px,#7592f2 285.5px,#7e99f3)"></i><i style="background:linear-gradient(#f0bc40,#f1c342 72.5px,#f4d348 108px,#f9e958 132.5px,#fdfb68 145.5px,#fefc96 158px,#fafbea 176.5px,#edf2fd 186px,#cdd8f9 194.5px,#7592f2 209.5px,#6382f1 216px,#6080f1 221.5px,#6b89f2 226.5px,#7a96f3 229.5px,#abbdf6 235.5px,#d3ddfa 240px,#eff3fd 244.5px,#fbfce4 251px,#fcfcd0 255px,#fcfccc 258.5px,#fcfcd7 261.5px,#fafbeb 264.5px,#eef2fd 268.5px,#ced9fa 272px,#7390f2 278px,#607ff1 280.5px,#5b7bf1 282.5px,#6382f1 284.5px,#728ff2)"></i><i style="background:linear-gradient(#efba40,#f1c242 73px,#f4d146 106.5px,#f9e756 132px,#fdfb68 146.5px,#fefc97 159px,#fafbea 177.5px,#ecf1fd 187px,#ced8f9 195px,#7692f2 210px,#6282f1 216.5px,#5f7ff1 222px,#6c8af2 227.5px,#7b96f3 230.5px,#acbef6 236.5px,#d4defa 241px,#eff3fd 245.5px,#fbfce5 252px,#fcfcd3 255.5px,#fcfccf 259px,#fcfcd8 262px,#f9fbeb 265px,#eef2fd 269px,#ced9fa 272.5px,#7390f2 278.5px,#5f7ff1 281px,#5a7af1 283px,#6180f1 285px,#6a88f2)"></i><i style="background:linear-gradient(#efb940,#f1c042 73.5px,#f4d046 107px,#f9e656 133px,#fdfb68 147.5px,#fefc97 160px,#fafbea 178px,#edf1fd 187.5px,#ccd7f9 196px,#7491f2 211px,#6180f1 218px,#5f7ff1 223.5px,#6e8cf2 229px,#829df3 232.5px,#d5defa 242px,#eff3fd 246.5px,#fbfce5 253px,#fcfcd4 256.5px,#fcfcd2 260px,#fcfcdd 263px,#f9fbeb 265.5px,#eff3fd 269.5px,#cfd9fa 273px,#7390f2 279px,#5e7ef1 281.5px,#5879f1 283.5px,#5e7ef1 285.5px,#6282f1)"></i><i style="background:linear-gradient(#efb840,#f0bf41 73.5px,#f3ce45 107.5px,#f8e555 133px,#fdfb68 148.5px,#fefc96 160.5px,#fbfce9 178.5px,#ecf0fd 188.5px,#cdd8f9 196.5px,#7491f2 211.5px,#6181f1 218px,#5e7ef1 223.5px,#6a88f2 229px,#7c97f3 232.5px,#b7c7f7 239.5px,#d6dffa 243px,#eff3fc 247.5px,#fbfce6 254px,#fcfcd6 257.5px,#fcfcd4 261px,#fbfce1 264px,#f9fbeb 266px,#eff3fd 270px,#d0dafa 273.5px,#7491f2 279.5px,#5e7ef1 282px,#5778f0 284px,#5c7cf1)"></i><i style="background:linear-gradient(#efb73f,#f0be41 74px,#f3cd45 108px,#f8e152 131.5px,#fdfb67 149.5px,#fefc96 161.5px,#fafbea 179.5px,#ecf1fd 189px,#ced9fa 197px,#7592f2 212px,#6181f1 218.5px,#5d7df1 224px,#6987f2 229.5px,#7995f3 233px,#afc0f7 239.5px,#d3ddfa 243.5px,#eff3fc 248.5px,#fbfce3 255.5px,#fcfcd6 259px,#fcfcd7 262px,#fbfce5 265px,#eff3fd 270.5px,#d1dbfa 274px,#7591f2 280px,#5e7ef1 282.5px,#5677f0 284.5px,#5878f0)"></i><i style="background:linear-gradient(#eeb53f,#f0bd41 74.5px,#f3cc45 108.5px,#f7dd4f 129px,#fdf964 149px,#fdfc7b 156px,#fcfcdb 177px,#fafbea 180.5px,#edf2fd 189.5px,#ccd7f9 198px,#7390f2 213px,#5f7ff1 220px,#5d7df1 225.5px,#6a89f2 231px,#7d98f3 234.5px,#beccf8 242px,#d7e0fb 245px,#f0f3fc 249.5px,#fbfce4 256.5px,#fcfcd8 260px,#fcfcda 263px,#f8faed 267.5px,#ecf1fd 271.5px,#d2dcfa 274.5px,#708ef2 281px,#5b7bf1 283.5px,#5476f0 285.5px,#5576f0)"></i><i style="background:linear-gradient(#eeb43f,#f0bb40 75px,#f3cb44 109px,#f6da4d 127.5px,#fcf562 148px,#fdfb6b 152.5px,#fefd9c 164.5px,#fafbea 181px,#ecf1fd 190.5px,#cdd8f9 198.5px,#7491f2 213.5px,#5f7ff1 220.5px,#5c7cf1 226px,#6987f2 231.5px,#7a96f3 235px,#b5c5f7 242px,#d4defa 245.5px,#f0f3fc 250.5px,#fbfce2 258px,#fcfcd9 261.5px,#fbfcde 264.5px,#f8faed 268px,#edf1fd 272px,#ced8f9 275.5px,#718ff2 281.5px,#5b7bf1 284px,#5375f0)"></i><i style="background:linear-gradient(#eeb33e,#efba40 75px,#f2c944 109px,#f6d84c 127.5px,#fcf460 148px,#fdfb69 153px,#fefc9a 165px,#fafbea 182px,#edf1fd 191px,#cbd7f9 199.5px,#7491f2 214px,#5f7ff1 221px,#5c7cf1 226.5px,#6786f1 232px,#7b96f3 236px,#b6c6f7 243px,#d5defa 246.5px,#eff3fd 251px,#fbfce3 259px,#fcfcdb 262.5px,#fbfce1 265.5px,#f3f6f6 271px,#eef2fd 272.5px,#d0dafa 276px,#7390f2 282px,#5879f1 285px,#5475f0)"></i><i style="background:linear-gradient(#eeb23e,#efb940 75.5px,#f2c844 109.5px,#f5d74b 128px,#fbf25f 148.5px,#fdfb69 154px,#fefd9b 166px,#fafbea 182.5px,#ecf1fd 192px,#cdd8f9 200px,#7390f2 215px,#5e7ef1 222px,#5b7bf1 227.5px,#6786f1 233px,#7b97f3 237px,#bbcaf8 244.5px,#d5defa 247.5px,#eff3fd 252px,#fbfce3 260px,#fcfcdc 263.5px,#fbfce3 266.5px,#f0f4fa 272.5px,#e8edfd 274px,#cbd7f9 277px,#6f8df2 283px,#5979f1 285.5px,#5677f0)"></i><i style="background:linear-gradient(#edb03e,#efb73f 76px,#f2c643 110px,#f5d74a 129px,#fbf25f 149.5px,#fdfb6a 155.5px,#fefd9b 167px,#fafbea 183.5px,#edf1fd 192.5px,#ced9fa 200.5px,#7491f2 215.5px,#5e7ef1 222.5px,#5a7bf1 228px,#6584f1 233.5px,#7894f3 237.5px,#b3c3f7 244.5px,#d6dffa 248.5px,#eff3fd 253px,#fbfce4 261px,#fcfcde 264.5px,#fbfce6 267.5px,#eff3fc 273.5px,#d4ddfa 277px,#a0b5f5 280.5px,#718ff2 283.5px,#5a7af1)"></i><i style="background:linear-gradient(#edaf3d,#efb63f 76.5px,#f2c543 110.5px,#f5d74a 130.5px,#fbf25f 150.5px,#fdfb6a 156.5px,#fefd9b 168px,#fafbe9 184px,#ecf1fd 193.5px,#ccd8f9 201.5px,#728ff2 216.5px,#5d7df1 223.5px,#5a7af1 229px,#6584f1 234.5px,#7894f3 238.5px,#b4c4f7 245.5px,#d6dffa 249.5px,#eff3fd 254px,#fbfce4 262px,#fbfcdf 265.5px,#f7f9ef 271px,#eff3fd 274.5px,#d2dbfa 278px,#7491f2 284px,#5f7ff1)"></i><i style="background:linear-gradient(#edae3d,#eeb53f 77px,#f1c443 111.5px,#f5d64a 131.5px,#fbf25f 151.5px,#fdfb6a 157.5px,#fefd9c 169px,#fafbea 185px,#edf1fd 194px,#ced9fa 202px,#7390f2 217px,#5d7df1 224px,#5979f1 229.5px,#6382f1 235px,#7894f3 239.5px,#b9c8f8 247px,#d3ddfa 250px,#eff3fc 255px,#fbfce5 263px,#fbfce0 266.5px,#f7f9ef 272px,#edf1fd 275.5px,#ced9fa 279px,#718ef2 285px,#6685f1)"></i><i style="background:linear-gradient(#edad3d,#eeb33e 77px,#f1c242 111.5px,#f5d64a 133px,#fbf25f 153px,#fdfb6a 158.5px,#fefd9c 170px,#fbfce9 185.5px,#ecf1fd 195px,#ccd8f9 203px,#728ff2 218px,#5c7cf1 225px,#5879f1 230.5px,#6382f1 236px,#7895f3 240.5px,#b9c8f8 248px,#d4ddfa 251px,#eff3fc 256px,#fbfce5 264px,#fbfce1 267.5px,#f6f8f0 273px,#ebf0fd 276.5px,#d2dcfa 279.5px,#849ef3 284.5px,#6e8cf2)"></i><i style="background:linear-gradient(#ecab3c,#eeb23e 77.5px,#f1c142 112px,#f5d64a 134.5px,#fbf25f 154px,#fdfb69 159.5px,#fefd9c 171px,#fafbe9 186.5px,#edf2fd 195.5px,#ced9fa 203.5px,#7390f2 218.5px,#5c7cf1 225.5px,#5778f0 231px,#6181f1 236.5px,#7592f2 241px,#acbef6 247.5px,#d4defa 252px,#eff3fc 257px,#fbfce5 265px,#fbfce1 268.5px,#f6f8f1 274px,#eef2fd 277px,#d0dafa 280.5px,#7894f3)"></i><i style="background:linear-gradient(#ecaa3c,#eeb13e 78px,#f1c042 112.5px,#f5d549 135.5px,#fbf25f 155px,#fdfb69 160.5px,#fefd9d 172px,#fafbea 187.5px,#edf1fd 196.5px,#cdd8f9 204.5px,#718ff2 219.5px,#5b7cf1 226.5px,#5778f0 232px,#6180f1 237.5px,#7592f2 242px,#b1c2f7 249px,#d5defa 253px,#f0f3fc 258px,#fbfce5 266px,#fbfce2 269.5px,#f6f8f1 275px,#edf1fd 278px,#cdd8f9 281.5px,#869ff4)"></i><i style="background:linear-gradient(#eca93c,#edaf3d 78.5px,#f0be41 113px,#f5d549 137px,#fbf25f 156.5px,#fdfb69 161.5px,#fefd9d 173px,#fafbea 188.5px,#ecf1fd 197.5px,#cbd7f9 205.5px,#728ff2 220px,#5b7cf1 227px,#5677f0 232.5px,#5f7ff1 238px,#7592f2 243px,#b1c2f7 250px,#d5defa 254px,#f0f4fb 259px,#fbfce4 267px,#fbfce2 270.5px,#f5f8f2 276px,#ecf0fd 279px,#d2dcfa 282px,#94abf4)"></i><i style="background:linear-gradient(#eca73b,#edae3d 79px,#f0bd41 113.5px,#f5d549 138.5px,#fbf25f 157.5px,#fdfb6a 163px,#fefda0 174.5px,#fafce9 189px,#edf1fd 198px,#cdd8f9 206px,#718ef2 221px,#5b7bf1 228px,#5576f0 233.5px,#5f7ff1 239px,#7592f2 244px,#b2c3f7 251px,#d5defa 255px,#eff3fd 259.5px,#fbfce6 267.5px,#fbfce1 271px,#f6f8f0 276.5px,#eff3fd 279.5px,#d1dbfa 283px,#a3b7f6)"></i><i style="background:linear-gradient(#eba63b,#edad3d 79.5px,#f0bc40 114.5px,#f5d549 140px,#fbf360 159px,#fdfb6a 164px,#fefd9d 175px,#fafbea 190px,#ecf1fd 199px,#ccd7f9 207px,#728ff2 221.5px,#5b7bf1 228.5px,#5576f0 234.5px,#5e7ef1 240px,#7592f2 245px,#b2c3f7 252px,#d6dffa 256px,#eff3fd 260.5px,#fbfce5 268.5px,#fbfce1 272px,#f6f8f0 277.5px,#eef2fd 280.5px,#d0dafa 284px,#b2c2f7)"></i><i style="background:linear-gradient(#eba53a,#ecab3c 80px,#efba40 115px,#f4d247 138.5px,#faee5c 158px,#fdfb6a 165px,#fefd9d 176px,#fafbea 191px,#ecf1fd 200px,#ced9fa 207.5px,#718ef2 222.5px,#5a7af1 229.5px,#5475f0 235.5px,#5e7ef1 241px,#7592f2 246px,#b2c3f7 253px,#d6dffa 257px,#eff3fc 261.5px,#fbfce4 269.5px,#fbfcdf 272.5px,#f7f9ef 278px,#eef2fd 281.5px,#d0dafa 285px,#c0cef8)"></i><i style="background:linear-gradient(#eba33a,#ecaa3c 80.5px,#efb940 115.5px,#f4d046 138.5px,#faed5b 158.5px,#fdfb69 166px,#fefd9d 177px,#fafbea 192px,#edf2fd 200.5px,#cdd8f9 208.5px,#728ff2 223px,#597af1 230.5px,#5375f0 236.5px,#5e7ef1 242px,#7592f2 247px,#b7c7f7 254.5px,#d6dffa 258px,#eff3fc 262.5px,#fbfce5 270px,#fbfcde 273.5px,#f7f9ee 279px,#eef2fd 282.5px,#cfdafa)"></i><i style="background:linear-gradient(#eba23a,#eca93c 81px,#efb73f 116px,#f3ce45 139px,#f9ea59 158px,#fdfb68 167px,#fefd9d 178px,#fbfce9 192.5px,#edf1fd 201.5px,#ccd7f9 209.5px,#718ff2 224px,#5879f1 231.5px,#5374f0 237px,#5c7cf1 242.5px,#7591f2 248px,#b8c7f7 255.5px,#d3ddfa 258.5px,#f0f3fc 263.5px,#fbfce3 271px,#fcfcdd 274.5px,#fbfce6 277.5px,#eff3fd 283.5px,#dae2fb)"></i><i style="background:linear-gradient(#eaa139,#eca73b 81.5px,#efb63f 116.5px,#f3cc45 139.5px,#f8e555 156.5px,#fdfb68 168px,#fefd9d 179px,#fafbe9 193.5px,#ecf1fd 202.5px,#ced9fa 210px,#708ef2 225px,#5979f1 232px,#5273f0 238px,#5b7cf1 243.5px,#7491f2 249px,#b8c7f7 256.5px,#d4ddfa 259.5px,#eff3fd 264px,#fbfce4 271.5px,#fcfcdb 275px,#fbfce2 278px,#f2f5f8 283.5px,#ebf0fd 285px,#e3e9fc)"></i><i style="background:linear-gradient(#ea9f39,#eba63b 82px,#eeb43f 117px,#f3cb44 140px,#f7de50 153.5px,#fdfb67 169px,#fefd9d 180px,#fafbea 194.5px,#ecf0fd 203.5px,#cdd8f9 211px,#728ff2 225.5px,#5878f1 233px,#5173f0 239px,#5b7bf1 244.5px,#7491f2 250px,#b8c7f7 257.5px,#d4ddfa 260.5px,#eff3fd 265px,#fbfce3 272.5px,#fcfcda 276px,#fbfce0 279px,#f7f9ef 282.5px,#ecf1fd)"></i><i style="background:linear-gradient(#ea9e39,#eba43a 82.5px,#eeb33e 118px,#f3ca44 141px,#f6db4e 153.5px,#fdfb67 170px,#fefd9d 181px,#fafbea 195.5px,#edf2fd 204px,#ccd7f9 212px,#718ef2 226.5px,#5778f0 234px,#5172f0 240px,#5a7bf1 245.5px,#7491f2 251px,#b3c4f7 258px,#d4ddfa 261.5px,#eff3fd 266px,#fbfce3 273px,#fcfcd8 276.5px,#fcfcdb 279.5px,#f8faee 283.5px,#f1f5f9)"></i><i style="background:linear-gradient(#e99c38,#eba33a 83px,#eeb13e 118.5px,#f2c844 141.5px,#f6d94c 153.5px,#fdfa65 170.5px,#fefc8c 179px,#fafbea 196.5px,#edf1fd 205px,#ccd7f9 213px,#708ef2 227.5px,#5677f0 235px,#5072f0 241px,#5a7af1 246.5px,#7390f2 252px,#b3c4f7 259px,#d4defa 262.5px,#eff3fc 267px,#fbfce4 273.5px,#fcfcd6 277px,#fcfcd7 280px,#f7f9ef 285px,#f5f7f3)"></i><i style="background:linear-gradient(#e99b38,#eaa13a 83.5px,#edb03d 119px,#f2c643 142px,#f6d84c 154.5px,#fdf965 171.5px,#fdfc83 178.5px,#fafbea 197.5px,#edf1fd 206px,#cbd6f9 214px,#728ff2 228px,#5778f0 235.5px,#4f71f0 241.5px,#5878f1 247px,#708df2 252.5px,#96acf5 257px,#d4defa 263.5px,#eff3fc 268px,#fbfce6 274px,#fcfcd5 277.5px,#fcfcd3 280.5px,#fbfce0 283.5px,#f9fbec 285.5px,#f8faed)"></i><i style="background:linear-gradient(#e99a38,#eaa039 84px,#edae3d 119.5px,#f1c443 142.5px,#f5d74b 155px,#fcf863 172px,#fdfb6d 175px,#fefda4 185.5px,#fafbea 198.5px,#edf1fd 207px,#ced9fa 214.5px,#718ef2 229px,#5677f0 236.5px,#4f71f0 242.5px,#5778f0 248px,#6f8df2 253.5px,#95acf5 258px,#d4defa 264.5px,#f0f3fc 269px,#fbfce4 275px,#fcfcd2 278.5px,#fcfcd0 281.5px,#fcfcdd 284.5px,#fbfce8)"></i><i style="background:linear-gradient(#e99838,#ea9f39 85px,#edad3d 120.5px,#f1c342 143.5px,#f5d74a 156.5px,#fdf864 173.5px,#fdfb71 177px,#fefda9 187.5px,#fafbea 199.5px,#ecf1fd 208px,#cdd8f9 215.5px,#718ef2 230px,#5677f0 237.5px,#4e70f0 243.5px,#5576f0 248.5px,#6c8af2 254px,#829cf3 257px,#d4defa 265.5px,#eef2fd 269.5px,#fbfce5 275.5px,#fcfcd1 279px,#fcfccc 282px,#fcfcd6 285px,#fcfcdc)"></i><i style="background:linear-gradient(#e89737,#ea9d38 85.5px,#ecab3c 121px,#f1c142 144px,#f5d74a 158px,#fdf964 175px,#fdfc74 179px,#fafbea 200.5px,#ecf1fd 209px,#cdd8f9 216.5px,#708ef2 231px,#5576f0 238.5px,#4e6ff0 244px,#5374f0 249px,#6987f2 254.5px,#7d98f3 257.5px,#d4defa 266.5px,#eff3fd 270.5px,#fbfce7 276px,#fcfcd0 279.5px,#fdfdc9 282.5px,#fcfccf 285.5px,#fcfcd2)"></i><i style="background:linear-gradient(#e89537,#e99c38 86px,#ecaa3c 122px,#f1c042 145px,#f5d64a 159px,#fdf864 176px,#fdfb71 179.5px,#fefdab 190px,#fafbea 201.5px,#ecf1fd 210px,#cdd8f9 217.5px,#708df2 232px,#5476f0 239.5px,#4d6ff0 245px,#5274f0 250px,#6887f2 255.5px,#7c98f3 258.5px,#d4defa 267.5px,#eff3fd 271.5px,#fbfce5 277px,#fcfcce 280.5px,#fdfdc5 283.5px,#fdfdc9)"></i><i style="background:linear-gradient(#e89437,#e99a38 86.5px,#eca83b 122.5px,#f0bf41 146px,#f5d64a 160.5px,#fcf863 177px,#fdfb6d 180px,#fefda7 190.5px,#fafbea 202.5px,#ecf1fd 211px,#cdd8f9 218.5px,#6f8df2 233px,#5475f0 240.5px,#4c6ef0 246px,#5273f0 251px,#6584f1 256px,#7b97f3 259.5px,#d4defa 268.5px,#eff3fd 272.5px,#fbfce8 277.5px,#fcfccd 281px,#fdfdc2 284px,#fdfdc2)"></i><i style="background:linear-gradient(#e79237,#e99938 87.5px,#eca73b 123.5px,#f0bd41 146.5px,#f5d64a 162px,#fdf864 178.5px,#fdfb71 182px,#fefdad 192.5px,#fafbe9 203.5px,#edf1fd 212px,#cdd8f9 219.5px,#718ff2 233.5px,#5576f0 241px,#4c6ef0 246.5px,#5173f0 252px,#6483f1 257px,#7a96f3 260.5px,#d4defa 269.5px,#eff3fd 273.5px,#fbfce6 278.5px,#fcfcca 282px,#fdfdbe 285px,#fdfdbd)"></i><i style="background:linear-gradient(#e79136,#e89737 88px,#eba53b 124px,#f0bc41 147.5px,#f5d64a 163.5px,#fdf964 180px,#fdfb70 183px,#fefdac 193.5px,#fbfce9 204.5px,#edf1fd 213px,#cdd8f9 220.5px,#718ff2 234.5px,#5476f0 242px,#4b6df0 248px,#5173f0 253.5px,#6584f1 258.5px,#7995f3 261.5px,#d4ddfa 270.5px,#eff3fd 274.5px,#fbfce5 279.5px,#fdfdc8 283px,#fdfdba)"></i><i style="background:linear-gradient(#e78f36,#e89637 88.5px,#eba33a 124.5px,#efba40 148px,#f5d649 165px,#fdf964 181.5px,#fdfc7b 186.5px,#fbfce9 205.5px,#edf1fd 214px,#cdd8f9 221.5px,#718ff2 235.5px,#5475f0 243px,#4b6df0 249px,#5172f0 254.5px,#6484f1 259.5px,#7894f3 262.5px,#cad5f9 270.5px,#e9eefd 274.5px,#f0f4fa 276px,#fbfce8 280px,#fdfdc5 284px,#fdfdba)"></i><i style="background:linear-gradient(#e68e36,#e89437 89.5px,#eba23a 125.5px,#efb840 149px,#f5d549 166.5px,#fdf864 182.5px,#fdfb72 186px,#fbfce9 206.5px,#edf2fd 215px,#ced8f9 222.5px,#718ff2 236.5px,#5475f0 244px,#4a6cf0 250px,#5071f0 255.5px,#6383f1 260.5px,#7b96f3 264px,#d6dffa 273px,#eff3fd 276.5px,#fbfce7 281px,#fdfdc2 285px,#fdfdbb)"></i><i style="background:linear-gradient(#e68c36,#e79237 90px,#eaa139 126.5px,#efb73f 150px,#f5d549 168px,#fdf864 184px,#fdfb70 187px,#fefdab 197px,#fafbe9 208px,#ecf0fd 216.5px,#ced9fa 223.5px,#6f8df2 238px,#5274f0 245.5px,#4a6bf0 251.5px,#5072f0 257px,#6584f1 262px,#7995f3 265px,#d6dffa 274px,#eff3fd 277.5px,#fbfce6 282px,#fdfdbf)"></i><i style="background:linear-gradient(#e68b35,#e79136 91px,#ea9f39 127.5px,#eeb53f 151px,#f5d549 169.5px,#fdf964 185.5px,#fdfc76 189.5px,#fbfce9 209px,#ecf1fd 217.5px,#ccd7f9 225px,#6f8df2 239px,#5274f0 246.5px,#496bf0 252.5px,#4f71f0 258px,#6483f1 263px,#7c97f3 266.5px,#d5defa 275px,#eff3fd 278.5px,#fbfce5 283px,#fdfdc5)"></i><i style="background:linear-gradient(#e58935,#e78f36 91.5px,#ea9d39 128px,#eeb33e 151.5px,#f5d64a 171.5px,#fdfa65 187.5px,#fefc9a 197px,#fbfce8 210px,#edf1fd 218.5px,#ccd8f9 226px,#708df2 240px,#5274f0 247.5px,#496af0 253.5px,#4e70f0 259px,#6281f1 264px,#7a95f3 267.5px,#d4ddfa 276px,#eef3fd 279.5px,#fbfce5 284px,#fcfcce)"></i><i style="background:linear-gradient(#e58835,#e68e36 92.5px,#e99c38 129px,#eeb23e 152.5px,#f4d046 170px,#fcf460 186.5px,#fdfb6a 190px,#fefda5 200px,#fbfce9 211.5px,#ecf0fd 220px,#ced8f9 227px,#708ef2 241px,#5274f0 248.5px,#486af0 254.5px,#4d6ff0 260px,#6180f1 265px,#7794f3 268.5px,#c8d4f9 276px,#dee6fb 278.5px,#f0f4fb 281px,#fbfce5 285px,#fcfcd8)"></i><i style="background:linear-gradient(#e58635,#e68c36 93px,#e99a38 130px,#edb03d 153.5px,#f3ce45 171px,#fbf15e 187px,#fdfb68 191px,#fefda3 201px,#fafbea 213px,#edf1fd 221px,#cbd7f9 228.5px,#718ef2 242px,#5172f0 250px,#4869f0 256px,#4d6ff0 261.5px,#6281f1 266.5px,#7995f3 270px,#d5dffa 278.5px,#eff3fc 282px,#fbfce5)"></i><i style="background:linear-gradient(#e48534,#e68b35 94px,#e99938 131px,#edae3d 154.5px,#f3cc45 172px,#faeb59 186px,#fdfb68 192.5px,#fefda4 202.5px,#fbfce9 214px,#eef2fd 222px,#cdd8f9 229.5px,#6f8df2 243.5px,#5173f0 251px,#4769ef 257px,#4c6ef0 262.5px,#607ff1 267.5px,#7793f2 271px,#c3d0f9 278px,#d8e0fb 280px,#eff3fd 283px,#f9faec)"></i><i style="background:linear-gradient(#e48334,#e58935 95px,#e89737 132px,#edad3d 155.5px,#f3cb44 173px,#f7e051 183px,#fdfb68 194px,#fefda5 204px,#fafbea 215.5px,#edf1fd 223.5px,#cbd6f9 231px,#708df2 244.5px,#5072f0 252.5px,#4768ef 258.5px,#4c6ef0 264px,#6180f1 269px,#7895f3 272.5px,#c6d3f9 279.5px,#dae2fb 281.5px,#eef2fd 284px,#f5f7f3)"></i><i style="background:linear-gradient(#e48234,#e58735 95.5px,#e89537 132.5px,#ecaa3c 156px,#f2c944 174px,#f6dc4e 183px,#fdfb68 195.5px,#fefda5 205.5px,#fafbea 217px,#ecf0fd 225px,#cdd8f9 232px,#6f8cf2 246px,#5072f0 253.5px,#4668ef 259.5px,#4b6df0 265px,#5c7cf1 269.5px,#7592f2 273.5px,#bdcbf8 280px,#d4ddfa 282px,#eff3fc 285.5px,#f1f5f9)"></i><i style="background:linear-gradient(#e38034,#e58634 96.5px,#e89337 133.5px,#eca93c 157px,#f2c743 175px,#f6d94c 183.5px,#fdfb68 197px,#fefda6 207px,#fbfce9 218px,#edf1fd 226px,#cbd7f9 233.5px,#708df2 247px,#4f71f0 255px,#4667ef 261px,#4b6df0 266.5px,#5c7cf1 271px,#7693f2 275px,#bfcdf8 281.5px,#d6dffa 283.5px,#eaeffd)"></i><i style="background:linear-gradient(#e37e33,#e48434 97.5px,#e79236 135px,#eca73b 158.5px,#f2c543 176px,#f5d84b 184.5px,#fdfb68 198.5px,#fefda6 208.5px,#fafbe9 219.5px,#ecf1fd 227.5px,#ced8f9 234.5px,#6f8cf2 248.5px,#5072f0 256px,#4567ef 262px,#4a6bf0 267.5px,#5a7af1 272px,#7794f3 276.5px,#c1cff8 283px,#d7e0fb 285px,#e0e7fc)"></i><i style="background:linear-gradient(#e37d33,#e48334 98.5px,#e79036 136px,#eba63b 159.5px,#f1c443 177.5px,#f5d74b 186px,#fdfb67 200px,#fefda6 210px,#fafbea 221px,#ecf1fd 229px,#cdd8f9 236px,#708ef2 249.5px,#4f71f0 257.5px,#4566ef 263.5px,#496bf0 269px,#5a7af1 273.5px,#7894f3 278px,#c3d0f9 284.5px,#d4defa)"></i><i style="background:linear-gradient(#e27b33,#e48134 99.5px,#e78e36 137px,#eba43a 161px,#f1c242 178.5px,#f5d64a 187.5px,#fdfb67 201.5px,#fefda6 211.5px,#fafbea 222.5px,#ecf0fd 230.5px,#ccd7f9 237.5px,#6f8df2 251px,#4e70f0 259px,#4466ef 265px,#496bf0 270.5px,#5a7af1 275px,#7390f2 279px,#b8c7f7 285px,#c4d1f9)"></i><i style="background:linear-gradient(#e27a32,#e37f33 100.5px,#e68d36 138px,#eba23a 162px,#f1c042 179.5px,#f5d74a 189.5px,#fdfb66 203px,#fefda2 212.5px,#fafbea 224px,#eef2fd 231.5px,#ccd7f9 239px,#6f8df2 252.5px,#4f71f0 260px,#4465ef 266px,#4869f0 271.5px,#5778f0 276px,#7390f2 280.5px,#b2c3f7)"></i><i style="background:linear-gradient(#e27832,#e37e33 101.5px,#e68b35 139.5px,#eaa13a 163.5px,#f0be41 181px,#f5d74b 191.5px,#fdfb67 205px,#fefda8 215px,#fafbe9 225.5px,#eef2fd 233px,#cbd7f9 240.5px,#6f8cf2 254px,#4f71f0 261.5px,#4465ef 267.5px,#4769ef 273px,#5677f0 277.5px,#7390f2 282px,#a0b4f5)"></i><i style="background:linear-gradient(#e17632,#e37c33 102.5px,#e58935 140.5px,#ea9f39 164.5px,#f0bd41 182.5px,#f5d64a 193px,#fdfb66 206.5px,#fefda3 216px,#fafce9 227px,#ecf0fd 235px,#ccd7f9 242px,#6e8cf2 255.5px,#4e70f0 263px,#4364ef 269px,#4668ef 274.5px,#5677f0 279px,#728ff2 283.5px,#8da5f4)"></i><i style="background:linear-gradient(#e17532,#e27a33 103.5px,#e58735 141.5px,#ea9d38 165.5px,#f0ba40 183.5px,#f5d64a 195px,#fdfb67 208.5px,#fefda9 218.5px,#fbfce9 228.5px,#ecf1fd 236.5px,#ccd7f9 243.5px,#6e8cf2 257px,#4e70f0 264.5px,#4364ef 270.5px,#4667ef 276px,#5576f0 280.5px,#718ff2 285px,#7b96f3)"></i><i style="background:linear-gradient(#e17331,#e27832 105px,#e58634 143px,#e99b38 167px,#efb940 185px,#f5d64a 197px,#fdfb68 210.5px,#fefda7 220px,#fafbea 230.5px,#edf1fd 238px,#cdd8f9 245px,#6f8cf2 258.5px,#4e70f0 266px,#4264ef 272px,#4566ef 277.5px,#5475f0 282px,#6c8af2)"></i><i style="background:linear-gradient(#e07131,#e17732 106px,#e48434 144.5px,#e99938 168.5px,#efb73f 186.5px,#f5d64a 199px,#fdfb66 212px,#fefda5 221.5px,#fbfce9 232px,#edf2fd 239.5px,#ced9fa 246.5px,#6f8df2 260px,#4d6ff0 268px,#4263ef 274px,#4567ef 279.5px,#5576f0 284px,#6080f1)"></i><i style="background:linear-gradient(#e07031,#e17532 107.5px,#e48234 146px,#e89837 170px,#eeb53f 188px,#f5d64a 201px,#fdfb66 214px,#fefda6 223.5px,#fafbea 234px,#ecf1fd 241.5px,#ccd7f9 248.5px,#708ef2 261.5px,#4d6ff0 269.5px,#4163ef 275.5px,#4466ef 281px,#5374f0 285.5px,#5677f0)"></i><i style="background:linear-gradient(#e06e31,#e17331 108.5px,#e38034 147px,#e89537 171px,#eeb23e 189px,#f5d549 203px,#fdfb66 216px,#fefda7 225.5px,#fbfce9 235.5px,#eef2fd 243px,#ced8fa 250px,#6f8cf2 263.5px,#4e6ff0 271px,#4162ef 277px,#4364ef 282.5px,#4d6ff0)"></i><i style="background:linear-gradient(#df6c30,#e07231 110px,#e37e33 148.5px,#e89337 172.5px,#edb03e 190.5px,#f5d549 205px,#fdfb66 218px,#fefda7 227.5px,#fbfce9 237.5px,#edf1fd 245px,#ccd8f9 252px,#708ef2 265px,#4d6ff0 273px,#4062ef 279px,#4364ef 284.5px,#4668ef)"></i><i style="background:linear-gradient(#df6b30,#e07031 111.5px,#e37d33 150.5px,#e79236 174.5px,#edaf3d 192.5px,#f5d549 207.5px,#fdfb66 220px,#fefda3 229px,#fafbe9 239.5px,#edf1fd 247px,#ccd7f9 254px,#6f8df2 267px,#4c6ef0 275px,#4061ef 281px,#4263ef)"></i><i style="background:linear-gradient(#de6930,#e06e31 113px,#e27b33 152px,#e79036 176px,#edad3d 194px,#f5d549 209.5px,#fdfb67 222.5px,#fefdaa 232px,#fbfce9 241.5px,#edf1fd 249px,#cbd7f9 256px,#6f8cf2 269px,#4d6ff0 276.5px,#4061ef 282.5px,#3f60ef)"></i><i style="background:linear-gradient(#de672f,#df6c30 114.5px,#e27932 153.5px,#e68e36 178px,#ecab3c 196px,#f5d549 212px,#fdfb66 224.5px,#fefda9 234px,#fbfce9 243.5px,#edf1fd 251px,#ccd7f9 258px,#6f8cf2 271px,#4d6ff0 278.5px,#3f61ef 284.5px,#3e5fef)"></i><i style="background:linear-gradient(#de652f,#df6b30 117px,#e27832 156px,#e68c36 180px,#ecaa3c 198px,#f4cf46 212.5px,#fdfa65 226.5px,#fefc98 234px,#fdfdbf 239.5px,#fafbea 246px,#edf2fd 253px,#ccd7f9 260px,#6f8df2 273px,#4d6ff0 280.5px,#4061ef)"></i><i style="background:linear-gradient(#dd632f,#de6830 116.5px,#e17532 156.5px,#e58935 181px,#eba63b 199px,#f3ca44 213.5px,#f8e354 222px,#fdfb68 229.5px,#fefdad 239px,#fbfce9 248px,#ecf1fd 255.5px,#ced8fa 262px,#708df2 275px,#4c6df0 283px,#4365ef)"></i><i style="background:linear-gradient(#dd612f,#de662f 113.5px,#e07231 156px,#e58634 181.5px,#eba23a 200px,#f2c743 215px,#f6da4d 221.5px,#fdfb68 232px,#fdfdc5 245px,#fafbea 250.5px,#eef2fd 257.5px,#ccd7f9 264.5px,#6e8cf2 277.5px,#4c6ef0 285px,#496bf0)"></i><i style="background:linear-gradient(#dc5f2f,#dd642f 115.5px,#e07131 160px,#e58534 185px,#eba13a 203px,#f2c643 217.5px,#f6d94c 224px,#fdfb67 234.5px,#fdfdc5 247.5px,#fafbea 253px,#edf1fd 260px,#cbd7f9 267px,#708ef2 279.5px,#5172f0)"></i><i style="background:linear-gradient(#dc5c2e,#dd612f 117px,#e07031 163px,#e48434 187.5px,#eaa039 205.5px,#f2c543 220px,#f6d84c 226.5px,#fdfb66 237px,#fefdad 246.5px,#fafbea 255.5px,#edf1fd 262.5px,#cbd6f9 269.5px,#708df2 282px,#5b7cf1)"></i><i style="background:linear-gradient(#db5a2e,#dc5f2f 119px,#e06e30 165.5px,#e48234 190px,#ea9e39 208px,#f1c342 222.5px,#f6d94c 229.5px,#fdfb67 240px,#fdfdc3 252.5px,#fafce9 258px,#eef2fd 265px,#ccd7f9 272px,#708ef2 284.5px,#6887f2)"></i><i style="background:linear-gradient(#db582e,#dc5d2e 121.5px,#df6b30 165.5px,#e37e33 191px,#e99a38 209.5px,#f1bf42 224.5px,#f5d74b 232px,#fdfb68 243px,#fdfdc1 255px,#fbfce8 260.5px,#edf1fd 268px,#cdd8f9 274.5px,#7794f3)"></i><i style="background:linear-gradient(#db552e,#db5a2e 123.5px,#de672f 165px,#e27a33 191.5px,#e89537 210.5px,#efb940 225.5px,#f5d549 234.5px,#fdfb68 246px,#fdfdc1 258px,#fbfce9 263.5px,#ecf1fd 271px,#ccd7f9 277.5px,#8da5f4)"></i><i style="background:linear-gradient(#da532e,#db582e 126px,#dd642f 166px,#e27832 194px,#e79337 213px,#efb63f 228px,#f5d64a 238px,#fdfb66 249px,#fdfdc1 261px,#fbfce9 266.5px,#ecf1fd 274px,#ccd7f9 280.5px,#a4b8f6)"></i><i style="background:linear-gradient(#da512e,#db552e 128.5px,#dd622f 169px,#e27732 198px,#e79337 217px,#efb73f 232px,#f5d64a 241.5px,#fdfb67 252.5px,#fdfdc2 264.5px,#fafbe9 270px,#edf1fd 277px,#cdd8f9 283.5px,#bbcaf8)"></i><i style="background:linear-gradient(#d94e2d,#da532e 131.5px,#dd5f2f 172px,#e17732 202.5px,#e79337 221px,#efb73f 236px,#f5d549 245px,#fdfb67 256px,#fdfdc3 268px,#fafbea 273.5px,#ecf1fd 280.5px,#d3dcfa)"></i><i style="background:linear-gradient(#d94c2d,#da502d 134px,#dc5d2e 175px,#e17632 206.5px,#e79236 225px,#efb63f 239.5px,#f5d64a 249px,#fdfb66 259.5px,#fefda8 268px,#fafce9 277px,#edf1fd 284px,#e3eafc)"></i><i style="background:linear-gradient(#d84a2d,#d94e2d 137.5px,#dc5a2e 178.5px,#e17532 211px,#e79136 229px,#eeb53f 243.5px,#f5d549 253px,#fdfb66 263.5px,#fdfdc3 275.5px,#fafbea 281px,#f1f5f9)"></i><i style="background:linear-gradient(#d8472d,#d94b2d 140.5px,#db582e 182px,#e07131 213px,#e68c36 231.5px,#eeb13e 246.5px,#f5d64a 257.5px,#fdfb68 268px,#fdfdbe 279px,#fafbea 285px,#f9faec)"></i><i style="background:linear-gradient(#d7452d,#d8492d 144.5px,#db552e 186px,#df6c30 215px,#e58735 234px,#ecaa3c 249px,#f5d549 262px,#fdfb68 272.5px,#fdfdbf 283.5px,#fcfcd1)"></i><i style="background:linear-gradient(#d7422c,#d8472d 148.5px,#da532e 190.5px,#de6830 217px,#e48234 236.5px,#eba43a 252px,#f4cf45 265px,#fdfb66 277px,#fefdaa 285.5px,#fefdae)"></i><i style="background:linear-gradient(#d6402c,#d7442d 152.5px,#d9502d 194.5px,#dd642f 220px,#e37f33 241px,#eaa139 256.5px,#f3cb45 269.5px,#faeb5a 278.5px,#fdfb67 282.5px,#fdfc82)"></i><i style="background:linear-gradient(#d63d2c,#d7412c 157.5px,#d94d2d 200px,#dd612f 225px,#e37e33 247px,#eaa139 262.5px,#f3cc45 275.5px,#fbf05e 285.5px,#fbf25f)"></i><i style="background:linear-gradient(#d53b2c,#d63f2c 162.5px,#d84b2d 205.5px,#dc5f2f 231px,#e37e33 254px,#eaa039 269px,#f3cc45 282px,#f6db4d)"></i><i style="background:linear-gradient(#d5382c,#d63c2c 168.5px,#d8482d 211.5px,#dc5b2e 237px,#e37d33 261px,#ea9f39 276px,#f1c042)"></i><i style="background:linear-gradient(#d4362b,#d53a2c 175.5px,#d7452d 219px,#db592e 244.5px,#e37d33 269.5px,#eaa039 284.5px,#eba53b)"></i><i style="background:linear-gradient(#d4332b,#d5372c 183px,#d7432c 227px,#db562e 252.5px,#e27b33 278px,#e68c35)"></i><i style="background:linear-gradient(#d3312b,#d4342b 192px,#d6402c 236.5px,#da532e 262.5px,#e17532)"></i><i style="background:linear-gradient(#d32e2b,#d3322b 203px,#d63d2c 248px,#da502d 274px,#dd602f)"></i><i style="background:linear-gradient(#d22c2b,#d32f2b 217px,#d53a2c 262.5px,#d84b2d)"></i><i style="background:linear-gradient(#d2292a,#d22c2b 236px,#d5372c 281.5px,#d53a2c)"></i><i style="background:linear-gradient(#d1262a,#d22a2a 263.5px,#d32d2b)"></i><i style="background:linear-gradient(#d1242a,#d1252a)"></i><i class="n" style="opacity:.5;background:linear-gradient(#d1242a,#d1252a)"></i></div><svg class="b" style="left:47px;top:318px" width="286" height="286" viewBox="0 0 286 286" shape-rendering="geometricPrecision"><path fill="#fefda4" d="M0,0 286,0 286,286 261.2,286 261,284 260,283 260,282 259.3,281.3 259,280 251,264 248,259 239,246.1 231,236.3 221,225.8 209,215.2 196,205.3 183,196.8 170,189.1 156,181.7 141,174.3 123,166.3 104,158.5 86,151.6 43,136.9 42,124.8 0,108.2Z"/><path fill="#fefc9a" d="M0,0 286,0 286,286 261.7,286 255.6,272 249,259.8 241.3,248 233,237.3 224,227.4 213,217.2 201,207.5 188,198.4 174,189.8 159,181.5 143,173.4 126,165.6 107,157.5 87,149.6 43,133.9 42,118.7 0,99.3Z"/><path fill="#fefc90" d="M0,0 286,0 286,286 262.1,286 256,271.7 249,258.6 241,246.3 232,234.8 222,224.1 211,214 198,203.8 184,194.2 171,186.3 157,178.6 141,170.5 124,162.6 88,147.4 43,130.6 42,111.3 35.4,108 14.1,96 0,87.3Z"/><path fill="#fdfc86" d="M0,0 286,0 286,286 262.6,286 256.7,272 250,259 242,246.4 233,234.6 223,223.7 212,213.4 200,203.7 185,193.2 173,185.7 159,177.8 143,169.4 127,161.7 90,145.5 43,127 42,101.9 34,96.8 16.8,84 9.6,78 0,68.7Z"/><path fill="#fdfc7c" d="M0,0 286,0 286,286 263.1,286 257.3,272 250.7,259 243,246.5 234,234.4 224,223.2 213,212.7 201,202.8 187,192.8 174,184.5 160,176.3 145,168.3 129,160.3 92,143.4 43,123 42,88.9 33.4,81 22.8,69 15.6,59 9.5,48 4.7,36 0,20.3Z"/><path fill="#fdfb72" d="M21.5,0 286,0 286,286 263.5,286 257.9,272 251,258.2 243.6,246 235,234.2 225,222.8 214,212 202,201.9 188,191.6 176,183.8 162,175.4 132,159.3 97,142.5 43,118.4 42.3,98 42,67.2 38.2,61 34.6,54 31.2,46 28.5,38 24.4,21Z"/><path fill="#fdfb68" d="M42,0 286,0 286,286 264,286 258.5,272 252,258.6 244.5,246 236,234 227,223.4 216,212.2 204,201.8 190,191.2 179,183.7 167,176.2 139,160.4 108,144.6 43,113.2 42.2,76Z"/><path fill="#fcf662" d="M42.2,0 286,0 286,286 264.4,286 259,271.8 252.4,258 245,245.3 237,233.8 228,222.9 217,211.5 205,200.8 192,190.7 171,176.4 144,160.4 118,146.4 62.9,118 43,107.1 42.4,71Z"/><path fill="#fbf15e" d="M42.4,0 286,0 286,286 264.9,286 259.7,272 253.2,258 246,245.3 238,233.6 229,222.3 219,211.7 208,201.5 195,190.9 176,177.4 154,163.5 130,149.7 71,117 55.9,108 43,99.7Z"/><path fill="#faeb5a" d="M42.5,0 286,0 286,286 265.4,286 260.3,272 254.4,259 247.4,246 240,234.7 232,224.2 222,212.9 211,202.2 199,191.9 181,178.4 160,164.5 139,151.6 92.1,124 71.3,111 55.3,100 43,90.3Z"/><path fill="#f8e555" d="M42.7,0 286,0 286,286 265.9,286 261.3,273 255.7,260 249.5,248 242,235.9 234,224.9 225,214.3 215,204 204,193.9 188,181.1 169,167.6 149,154.5 100.6,124 78.6,109 68,101 58.5,93 51.1,86 43.7,78 43,77.2Z"/><path fill="#f7df51" d="M42.9,0 286,0 286,286 266.3,286 261.5,272 256.4,260 250,247.3 243.2,236 235.5,225 227,214.6 218,204.9 207,194.4 192,181.7 174,168.2 114.6,128 93.7,113 83.7,105 75.6,98 67.3,90 61,83 55.4,76 50.6,69 46.5,62 43,54.9Z"/><path fill="#f6da4d" d="M45.8,0 286,0 286,286 266.8,286 262.5,273 257.2,260 251.3,248 245,237 237.6,226 229,214.9 220,204.8 210,194.8 197,183.3 181,170.4 125,130 106.7,116 90.6,102 83.5,95 77.3,88 70.3,79 64.5,70 59.3,60 55.3,50 51.9,39 49.4,28 47.4,15Z"/><path fill="#f5d448" d="M60.6,0 286,0 286,286 267.3,286 263.4,274 259.2,263 254.3,252 249,241.9 243,231.9 237,223.1 230,214 222,204.7 208,190.5 191,175.5 175,162.6 133.6,131 116.6,117 101.7,103 90.2,90 83.7,81 78.2,72 73.4,62 69.6,52 66.5,41 64,29 62.1,16Z"/><path fill="#f3cd45" d="M74.7,0 286,0 286,286 267.8,286 264.4,275 260.4,264 256,253.8 251,243.6 246,234.8 240,225.3 233,215.6 226,206.9 213,192.8 197,177.6 182,164.8 143,133 127.1,119 113.2,105 102.5,92 96.4,83 90.8,73 86.4,63 83,53 80.1,42 77.8,30 76,16Z"/><path fill="#f2c643" d="M88.2,0 286,0 286,286 268.3,286 264.7,274 261.1,264 257,254.1 252.2,244 247.4,235 242,226.2 236,217.4 229,208.2 217,194.3 202,179.1 187,165.4 152.1,135 137.2,121 124.2,107 114.2,94 108.6,85 103.4,75 99.2,65 95.7,54 93.1,43 90.9,30 89.4,16Z"/><path fill="#f0bf41" d="M101.1,0 286,0 286,286 268.8,286 262.2,265 258.3,255 254,245.5 249,235.7 244,227.1 238,217.9 232,209.5 220,194.8 207,180.8 193,167.1 161.8,138 147.8,124 135.6,110 126.1,97 120.2,87 115.3,77 111.5,67 108.2,56 105.6,44 103.6,31 102.2,17Z"/><path fill="#efb83f" d="M113.5,0 286,0 286,286 269.4,286 263.3,266 259.6,256 255.3,246 246,228.1 235,211 224,196.6 211,181.7 199,169.1 170,140 157,126 145.6,112 136.8,99 131.3,89 126.8,79 123.2,69 120.2,58 117.8,46 115.9,33 114.5,18Z"/><path fill="#edb03e" d="M125.5,0 286,0 286,286 269.9,286 263.7,265 256.8,247 248,229.1 238,212.6 228,198.6 216,183.7 204,170.2 177.8,142 165.7,128 155.2,114 147,101 141.9,91 137.8,81 134.2,70 131.5,59 129.3,47 127.6,33 126.3,18Z"/><path fill="#eca93c" d="M136.9,0 286,0 286,286 270.4,286 264.8,266 258.2,248 250.4,231 241,214.4 232,200.8 221,186.1 210,172.7 185.3,144 174.2,130 164.4,116 156.9,103 152.1,93 148.3,83 145,72 142.5,61 140.5,49 138.9,35 137.8,19Z"/><path fill="#eba23a" d="M148,0 286,0 286,286 271,286 265.6,266 259.6,249 252.3,232 243.8,216 235,201.8 225,187.5 193.3,147 183,133 173.8,119 166.8,106 162.4,96 158.8,86 155.7,75 153.2,63 151.2,50 149.8,36Z"/><path fill="#e99a38" d="M158.7,0 286,0 286,286 271.5,286 266.7,267 260.7,249 254,232.7 246,216.6 239,204.5 230,190.4 200.2,149 190.7,135 182.3,121 175.9,108 171.9,98 168.3,87 165.5,76 163.3,64 161.6,51 160.3,37Z"/><path fill="#e79337" d="M169,0 286,0 286,286 272.1,286 267.7,268 262.5,251 256.4,235 249,218.9 242,205.7 234,192.2 206.8,151 198.7,138 191,124 185,111 181.3,101 178,90 175.2,78 173.2,66 171.7,53 170.4,38Z"/><path fill="#e68c35" d="M179,0 286,0 286,286 272.7,286 268.8,269 264.2,253 258.5,237 252,221.5 245.4,208 238,194.3 213.8,154 206.4,141 199.3,127 193.8,114 190.1,103 187.1,92 184.6,80 182.8,68 181.3,54 180.3,39Z"/><path fill="#e48434" d="M188.7,0 286,0 286,286 273.3,286 269.6,269 265.5,254 260.3,238 254.4,223 248.6,210 242,196.6 213.6,144 207.2,130 202.3,117 198.9,106 196.1,95 193.9,83 192.2,71 190.9,57 189.8,41Z"/><path fill="#e37d33" d="M198.1,0 286,0 286,286 273.9,286 270.6,270 266.6,254 262.3,240 257.4,226 252.6,214 246.3,200 220.6,147 214.8,133 210.4,120 207.3,109 204.8,98 202.8,86 201.2,73 199.1,43Z"/><path fill="#e17632" d="M207.2,0 286,0 286,286 274.6,286 271.5,270 268.2,256 264.3,242 259.5,227 250,202.4 227.7,151 222.5,137 218.2,123 215.4,112 213.1,100 211.3,88 209.9,75 208.1,44Z"/><path fill="#e06f31" d="M216.1,0 286,0 286,286 275.3,286 272.6,271 269.6,257 262.5,231 254.4,207 234,154 229.5,140 225.9,127 223.5,116 221.4,104 218.4,78 216.8,46Z"/><path fill="#de672f" d="M224.7,0 286,0 286,286 276,286 271.4,260 264.5,232 257.6,209 240.8,159 236.7,145 233.3,131 231,119 229.2,107 226.7,81 225.3,48Z"/><path fill="#dc5e2f" d="M233.1,0 286,0 286,286 276.7,286 272.5,260 267.3,236 261.6,214 246.8,163 243.4,149 240.5,135 237,111 234.8,84 233.6,50Z"/><path fill="#da552e" d="M241.2,0 286,0 286,286 277.5,286 274.2,263 269.8,239 265.3,219 253.1,169 247.6,141 244.5,116 242.6,88 241.7,53Z"/><path fill="#d94c2d" d="M249.2,0 286,0 286,286 278.4,286 275.6,264 272.5,244 258.9,175 254.5,147 251.9,122 250.3,93 249.5,57Z"/><path fill="#d7432c" d="M257,0 286,0 286,286 279.4,286 275.3,251 264.7,183 261.1,154 259,128 257.8,98 257.2,60Z"/><path fill="#d5392c" d="M264.5,0 286,0 286,286 280.4,286 277.6,255 270.2,191 267.6,163 266,136 265.1,105Z"/><path fill="#d3302b" d="M271.9,0 286,0 286,286 281.7,286 275.6,204 273.9,176 272.9,148 272.3,116Z"/><path fill="#d1272a" d="M279.1,0 286,0 286,286 283.3,286 280.1,196 279.3,132Z"/></svg><div class="p" style="left:355px;top:318px;width:287px"><i style="background:linear-gradient(#fdfc7f,#fdfc88 61px,#fefc99 92.5px,#fdfdb8 119.5px,#fcfcd8 138px,#fafbea 146.5px,#ecf1fd 164px,#c6d3f9 185px,#c7d3f9 191.5px,#e2e9fc 202.5px,#eff3fc 206.5px,#fbfce8 214px,#fdfdba 221.5px,#fefda4 227px,#fefda1 230.5px,#fefdae 234px,#fdfdc7 238px,#fbfce9 241.5px,#edf1fd 246px,#ccd7f9 250px,#a9bcf6 253.5px,#9eb3f5 256px,#a1b5f5 258px,#b1c2f7 260.5px,#d8e1fb 264.5px,#eff3fc 268px,#f7f9ef 272.5px,#f5f7f3 276px,#eef2fd 278.5px,#ced9fa 282px,#aec0f7 284.5px,#a6b9f6)"></i><i style="background:linear-gradient(#fdfc7f,#fdfc87 61px,#fefc98 92.5px,#fefdb5 118px,#fcfcd3 136.5px,#fafbea 147px,#ecf0fd 164.5px,#c6d2f9 185.5px,#c7d3f9 192px,#e2e9fc 203px,#eff3fc 207px,#fbfce7 214.5px,#fdfdb9 222px,#fefda3 227.5px,#fefda0 231px,#fefdad 234.5px,#fdfdc7 238.5px,#fbfce9 242px,#edf1fd 246.5px,#ccd7f9 250.5px,#a9bcf6 254px,#9db2f5 256.5px,#a1b5f5 259px,#b6c6f7 262px,#d4ddfa 265px,#eff3fd 269.5px,#f3f6f6 273.5px,#eef2fd 277px,#d3ddfa 280.5px,#9fb3f5 284.5px,#94abf5)"></i><i style="background:linear-gradient(#fdfc7e,#fdfc86 61.5px,#fefc97 93px,#fefdb3 117.5px,#fcfcd2 136.5px,#fafbea 147.5px,#ecf0fd 165px,#c5d2f9 186px,#c7d3f9 192.5px,#e3e9fc 203.5px,#f0f3fc 207.5px,#fbfce6 215px,#fdfdb8 222.5px,#fefda0 228px,#fefd9e 231.5px,#fefdaa 235px,#fdfdc9 239.5px,#fafbea 243px,#eef2fd 247px,#ced9fa 251px,#abbdf6 254.5px,#9eb3f5 257px,#9fb4f5 259.5px,#b3c3f7 262.5px,#d6dffa 266.5px,#ecf1fd 271px,#eff3fd 274.5px,#e2e9fc 277.5px,#ced8fa 280px,#8ea6f4 284.5px,#829cf3)"></i><i style="background:linear-gradient(#fdfc7d,#fdfc85 61.5px,#fefc96 93px,#fefdaf 115px,#fcfcce 135px,#fafbea 148px,#ecf1fd 165px,#c5d2f9 186.5px,#c7d3f9 193px,#e3e9fc 204px,#f0f3fc 208px,#fbfce8 215px,#fdfdb8 222.5px,#fefd9e 228px,#fefc99 231.5px,#fefda3 235px,#fdfdc5 240px,#fbfce8 243.5px,#edf1fd 248px,#ccd7f9 252px,#aabcf6 255.5px,#9eb3f5 258px,#a2b6f5 260.5px,#b5c5f7 263.5px,#d3ddfa 267px,#e7ecfc 271.5px,#e8edfd 274.5px,#dce4fb 277.5px,#d1dbfa 279px,#7995f3 285px,#718ff2)"></i><i style="background:linear-gradient(#fdfc7c,#fdfc85 61.5px,#fefc95 93px,#fefdae 115px,#fcfcce 135.5px,#fafbea 148.5px,#ecf1fd 165.5px,#c5d2f9 186.5px,#c6d2f9 193px,#e0e7fc 203.5px,#f0f4fb 208.5px,#fbfce7 215.5px,#fefdb3 223.5px,#fefc99 228.5px,#fefc94 232px,#fefd9c 235.5px,#fdfdbf 240.5px,#fbfce8 244.5px,#ecf1fd 249px,#cbd6f9 253px,#aec0f7 256px,#a1b6f5 258.5px,#a3b7f6 261px,#b4c5f7 264px,#d4defa 268px,#e3eafc 272px,#e3e9fc 275px,#d5defa 278px,#c5d1f9 279.5px,#8da6f4 283px,#708df2 285px,#6786f1)"></i><i style="background:linear-gradient(#fdfc7b,#fdfc84 61.5px,#fefc94 93px,#fefdad 115px,#fcfcce 136px,#fafbea 149px,#ecf0fd 166px,#c5d1f9 187px,#c6d2f9 193.5px,#e0e7fc 204px,#eff3fc 208.5px,#fbfce5 216px,#fefda3 226px,#fefc91 230px,#fefc8e 233.5px,#fefd9b 237px,#fdfdc7 242.5px,#fbfce8 245.5px,#ecf1fd 250px,#cbd6f9 254px,#afc0f7 257px,#a4b8f6 259.5px,#a7baf6 262px,#beccf8 265.5px,#d4defa 268.5px,#e3e9fc 272.5px,#e1e8fc 275.5px,#d2dcfa 278.5px,#b0c1f7 281px,#7390f2 284.5px,#6281f1)"></i><i style="background:linear-gradient(#fdfc7a,#fdfc83 62px,#fefc93 93.5px,#fefdac 115.5px,#fcfcce 136.5px,#fafbea 149.5px,#edf1fd 166px,#c4d1f9 187.5px,#c5d2f9 194px,#e0e7fc 204.5px,#eff3fc 209px,#fbfce7 216px,#fefd9b 227px,#fdfc8a 231px,#fdfc88 234.5px,#fefc96 238px,#fdfdc5 243.5px,#fbfce7 246.5px,#ecf1fd 251px,#cbd6f9 255px,#b1c2f7 258px,#a8bbf6 260.5px,#adbff6 263px,#c5d2f9 266.5px,#d7e0fb 269px,#e6ebfc 273px,#e4eafc 276px,#d4ddfa 279px,#b8c8f8 281px,#708df2 285px,#6382f1)"></i><i style="background:linear-gradient(#fdfc7a,#fdfc82 62px,#fefc92 93.5px,#fefdab 115.5px,#fcfcce 137px,#fafbea 149.5px,#ecf1fd 166.5px,#c4d1f9 188px,#c5d2f9 194.5px,#e0e7fc 205px,#f0f3fc 209.5px,#fbfce5 216.5px,#fefc91 228.5px,#fdfc82 232.5px,#fdfc84 236px,#fefc92 239px,#fdfdbf 244px,#fbfce7 247.5px,#eff3fd 251.5px,#cbd6f9 256px,#b3c3f7 259px,#adbff6 261.5px,#b5c5f7 264px,#d9e2fb 269px,#ebf0fd 273px,#ecf1fd 276px,#e2e8fc 278.5px,#d1dbfa 280.5px,#9cb1f5 283.5px,#7390f2 285.5px,#6c8af2)"></i><i style="background:linear-gradient(#fdfc79,#fdfc81 62px,#fefc92 94px,#fefdab 116px,#fcfcce 137.5px,#fafbea 150px,#ecf0fd 167px,#c4d1f9 188px,#c4d1f9 194.5px,#dae2fb 203.5px,#f0f4fb 210px,#fbfce8 216.5px,#fefc8d 229px,#fdfc7e 233px,#fdfc7f 236.5px,#fefc8d 239.5px,#fefdad 243px,#fcfcdd 247.5px,#fbfce9 248.5px,#eef2fd 252.5px,#b7c7f7 259.5px,#b2c3f7 262px,#bccaf8 264.5px,#e1e8fc 269.5px,#f0f4fb 272.5px,#f3f6f6 276px,#eef2fd 279px,#d2dcfa 282px,#95acf5 285px,#7f9af3)"></i><i style="background:linear-gradient(#fdfc78,#fdfc80 62px,#fefc91 94px,#fefdaa 116px,#fcfcce 138px,#fafbea 150.5px,#edf1fd 167px,#c3d0f8 188.5px,#c3d0f9 195px,#dae2fb 204px,#f0f4fb 210.5px,#fbfce8 217px,#fefc8b 229.5px,#fdfc7c 233.5px,#fdfc7d 237px,#fefc8b 240px,#fefdab 243.5px,#fcfcdb 248px,#fbfce8 249px,#eef2fd 253px,#bccbf8 259.5px,#b6c6f7 262px,#bfcdf8 264.5px,#eef2fd 270.5px,#f8faed 275px,#f8faed 278px,#edf1fd 281.5px,#d5defa 283.5px,#abbdf6 285.5px,#9fb4f5)"></i><i style="background:linear-gradient(#fdfc77,#fdfc80 62.5px,#fefc90 94px,#fefda9 116px,#fcfcce 138.5px,#fafbea 151px,#ecf1fd 167.5px,#c2cff8 189px,#c3d0f8 195.5px,#dae2fb 204.5px,#f0f3fc 211px,#fbfce8 217.5px,#fefc8e 229.5px,#fdfc7d 233.5px,#fdfc7d 237px,#fdfc8a 240px,#fefda8 243.5px,#fbfcde 248.5px,#fafbe9 249.5px,#ecf1fd 253.5px,#bccaf8 260px,#b8c8f7 262.5px,#c5d2f9 265px,#eff3fc 270px,#fbfce8 273.5px,#fcfcd5 275.5px,#fcfccf 277.5px,#fcfcd4 279px,#f8faed 281.5px,#eff3fd 283.5px,#d2dbfa 285.5px,#c6d2f9)"></i><i style="background:linear-gradient(#fdfc76,#fdfc7f 62.5px,#fefc8f 94.5px,#fefda8 116.5px,#fcfcce 139px,#fafbea 151.5px,#ecf0fd 168px,#c1cff8 189.5px,#c2cff8 196px,#d8e0fb 204.5px,#f0f3fc 211.5px,#fbfce9 218px,#fefc91 230px,#fdfc81 234px,#fdfc82 237.5px,#fefc90 240.5px,#fefdb4 244.5px,#fbfcdf 248.5px,#fafbea 249.5px,#ecf1fd 253.5px,#bac9f8 260px,#b6c6f7 262px,#bdccf8 264px,#eff3fd 269.5px,#fbfce6 272.5px,#fdfdbf 275px,#fefdac 277px,#fefda8 278.5px,#fefdb1 280px,#fdfdc3 281.5px,#fbfce9 283.5px,#eef2fd 285.5px,#e6ecfc)"></i><i style="background:linear-gradient(#fdfc75,#fdfc7e 62.5px,#fefc8e 94.5px,#fefda7 116.5px,#fcfcce 139.5px,#fafbea 151.5px,#edf1fd 168px,#c1cef8 190px,#c1cff8 196.5px,#d4defa 204px,#eff3fc 212px,#fbfce7 219px,#fefd9d 229.5px,#fefc8b 233.5px,#fdfc89 237px,#fefc95 240px,#fdfdba 244.5px,#fafbea 249px,#edf1fd 253px,#c7d3f9 257.5px,#b5c5f7 260px,#b1c2f7 262px,#b8c8f7 264px,#eff3fc 269.5px,#fbfce6 272px,#fefc97 276px,#fdfc82 277.5px,#fdfc79 279px,#fdfc7f 280.5px,#fefc94 282px,#fcfcce 284.5px,#fbfce9 285.5px,#f8f9ee)"></i><i style="background:linear-gradient(#fdfc74,#fdfc7d 63px,#fefc8e 95px,#fefda7 117px,#fcfcce 140px,#fafbea 152px,#ecf1fd 168.5px,#c0cef8 190.5px,#c1cef8 197px,#cfdafa 203px,#f0f3fc 213px,#fbfce6 220px,#fefdb4 227.5px,#fefc99 232.5px,#fefc94 236px,#fefd9b 239px,#fdfdb7 243px,#fcfcdd 247px,#fbfce9 248px,#eff3fd 252px,#ced9fa 256px,#b1c2f7 259px,#a6baf6 261.5px,#abbdf6 263.5px,#bccbf8 265.5px,#edf1fd 269.5px,#fbfce8 272px,#fefd9f 275px,#fdfb72 277px,#fdf964 278px,#fbf15e 280px,#fcf561 281.5px,#fdfb68 282.5px,#fdfc89 284px,#fdfdc4)"></i><i style="background:linear-gradient(#fdfc74,#fdfc7c 63px,#fefc8c 95px,#fefda5 117px,#fcfcce 140.5px,#fafbea 152.5px,#ecf1fd 169px,#c0cef8 191px,#c0cef8 197.5px,#ced9fa 203.5px,#eff3fd 213.5px,#fbfce7 221px,#fdfdba 228px,#fefda3 233.5px,#fefda3 237px,#fefdb1 240.5px,#fcfdca 244px,#fbfce9 247px,#ecf1fd 251.5px,#ced9fa 255px,#a8bbf6 258.5px,#99aff5 261px,#9ab0f5 263px,#a8bbf6 265px,#c9d5f9 267.5px,#eff3fc 270.5px,#fbfce9 272.5px,#fefda8 275px,#fdfb71 277px,#fdfb66 277.5px,#f9e958 279.5px,#f8e555 281.5px,#faed5b 283px,#fcf763 284px,#fdfb6b 284.5px,#fefc95)"></i><i style="background:linear-gradient(#fdfb73,#fdfc7b 63px,#fefc8b 95px,#fefda4 117px,#fcfccd 141px,#fafbea 153.5px,#ecf1fd 169.5px,#bfcdf8 191.5px,#bfcdf8 198px,#cdd8f9 204px,#eff3fc 214.5px,#fbfce7 222px,#fdfdc0 228.5px,#fefdb0 233.5px,#fefdb0 237px,#fdfdbc 240.5px,#fcfcd5 244px,#fbfce9 246px,#edf2fd 250.5px,#d0dafa 254px,#9bb0f5 258.5px,#89a2f4 261px,#88a1f4 263px,#94abf5 265px,#b4c4f7 267.5px,#d5defa 269.5px,#eff3fd 271.5px,#fbfce9 273.5px,#fefda9 276px,#fdfb73 278px,#fdfb68 278.5px,#faeb5a 280.5px,#f9e958 282.5px,#fcf562 284.5px,#fdfb66 285px,#fdfc7c)"></i><i style="background:linear-gradient(#fdfb72,#fdfc7a 63.5px,#fefc8b 95.5px,#fefda3 117.5px,#fcfcce 142px,#fafbea 154px,#ecf1fd 170px,#bfcdf8 192px,#bfcdf8 198.5px,#ced9fa 205px,#f0f3fc 215.5px,#fbfce7 223px,#fdfdc3 229.5px,#fdfdb6 234px,#fdfdb9 238px,#fdfdc8 241.5px,#f9fbeb 246px,#edf2fd 250px,#d0dafa 253.5px,#8ba4f4 259px,#7a95f3 261.5px,#7894f3 263.5px,#839df3 265.5px,#9bb0f5 267.5px,#d5defa 271px,#eff3fd 273px,#fafbeb 275px,#fcfcca 276.5px,#fdfc89 279.5px,#fdfc74 281px,#fdfb6b 282.5px,#fdfb70 284px,#fdfc81 285.5px,#fdfc89)"></i><i class="n" style="background:linear-gradient(#fdfb71,#fdfc79 63.5px,#fdfc8a 95.5px,#fefda2 117.5px,#fcfccd 142px,#fafbea 154.5px,#ecf1fd 170.5px,#bfcdf8 192.5px,#bfcdf8 199px,#ced9fa 205.5px,#f0f3fc 216px,#fbfce7 223.5px,#fdfdc6 229.5px,#fdfdb9 234px,#fdfdba 238px,#fdfdc9 241.5px,#f9fbeb 246px,#eef2fd 250px,#d1dbfa 253.5px,#89a2f4 259px,#7491f2 261.5px,#708df2 264px,#7894f3 266px,#94abf5 268.5px,#d5defa 272.5px,#edf1fd 274.5px,#fafbea 277px,#fdfdbb 280px,#fefda7 282px,#fefda3 283.5px,#fefda8 285px,#fefdb1)"></i><i class="n" style="background:linear-gradient(#fdfb71,#fdfc79 63.5px,#fdfc89 95.5px,#fefda2 117.5px,#fcfcce 142.5px,#fafbea 154.5px,#edf1fd 170.5px,#bfcdf8 192.5px,#becdf8 199px,#cdd8f9 205.5px,#eff3fc 216px,#fbfce5 224px,#fdfdc4 230px,#fdfdb8 234.5px,#fdfdba 238.5px,#fdfdc9 242px,#fafbea 246px,#edf1fd 250.5px,#ced9fa 254px,#86a0f4 259.5px,#7491f2 261.5px,#6d8bf2 264px,#7390f2 266.5px,#8da5f4 269px,#d7e0fb 274px,#edf1fd 276px,#fbfce9 279.5px,#fcfcd4 281.5px,#fcfccb 283.5px,#fcfcd1)"></i><i class="n" style="background:linear-gradient(#fdfb70,#fdfc78 63.5px,#fdfc89 95.5px,#fefda1 117.5px,#fcfccd 142.5px,#fafbea 155px,#ecf1fd 171px,#bfcdf8 193px,#bfcdf8 199.5px,#ced9fa 206px,#f0f3fc 216.5px,#fbfce6 224px,#fdfdc3 230px,#fefdb5 234.5px,#fdfdb6 238.5px,#fdfdc4 242px,#fbfcdf 245.5px,#fafbeb 247px,#eef2fd 251px,#d0dafa 254.5px,#87a1f4 260px,#728ff2 262.5px,#6c8af2 265px,#7390f2 267.5px,#8ba3f4 270px,#d5dffa 275.5px,#eff3fd 278.5px,#f7f9f0 282.5px,#f7f9ef)"></i><i class="n" style="background:linear-gradient(#fdfb70,#fdfc78 64px,#fdfc88 96px,#fefda1 118px,#fcfccd 143px,#fafbea 155px,#ecf1fd 171px,#bfcdf8 193px,#beccf8 199.5px,#ccd7f9 205.5px,#f0f3fc 216.5px,#fbfce5 224px,#fdfdbf 230.5px,#fefdaf 235.5px,#fefdb0 239px,#fdfdbe 242.5px,#fcfcd8 246px,#fafbea 248px,#edf2fd 252px,#cfd9fa 255.5px,#87a1f4 261px,#7290f2 263.5px,#6d8bf2 266px,#7390f2 268.5px,#8da6f4 271.5px,#d2dcfa 277.5px,#e5ebfc 281.5px,#e9eefd 285.5px,#e8eefd)"></i><i class="n" style="background:linear-gradient(#fdfb6f,#fdfc78 64px,#fdfc88 96px,#fefda0 118px,#fcfccd 143px,#fafbea 155.5px,#ecf0fd 171.5px,#bfcdf8 193px,#beccf8 199.5px,#cbd6f9 205.5px,#f0f3fc 216.5px,#fbfce7 223.5px,#fdfdba 230.5px,#fefda4 236px,#fefda4 239.5px,#fdfdb6 243.5px,#fcfcd2 247px,#fafbea 249.5px,#ecf1fd 253.5px,#ccd7f9 257px,#8da5f4 262px,#7793f3 264.5px,#708df2 267px,#7491f2 269.5px,#8da5f4 273px,#b7c7f7 278px,#c8d4f9 281.5px,#c8d4f9 285.5px,#c8d4f9)"></i><i class="n" style="background:linear-gradient(#fdfb6f,#fdfc77 64px,#fdfc87 96px,#fefda0 118px,#fcfccd 143.5px,#fafbea 155.5px,#ecf1fd 171.5px,#bfcdf8 193.5px,#beccf8 200px,#ccd7f9 206px,#f0f3fc 216.5px,#fbfce5 223.5px,#fefdb5 230.5px,#fefc9a 235.5px,#fefc93 239px,#fefc9a 242px,#fefdb2 245.5px,#fcfcd1 249px,#fbfce8 251px,#eef2fd 255px,#cfdafa 258.5px,#92a9f4 263.5px,#7e99f3 266px,#7793f2 268.5px,#7c97f3 271.5px,#9eb3f5 278.5px,#a2b6f5 282px,#98aef5)"></i><i class="n" style="background:linear-gradient(#fdfb6e,#fdfc77 64px,#fdfc87 96px,#fefd9f 118px,#fcfccd 143.5px,#fafbea 155.5px,#edf1fd 171.5px,#bfcdf8 193.5px,#beccf8 200px,#ccd7f9 206px,#f0f3fc 216.5px,#fbfce7 223px,#fefc93 234.5px,#fdfc84 238px,#fdfc84 241.5px,#fefc91 244.5px,#fefdaa 247.5px,#fcfcda 252px,#fafbea 253.5px,#eff3fd 257px,#cbd6f9 261px,#9fb4f5 265px,#8aa3f4 268px,#859ff3 271px,#90a7f4 278.5px,#859ff3 282px,#6e8cf2)"></i><i class="n" style="background:linear-gradient(#fdfb66,#fdfb6d 60.5px,#fdfc7d 93px,#fefc95 115.5px,#fdfdc7 142px,#fafbea 155.5px,#ecf0fd 171px,#cad5f9 185px,#b6c6f7 193.5px,#b5c5f7 200px,#c3d0f9 206px,#eff3fc 217px,#fbfce8 223px,#fdfc88 234.5px,#fdfc76 238px,#fdfb72 241.5px,#fdfc7c 244.5px,#fefc93 247.5px,#fbfcde 254px,#fafbea 255px,#eff3fd 258.5px,#cbd6f9 263px,#b1c2f7 266px,#a6b9f6 269px,#aabcf6 272.5px,#b4c4f7 277px,#aec0f7 279.5px,#9bb1f5 282px,#6987f2)"></i><i class="n" style="background:linear-gradient(#faea59,#fbf25f 71px,#fdfb69 98px,#fdfc84 117.5px,#fefda8 133px,#fcfcda 150.5px,#fafbea 155.5px,#ecf1fd 168.5px,#cbd6f9 179.5px,#a3b7f6 190px,#97adf5 196px,#9ab0f5 201.5px,#aec0f7 207px,#dbe3fb 214.5px,#f0f3fc 218.5px,#fbfce7 223.5px,#fefc9a 231px,#fdfc75 235px,#fdfb66 237.5px,#fcf763 241.5px,#fdfb69 244.5px,#fdfc83 247.5px,#fcfcda 254px,#fbfce9 255px,#eff3fd 258.5px,#bbcaf8 265px,#b4c5f7 267.5px,#bdcbf8 270px,#dde4fb 274.5px,#e9eefd 277.5px,#e7edfc 280px,#d5dffa 282.5px,#c6d3f9 283.5px,#9ab0f5 285.5px,#8ea6f4)"></i><i class="n" style="background:linear-gradient(#f7de50,#f8e555 68.5px,#fcf561 102px,#fdfb6a 111.5px,#fefc8d 127.5px,#fcfcd7 150.5px,#fafbea 155.5px,#edf1fd 167px,#cdd8f9 176.5px,#90a8f4 189.5px,#809bf3 195.5px,#819cf3 200.5px,#8fa7f4 205px,#b2c3f7 210.5px,#d8e1fb 215.5px,#eef2fd 219px,#fbfce5 224px,#fefd9b 230.5px,#fdfb70 234.5px,#fdfa65 236px,#fbf05d 240px,#fcf460 243.5px,#fdfb66 245.5px,#fdfc89 248.5px,#fbfce5 254.5px,#eef2fd 258px,#b7c7f7 264px,#aec0f7 266px,#b1c2f7 268px,#c5d2f9 270.5px,#e3e9fc 273.5px,#eff3fc 275px,#f7f9ef 278px,#f7f9ef 280.5px,#eef2fd 283px,#cfd9fa 285px,#b3c3f7)"></i><i class="n" style="background:linear-gradient(#f7dd4f,#f8e555 68.5px,#fcf561 102px,#fdfb6a 112px,#fefc8d 128px,#fcfcd8 151px,#fafbea 156px,#ecf0fd 167.5px,#ccd7f9 177px,#8fa7f4 190px,#809bf3 196px,#819cf3 201px,#90a8f4 205.5px,#b3c4f7 211px,#d7e0fa 215.5px,#eff3fd 219.5px,#fbfce9 224px,#fefd9e 230.5px,#fdfb73 234.5px,#fdf965 236.5px,#fbf05e 240.5px,#fcf561 244px,#fdfb66 245.5px,#fdfc87 248.5px,#fafbe9 255px,#eff3fd 258px,#c5d2f9 262.5px,#b2c3f7 265px,#aec0f7 267px,#b6c6f7 269px,#eff3fc 275px,#f9faec 278.5px,#f8faee 281px,#eef2fd 283.5px,#d7e0fb 285px,#beccf8)"></i><i class="n" style="background:linear-gradient(#f7dd4f,#f8e555 69px,#fcf561 102.5px,#fdfb6a 112.5px,#fefc8e 128.5px,#fcfcd7 151px,#fafbea 156px,#ecf1fd 167.5px,#cdd8f9 177px,#90a7f4 190px,#809bf3 196px,#819bf3 201px,#8fa7f4 205.5px,#b1c2f7 211px,#d8e1fb 216px,#f0f3fc 220px,#fbfce6 224.5px,#fefd9c 231px,#fdfb71 235px,#fdf964 237px,#fbf15e 241px,#fcf763 244.5px,#fdfb6a 246px,#fefc8d 249px,#fbfce9 255px,#ecf0fd 258.5px,#c6d3f9 262.5px,#b2c3f7 265px,#adbff6 267px,#b5c5f7 269px,#ced9fa 271.5px,#eff3fc 275px,#fafbeb 278.5px,#fafbeb 281px,#f1f4f9 283.5px,#edf2fd 284px,#d5defa 285.5px,#c9d5f9)"></i><i style="background:linear-gradient(#f6dc4f,#f8e454 69px,#fcf460 102.5px,#fdfb69 113px,#fefc8d 129px,#fcfcd7 151.5px,#fafbea 156.5px,#ecf1fd 168px,#ccd7f9 177.5px,#8fa7f4 190.5px,#7f9af3 196.5px,#809bf3 201.5px,#8fa7f4 206px,#b1c2f7 211.5px,#d8e1fb 216.5px,#f0f4fb 220.5px,#fbfce5 225px,#fefd9b 231.5px,#fdfb71 235.5px,#fdf964 237.5px,#fbf25f 241.5px,#fdf964 245px,#fdfb6d 246.5px,#fefc91 249.5px,#fbfce6 255px,#edf2fd 258.5px,#b6c6f7 264.5px,#adbff6 266.5px,#b0c1f7 268.5px,#bfcdf8 270.5px,#e5ebfc 274px,#eff3fd 275px,#fbfce5 279px,#fbfce1 280.5px,#f7f9ef 283px,#eff3fc 284.5px,#d7e0fb)"></i><i style="background:linear-gradient(#f6db4e,#f8e354 69px,#fbf360 102.5px,#fdfb69 114px,#fefc8d 129.5px,#fcfcd7 152px,#fafbea 157px,#ecf0fd 168.5px,#ccd7f9 178px,#8ea6f4 191px,#7f9af3 197px,#809af3 202px,#8ea6f4 206.5px,#b0c2f7 212px,#d8e0fb 217px,#f0f3fc 221px,#fbfce7 225.5px,#fefd9d 232px,#fdfc73 236px,#fdfa65 238px,#fcf360 242px,#fdfa65 245.5px,#fdfc7c 248px,#fefda5 251px,#fbfce9 255.5px,#eff3fd 258.5px,#cad6f9 262.5px,#b3c3f7 265px,#abbef6 267px,#b0c1f7 269px,#c1cff8 271px,#eef2fd 275px,#fbfce4 278.5px,#fcfcd7 280px,#fcfcd7 281.5px,#f7f9ef 284px,#eef3fd 285.5px,#e6ecfc)"></i><i style="background:linear-gradient(#f6db4d,#f8e253 69.5px,#fbf25f 103px,#fdfb69 115px,#fefc8d 130.5px,#fcfcd9 153px,#fafbea 157.5px,#ecf0fd 169px,#ccd7f9 178.5px,#8ea6f4 191.5px,#7e99f3 197.5px,#7f9af3 202.5px,#8da5f4 207px,#b0c1f7 212.5px,#d7e0fb 217.5px,#eff3fc 221.5px,#fbfce8 226px,#fdfc7e 235.5px,#fdfb67 238.5px,#fcf561 242.5px,#fdfb68 246px,#fdfc80 248.5px,#fefdaa 251.5px,#fbfce7 255.5px,#edf1fd 259px,#c6d3f9 263px,#b0c1f7 265.5px,#aabcf6 267.5px,#b0c1f7 269.5px,#c2d0f8 271.5px,#ebf0fd 275px,#fbfce9 278px,#fcfcd0 280px,#fcfcca 281.5px,#fcfcd4 283px,#fafbea 284.5px,#f1f5f9)"></i><i style="background:linear-gradient(#f6da4d,#f8e253 69.5px,#fbf15e 103px,#fdfb69 116px,#fefc8e 131.5px,#fcfcd9 153.5px,#fafbea 158px,#ecf0fd 169.5px,#cbd7f9 179px,#8da5f4 192px,#7e99f3 198px,#7e99f3 203px,#8ca5f4 207.5px,#afc0f7 213px,#d6dffa 218px,#eff3fd 222px,#fbfce9 226.5px,#fdfc80 236px,#fdfb66 239.5px,#fcf763 243.5px,#fdfb68 246px,#fdfc7e 248.5px,#fefda7 251.5px,#fafbea 256px,#eff3fd 259px,#c8d4f9 263px,#b0c1f7 265.5px,#a8bbf6 267.5px,#acbef6 269.5px,#beccf8 271.5px,#e8eefd 275px,#eef2fd 275.5px,#fbfce9 278px,#fcfccb 280px,#fdfdc0 281.5px,#fdfdc3 283px,#fcfcd7 284.5px,#fafbea 285.5px,#f7f9ef)"></i><i style="background:linear-gradient(#f6d94c,#f7e152 70px,#fbf15e 103.5px,#fdfb69 117px,#fefc8d 132px,#fcfcdb 154.5px,#fafbea 158.5px,#edf1fd 169.5px,#cbd6f9 179.5px,#8da5f4 192.5px,#7d98f3 198.5px,#7e99f3 203.5px,#8ca4f4 208px,#aabdf6 213px,#d9e1fb 219px,#eff3fd 222.5px,#fbfce9 227px,#fdfc7e 237px,#fdfb66 240.5px,#fdf965 244.5px,#fdfb6c 246.5px,#fdfc82 249px,#fefdac 252px,#fbfce8 256px,#ecf1fd 259.5px,#cad6f9 263px,#b0c2f7 265.5px,#a6baf6 267.5px,#a8bbf6 269.5px,#b8c8f7 271.5px,#ebf0fd 275.5px,#f2f5f7 276.5px,#fafbea 278px,#fdfdc1 280.5px,#fefdb5 282px,#fdfdb7 283.5px,#fcfcca 285px,#fbfce1)"></i><i style="background:linear-gradient(#f6d84c,#f7e051 70px,#fbf05d 103.5px,#fdfb69 118px,#fefc8e 133px,#fcfcda 155px,#fafbea 159.5px,#edf1fd 170px,#cdd8f9 179.5px,#8ca5f4 193px,#7c98f3 199px,#7d98f3 204px,#8ba3f4 208.5px,#a9bcf6 213.5px,#d8e1fb 219.5px,#f0f3fc 223.5px,#fbfce6 228px,#fdfc84 237px,#fdfb6b 240.5px,#fdfa65 243px,#fdfb68 245.5px,#fdfc78 248px,#fefc93 250.5px,#fafbea 256.5px,#eef2fd 259.5px,#ccd7f9 263px,#b1c2f7 265.5px,#a5b8f6 267.5px,#a5b8f6 269.5px,#b3c3f7 271.5px,#edf1fd 276px,#fbfce6 278.5px,#fdfdbe 280.5px,#fefda8 282.5px,#fefda7 283.5px,#fdfdb6 285px,#fdfdc8)"></i><i style="background:linear-gradient(#f5d84b,#f7df51 70px,#faef5c 103.5px,#fdfb69 119px,#fefc8f 134px,#fcfcdc 156px,#fafbea 160px,#edf1fd 170.5px,#cdd8f9 180px,#8ca4f4 193.5px,#7c97f3 199.5px,#7c98f3 204.5px,#8aa3f4 209px,#a8bbf6 214px,#d7e0fb 220px,#eff3fc 224px,#fbfce8 228.5px,#fdfc87 237.5px,#fdfb6e 241px,#fdfb67 244px,#fdfb6e 246.5px,#fdfc81 249px,#fefd9f 251.5px,#fbfce9 256.5px,#eff3fd 259.5px,#ced9fa 263px,#adbff6 266px,#a1b6f5 268px,#a3b7f6 270px,#b2c3f7 272px,#eff3fd 276.5px,#fafbea 278.5px,#fefdb5 281px,#fefd9e 282.5px,#fefc98 283.5px,#fefd9b 284.5px,#fefda8 285.5px,#fefdb2)"></i><i style="background:linear-gradient(#f5d74a,#f7de50 70.5px,#faee5c 104px,#fdfb69 120px,#fefc8f 135px,#fcfcdc 156.5px,#fafbea 160.5px,#edf1fd 171px,#cdd8f9 180.5px,#8ca4f4 194px,#7b97f3 200px,#7b97f3 205px,#89a2f4 209.5px,#a7baf6 214.5px,#d6dffa 220.5px,#eff3fd 224.5px,#fbfce9 229px,#fdfc85 238.5px,#fdfb71 241.5px,#fdfb6b 244.5px,#fdfb72 247px,#fdfc85 249.5px,#fefda4 252px,#fbfce6 256.5px,#edf1fd 260px,#c9d5f9 263.5px,#a9bbf6 266.5px,#9eb3f5 268.5px,#a0b5f5 270.5px,#b1c2f7 272.5px,#eaeffd 276.5px,#f3f6f6 277.5px,#fbfce5 279px,#fdfdb6 281px,#fefc98 282.5px,#fefc8c 283.5px,#fdfc8a 284.5px,#fefc91 285.5px,#fefc99)"></i><i style="background:linear-gradient(#f5d64a,#f7dd4f 70.5px,#faed5b 104px,#fdfb69 121px,#fefc8f 135.5px,#fcfcdc 157px,#fafbea 161px,#edf1fd 171.5px,#cdd8f9 181px,#8ba4f4 194.5px,#7b96f3 200.5px,#7b96f3 205.5px,#88a1f4 210px,#a6b9f6 215px,#d8e1fb 221.5px,#eef3fd 225px,#fbfce6 230px,#fdfc88 239px,#fdfc74 242px,#fdfb6e 245px,#fdfc76 247.5px,#fdfc8a 250px,#fdfdc5 254.5px,#fafbea 257px,#eff3fd 260px,#cbd7f9 263.5px,#a8bbf6 266.5px,#9bb1f5 268.5px,#9cb1f5 270.5px,#aabdf6 272.5px,#c7d3f9 274.5px,#ecf0fd 277px,#fafbea 279px,#fefc95 282.5px,#fdfc84 283.5px,#fdfc7c 284.5px,#fdfc7d 285.5px,#fdfc82)"></i><i style="background:linear-gradient(#f5d549,#f7dd4f 71px,#faec5b 104.5px,#fdfb68 121.5px,#fefc8e 136px,#fcfcdb 157.5px,#fafbea 161.5px,#edf1fd 172px,#cdd8f9 181.5px,#8ba4f4 195px,#7a96f3 201px,#7a96f3 206px,#87a0f4 210.5px,#a5b8f6 215.5px,#d8e0fb 222px,#eff3fc 226px,#fbfce7 230.5px,#fefc8b 239.5px,#fdfc77 242.5px,#fdfb72 245.5px,#fdfc7a 248px,#fefc8e 250.5px,#fcfcd1 255.5px,#fbfce8 257px,#ecf0fd 260.5px,#cdd8f9 263.5px,#a9bbf6 266.5px,#99aff5 268.5px,#97adf5 270.5px,#a4b7f6 272.5px,#beccf8 274.5px,#d7e0fb 276px,#edf1fd 277.5px,#fbfce9 279.5px,#fdfc8a 283px,#fdfc78 284px,#fdfb6f 285px,#fdfb6f)"></i><i style="background:linear-gradient(#f5d449,#f6dc4e 71px,#faeb5a 104.5px,#fdfb68 122.5px,#fefc8f 137px,#fcfcdd 158.5px,#fafbea 162px,#edf2fd 172.5px,#cdd8f9 182px,#8ba3f4 195.5px,#7a96f3 201.5px,#7995f3 206.5px,#869ff4 211px,#a3b7f6 216px,#d7dffa 222.5px,#eff3fd 226.5px,#fbfce9 231px,#fefc8e 240px,#fdfc7b 243px,#fdfc76 246px,#fdfc7e 248.5px,#fefc93 251px,#fcfcd5 256px,#fafbea 257.5px,#edf2fd 260.5px,#c8d4f9 264px,#a4b8f6 267px,#95acf5 269px,#93aaf4 271px,#9cb2f5 272.5px,#b5c5f7 274.5px,#d8e0fb 276.5px,#eef2fd 278px,#f9faed 279.5px,#fbfce4 280px,#fdfc80 283.5px,#fdfb6c 284.5px,#fdfb66 285px,#fcf863)"></i><i style="background:linear-gradient(#f5d448,#f6db4e 71.5px,#faeb59 105px,#fdfb68 123.5px,#fefc8f 138px,#fbfcdf 159.5px,#fafbea 162.5px,#ecf0fd 173.5px,#cdd8f9 182.5px,#8aa3f4 196px,#7995f3 202px,#7895f3 207px,#859ff3 211.5px,#a2b6f5 216.5px,#d9e1fb 223.5px,#eff3fd 227px,#fbfce6 232px,#fefc95 240px,#fdfc80 243px,#fdfc79 246px,#fdfc80 248.5px,#fefc92 251px,#fcfcd2 256px,#fbfce9 257.5px,#eff3fd 260.5px,#cbd6f9 264px,#a4b8f6 267px,#93aaf4 269px,#8fa6f4 271px,#95acf5 272.5px,#acbef6 274.5px,#d8e0fb 277px,#eff3fd 278.5px,#f9fbeb 280px,#fbfce0 280.5px,#fdfc83 283.5px,#fdfb6a 284.5px,#fcf461 285.5px,#fbf15f)"></i><i style="background:linear-gradient(#f4d347,#f6da4d 71.5px,#f9ea59 105.5px,#fdfb68 124.5px,#fefc90 139px,#fbfcdf 160px,#fafbea 163px,#ecf0fd 174px,#cdd8f9 183px,#8aa3f4 196.5px,#7995f3 202.5px,#7894f3 207.5px,#849ef3 212px,#a1b5f5 217px,#d8e0fb 224px,#eff3fc 228px,#fbfce8 232.5px,#fefd9c 240px,#fdfc84 243.5px,#fdfc7d 246.5px,#fdfc84 249px,#fefc97 251.5px,#fcfcd7 256.5px,#fbfce7 257.5px,#ecf1fd 261px,#cdd8f9 264px,#9fb4f5 267.5px,#8ea6f4 269.5px,#8ba3f4 271.5px,#92a9f4 273px,#aabdf6 275px,#d8e0fb 277.5px,#eff3fd 279px,#fafbea 280.5px,#fefdae 282.5px,#fdfc7a 284px,#fdfb6c 284.5px,#fcf863 285px,#faed5c)"></i><i style="background:linear-gradient(#f4d247,#f6d94c 72px,#f9e958 105.5px,#fdfb68 125.5px,#fefc8f 139.5px,#fbfcde 160.5px,#fafbeb 164px,#ecf0fd 174.5px,#cdd8f9 183.5px,#8aa3f4 197px,#7894f3 203px,#7793f3 208px,#839df3 212.5px,#9fb4f5 217.5px,#d6dffa 224.5px,#eff3fd 228.5px,#fbfce9 233px,#fefc97 241.5px,#fdfc85 244.5px,#fdfc81 247.5px,#fefc8b 250px,#fefda1 252.5px,#fcfcd4 256.5px,#fafbea 258px,#eef3fd 261px,#d0dafa 264px,#9fb4f5 267.5px,#8da5f4 269.5px,#869ff4 271.5px,#8ba4f4 273px,#9aaff5 274.5px,#bac9f8 276.5px,#d7e0fb 278px,#eff3fc 279.5px,#fafbe9 281px,#fefda8 283px,#fdfb72 284.5px,#fdf965 285px,#faec5a)"></i><i style="background:linear-gradient(#f4d146,#f6d84c 72px,#f9e858 106px,#fdfb68 126.5px,#fefc90 140.5px,#fbfce0 161.5px,#fafbea 164.5px,#ecf1fd 175px,#cdd8f9 184px,#8aa3f4 197.5px,#7894f3 203.5px,#7693f2 208.5px,#829cf3 213px,#9eb3f5 218px,#d8e1fb 225.5px,#eef2fd 229px,#fbfce7 234px,#fefdb6 239px,#fefc93 243px,#fdfc86 246px,#fdfc86 248.5px,#fefc93 251px,#fefdb2 254px,#fcfcd9 257px,#fbfce8 258px,#ecf0fd 261.5px,#cbd6f9 264.5px,#9ab0f5 268px,#88a1f4 270px,#829cf3 272px,#87a1f4 273.5px,#97adf5 275px,#b8c8f8 277px,#d7e0fb 278.5px,#eff3fc 280px,#fbfce9 281.5px,#fefda2 283.5px,#fdfb6a 285px,#faed5b)"></i><i style="background:linear-gradient(#f4d046,#f6d84b 73.5px,#f9e857 107px,#fdfb68 127.5px,#fefc91 141.5px,#fbfcdf 162px,#fafbea 165px,#ecf1fd 175.5px,#cdd8f9 184.5px,#88a1f4 198.5px,#7793f2 204.5px,#7693f2 209.5px,#839df3 214px,#a0b4f5 219px,#d7e0fb 226px,#eff3fc 230px,#fbfce9 234.5px,#fefdb4 240px,#fefc94 244px,#fdfc89 247px,#fefc8c 249.5px,#fefd9c 252px,#fcfccf 256.5px,#fafbea 258.5px,#eef2fd 261.5px,#ced9fa 264.5px,#95acf5 268.5px,#839df3 270.5px,#7d98f3 272.5px,#839df3 274px,#93aaf4 275.5px,#b6c6f7 277.5px,#d6dffa 279px,#eff3fc 280.5px,#fbfce8 282px,#fefdb3 283.5px,#fdfc75 285px,#fdfa65 285.5px,#fbf05e)"></i><i style="background:linear-gradient(#f4cf46,#f5d74b 74.5px,#f9e757 107.5px,#fdfb67 128px,#fefc90 142px,#fbfce1 163px,#fafbea 165.5px,#ecf1fd 176px,#cdd8f9 185px,#87a1f4 199px,#7693f2 205px,#7592f2 210px,#819cf3 214.5px,#9eb3f5 219.5px,#d6dffa 226.5px,#eff3fd 230.5px,#fbfce7 235.5px,#fdfdb6 240.5px,#fefc97 244.5px,#fefc8d 247.5px,#fefc90 250px,#fefda0 252.5px,#fcfccc 256.5px,#fbfce9 258.5px,#eff3fc 261.5px,#d1dbfa 264.5px,#96adf5 268.5px,#819cf3 270.5px,#7995f3 272.5px,#7c98f3 274px,#89a2f4 275.5px,#aabdf6 277.5px,#dee5fb 280px,#eff3fc 281px,#fbfce7 282.5px,#fefdb0 284px,#fdfb70 285.5px,#fcf662)"></i><i style="background:linear-gradient(#f3ce45,#f5d64a 73.5px,#f8e556 107px,#fdfb67 129px,#fefc90 143px,#fbfce1 163.5px,#fafbeb 166.5px,#ecf1fd 176.5px,#cdd8f9 185.5px,#87a1f4 199.5px,#7692f2 205.5px,#7491f2 210.5px,#809bf3 215px,#9db2f5 220px,#d8e0fb 227.5px,#eff3fc 231.5px,#fbfce9 236px,#fefdb5 241.5px,#fefc98 245.5px,#fefc90 248.5px,#fefc96 251px,#fefda9 253.5px,#fcfcd0 257px,#fafbea 259px,#edf2fd 262px,#cdd8f9 265px,#91a9f4 269px,#7c98f3 271px,#7491f2 273px,#7894f3 274.5px,#869ff4 276px,#9db2f5 277.5px,#dde5fb 280.5px,#eff3fd 281.5px,#fbfce7 283px,#fefdae 284.5px,#fdfb6b)"></i><i style="background:linear-gradient(#f3cd45,#f5d549 74px,#f8e555 107.5px,#fdfb67 130px,#fefc91 144px,#fbfce2 164.5px,#f9fbec 167.5px,#edf1fd 177px,#cbd6f9 186.5px,#87a0f4 200px,#7592f2 206px,#7491f2 211.5px,#819cf3 216px,#9fb3f5 221px,#d6dffa 228px,#eff3fd 232px,#fbfce7 237px,#fdfdb8 242px,#fefd9c 246px,#fefc94 249px,#fefd9b 251.5px,#fefdae 254px,#fcfccd 257px,#fbfce9 259px,#eff3fd 262px,#d0dbfa 265px,#8ca5f4 269.5px,#7894f3 271.5px,#708ef2 273.5px,#7491f2 275px,#829cf3 276.5px,#9ab0f5 278px,#dce4fb 281px,#eff3fd 282px,#fbfce7 283.5px,#fefdac 285px,#fdfc7d)"></i><i style="background:linear-gradient(#f3cc45,#f5d448 72.5px,#f8e354 107px,#fdfb66 130.5px,#fefc90 144.5px,#fbfce2 165px,#fafbea 167.5px,#edf1fd 177.5px,#cbd7f9 187px,#87a0f4 200.5px,#7592f2 206.5px,#7390f2 212px,#809af3 216.5px,#9db2f5 221.5px,#d8e1fb 229px,#f0f3fc 233px,#fbfce9 237.5px,#fdfdbb 242.5px,#fefd9d 247px,#fefc98 250px,#fefda1 252.5px,#fdfdc5 256.5px,#fafbeb 259.5px,#edf2fd 262.5px,#ccd7f9 265.5px,#87a1f4 270px,#7390f2 272px,#6d8bf2 274px,#7390f2 276px,#859ff3 277.5px,#acbef6 279.5px,#d1dbfa 281px,#eef2fd 282.5px,#fbfce8 284px,#fefdac 285.5px,#fefc93)"></i><i style="background:linear-gradient(#f3cb44,#f4d347 71px,#f8e152 106px,#fdf864 129.5px,#fdfb6f 135px,#fefc9a 148px,#fbfce6 166.5px,#edf1fd 178px,#cbd7f9 187.5px,#87a0f4 201px,#7491f2 207px,#7390f2 212.5px,#7f99f3 217px,#9bb1f5 222px,#d7e0fa 229.5px,#eff3fd 233.5px,#fbfce7 238.5px,#fdfdba 243.5px,#fefda1 247.5px,#fefd9c 250.5px,#fefda5 253px,#fdfdc3 256.5px,#fbfce9 259.5px,#eff3fc 262.5px,#d1dbfa 265.5px,#839df3 270.5px,#6f8df2 272.5px,#6988f2 274.5px,#708df2 276.5px,#819bf3 278px,#9db2f5 279.5px,#d9e1fb 282px,#ecf1fd 283px,#fbfce9 284.5px,#fefdac)"></i><i style="background:linear-gradient(#f3ca44,#f4d146 69px,#f7e051 105px,#fcf662 129px,#fdfb6b 134.5px,#fefc97 148px,#fbfce5 167px,#edf2fd 178.5px,#ccd7f9 188px,#859ff3 202px,#7390f2 208px,#7390f2 214px,#829cf3 218.5px,#a1b5f5 223.5px,#d8e1fb 230.5px,#f0f3fc 234.5px,#fbfce9 239px,#fdfdbd 244px,#fefda3 248.5px,#fefda0 251px,#fefda9 253.5px,#fdfdc6 257px,#fafbea 260px,#eef2fd 263px,#cdd8f9 266px,#859ff3 270.5px,#6f8df2 272.5px,#6685f1 274.5px,#6a88f2 276.5px,#7592f2 278px,#8ea6f4 279.5px,#beccf8 281.5px,#d7e0fb 282.5px,#ebf0fd 283.5px,#f6f8f1 284.5px,#fafbe9 285px,#fdfdc2)"></i><i style="background:linear-gradient(#f2c844,#f4d046 69px,#f7df51 106px,#fcf662 129.5px,#fdfb6a 135px,#fefc96 148.5px,#fbfce5 167.5px,#eff3fd 178.5px,#ccd7f9 188.5px,#859ff3 202.5px,#7390f2 208.5px,#7290f2 214.5px,#809bf3 219px,#9fb3f5 224px,#d7e0fb 231px,#eff3fd 235px,#fbfce8 240px,#fdfdbf 244.5px,#fefda6 249px,#fefda4 251.5px,#fefdad 254px,#fdfdc4 257px,#fbfce9 260px,#ecf1fd 263.5px,#d2dcfa 266px,#819bf3 271px,#708df2 272.5px,#6382f1 275px,#6685f1 277px,#718ff2 278.5px,#8aa3f4 280px,#bac9f8 282px,#d5defa 283px,#e9eefd 284px,#f1f4fa 284.5px,#fafbea 285.5px,#fcfcd9)"></i><i style="background:linear-gradient(#f2c744,#f4cf46 69.5px,#f7df50 107px,#fcf662 130.5px,#fdfb6a 136px,#fefc95 149px,#fbfce6 168.5px,#ecf1fd 180px,#cdd8f9 189px,#859ff3 203px,#7390f2 209px,#728ff2 215px,#7f9af3 219.5px,#9db2f5 224.5px,#d8e1fb 232px,#f0f3fc 236px,#fbfce5 241px,#fdfdbf 245.5px,#fefda9 250px,#fefda8 252.5px,#fdfdba 256px,#fcfcd8 259px,#fafbea 260.5px,#eff3fd 263.5px,#cfd9fa 266.5px,#7d98f3 271.5px,#6d8bf2 273px,#607ff1 275.5px,#6382f1 277.5px,#7491f2 279.5px,#90a8f4 281px,#d2dcfa 283.5px,#f0f4fb 285px,#f9faec)"></i><i style="background:linear-gradient(#f2c643,#f3ce45 69.5px,#f6dc4e 105px,#fbf25f 129px,#fdfb69 136.5px,#fefc94 149.5px,#fbfce6 169px,#edf1fd 180.5px,#cdd8f9 189.5px,#859ff3 203.5px,#7290f2 209.5px,#718ef2 215.5px,#7b97f3 219.5px,#97adf5 224.5px,#d7e0fb 232.5px,#eff3fd 236.5px,#fbfce8 241.5px,#fdfdc2 246px,#fefdae 250px,#fefdab 252.5px,#fefdb6 255.5px,#fcfccf 258.5px,#fbfce8 260.5px,#eef2fd 264px,#ccd7f9 267px,#7a95f3 272px,#6685f1 274px,#5d7df1 276px,#5f7ff1 278px,#708ef2 280px,#8ca4f4 281.5px,#c0cef8 283.5px,#dae2fb 284.5px,#eff3fd 285.5px,#f3f6f5)"></i><i style="background:linear-gradient(#f2c543,#f3cd45 70px,#f6da4d 103px,#fbf05d 128px,#fdfb69 137.5px,#fefc95 150.5px,#fafbea 171px,#edf1fd 181px,#cdd8f9 190px,#859ff3 204px,#728ff2 210px,#708ef2 216px,#7a96f3 220px,#95acf5 225px,#d8e1fb 233.5px,#eff3fc 237.5px,#fbfce7 242.5px,#fdfdc1 247px,#fefdb1 250.5px,#fefdaf 253.5px,#fdfdbb 256.5px,#fcfcd7 259.5px,#fbfce9 261px,#ecf1fd 264.5px,#d2dcfa 267px,#7693f2 272.5px,#607ff1 275px,#5979f1 277px,#5f7ef1 279px,#7390f2 281px,#93aaf4 282.5px,#d7e0fb 285px,#ecf1fd)"></i><i style="background:linear-gradient(#f1c443,#f3cb45 70px,#f6d84b 102px,#faee5c 127.5px,#fdfb69 138.5px,#fefc95 151.5px,#fafbea 171.5px,#ecf0fd 182px,#cbd7f9 191px,#839df3 205px,#728ff2 210.5px,#708df2 216.5px,#7894f3 220.5px,#93aaf4 225.5px,#ccd7f9 232.5px,#eff3fd 238px,#fbfce5 243.5px,#fdfdc1 248px,#fefdb2 251.5px,#fefdb3 254.5px,#fdfdc1 257.5px,#fbfcdf 260.5px,#f9faed 262px,#eff3fc 264.5px,#d0dafa 267.5px,#7390f2 273px,#5d7df1 275.5px,#5677f0 277.5px,#5b7cf1 279.5px,#6f8df2 281.5px,#829cf3 282.5px,#b6c6f7 284.5px,#d4ddfa 285.5px,#dee6fb)"></i><i style="background:linear-gradient(#f1c342,#f3ca44 70.5px,#f5d74b 102.5px,#faed5b 128px,#fdfb69 139.5px,#fefc96 152.5px,#fbfce9 172px,#ecf1fd 182.5px,#ccd7f9 191.5px,#839df3 205.5px,#728ff2 211px,#6f8df2 217px,#7995f3 221.5px,#94abf5 226.5px,#d8e1fb 235px,#eff3fc 239px,#fbfce8 244px,#fdfdc4 248.5px,#fefdb5 252px,#fefdb5 255px,#fdfdc3 258px,#fbfce1 261px,#fafbeb 262px,#eff3fd 265px,#cfd9fa 268px,#7894f3 273px,#5e7ef1 275.5px,#5475f0 277.5px,#5576f0 279.5px,#6584f1 281.5px,#728ff2 282.5px,#95acf5 284px,#d0dafa)"></i><i style="background:linear-gradient(#f1c242,#f2c944 71px,#f5d74a 103.5px,#faec5a 128.5px,#fdfb69 140.5px,#fefc97 153.5px,#fafbea 173px,#edf1fd 183px,#ccd7f9 192px,#839df3 206px,#728ff2 211.5px,#6e8cf2 217.5px,#7794f3 222px,#92a9f4 227px,#cbd6f9 234px,#eff3fd 239.5px,#fbfce6 245px,#fdfdc6 249px,#fdfdb7 252.5px,#fdfdb7 255.5px,#fdfdc5 258.5px,#fbfce2 261.5px,#f9fbeb 262.5px,#eef2fd 265.5px,#cdd8f9 268.5px,#7693f2 273.5px,#5c7cf1 276px,#5173f0 278px,#5274f0 280px,#6181f1 282px,#7793f3 283.5px,#acbef6 285.5px,#bac9f8)"></i><i style="background:linear-gradient(#f1c042,#f2c844 71px,#f5d64a 104.5px,#faec5a 129.5px,#fdfb69 141.5px,#fefc97 154.5px,#fafbe9 173.5px,#edf2fd 183.5px,#cdd8f9 192.5px,#819cf3 207px,#718ef2 212.5px,#6e8cf2 218.5px,#7894f3 223px,#94aaf4 228px,#d7e0fb 236.5px,#eff3fd 240.5px,#fbfce5 246px,#fdfdc6 250px,#fdfdb9 253.5px,#fdfdba 256.5px,#fcfcca 259.5px,#fbfce9 262.5px,#eef2fd 266px,#ccd7f9 269px,#7591f2 274px,#5a7bf1 276.5px,#4f71f0 278.5px,#4f71f0 280.5px,#5d7df1 282.5px,#728ff2 284px,#97adf5 285.5px,#a6b9f6)"></i><i style="background:linear-gradient(#f0bf41,#f2c743 71.5px,#f5d64a 106px,#faeb5a 130.5px,#fdfb69 142.5px,#fefc96 155px,#fafbea 174.5px,#ecf1fd 184.5px,#cbd6f9 193.5px,#829cf3 207.5px,#708ef2 213px,#6d8bf2 219px,#7693f2 223.5px,#91a9f4 228.5px,#d6dffa 237px,#f0f3fc 241.5px,#fbfce8 246.5px,#fdfdc9 250.5px,#fdfdbb 254px,#fdfdbc 257px,#fcfccc 260px,#fafbe9 263px,#eef2fd 266.5px,#ccd7f9 269.5px,#7390f2 274.5px,#5576f0 277.5px,#4b6df0 279.5px,#4e70f0 281.5px,#5f7ff1 283.5px,#7793f3 285px,#91a8f4)"></i><i style="background:linear-gradient(#f0be41,#f2c643 72px,#f5d64a 108px,#faec5a 132px,#fdfb69 143.5px,#fefc97 156px,#fafbea 175px,#edf1fd 185px,#ccd7f9 194px,#829cf3 208px,#708ef2 213.5px,#6d8af2 219.5px,#7793f2 224.5px,#93aaf4 229.5px,#d7e0fb 238px,#eff3fd 242px,#fbfce6 247.5px,#fdfdc9 251.5px,#fdfdbc 255px,#fdfdbf 258px,#fcfcd1 261px,#fafbea 263.5px,#eef2fd 267px,#ccd7f9 270px,#7390f2 275px,#5374f0 278px,#496bf0 280px,#4b6df0 282px,#5677f0 283.5px,#718ff2 285.5px,#7d98f3)"></i><i style="background:linear-gradient(#f0bd41,#f1c443 72px,#f5d549 109.5px,#faec5b 133.5px,#fdfb69 144.5px,#fefc97 157px,#fafce9 175.5px,#edf1fd 185.5px,#ccd7f9 194.5px,#809bf3 209px,#708ef2 214px,#6c8af2 220px,#7592f2 225px,#90a8f4 230px,#d8e1fb 239px,#eff3fc 243px,#fbfce5 248.5px,#fdfdc8 252.5px,#fdfdbd 256px,#fdfdc2 259px,#fcfcd6 262px,#fafbea 264px,#eef2fd 267.5px,#ccd7f9 270.5px,#7290f2 275.5px,#5273f0 278.5px,#4869f0 280.5px,#486af0 282.5px,#5273f0 284px,#6d8bf2)"></i><i style="background:linear-gradient(#f0bc41,#f1c342 72.5px,#f5d448 108.5px,#f9ea59 133px,#fdfb69 145.5px,#fefc98 158px,#fafbea 176.5px,#ecf1fd 186.5px,#cdd8f9 195px,#809bf3 209.5px,#708df2 214.5px,#6b89f2 220.5px,#7390f2 225.5px,#8ea6f4 230.5px,#cbd6f9 238px,#eef2fd 243.5px,#fbfce8 249px,#fcfccb 253px,#fdfdbf 256.5px,#fdfdc3 259.5px,#fcfcd6 262.5px,#fafbea 264.5px,#eef2fd 268px,#cdd8f9 271px,#7390f2 276px,#5173f0 279px,#4566ef 281.5px,#4869f0 283.5px,#5374f0 285px,#6080f1)"></i><i style="background:linear-gradient(#f0bb40,#f1c242 73px,#f4d146 107px,#f9e757 132px,#fdfb69 146.5px,#fefc99 159px,#fafbe9 177px,#edf1fd 187px,#cbd7f9 196px,#819bf3 210px,#708df2 215px,#6b89f2 221px,#7491f2 226.5px,#8fa7f4 231.5px,#cdd8f9 239px,#eff3fd 244.5px,#fbfce7 250px,#fcfccb 254px,#fdfdc0 257.5px,#fdfdc6 260.5px,#fcfcd6 263px,#fafce9 265px,#eff3fd 268.5px,#cfd9fa 271.5px,#7390f2 276.5px,#5072f0 279.5px,#4365ef 282px,#4567ef 284px,#4f71f0 285.5px,#5576f0)"></i><i style="background:linear-gradient(#efb940,#f1c142 73px,#f4d046 107px,#f9e656 132.5px,#fdfb69 147.5px,#fefc99 160px,#fafbea 178px,#edf2fd 187.5px,#ccd7f9 196.5px,#7f9af3 211px,#6f8df2 216px,#6a88f2 222px,#7491f2 227.5px,#90a8f4 232.5px,#d8e1fb 241.5px,#eff3fc 245.5px,#fbfce5 251px,#fcfcca 255px,#fdfdc2 258px,#fdfdc6 261px,#fcfcd5 263.5px,#fbfce9 265.5px,#eff3fc 269px,#d0dbfa 272px,#7491f2 277px,#5072f0 280px,#4263ef 282.5px,#4364ef 284.5px,#4c6df0)"></i><i style="background:linear-gradient(#efb840,#f0bf41 73.5px,#f4cf46 107.5px,#f8e555 133px,#fdfb67 148px,#fefc98 160.5px,#fafbe9 178.5px,#ecf1fd 188.5px,#cdd8f9 197px,#7f9af3 211.5px,#6f8df2 216.5px,#6988f2 222.5px,#7290f2 228px,#8aa3f4 232.5px,#c7d3f9 240px,#dce4fb 243px,#eff3fd 246px,#fbfce8 251.5px,#fcfccc 255.5px,#fdfdc2 259px,#fdfdc8 262px,#fcfcd9 264.5px,#fafbeb 266.5px,#edf1fd 270px,#d2dcfa 272.5px,#6e8cf2 278px,#4c6ef0 281px,#3f60ef 283.5px,#4263ef 285.5px,#4566ef)"></i><i style="background:linear-gradient(#efb73f,#f0be41 74px,#f3ce45 108px,#f8e253 132px,#fdfb67 149px,#fefc98 161.5px,#fafbea 179.5px,#edf1fd 189px,#cbd7f9 198px,#7e99f3 212.5px,#6f8df2 217px,#6987f2 223px,#718ef2 228.5px,#87a1f4 233px,#bfcdf8 240px,#d4defa 242.5px,#eff3fd 247px,#fbfce7 252.5px,#fcfccc 256.5px,#fdfdc3 259.5px,#fdfdc8 262.5px,#fcfcd7 265px,#fafbea 267px,#eef2fd 270.5px,#cdd8f9 273.5px,#708df2 278.5px,#4c6ef0 281.5px,#3e5fef 284px,#3f61ef)"></i><i style="background:linear-gradient(#efb63f,#f0bd41 74.5px,#f3cc45 108.5px,#f7df50 130px,#fdfb67 150px,#fefc96 162px,#fafbe9 180px,#ecf1fd 190px,#ccd7f9 198.5px,#7e99f3 213px,#6e8cf2 218px,#6887f2 224px,#718ff2 229.5px,#88a1f4 234px,#c0cef8 241px,#d8e1fb 244px,#eff3fc 248px,#fbfce6 253.5px,#fcfccb 257.5px,#fdfdc4 260.5px,#fdfdc9 263.5px,#fcfcda 266px,#fbfce9 267.5px,#ebf0fd 271.5px,#d0dafa 274px,#728ff2 279px,#4d6ff0 282px,#3d5eef 284.5px,#3c5def)"></i><i style="background:linear-gradient(#eeb43f,#f0bc40 74.5px,#f3cb44 108.5px,#f6da4d 127.5px,#fcf662 148px,#fdfb6a 152px,#fefd9b 164px,#fafbea 181px,#edf1fd 190.5px,#cdd8f9 199px,#7f9af3 213.5px,#6e8cf2 218.5px,#6886f2 224.5px,#708df2 230px,#829df3 234px,#b0c1f7 240px,#d6dffa 244.5px,#eff3fd 248.5px,#fbfce8 254px,#fcfccd 258px,#fdfdc4 261px,#fdfdc8 264px,#fcfcd8 266.5px,#fafbea 268.5px,#eef2fd 272px,#d3ddfa 274.5px,#88a1f4 278.5px,#6d8bf2 280px,#4e70f0 282.5px,#3d5eef 285px,#3a5bef)"></i><i style="background:linear-gradient(#eeb33e,#efba40 75px,#f2c944 109px,#f6d94c 127.5px,#fcf461 148px,#fdfb6a 153px,#fefd9c 165px,#fafbe9 181.5px,#ecf0fd 191.5px,#ccd7f9 200px,#7d98f3 214.5px,#6d8bf2 219.5px,#6786f1 225.5px,#708df2 231px,#839df3 235px,#b6c6f7 241.5px,#d4ddfa 245px,#eff3fd 249.5px,#fbfce7 255px,#fcfccc 259px,#fdfdc4 262px,#fdfdc9 265px,#fcfcda 267.5px,#fbfce9 269px,#ebf0fd 273px,#d0dafa 275.5px,#708df2 280.5px,#4a6cf0 283.5px,#3b5bef)"></i><i style="background:linear-gradient(#eeb23e,#efb940 75.5px,#f2c844 109.5px,#f6d84b 128px,#fbf360 148.5px,#fdfb6a 154px,#fefd9c 166px,#fafbea 182.5px,#edf1fd 192px,#cdd8f9 200.5px,#7e99f3 215px,#6e8cf2 219.5px,#6685f1 225.5px,#6d8bf2 231px,#7b96f3 234.5px,#9db2f5 239.5px,#d5defa 246px,#eff3fc 250.5px,#fbfce5 256px,#fcfccb 260px,#fdfdc4 263px,#fdfdca 266px,#fcfcdb 268.5px,#f9faec 270.5px,#eef2fd 273.5px,#d3ddfa 276px,#91a8f4 279.5px,#6c8af2 281.5px,#4c6ef0 284px,#3d5eef)"></i><i style="background:linear-gradient(#eeb13e,#efb83f 76px,#f2c743 110px,#f5d74b 129px,#fbf360 149.5px,#fdfb6a 155px,#fefd9d 167px,#fbfce9 183px,#ecf0fd 193px,#cbd7f9 201.5px,#7c97f3 216px,#6c8af2 221px,#6685f1 227px,#6e8cf2 232.5px,#7e99f3 236px,#a7baf6 241.5px,#d6dffa 247px,#eef3fd 251px,#fbfce8 256.5px,#fcfccc 260.5px,#fdfdc3 263.5px,#fdfdc8 266.5px,#fcfcd7 269px,#fafbea 271px,#edf1fd 274.5px,#d1dbfa 277px,#6f8df2 282px,#4e70f0 284.5px,#4062ef)"></i><i style="background:linear-gradient(#edaf3d,#efb63f 76px,#f2c543 110.5px,#f5d74a 130px,#fbf25f 150px,#fdfb6a 156px,#fefd9d 168px,#fafbea 184px,#edf1fd 193.5px,#cdd8f9 202px,#7d98f3 216.5px,#6c8af2 221.5px,#6584f1 227.5px,#6d8bf2 233px,#7b97f3 236.5px,#a3b7f6 242px,#d7e0fa 248px,#eff3fd 252px,#fbfce6 257.5px,#fcfccb 261.5px,#fdfdc2 264.5px,#fdfdc7 267.5px,#fcfcd8 270px,#fafbea 272px,#eff3fc 275px,#cdd8f9 278px,#7390f2 282.5px,#4b6cf0 285.5px,#4667ef)"></i><i style="background:linear-gradient(#edae3d,#eeb53f 76.5px,#f1c443 111px,#f5d64a 131px,#fbf25f 151px,#fdfb6a 157px,#fefd9b 168.5px,#fafbea 185px,#ecf0fd 194.5px,#cbd6f9 203px,#7b97f3 217.5px,#6b89f2 222.5px,#6584f1 228.5px,#6d8bf2 234px,#7c97f3 237.5px,#a4b8f6 243px,#d4defa 248.5px,#eff3fc 253px,#fbfce5 258.5px,#fdfdc9 262.5px,#fdfdc1 265.5px,#fdfdc6 268.5px,#fcfcd8 271px,#fbfce8 272.5px,#eff3fd 276px,#d3ddfa 278.5px,#8ea6f4 282px,#708df2 283.5px,#4d6ff0)"></i><i style="background:linear-gradient(#edad3d,#eeb43e 77px,#f1c342 111.5px,#f5d64a 132.5px,#fbf25f 152.5px,#fdfb69 158px,#fefd9b 169.5px,#fafbe9 185.5px,#edf1fd 195px,#cdd8f9 203.5px,#7c97f3 218px,#6b89f2 223px,#6483f1 229px,#6b89f2 234.5px,#7995f3 238px,#9db2f5 243px,#d5defa 249.5px,#f0f3fc 254px,#fbfce7 259px,#fdfdca 263px,#fdfdbf 266px,#fdfdc3 269px,#fcfcd2 271.5px,#fbfce8 273.5px,#eef2fd 277px,#d1dbfa 279.5px,#6d8bf2 284.5px,#5778f0)"></i><i style="background:linear-gradient(#edac3c,#eeb23e 77.5px,#f1c142 112px,#f5d64a 134px,#fbf25f 153.5px,#fdfb69 159px,#fefd9c 170.5px,#fafbea 186.5px,#ecf1fd 196px,#cbd6f9 204.5px,#7a96f3 219px,#6987f2 224.5px,#6483f1 230.5px,#6d8af2 236px,#7c97f3 239.5px,#a6b9f6 245px,#d6dffa 250.5px,#eff3fd 254.5px,#fbfce5 260px,#fdfdc8 264px,#fdfdbd 267px,#fdfdc1 270px,#fcfcd1 272.5px,#fafbeb 275px,#edf2fd 278px,#cfdafa 280.5px,#728ff2 285px,#6282f1)"></i><i style="background:linear-gradient(#ecaa3c,#eeb13e 78px,#f1c042 112.5px,#f5d64a 135.5px,#fbf35f 155px,#fdfb69 160px,#fefd9c 171.5px,#fafbea 187.5px,#edf1fd 196.5px,#cdd8f9 205px,#7995f3 220px,#6786f1 226px,#6382f1 232px,#6e8cf2 237.5px,#7f9af3 241px,#afc1f7 247px,#d7dffa 251.5px,#eff3fc 255.5px,#fbfce8 260.5px,#fdfdc8 264.5px,#fdfdbc 267.5px,#fdfdbd 270.5px,#fcfccb 273px,#fafbeb 276px,#edf1fd 279px,#cdd8f9 281.5px,#6f8df2)"></i><i style="background:linear-gradient(#eca93c,#edb03d 78.5px,#f0bf41 113px,#f5d549 136.5px,#fbf25f 156px,#fdfb6a 161.5px,#fefd9f 173px,#fafbe9 188px,#ecf1fd 197.5px,#cbd7f9 206px,#7a96f3 220.5px,#6887f2 226px,#6282f1 232px,#6b89f2 237.5px,#7995f3 241px,#9eb3f5 246px,#d4ddfa 252px,#f0f3fc 256.5px,#fbfce6 261.5px,#fdfdc5 265.5px,#fdfdb9 268.5px,#fdfdbb 271.5px,#fdfdc9 274px,#fafbea 277px,#ecf1fd 280px,#ccd7f9 282.5px,#819bf3)"></i><i style="background:linear-gradient(#eca83b,#edae3d 79px,#f0bd41 113.5px,#f5d549 138px,#fbf25f 157px,#fdfb6a 162.5px,#fefd9f 174px,#fafbea 189px,#ecf0fd 198.5px,#cdd8f9 206.5px,#7895f3 221.5px,#6685f1 227.5px,#6281f1 233.5px,#6c8af2 239px,#7c98f3 242.5px,#a8bbf6 248px,#d5defa 253px,#eef3fd 257px,#fbfce8 262px,#fdfdc6 266px,#fdfdb7 269px,#fdfdb6 272px,#fdfdc3 274.5px,#fcfcdd 277px,#fafbea 278px,#ecf1fd 281px,#d3ddfa 283px,#95acf5)"></i><i style="background:linear-gradient(#eba63b,#edad3d 79.5px,#f0bc41 114px,#f5d549 139.5px,#fbf35f 158.5px,#fdfb6a 163.5px,#fefd9f 175px,#fafbea 190px,#edf1fd 199px,#ccd7f9 207.5px,#7793f3 222.5px,#6584f1 229px,#6181f1 235px,#6d8bf2 240.5px,#809af3 244px,#b5c6f7 250.5px,#d5defa 254px,#eff3fd 258px,#fbfce6 263px,#fdfdc3 267px,#fefdb4 270px,#fefdb2 272.5px,#fdfdbc 275px,#fcfcd4 277.5px,#fbfce9 279px,#ecf1fd 282px,#d3ddfa 284px,#aabcf6)"></i><i style="background:linear-gradient(#eba53b,#edac3c 80px,#efba40 114.5px,#f4d247 138px,#faee5c 157.5px,#fdfb69 164.5px,#fefd9f 176px,#fbfce9 190.5px,#ecf1fd 200px,#ced8f9 208px,#7894f3 223px,#6684f1 229px,#6080f1 235px,#6a88f2 240.5px,#7995f3 244px,#9fb4f5 249px,#d6dffa 255px,#eff3fc 259px,#fbfce9 263.5px,#fdfdc3 267.5px,#fefdb0 271px,#fefdad 273.5px,#fdfdb9 276px,#fcfcd2 278.5px,#fbfce8 280px,#edf1fd 283px,#d3ddfa 285px,#bfcdf8)"></i><i style="background:linear-gradient(#eba43a,#ecaa3c 80.5px,#efb940 115.5px,#f4d046 138.5px,#faee5c 158.5px,#fdfb69 165.5px,#fefd9f 177px,#fafce9 191.5px,#ecf0fd 201px,#cdd8f9 209px,#7793f2 224px,#6483f1 230.5px,#6080f1 236.5px,#6b89f2 242px,#7c97f3 245.5px,#a9bbf6 251px,#d6dffa 256px,#f0f3fc 260px,#fbfce6 264.5px,#fdfdc0 268.5px,#fefda9 272.5px,#fefda9 275px,#fdfdbd 278px,#fcfcde 280.5px,#fafbeb 281.5px,#edf1fd 284px,#d3ddfa)"></i><i style="background:linear-gradient(#eba23a,#eca93c 81px,#efb83f 116px,#f4cf45 139px,#faec5b 159px,#fdfb68 166.5px,#fefd9f 178px,#fafbea 192.5px,#edf1fd 201.5px,#cbd7f9 210px,#7692f2 225px,#6382f1 231.5px,#5f7ff1 237.5px,#6b89f2 243px,#7c97f3 246.5px,#a9bbf6 252px,#d7dffa 257px,#eef2fd 260.5px,#fbfce9 265px,#fdfdbc 269.5px,#fefda5 273px,#fefda2 275.5px,#fefdad 277.5px,#fdfdc5 280px,#fafbea 282.5px,#eef2fd 285px,#e1e8fc)"></i><i style="background:linear-gradient(#eaa13a,#eca83b 81.5px,#efb63f 116.5px,#f3cd45 139.5px,#f9e757 157.5px,#fdfb68 167.5px,#fefd9c 178.5px,#fafbea 193.5px,#edf1fd 202.5px,#cdd8f9 210.5px,#7793f2 225.5px,#6382f1 232px,#5e7ef1 238px,#6887f2 243.5px,#7894f3 247px,#a0b4f5 252px,#d7e0fb 258px,#eff3fd 261.5px,#fbfce7 266px,#fdfdb8 270.5px,#fefd9f 274px,#fefd9b 276px,#fefda3 278px,#fdfdc1 281px,#fbfce9 283.5px,#eff3fd)"></i><i style="background:linear-gradient(#eaa039,#eba63b 82px,#eeb53f 117px,#f3cb45 140px,#f7e051 154.5px,#fdfb67 168.5px,#fefd9c 179.5px,#fafbea 194.5px,#ecf1fd 203.5px,#cdd8f9 211.5px,#7692f2 226.5px,#6181f1 233.5px,#5e7ef1 239.5px,#6a88f2 245px,#7b96f3 248.5px,#a9bbf6 254px,#d4ddfa 258.5px,#eff3fd 262.5px,#fafbe9 266.5px,#fefdb4 271.5px,#fefd9b 274.5px,#fefc95 277px,#fefd9d 279px,#fdfdbe 282px,#fbfce7 284.5px,#f4f7f4)"></i><i style="background:linear-gradient(#ea9e39,#eba53b 82.5px,#eeb33e 117.5px,#f3ca44 140.5px,#f6db4e 153px,#fdfb66 169.5px,#fefd9c 180.5px,#fbfce9 195px,#ecf0fd 204.5px,#ccd7f9 212.5px,#7491f2 227.5px,#6080f1 234.5px,#5d7df1 240.5px,#6987f2 246px,#7a96f3 249.5px,#a8bbf6 255px,#d4ddfa 259.5px,#eff3fc 263.5px,#fbfce8 267.5px,#fefdb5 272px,#fefc98 275px,#fefc8e 277.5px,#fefc93 279.5px,#fefda6 281.5px,#fcfcd1 284.5px,#fafbea)"></i><i style="background:linear-gradient(#ea9d38,#eba33a 83px,#eeb23e 118px,#f2c844 141px,#f6d94c 153px,#fdfa65 170px,#fefc8b 178.5px,#fdfdc8 190px,#fafbea 196.5px,#edf2fd 205px,#cbd6f9 213.5px,#7390f2 228.5px,#5f7ff1 235.5px,#5c7cf1 241.5px,#6887f2 247px,#7995f3 250.5px,#a8bbf6 256px,#d4ddfa 260.5px,#eff3fc 264.5px,#fbfce6 268.5px,#fefda4 274px,#fefc8e 276.5px,#fdfc88 278.5px,#fefc8d 280.5px,#fefd9f 282.5px,#fcfccc 285.5px,#fcfcd5)"></i><i style="background:linear-gradient(#e99b38,#eba23a 83.5px,#edb03e 119px,#f2c743 142px,#f6d84c 154px,#fdf964 171px,#fdfc7e 177px,#fbfce9 197px,#edf1fd 206px,#cdd8f9 214px,#7592f2 229px,#607ff1 236px,#5b7bf1 242px,#6685f1 247.5px,#7895f3 251.5px,#a7bbf6 257px,#d4ddfa 261.5px,#f0f3fc 265.5px,#fbfce9 269px,#fefc94 276px,#fdfc83 278.5px,#fdfc82 280.5px,#fefc8e 282.5px,#fefda7 284.5px,#fdfdbf)"></i><i style="background:linear-gradient(#e99a38,#eaa039 84px,#edaf3d 119.5px,#f2c543 142.5px,#f5d84b 155px,#fdf964 172px,#fdfc73 176px,#fefdac 186.5px,#fbfce9 198px,#edf1fd 207px,#cdd8f9 215px,#7491f2 230px,#5f7ff1 237px,#5a7bf1 243px,#6584f1 248.5px,#7794f3 252.5px,#a2b6f5 257.5px,#d4ddfa 262.5px,#eef2fd 266px,#fbfce8 270px,#fefc93 276.5px,#fdfc7e 279px,#fdfc7a 281px,#fdfc83 283px,#fefc99 285px,#fefda9)"></i><i style="background:linear-gradient(#e99938,#ea9f39 84.5px,#edad3d 120px,#f1c343 143px,#f5d74a 156px,#fdf864 173px,#fdfb70 176.5px,#fefda9 187px,#fbfce9 199px,#edf1fd 208px,#ccd7f9 216px,#7390f2 231px,#5d7df1 238.5px,#5a7af1 244.5px,#6685f1 250px,#7a96f3 254px,#abbdf6 259.5px,#d7e0fb 264px,#eef2fd 267px,#fbfce6 271px,#fefc8d 277.5px,#fdfc78 280px,#fdfc73 282px,#fdfc7b 284px,#fefc92)"></i><i style="background:linear-gradient(#e89737,#ea9d39 85px,#edac3c 120.5px,#f1c242 144px,#f5d74a 157.5px,#fdf964 174.5px,#fdfb72 178px,#fefdab 188.5px,#fbfce9 200px,#ecf1fd 209px,#ccd7f9 217px,#7290f2 232px,#5c7cf1 239.5px,#5979f1 245.5px,#6584f1 251px,#7895f3 255px,#aabcf6 260.5px,#d7e0fb 265px,#eef2fd 268px,#fafbea 271.5px,#fdfc87 278.5px,#fdfb71 281px,#fdfb6c 283px,#fdfc74 285px,#fdfc7d)"></i><i style="background:linear-gradient(#e89637,#e99c38 86px,#ecaa3c 121.5px,#f1c042 144.5px,#f5d64a 158.5px,#fdf864 175.5px,#fdfb71 179px,#fefdaa 189.5px,#fbfce9 201px,#ecf1fd 210px,#cbd7f9 218px,#7491f2 232.5px,#5c7cf1 240px,#5778f0 246px,#6281f1 251.5px,#7793f3 256px,#a3b7f6 261px,#d7dffa 266px,#eef3fd 269px,#fbfce9 272.5px,#fdfc81 279.5px,#fdfb6b 282px,#fdfb66 284px,#fdfb69 285.5px,#fdfb6d)"></i><i style="background:linear-gradient(#e89437,#e99b38 86.5px,#eca93c 122.5px,#f0bf41 145.5px,#f5d64a 160px,#fcf763 176.5px,#fdfb6b 179px,#fefda3 189.5px,#fafbea 202.5px,#ecf1fd 211px,#cbd7f9 219px,#7390f2 233.5px,#5b7cf1 241px,#5677f0 247px,#6180f1 252.5px,#7592f2 257px,#a2b6f5 262px,#d6dffa 267px,#eef2fd 270px,#fbfce8 273.5px,#fdfc83 280px,#fdfb68 282.5px,#fcf763 285.5px,#fcf863)"></i><i style="background:linear-gradient(#e79337,#e99938 87px,#eca73b 123px,#f0bd41 146px,#f5d64a 161.5px,#fdf864 178px,#fdfb6e 181px,#fefda9 191.5px,#fafbea 203.5px,#ecf1fd 212px,#cbd6f9 220px,#7390f2 234.5px,#5b7bf1 242px,#5576f0 248px,#5f7ff1 253.5px,#7390f2 258px,#9bb0f5 262.5px,#d5defa 268px,#eef2fd 271px,#fbfce7 274.5px,#fefda7 278.5px,#fdfc7e 281px,#fdfb66 283px,#fbf360)"></i><i style="background:linear-gradient(#e79136,#e89837 88px,#eba63b 124px,#f0bc41 147px,#f5d64a 163px,#fdf864 179.5px,#fdfb6f 182.5px,#fefdab 193px,#fafbea 204.5px,#edf1fd 213px,#cbd6f9 221px,#728ff2 235.5px,#5a7af1 243px,#5475f0 249px,#5e7ef1 254.5px,#7591f2 259.5px,#9eb3f5 264px,#d4defa 269px,#eef2fd 272px,#fbfce6 275.5px,#fefc9a 280px,#fdfb72 282.5px,#fdfb66 283.5px,#fbf05e)"></i><i style="background:linear-gradient(#e79036,#e89637 88.5px,#eba43a 124.5px,#f0bb40 148px,#f5d64a 164.5px,#fdf964 181px,#fdfc78 185.5px,#fbfce8 205px,#edf1fd 214px,#cbd6f9 222px,#728ff2 236.5px,#597af1 244px,#5374f0 250px,#5c7cf1 255.5px,#7390f2 260.5px,#9bb1f5 265px,#d8e0fb 270.5px,#eef2fd 273px,#fbfce6 276.5px,#fefda0 280.5px,#fdfc75 283px,#fdfb67 284px,#fbf05d)"></i><i style="background:linear-gradient(#e78e36,#e89437 89px,#eba23a 125px,#efb940 148.5px,#f5d549 166px,#fdf864 182px,#fdfb72 185.5px,#fbfce9 206.5px,#edf1fd 215px,#cbd7f9 223px,#718ff2 237.5px,#5879f1 245px,#5273f0 251px,#5b7bf1 256.5px,#708ef2 261.5px,#93aaf4 265.5px,#d7dffa 271.5px,#edf1fd 274px,#fbfce6 277.5px,#fefda8 281px,#fdfb71 284px,#fdf964 285px,#fbf25f)"></i><i style="background:linear-gradient(#e68d36,#e79337 90px,#eaa13a 126px,#efb73f 149.5px,#f5d549 167.5px,#fdf864 183.5px,#fdfb70 186.5px,#fefdad 197px,#fafbea 208px,#edf2fd 216px,#ccd7f9 224px,#718ef2 238.5px,#5878f0 246px,#5172f0 252px,#5979f1 257.5px,#6e8cf2 262.5px,#86a0f4 265.5px,#c4d1f9 271px,#d5defa 272.5px,#f0f3fc 275.5px,#fbfce6 278.5px,#fefda7 282px,#fdfb6e 285px,#fdfb66 285.5px,#fcf763)"></i><i style="background:linear-gradient(#e68b35,#e79136 90.5px,#ea9f39 127px,#efb63f 150.5px,#f5d549 169px,#fdf964 185px,#fdfc76 189px,#fbfce9 208.5px,#ecf0fd 217.5px,#ccd7f9 225px,#718ef2 239.5px,#5778f0 247px,#4f71f0 253px,#5778f0 258.5px,#6c8af2 263.5px,#7e99f3 266px,#b5c5f7 271px,#d4ddfa 273.5px,#eff3fd 276.5px,#fbfce7 279.5px,#fefda6 283px,#fdfb6b)"></i><i style="background:linear-gradient(#e68a35,#e79036 91.5px,#ea9e39 128px,#eeb43f 151.5px,#f5d549 170.5px,#fdf964 186.5px,#fdfc7f 192px,#fdfdc6 204px,#fafce9 210px,#ecf1fd 218.5px,#cdd8f9 226px,#718ef2 240.5px,#5677f0 248px,#4e70f0 254px,#5576f0 259.5px,#6988f2 264.5px,#7b96f3 267px,#b2c3f7 272px,#d7e0fb 275px,#eff3fd 277.5px,#fbfce8 280.5px,#fefda6 284px,#fdfc7c)"></i><i style="background:linear-gradient(#e58835,#e68e36 92px,#e99c38 128.5px,#eeb23e 152px,#f4d046 169.5px,#fcf460 186px,#fdfb6a 189.5px,#fefda8 200px,#fafbea 211.5px,#edf1fd 219.5px,#cdd8f9 227px,#718ef2 241.5px,#5475f0 249.5px,#4c6ef0 255.5px,#5274f0 260.5px,#6685f1 265.5px,#7b97f3 268.5px,#b5c5f7 273.5px,#d5defa 276px,#edf1fd 278.5px,#fbfce9 281.5px,#fefda6 285px,#fefc90)"></i><i style="background:linear-gradient(#e58735,#e68d36 93px,#e99b38 129.5px,#eeb03e 153px,#f3ce45 170.5px,#fbf15f 186.5px,#fdfb68 190.5px,#fefda6 201px,#fafbe9 212.5px,#eef2fd 220.5px,#cbd6f9 228.5px,#718ef2 242.5px,#5375f0 250.5px,#4b6df0 256.5px,#5173f0 262px,#6685f1 267px,#7794f3 269.5px,#abbdf6 274px,#d8e0fb 277.5px,#eff3fc 280px,#fafbea 282.5px,#fefdb3 285.5px,#fefda8)"></i><i style="background:linear-gradient(#e58534,#e68b35 93.5px,#e99938 130.5px,#edaf3d 154px,#f3cd45 171.5px,#faec5b 186px,#fdfb69 192px,#fefda7 202.5px,#fafbea 214px,#ecf1fd 222px,#ccd7f9 229.5px,#718ef2 243.5px,#5374f0 251.5px,#4a6bf0 257.5px,#4f71f0 263px,#6382f1 268px,#7894f3 271px,#adbff6 275.5px,#d5defa 278.5px,#eef2fd 281px,#fbfce6 284px,#fdfdbf)"></i><i style="background:linear-gradient(#e48434,#e58a35 94.5px,#e89737 131.5px,#edad3d 155px,#f3cb45 172.5px,#f8e253 183.5px,#fdfb69 193.5px,#fefda5 203.5px,#fafbe9 215px,#edf2fd 223px,#cdd8f9 230.5px,#6f8df2 245px,#5172f0 253px,#486af0 259px,#4d6ff0 264.5px,#607ff1 269px,#7995f3 272.5px,#b0c1f7 277px,#d8e0fb 280px,#f0f3fc 282.5px,#fbfce9 285px,#fcfcd5)"></i><i style="background:linear-gradient(#e48234,#e58835 95.5px,#e89637 132.5px,#edac3c 156px,#f2c944 173.5px,#f6db4e 182px,#fdfb66 194.5px,#fefda2 204.5px,#fafbea 216.5px,#ecf1fd 224.5px,#cbd7f9 232px,#6f8df2 246px,#5072f0 254px,#4668ef 260.5px,#4c6ef0 266px,#5f7ff1 270.5px,#7995f3 274px,#b9c8f8 279px,#d5defa 281px,#eef3fd 283.5px,#fafbeb)"></i><i style="background:linear-gradient(#e48134,#e58635 96px,#e89437 133px,#eca93c 156.5px,#f2c744 174.5px,#f6da4d 183px,#fdfb66 196px,#fefda3 206px,#fbfce9 217.5px,#eef2fd 225.5px,#cdd8f9 233px,#708df2 247px,#4f71f0 255px,#4566ef 261.5px,#496bf0 267px,#5979f1 271px,#7491f2 275px,#adbff6 279.5px,#d6dffa 282.5px,#eff3fc 285px,#f4f7f4)"></i><i style="background:linear-gradient(#e37f33,#e48534 97px,#e79237 134.5px,#eca83b 158px,#f2c543 175.5px,#f6d84b 184px,#fdfb66 197.5px,#fefda3 207.5px,#fafbe9 219px,#edf1fd 227px,#cbd7f9 234.5px,#708ef2 248px,#4f71f0 256px,#4364ef 262.5px,#4667ef 267.5px,#5576f0 272px,#7491f2 276.5px,#afc0f7 281px,#d8e1fb 284px,#edf2fd)"></i><i style="background:linear-gradient(#e37d33,#e48334 98px,#e79136 135.5px,#eba63b 159px,#f1c343 176.5px,#f5d84b 185.5px,#fdfb68 199.5px,#fefda7 209.5px,#fafbea 220.5px,#ecf1fd 228.5px,#cdd8f9 235.5px,#6f8cf2 249.5px,#4d6ff0 257.5px,#4162ef 264px,#4466ef 269px,#5475f0 273.5px,#7491f2 278px,#b0c1f7 282.5px,#d4defa 285px,#dfe6fb)"></i><i style="background:linear-gradient(#e37c33,#e48134 99px,#e78f36 136.5px,#eba43a 160px,#f1c242 178px,#f5d74b 187px,#fdfb67 201px,#fefda7 211px,#fafbea 222px,#eef2fd 229.5px,#ccd7f9 237px,#708df2 250.5px,#4d6ff0 258.5px,#3f60ef 265px,#4263ef 270px,#5072f0 274.5px,#6f8df2 279px,#94abf5 282px,#cfdafa)"></i><i style="background:linear-gradient(#e27a33,#e38033 100px,#e68d36 137.5px,#eba33a 161.5px,#f1c042 179px,#f5d64a 188.5px,#fdfb67 202.5px,#fefda6 212.5px,#fafbea 223.5px,#edf2fd 231px,#cbd7f9 238.5px,#6e8cf2 252px,#4b6df0 260px,#3e5fef 266px,#3f60ef 271px,#4d6ef0 275.5px,#6785f1 279.5px,#7995f3 281.5px,#b9c8f8)"></i><i style="background:linear-gradient(#e27932,#e37e33 101px,#e68b35 138.5px,#eaa13a 162.5px,#f0bf41 180.5px,#f5d64a 190.5px,#fdfb66 204px,#fefda2 213.5px,#fafbea 225px,#edf1fd 232.5px,#ced9fa 239.5px,#6f8df2 253px,#4b6cf0 261px,#3c5def 267px,#3c5def 272px,#496bf0 276.5px,#6281f1 280.5px,#7995f3 283px,#a2b6f5)"></i><i style="background:linear-gradient(#e17732,#e37c33 102px,#e68a35 140px,#ea9f39 164px,#f0bd41 181.5px,#f5d649 192px,#fdfb67 206px,#fefda8 216px,#fafbea 226.5px,#edf1fd 234px,#ced8f9 241px,#6e8cf2 254.5px,#496bf0 262.5px,#3a5bef 268.5px,#3b5cef 273.5px,#486af0 278px,#6180f1 282px,#7894f3 284.5px,#8ba4f4)"></i><i style="background:linear-gradient(#e17532,#e27b33 103.5px,#e58835 141.5px,#ea9e39 165.5px,#f0bb40 183px,#f5d64a 194px,#fdfb66 207.5px,#fefda4 217px,#fafbea 228px,#edf1fd 235.5px,#cdd8f9 242.5px,#6d8bf2 256px,#496bf0 263.5px,#395aef 269.5px,#3959ef 274.5px,#4466ef 279px,#5b7cf1 283px,#7692f2)"></i><i style="background:linear-gradient(#e17431,#e27932 104.5px,#e58635 142.5px,#e99c38 166.5px,#efba40 184.5px,#f5d64a 196px,#fdfb67 209.5px,#fefda6 219px,#fafce9 229.5px,#edf2fd 237px,#cdd8f9 244px,#6f8df2 257px,#4869f0 265px,#3859ef 271px,#3758ef 276px,#4364ef 280.5px,#5a7af1 284.5px,#6685f1)"></i><i style="background:linear-gradient(#e07231,#e27732 105.5px,#e48534 144px,#e99a38 168px,#efb840 186px,#f5d64a 198px,#fdfb68 211.5px,#fefda7 221px,#fbfce9 231px,#ecf0fd 239px,#ced9fa 245.5px,#6e8cf2 258.5px,#486af0 266px,#3758ef 272px,#3556ee 277px,#4061ef 281.5px,#5476f0 285.5px,#5879f1)"></i><i style="background:linear-gradient(#e07031,#e17632 107px,#e48334 145.5px,#e99838 169.5px,#efb63f 187.5px,#f5d549 200px,#fdfb66 213px,#fefda1 222px,#fafbea 233px,#ecf1fd 240.5px,#cbd6f9 247.5px,#6e8cf2 260px,#4769f0 267.5px,#3657ef 273.5px,#3454ee 278.5px,#3e5fef 283px,#4c6ef0)"></i><i style="background:linear-gradient(#e06f31,#e17431 108px,#e48134 146.5px,#e89637 170.5px,#eeb33e 188.5px,#f5d549 202px,#fdfb66 215px,#fefda6 224.5px,#fbfce9 234.5px,#edf2fd 242px,#ccd7f9 249px,#6e8bf2 261.5px,#4768ef 269px,#3556ee 275px,#3353ee 280px,#3e5fef 285px,#4264ef)"></i><i style="background:linear-gradient(#df6d30,#e07231 109.5px,#e37f33 148px,#e89437 172px,#eeb13e 190px,#f5d549 204px,#fdfb66 217px,#fefda7 226.5px,#fafbe9 236.5px,#ecf1fd 244px,#cdd8f9 250.5px,#7894f3 261.5px,#4d6ef0 269px,#3657ef 275.5px,#3152ee 281px,#3b5cef)"></i><i style="background:linear-gradient(#df6b30,#e07031 111px,#e37d33 149.5px,#e79237 173.5px,#edaf3d 191.5px,#f5d549 206.5px,#fdfb66 219px,#fefda3 228px,#fafbea 238.5px,#eef2fd 245.5px,#cbd7f9 252.5px,#6e8cf2 264.5px,#486af0 271.5px,#3455ee 278px,#3152ee 283.5px,#3556ee)"></i><i style="background:linear-gradient(#df6a30,#e06f31 112.5px,#e37c33 151.5px,#e79136 175.5px,#edae3d 193.5px,#f5d549 208.5px,#fdfb68 221.5px,#fefdab 231px,#fafbea 240.5px,#edf1fd 247.5px,#ced8f9 254px,#6c8af2 266.5px,#4768ef 273.5px,#3354ee 280px,#3151ee 285.5px,#3152ee)"></i><i style="background:linear-gradient(#de682f,#df6d30 114px,#e27a32 153px,#e78f36 177px,#edac3c 195px,#f5d549 211px,#fdfb67 223.5px,#fefdaa 233px,#fafbea 242.5px,#edf1fd 249.5px,#cdd8f9 256px,#6d8bf2 268px,#4869f0 275px,#3454ee 281.5px,#2f50ee)"></i><i style="background:linear-gradient(#de662f,#df6b30 115.5px,#e27832 154.5px,#e68d36 179px,#ecaa3c 197px,#f4d046 211.5px,#fdfb66 225.5px,#fefda1 234px,#fafbea 244.5px,#edf1fd 251.5px,#ccd7f9 258px,#6c8af2 270px,#4769f0 277px,#3354ee 283.5px,#3050ee)"></i><i style="background:linear-gradient(#dd642f,#df6930 117.5px,#e17632 156.5px,#e68b35 181px,#eca83b 199px,#f3ce45 213.5px,#fcf863 227px,#fdfb6c 229px,#fdfdc3 241px,#fafce9 246.5px,#edf1fd 253.5px,#ccd7f9 260px,#6f8df2 271.5px,#4869f0 279px,#3354ee 285.5px,#3353ee)"></i><i style="background:linear-gradient(#dd622f,#de672f 114.5px,#e17331 156px,#e58735 181px,#eba33a 199.5px,#f2c844 214px,#f6db4d 220.5px,#fdfb67 230.5px,#fefda9 239.5px,#fbfce9 248.5px,#eef2fd 255.5px,#ccd7f9 262px,#708df2 273.5px,#486af0 281px,#3758ef)"></i><i style="background:linear-gradient(#dd5f2f,#de642f 114.5px,#e07131 158px,#e48534 183px,#eaa13a 201.5px,#f2c543 216px,#f6d94c 222.5px,#fdfb67 233px,#fefdaa 242px,#fafce9 251px,#ecf1fd 258px,#cdd8f9 264px,#6e8cf2 276px,#4769f0 283.5px,#3e5fef)"></i><i style="background:linear-gradient(#dc5d2e,#dd622f 116.5px,#e07031 161.5px,#e48534 186.5px,#eaa13a 204.5px,#f2c643 219px,#f6d84b 225px,#fdfb66 235.5px,#fefdaa 244.5px,#fafbea 253.5px,#eef2fd 260px,#ccd7f9 266.5px,#6e8bf2 278.5px,#4769ef)"></i><i style="background:linear-gradient(#dc5b2e,#dd602f 118.5px,#e06f31 165px,#e48434 189.5px,#eaa039 207.5px,#f2c643 222px,#f6d94c 228px,#fdfb68 238.5px,#fefdad 247.5px,#fafbea 256px,#edf2fd 262.5px,#cbd6f9 269px,#6e8cf2 281px,#5374f0)"></i><i style="background:linear-gradient(#db592e,#dc5d2f 120.5px,#df6c30 165.5px,#e38034 190.5px,#ea9d38 209px,#f1c142 223.5px,#f5d74b 230.5px,#fdfb66 241px,#fefda7 249.5px,#fafbe9 258.5px,#edf2fd 265px,#cbd7f9 271.5px,#6f8df2 283.5px,#6180f1)"></i><i style="background:linear-gradient(#db562e,#dc5b2e 122.5px,#de6930 165px,#e37c33 191px,#e89737 209.5px,#f0bb40 224.5px,#f5d64a 233px,#fdfb66 244px,#fefda9 252.5px,#fbfce9 261px,#ecf1fd 268px,#ced8f9 274px,#718ef2)"></i><i style="background:linear-gradient(#da542e,#db592e 125px,#de652f 165px,#e27932 192.5px,#e89337 211.5px,#efb73f 226.5px,#f5d549 236px,#fdfb66 247px,#fefdaa 255.5px,#fafce9 264px,#eef2fd 270.5px,#cdd8f9 277px,#88a1f4)"></i><i style="background:linear-gradient(#da522e,#db562e 127.5px,#dd632f 168px,#e27832 196.5px,#e89437 215.5px,#efb840 230.5px,#f5d549 239.5px,#fdfb68 250.5px,#fdfdc7 262.5px,#fbfce9 267px,#ecf1fd 274px,#cbd6f9 280.5px,#a1b6f5)"></i><i style="background:linear-gradient(#d94f2d,#da542e 130px,#dd602f 170.5px,#e27732 200.5px,#e79337 219px,#efb63f 233.5px,#f5d549 243px,#fdfb66 253.5px,#fefdab 262px,#fafbea 270.5px,#eef2fd 277px,#ced9fa 283.5px,#bbcaf8)"></i><i style="background:linear-gradient(#d94d2d,#da522e 133px,#dc5e2f 173.5px,#e17632 204.5px,#e79237 223px,#efb63f 237.5px,#f5d64a 247px,#fdfb66 257px,#fefdab 265.5px,#fafbea 274px,#ecf1fd 281px,#d5defa)"></i><i style="background:linear-gradient(#d84b2d,#d94f2d 136px,#dc5b2e 177px,#e17532 208.5px,#e79036 226.5px,#eeb53f 241px,#f5d549 250.5px,#fdfb68 261px,#fdfdc0 272px,#fbfce8 277.5px,#eef2fd 284.5px,#e7ecfc)"></i><i style="background:linear-gradient(#d8482d,#d94d2d 139px,#db592e 180.5px,#e17331 212px,#e68e36 230px,#eeb23e 244.5px,#f5d549 254.5px,#fdfb67 265px,#fdfdbb 275.5px,#fafbe9 282px,#f3f6f6)"></i><i style="background:linear-gradient(#d7462d,#d84a2d 142.5px,#db562e 184px,#e06e31 214px,#e58935 232.5px,#edac3c 247px,#f5d549 259px,#fdfb68 269.5px,#fdfdbe 280.5px,#fbfce7)"></i><i style="background:linear-gradient(#d7432c,#d8482d 146.5px,#da542e 188px,#df6a30 215.5px,#e48434 235px,#eba63b 250px,#f5d449 263.5px,#fdfb69 274.5px,#fdfdc3)"></i><i style="background:linear-gradient(#d7412c,#d7452d 150.5px,#da512e 192.5px,#de652f 217.5px,#e37f33 238px,#eaa039 253px,#f3cc45 266.5px,#fcf763 278.5px,#fdfb69 280px,#fefc99)"></i><i style="background:linear-gradient(#d63e2c,#d7432c 155px,#d94f2d 197.5px,#dd622f 222.5px,#e37f33 244px,#eaa039 259px,#f5d549 275px,#fdfb67 285.5px,#fdfb6b)"></i><i style="background:linear-gradient(#d63c2c,#d6402c 160px,#d94c2d 202.5px,#dd602f 228px,#e37e33 250px,#eba23a 266px,#f4d046 280px,#f8e455)"></i><i style="background:linear-gradient(#d53a2c,#d63d2c 165.5px,#d8492d 208.5px,#dc5d2e 234px,#e37d33 257px,#eba53b 274.5px,#f3cb44)"></i><i style="background:linear-gradient(#d5372c,#d53b2c 172px,#d8462d 215px,#db5a2e 240.5px,#e37e33 266px,#eba23a 282px,#edae3d)"></i><i style="background:linear-gradient(#d4352b,#d5382c 179px,#d7442c 222.5px,#db572e 248px,#e48234 278px,#e89337)"></i><i style="background:linear-gradient(#d4322b,#d4362b 187.5px,#d7412c 231.5px,#da552e 257.5px,#e27a33 285.5px,#e27b33)"></i><i style="background:linear-gradient(#d32f2b,#d4332b 197.5px,#d63e2c 242px,#db552e 272.5px,#de662f)"></i><i style="background:linear-gradient(#d32d2b,#d3302b 210px,#d53c2c 255px,#d9502d)"></i><i style="background:linear-gradient(#d22a2b,#d32e2b 225.5px,#d53b2c 282px,#d63e2c)"></i><i style="background:linear-gradient(#d2282a,#d22b2b 248px,#d3302b)"></i><i style="background:linear-gradient(#d1252a,#d1272a)"></i><i class="n" style="background:linear-gradient(#d1232a,#d1232a)"></i></div><svg class="b" style="left:355px;top:318px" width="287" height="286" viewBox="0 0 287 286" shape-rendering="geometricPrecision"><path fill="#fefda4" d="M0,0 287,0 287,286 262.3,286 261,282 256.9,273 251,261.8 243,249.7 233,237.2 223,226.8 211,216.1 198,206.2 183,196.4 170,188.8 155,180.8 140,173.5 122,165.5 105,158.5 86,151.3 43,136.6 42,124.8 0,108.1Z"/><path fill="#fefc9a" d="M0,0 287,0 287,286 262.7,286 257.5,273 252,262.4 244,249.9 235,238.3 225,227.4 214,217.2 202,207.7 189,198.6 176,190.6 161,182.2 144,173.6 127,165.7 108,157.5 88,149.6 43,133.5 42,118.6 0,99.3Z"/><path fill="#fefc90" d="M0,0 287,0 287,286 263.2,286 257.6,272 252,261.2 244,248.7 234,235.8 224,225.1 212,214.1 200,204.7 185,194.4 172,186.5 158,178.8 142,170.6 125,162.6 106,154.4 87,146.6 43,130.2 42,111.2 15.8,97 0,87.3Z"/><path fill="#fdfc86" d="M0,0 287,0 287,286 263.6,286 258.1,272 252.6,261 244,247.5 235,235.7 225,224.7 213,213.5 200,203.1 186,193.4 173,185.3 159,177.4 144,169.5 127,161.3 91,145.5 43,126.6 42,101.8 33.1,96 16.8,84 9.7,78 0,68.7Z"/><path fill="#fdfc7c" d="M0,0 287,0 287,286 264,286 258.7,272 253,260.5 245,247.6 236,235.5 226,224.3 214,212.8 201,202.2 187,192.3 175,184.6 161,176.5 146,168.4 128,159.4 93,143.4 43,122.6 42,88.8 32.5,80 22,68 15,58 9.6,48 4.7,36 0,20.3Z"/><path fill="#fdfb72" d="M21.5,0 287,0 287,286 264.5,286 259,271.5 253.4,260 246,247.8 237,235.4 227,223.8 216,213 203,202.1 189,191.8 176,183.3 163,175.5 133,159.4 98,142.6 43,118.1 42.3,98 42,67 38.3,61 34.7,54 31.4,46 28.6,38 24.5,21Z"/><path fill="#fdfb68" d="M42,0 287,0 287,286 264.9,286 259.8,272 254.1,260 246.4,247 238,235.2 228,223.4 217,212.3 205,201.9 191,191.3 179,183.2 167,175.7 138,159.4 107,143.7 43,112.9 42.2,76Z"/><path fill="#fcf662" d="M42.2,0 287,0 287,286 265.4,286 260.4,272 255,260.3 247.3,247 239,235 230,224 219,212.5 207,201.8 194,191.6 172,176.6 145,160.6 121,147.6 65.5,119 43,106.8 42.4,71Z"/><path fill="#fbf15e" d="M42.4,0 287,0 287,286 265.8,286 260.5,271 255.5,260 248,246.6 240,234.8 231,223.5 221,212.8 209,201.6 196,191.1 177,177.6 155,163.7 130,149.3 71.6,117 56.4,108 43,99.5Z"/><path fill="#faeb5a" d="M42.5,0 287,0 287,286 266.3,286 261.5,272 256.8,261 250,248.4 242,236 233,224.2 223,213 212,202.3 200,192.1 182,178.6 161,164.7 138,150.6 91.1,123 71.8,111 55.7,100 43,90Z"/><path fill="#f8e555" d="M42.7,0 287,0 287,286 266.7,286 262.1,272 257.5,261 251,248.6 244,237.3 236,226.2 227,215.4 217,205.1 205,194.1 188,180.6 168,166.4 148,153.4 101.2,124 79.1,109 68.5,101 58.9,93 51.4,86 43.9,78 43,76.9Z"/><path fill="#f7df51" d="M42.9,0 287,0 287,286 267.2,286 262.7,272 258.2,261 252,248.8 245,237.1 237,225.7 228,214.7 219,205 208,194.5 193,181.9 175,168.4 158,156.6 113.8,127 94.3,113 84.1,105 76,98 67.7,90 61.3,83 55.6,76 50.8,69 46.7,62 43,54.6Z"/><path fill="#f6da4d" d="M46,0 287,0 287,286 267.6,286 263.3,272 259.3,262 253.6,250 247,238.5 239,226.5 231,216.2 222,206 212,195.9 198,183.5 182,170.7 164,157.4 125.6,130 107.2,116 91,102 83.9,95 77.6,88 70.6,79 64.7,70 59.5,60 55.5,50 52.3,40 49.6,28 47.5,15Z"/><path fill="#f5d448" d="M60.8,0 287,0 287,286 268.1,286 264.5,274 261,264.3 256.5,254 251.3,244 245.4,234 239,224.5 232,215.3 224,206 209,190.7 192,175.7 174,161.3 134.2,131 117.1,117 102.1,103 90.6,90 84,81 78.6,72 73.7,62 69.9,52 66.7,41 64.2,29 62.3,16Z"/><path fill="#f3cd45" d="M75,0 287,0 287,286 268.6,286 265.1,274 262,265 258,255.5 253,245.3 247,234.7 241,225.3 234,215.7 227,207.1 214,193 198,177.9 181,163.4 143.7,133 127.7,119 113.7,105 102.9,92 96.8,83 91.2,73 86.7,63 83.3,53 80.4,42 78.1,30 76.3,16Z"/><path fill="#f2c643" d="M88.5,0 287,0 287,286 269.1,286 265.7,274 262.7,265 259,255.9 254.4,246 249,236 243,226.2 237,217.5 230,208.3 218,194.5 203,179.4 188,165.7 152.7,135 137.8,121 124.7,107 114.7,94 109,85 103.7,75 99.6,65 96.1,54 93.5,43 91.3,30 89.7,16Z"/><path fill="#f0bf41" d="M101.5,0 287,0 287,286 269.6,286 263.7,266 260.3,257 255.8,247 251,237.5 245.5,228 240,219.4 233,209.6 222,196.1 208,181.1 194,167.4 161.4,137 147.4,123 135.3,109 125.9,96 120.6,87 115.7,77 111.9,67 108.6,56 106,44 104,31 102.6,17Z"/><path fill="#efb83f" d="M113.9,0 287,0 287,286 270.1,286 264.5,266 257.3,248 252.4,238 247.5,229 242,219.9 236,211.1 225,196.7 212,181.9 199,168.3 170.6,140 157.6,126 146.1,112 137.3,99 131.7,89 127.2,79 123.6,69 120.6,58 118.2,46 116.4,33 114.9,18Z"/><path fill="#edb03e" d="M125.9,0 287,0 287,286 270.6,286 265.5,267 258.7,249 249.5,230 239,212.7 229,198.7 217,184 205,170.5 178.5,142 166.4,128 155.7,114 147.6,101 142.4,91 138.3,81 134.7,70 131.9,59 129.8,47 128,33 126.8,18Z"/><path fill="#eca93c" d="M137.4,0 287,0 287,286 271.1,286 266.2,267 260.1,250 252,232.2 242,214.5 233,200.9 222,186.3 211,173 186,144 174.8,130 165,116 157.4,103 152.7,93 148.8,83 145.5,72 143,61 141,49 139.4,35 138.2,19Z"/><path fill="#eba23a" d="M148.5,0 287,0 287,286 271.6,286 266.9,267 261.5,251 254,233.5 245,216.4 236,201.9 226,187.7 194,147 183.6,133 174.5,119 167.4,106 163,96 159.4,86 156.2,75 153.7,63 151.8,50 150.3,36Z"/><path fill="#e99a38" d="M159.2,0 287,0 287,286 272.2,286 267.7,267 263,252.3 256,235 247.7,218 240,204.6 231,190.7 200.9,149 191.4,135 183,121 176.5,108 172.5,98 168.9,87 166.1,76 163.9,64 162.1,51 160.9,37Z"/><path fill="#e79337" d="M169.6,0 287,0 287,286 272.7,286 268.7,268 264.6,254 258,236.5 250.5,220 243.6,207 235,192.5 208.2,152 199.4,138 191.7,124 185.7,111 181.9,101 178.6,90 175.9,78 173.8,66 172.2,53 171,38Z"/><path fill="#e68c35" d="M179.6,0 287,0 287,286 273.3,286 269.5,268 265.6,254 259.5,237 253,221.6 246.4,208 239,194.5 214.5,154 207.1,141 200,127 194.5,114 190.8,103 187.8,92 185.3,80 183.4,68 182,54 180.9,39Z"/><path fill="#e48434" d="M189.4,0 287,0 287,286 273.9,286 270.5,269 267.5,257 262.4,241 256,224.5 250.5,212 243.6,198 221.2,157 213.9,143 207.5,129 202.6,116 199.3,105 196.6,94 194.4,82 192.8,70 190.5,41Z"/><path fill="#e37d33" d="M198.8,0 287,0 287,286 274.5,286 271.4,269 268.5,257 263.7,241 258.3,226 253,212.9 247,199.5 221.4,147 215.6,133 211.1,120 208,109 205.6,98 203.5,86 201.9,73 199.8,43Z"/><path fill="#e17632" d="M207.9,0 287,0 287,286 275.2,286 272.4,270 269.8,258 265.7,243 261.1,229 251.6,204 228.1,150 222.9,136 218.9,123 216.2,112 213.8,100 212,88 210.6,75 208.8,44Z"/><path fill="#e06f31" d="M216.8,0 287,0 287,286 275.8,286 271.3,260 267.6,245 263.5,231 255.3,207 234.9,154 230.3,140 226.7,127 224.2,116 222.1,104 219.2,78 217.6,46Z"/><path fill="#de672f" d="M225.5,0 287,0 287,286 276.5,286 272.6,261 266.4,235 259,210.5 241.6,159 237.5,145 234.2,131 230.2,108 227.5,81 226.1,48Z"/><path fill="#dc5e2f" d="M233.9,0 287,0 287,286 277.3,286 273.7,261 268.8,238 262.5,214 247.7,163 244.2,149 241.3,135 237.8,111 235.6,84 234.4,50Z"/><path fill="#da552e" d="M242.1,0 287,0 287,286 278.1,286 275.4,264 271.4,242 266.5,220 254,169 248.5,141 245.4,116 243.5,88 242.5,53Z"/><path fill="#d94c2d" d="M250.1,0 287,0 287,286 278.9,286 276.6,264 273.8,246 269.7,224 260,176 255.4,147 252.8,122 251.2,93 250.4,57Z"/><path fill="#d7432c" d="M257.9,0 287,0 287,286 279.9,286 278.2,267 276.4,252 265.7,183 262,154 259.9,128 258.7,98 258.1,60Z"/><path fill="#d5392c" d="M265.5,0 287,0 287,286 280.9,286 278.7,256 271.1,191 268.5,163 267,136 266,105Z"/><path fill="#d3302b" d="M272.9,0 287,0 287,286 282.2,286 280.8,259 276.8,206 274.9,176 273.8,148 273.2,116Z"/><path fill="#d1272a" d="M280.1,0 287,0 287,286 283.8,286 283.4,263 281.1,196 280.3,132Z"/></svg><div class="cb" style="top:19px;background:linear-gradient(#d0222a,#de662f,#e99c38,#f4d146,#fdfb66,#fefdb0,#fbfce8,#eff3fd,#d1dbfa,#a4b8f6,#7491f2,#4f71f0,#2e4eee)"></div><div class="cb" style="top:335px;background:linear-gradient(#d0222a,#de662f,#e99c38,#f4d146,#fdfb66,#fefdb0,#fbfce8,#eff3fd,#d1dbfa,#a4b8f6,#7491f2,#4f71f0,#2e4eee)"></div><svg width="685" height="648" viewBox="0 0 685 648" fill="none" stroke="#222" stroke-width="1"><rect x="41.5" y="2" width="298" height="298.2"/><rect x="348.7" y="2" width="299" height="298.2"/><rect x="41.5" y="312.35" width="298" height="298.1"/><rect x="348.7" y="312.35" width="299" height="298.1"/><path d="M47.6 300.1v-4.6M76.2 300.1v-1.4M104.8 300.1v-4.6M133.3 300.1v-1.4M161.9 300.1v-4.6M190.5 300.1v-1.4M219.1 300.1v-4.6M247.7 300.1v-1.4M276.2 300.1v-4.6M304.8 300.1v-1.4M333.4 300.1v-4.6M41.5 7.9h1.5M41.5 21.8h1.5M41.5 39.6h1.5M41.5 64.8h1.5M41.5 107.9h4.6M41.5 114.4h1.5M41.5 121.7h1.5M41.5 130.0h1.5M41.5 139.6h1.5M41.5 150.9h1.5M41.5 164.8h1.5M41.5 182.6h1.5M41.5 207.8h1.5M41.5 250.9h4.6M41.5 257.4h1.5M41.5 264.7h1.5M41.5 273.0h1.5M41.5 282.6h1.5M41.5 293.9h1.5M47.6 610.5v-4.6M76.2 610.5v-1.4M104.8 610.5v-4.6M133.3 610.5v-1.4M161.9 610.5v-4.6M190.5 610.5v-1.4M219.1 610.5v-4.6M247.7 610.5v-1.4M276.2 610.5v-4.6M304.8 610.5v-1.4M333.4 610.5v-4.6M41.5 318.3h1.5M41.5 332.2h1.5M41.5 350.0h1.5M41.5 375.2h1.5M41.5 418.3h4.6M41.5 424.8h1.5M41.5 432.1h1.5M41.5 440.4h1.5M41.5 450.0h1.5M41.5 461.3h1.5M41.5 475.2h1.5M41.5 493.0h1.5M41.5 518.2h1.5M41.5 561.3h4.6M41.5 567.8h1.5M41.5 575.1h1.5M41.5 583.4h1.5M41.5 593.0h1.5M41.5 604.3h1.5M355.2 300.1v-4.6M383.9 300.1v-1.4M412.6 300.1v-4.6M441.2 300.1v-1.4M469.9 300.1v-4.6M498.6 300.1v-1.4M527.3 300.1v-4.6M556.0 300.1v-1.4M584.6 300.1v-4.6M613.3 300.1v-1.4M642.0 300.1v-4.6M348.7 7.9h1.5M348.7 21.8h1.5M348.7 39.6h1.5M348.7 64.8h1.5M348.7 107.9h4.6M348.7 114.4h1.5M348.7 121.7h1.5M348.7 130.0h1.5M348.7 139.6h1.5M348.7 150.9h1.5M348.7 164.8h1.5M348.7 182.6h1.5M348.7 207.8h1.5M348.7 250.9h4.6M348.7 257.4h1.5M348.7 264.7h1.5M348.7 273.0h1.5M348.7 282.6h1.5M348.7 293.9h1.5M355.2 610.5v-4.6M383.9 610.5v-1.4M412.6 610.5v-4.6M441.2 610.5v-1.4M469.9 610.5v-4.6M498.6 610.5v-1.4M527.3 610.5v-4.6M556.0 610.5v-1.4M584.6 610.5v-4.6M613.3 610.5v-1.4M642.0 610.5v-4.6M348.7 318.3h1.5M348.7 332.2h1.5M348.7 350.0h1.5M348.7 375.2h1.5M348.7 418.3h4.6M348.7 424.8h1.5M348.7 432.1h1.5M348.7 440.4h1.5M348.7 450.0h1.5M348.7 461.3h1.5M348.7 475.2h1.5M348.7 493.0h1.5M348.7 518.2h1.5M348.7 561.3h4.6M348.7 567.8h1.5M348.7 575.1h1.5M348.7 583.4h1.5M348.7 593.0h1.5M348.7 604.3h1.5"/><path d="M656.1 19 v280 M662.1 19 v280" stroke="#555" stroke-opacity=".35" stroke-width=".6"/><path d="M662.2 19.2h1.3M662.2 33.2h1.3M662.2 47.2h1.3M662.2 61.2h1.3M662.2 75.2h1.3M662.2 89.2h1.3M662.2 103.2h1.3M662.2 117.2h1.3M662.2 131.2h1.3M662.2 145.2h1.3M662.2 159.2h1.3M662.2 173.2h1.3M662.2 187.2h1.3M662.2 201.2h1.3M662.2 215.2h1.3M662.2 229.2h1.3M662.2 243.2h1.3M662.2 257.2h1.3M662.2 271.2h1.3M662.2 285.2h1.3M662.2 299.2h1.3" stroke="#888" stroke-opacity=".6" stroke-width=".7"/><path d="M656.1 335 v280 M662.1 335 v280" stroke="#555" stroke-opacity=".35" stroke-width=".6"/><path d="M662.2 335.2h1.3M662.2 349.2h1.3M662.2 363.2h1.3M662.2 377.2h1.3M662.2 391.2h1.3M662.2 405.2h1.3M662.2 419.2h1.3M662.2 433.2h1.3M662.2 447.2h1.3M662.2 461.2h1.3M662.2 475.2h1.3M662.2 489.2h1.3M662.2 503.2h1.3M662.2 517.2h1.3M662.2 531.2h1.3M662.2 545.2h1.3M662.2 559.2h1.3M662.2 573.2h1.3M662.2 587.2h1.3M662.2 601.2h1.3M662.2 615.2h1.3" stroke="#888" stroke-opacity=".6" stroke-width=".7"/><path d="M657 303.8h5M657 620.4h5.5" stroke="#333"/></svg><div class="t ti" style="left:247.3px;top:29.4px;transform:translateX(-50%)">Standard Osc.</div><div class="t ti" style="left:555.5px;top:29.2px;transform:translateX(-50%)">Atmospheric limit</div><div class="t ti" style="left:247.6px;top:340px;transform:translateX(-50%)">Solar limit I</div><div class="t ti" style="left:555.5px;top:340px;transform:translateX(-50%)">Solar limit II</div><div class="t tl" style="right:644.4px;top:102.4px">100</div><div class="t tl" style="right:644.4px;top:245.4px">10</div><div class="t ti" style="left:6.9px;top:150.2px;transform:translate(-50%,-50%) rotate(-90deg);color:#111">E (GeV)</div><div class="t tl" style="right:644.4px;top:412.75px">100</div><div class="t tl" style="right:644.4px;top:555.75px">10</div><div class="t ti" style="left:6.9px;top:460.55px;transform:translate(-50%,-50%) rotate(-90deg);color:#111">E (GeV)</div><div class="t tl" style="left:47.6px;top:614.3px;transform:translateX(-50%)">−1.</div><div class="t tl" style="left:104.76px;top:614.3px;transform:translateX(-50%)">−0.8</div><div class="t tl" style="left:161.92px;top:614.3px;transform:translateX(-50%)">−0.6</div><div class="t tl" style="left:219.08px;top:614.3px;transform:translateX(-50%)">−0.4</div><div class="t tl" style="left:276.24px;top:614.3px;transform:translateX(-50%)">−0.2</div><div class="t tl" style="left:334px;top:614.3px;transform:translateX(-50%)">0.0</div><div class="t ti" style="left:190.4px;top:632px;transform:translateX(-50%);color:#111">cos<i>θ</i><sub>z</sub></div><div class="t tl" style="left:355.2px;top:614.3px;transform:translateX(-50%)">−1.</div><div class="t tl" style="left:412.56px;top:614.3px;transform:translateX(-50%)">−0.8</div><div class="t tl" style="left:469.92px;top:614.3px;transform:translateX(-50%)">−0.6</div><div class="t tl" style="left:527.28px;top:614.3px;transform:translateX(-50%)">−0.4</div><div class="t tl" style="left:584.64px;top:614.3px;transform:translateX(-50%)">−0.2</div><div class="t tl" style="left:642px;top:614.3px;transform:translateX(-50%)">0.0</div><div class="t ti" style="left:498px;top:632px;transform:translateX(-50%);color:#111">cos<i>θ</i><sub>z</sub></div><div class="t tl" style="left:664.6px;top:13.4px">1.0</div><div class="t tl" style="left:664.6px;top:69.4px">0.8</div><div class="t tl" style="left:664.6px;top:125.4px">0.6</div><div class="t tl" style="left:664.6px;top:181.4px">0.4</div><div class="t tl" style="left:664.6px;top:237.4px">0.2</div><div class="t tl" style="left:664.6px;top:293.4px">0</div><div class="t tl" style="left:664.6px;top:329.4px">1.0</div><div class="t tl" style="left:664.6px;top:385.4px">0.8</div><div class="t tl" style="left:664.6px;top:441.4px">0.6</div><div class="t tl" style="left:664.6px;top:497.4px">0.4</div><div class="t tl" style="left:664.6px;top:553.4px">0.2</div><div class="t tl" style="left:664.6px;top:609.4px">0</div></body></html>
